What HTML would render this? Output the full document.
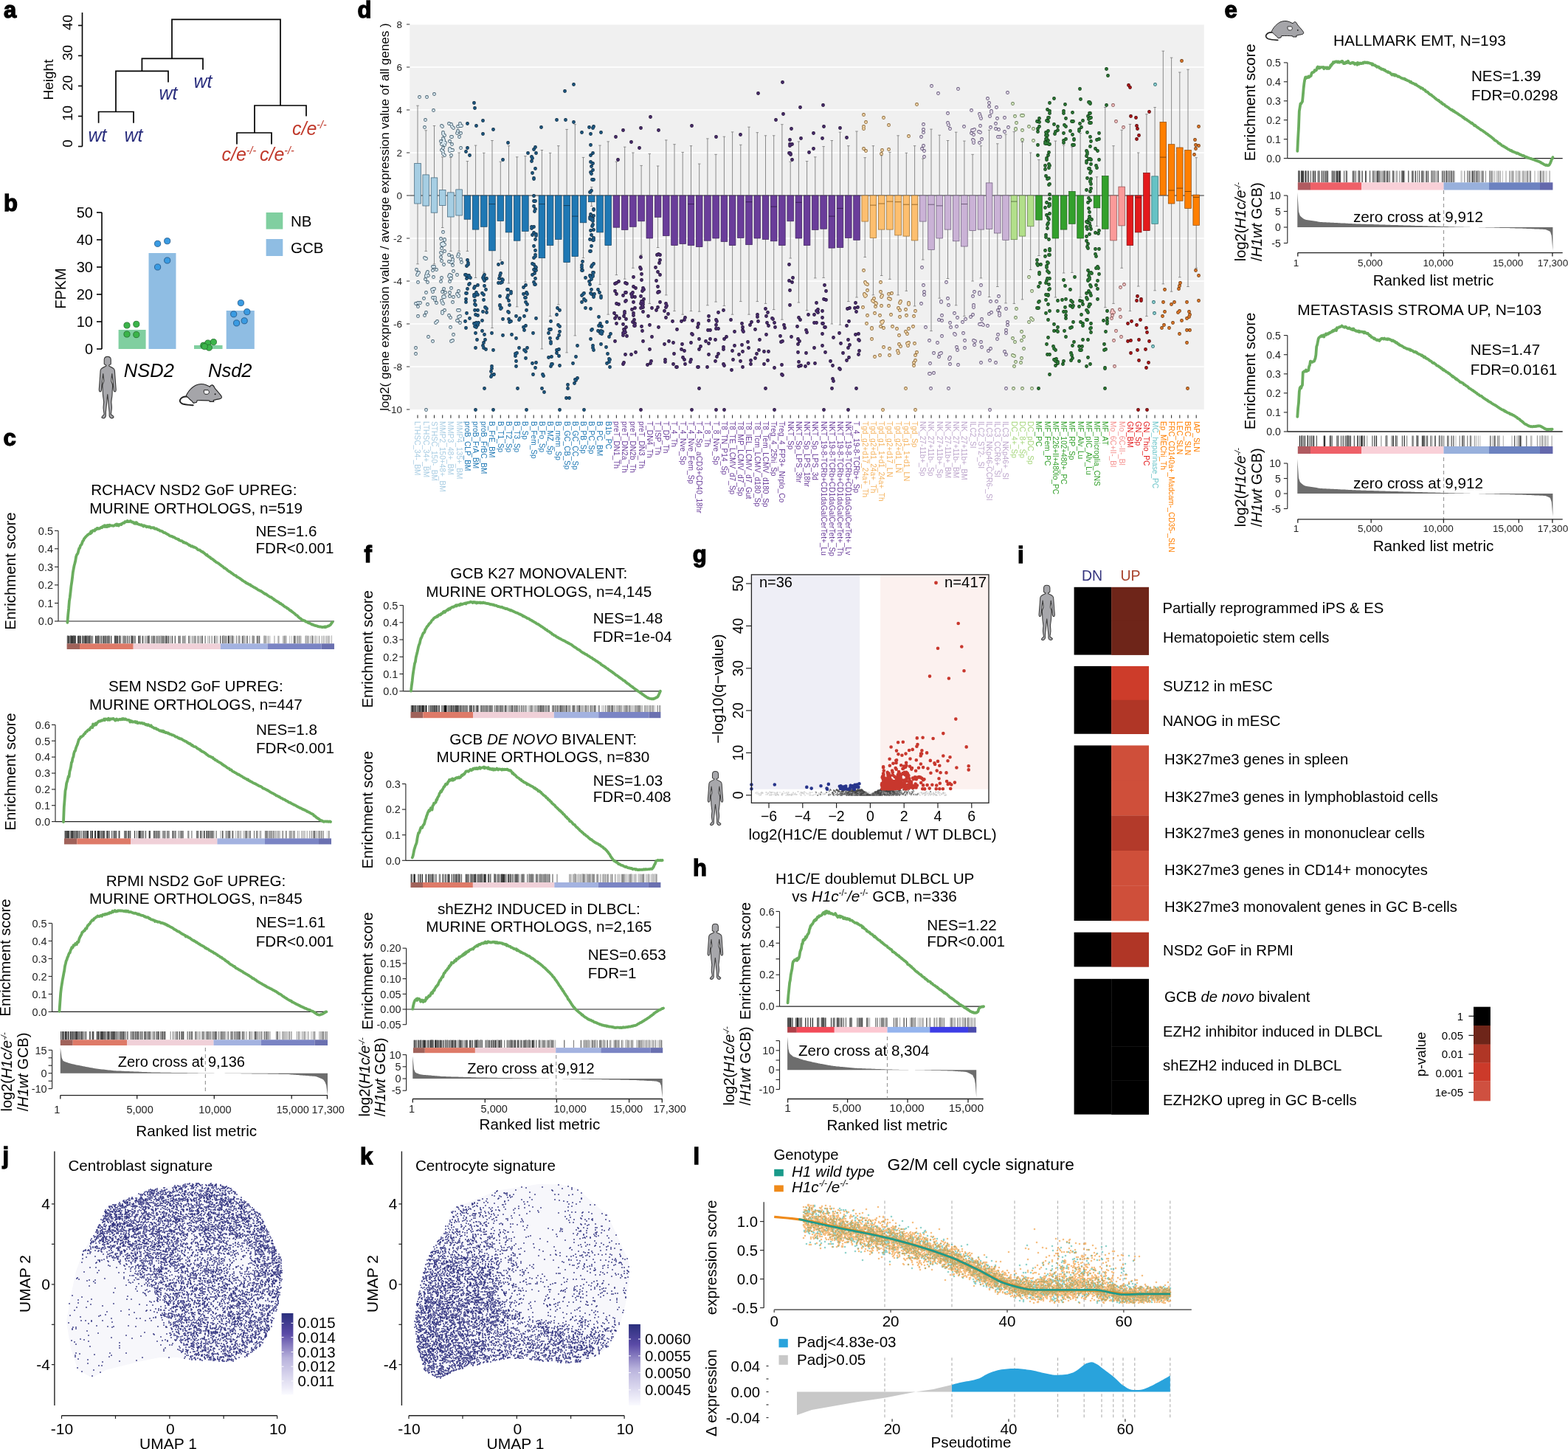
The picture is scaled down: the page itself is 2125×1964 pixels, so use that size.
<!DOCTYPE html>
<html><head><meta charset="utf-8"><title>Figure</title>
<style>
html,body{margin:0;padding:0;background:#fff;width:2125px;height:1964px;overflow:hidden}
svg{display:block}
text{font-family:"Liberation Sans",Arial,Helvetica,sans-serif}
.pl{font-size:31px;font-weight:bold;stroke:#000;stroke-width:1.3px;fill:#000}
</style></head><body>
<svg width="2125" height="1964" viewBox="0 0 2125 1964">
<rect width="2125" height="1964" fill="#fff"/>
<text x="5" y="24" class="pl">a</text>
<path d="M111.5 17L111.5 198.5" stroke="#000" stroke-width="1.6" />
<path d="M106 198.5L111.5 198.5" stroke="#000" stroke-width="1.6" />
<text transform="translate(97.8,194.5) rotate(-90)" font-size="19" text-anchor="middle">0</text>
<path d="M106 157.5L111.5 157.5" stroke="#000" stroke-width="1.6" />
<text transform="translate(97.8,153.5) rotate(-90)" font-size="19" text-anchor="middle">10</text>
<path d="M106 116.5L111.5 116.5" stroke="#000" stroke-width="1.6" />
<text transform="translate(97.8,112.5) rotate(-90)" font-size="19" text-anchor="middle">20</text>
<path d="M106 75.5L111.5 75.5" stroke="#000" stroke-width="1.6" />
<text transform="translate(97.8,71.5) rotate(-90)" font-size="19" text-anchor="middle">30</text>
<path d="M106 34.5L111.5 34.5" stroke="#000" stroke-width="1.6" />
<text transform="translate(97.8,30.5) rotate(-90)" font-size="19" text-anchor="middle">40</text>
<text transform="translate(71.5,108) rotate(-90)" font-size="19" text-anchor="middle">Height</text>
<path d="M233 79.4V26.4H380V143 M192.4 96.4V79.4H275V94.5 M157 151.5V96.4H228V111.5 M133.6 166.7V151.5H181V166.7 M345 180V143H415V157.6 M321 195.5V180H368V195.5" fill="none" stroke="#000" stroke-width="1.7" />
<text x="132" y="191.5" font-size="25" text-anchor="middle" fill="#2b2f7e" font-style="italic">wt</text>
<text x="181" y="191.5" font-size="25" text-anchor="middle" fill="#2b2f7e" font-style="italic">wt</text>
<text x="228" y="135" font-size="25" text-anchor="middle" fill="#2b2f7e" font-style="italic">wt</text>
<text x="275" y="118.5" font-size="25" text-anchor="middle" fill="#2b2f7e" font-style="italic">wt</text>
<text x="300.5" y="218" font-size="25" fill="#c0392b" font-style="italic">c/e<tspan dy="-9" font-size="14">-/-</tspan></text>
<text x="352" y="218" font-size="25" fill="#c0392b" font-style="italic">c/e<tspan dy="-9" font-size="14">-/-</tspan></text>
<text x="396" y="183" font-size="25" fill="#c0392b" font-style="italic">c/e<tspan dy="-9" font-size="14">-/-</tspan></text>
<text x="5" y="286" class="pl">b</text>
<path d="M138 288L138 473" stroke="#000" stroke-width="1.6" />
<path d="M131 473L138 473" stroke="#000" stroke-width="1.6" />
<text x="126" y="480" font-size="20" text-anchor="end">0</text>
<path d="M131 436L138 436" stroke="#000" stroke-width="1.6" />
<text x="126" y="443" font-size="20" text-anchor="end">10</text>
<path d="M131 399L138 399" stroke="#000" stroke-width="1.6" />
<text x="126" y="406" font-size="20" text-anchor="end">20</text>
<path d="M131 362L138 362" stroke="#000" stroke-width="1.6" />
<text x="126" y="369" font-size="20" text-anchor="end">30</text>
<path d="M131 325L138 325" stroke="#000" stroke-width="1.6" />
<text x="126" y="332" font-size="20" text-anchor="end">40</text>
<path d="M131 288L138 288" stroke="#000" stroke-width="1.6" />
<text x="126" y="295" font-size="20" text-anchor="end">50</text>
<text transform="translate(89,391) rotate(-90)" font-size="20" text-anchor="middle">FPKM</text>
<rect x="160.6" y="447" width="37" height="26" fill="#80cfa0" />
<rect x="201.5" y="343" width="37" height="130" fill="#8fbde3" />
<rect x="263" y="468" width="38.5" height="5" fill="#80cfa0" />
<rect x="306.7" y="421" width="38.1" height="52" fill="#8fbde3" />
<circle cx="172" cy="441" r="4.1" fill="#3bb44a" stroke="#1f6b2a" stroke-width="0.8"/><circle cx="184.8" cy="439.4" r="4.1" fill="#3bb44a" stroke="#1f6b2a" stroke-width="0.8"/><circle cx="172" cy="453" r="4.1" fill="#3bb44a" stroke="#1f6b2a" stroke-width="0.8"/><circle cx="184.8" cy="453.6" r="4.1" fill="#3bb44a" stroke="#1f6b2a" stroke-width="0.8"/><circle cx="275.8" cy="468.2" r="4.1" fill="#3bb44a" stroke="#1f6b2a" stroke-width="0.8"/><circle cx="281.8" cy="465" r="4.1" fill="#3bb44a" stroke="#1f6b2a" stroke-width="0.8"/><circle cx="289.4" cy="463.6" r="4.1" fill="#3bb44a" stroke="#1f6b2a" stroke-width="0.8"/><circle cx="283.3" cy="471.2" r="4.1" fill="#3bb44a" stroke="#1f6b2a" stroke-width="0.8"/><circle cx="277.3" cy="469.7" r="4.1" fill="#3bb44a" stroke="#1f6b2a" stroke-width="0.8"/><circle cx="213.6" cy="330.3" r="4.1" fill="#3a9be2" stroke="#1c4f80" stroke-width="0.8"/><circle cx="226.7" cy="326.7" r="4.1" fill="#3a9be2" stroke="#1c4f80" stroke-width="0.8"/><circle cx="226.7" cy="353" r="4.1" fill="#3a9be2" stroke="#1c4f80" stroke-width="0.8"/><circle cx="213.6" cy="362" r="4.1" fill="#3a9be2" stroke="#1c4f80" stroke-width="0.8"/><circle cx="326.4" cy="410.6" r="4.1" fill="#3a9be2" stroke="#1c4f80" stroke-width="0.8"/><circle cx="334.8" cy="422.7" r="4.1" fill="#3a9be2" stroke="#1c4f80" stroke-width="0.8"/><circle cx="316.7" cy="425.8" r="4.1" fill="#3a9be2" stroke="#1c4f80" stroke-width="0.8"/><circle cx="331.2" cy="434.8" r="4.1" fill="#3a9be2" stroke="#1c4f80" stroke-width="0.8"/><circle cx="320.6" cy="437.9" r="4.1" fill="#3a9be2" stroke="#1c4f80" stroke-width="0.8"/>
<rect x="360.6" y="288" width="22.7" height="22.6" fill="#80cfa0" />
<rect x="360.6" y="324" width="22.7" height="23" fill="#8fbde3" />
<text x="394" y="306.5" font-size="20.5">NB</text>
<text x="394" y="343" font-size="20.5">GCB</text>
<text x="167.8" y="510.5" font-size="25.5" font-style="italic">NSD2</text>
<text x="282" y="510.5" font-size="25.5" font-style="italic">Nsd2</text>
<path d="M12.3 0.3C15 0.3 17 1.6 17 4.6L17 10.4C16.2 11.2 15 11.7 14.3 12.1L14.5 13.4C16.5 14.4 19.5 15.3 21.2 17C21.9 17.8 22.3 18.8 22.4 19.8L23.5 35.1L24.3 45C24.4 46.6 23.7 48.3 22.9 48.3C22 48.3 21.2 47.2 21 46.1L20.1 35.1L18.6 23.6C18.2 27 17.6 31 17.6 34C18.5 36 19.6 38 19.5 40.6C19.3 44 18.9 48 18.9 51.6C18.8 55 17.8 59 17.6 62.6C17.8 65.5 18.3 68 18.2 70.8C18 74 17.2 77 17.1 79.1C18.5 80.5 20.5 81.5 21 82.6C20.6 84 19 84.6 17.6 84.4C16.4 84.2 15.3 83 14.8 81.3L14.8 76.3C14.4 72 13.8 67 13.4 62.6C13 58 12.6 54 12.3 51.6C12 54 11.6 58 11.2 62.6C10.8 67 10.2 72 9.8 76.3L9.8 81.3C9.3 83 8.2 84.4 6.7 84.5C5.4 84.5 3.8 84 4.2 82.9C4.8 81.5 6.6 80.3 7.5 79.1C7.4 77 6.6 74 6.4 70.8C6.3 68 6.8 65.5 7 62.6C6.8 59 5.8 55 5.7 51.6C5.7 48 5.3 44 5.1 40.6C5 38 6.1 36 7 34C7 31 6.4 27 6 23.6L4.5 35.1L3.6 46.1C3.4 47.2 2.6 48.3 1.7 48.3C0.9 48.3 0.2 46.6 0.3 45L1.1 35.1L2.2 19.8C2.3 18.8 2.7 17.8 3.4 17C5.1 15.3 8.1 14.4 10.1 13.4L10.3 12.1C9.6 11.7 8.4 11.2 7.6 10.4L7.6 4.6C7.6 1.6 9.6 0.3 12.3 0.3Z" fill="#a7a7ab" stroke="#3c3c3c" stroke-width="1.2" transform="translate(134,483) scale(0.9553,0.9929)"/>
<g transform="translate(243.2,520) scale(1.0000,1.0000)"><path d="M11 17.6C7 17.2 2.5 18.6 0.9 21.8C0 24 1.5 26.4 4.5 27.5C9 28.8 14 29 18.5 29.3" fill="none" stroke="#222" stroke-width="1.9" stroke-linecap="round"/><path d="M9 16.5C11 12 15 6 22 2.2C26 0.4 31 -0.2 36 1.8C38 2.8 40 3.8 41.2 4.2C41.8 2.6 43 1.8 44.2 1.9C45.6 2 46.6 3 47.6 5.6C50 9 54 12.6 56.6 16.6C57.4 17.8 57.4 19.4 56.2 20C54.5 20.8 52.5 21.2 50.5 21.4L46 22.6L46.6 24.4L41 24.4L40.6 23C36 22.8 30 22.4 24 22.8L23.2 25.4L19 26.4L17 23.8C15 22.5 13.4 21 12 19.2C11 18.2 9.6 17.4 9 16.5Z" fill="#a5a5a9" stroke="#222" stroke-width="1.1"/><path d="M33.4 8.7L38.9 8.7C39.8 9.8 40.4 11 40.2 12.1C39.8 13.6 38.5 14.4 37 14.4L34.4 14.2C33.6 13 33 11.8 33.1 11C33 10.2 33.1 9.4 33.4 8.7Z" fill="#f2f2f4" stroke="#222" stroke-width="1"/><circle cx="48.4" cy="14.3" r="0.95" fill="#111"/></g>
<text x="4.4" y="604" class="pl">c</text>
<text x="262.8" y="671" font-size="20.7" text-anchor="middle">RCHACV NSD2 GoF UPREG:</text>
<text x="265.7" y="696" font-size="20.7" text-anchor="middle">MURINE ORTHOLOGS, n=519</text>
<path d="M79 719.3L79 842" stroke="#222" stroke-width="1.1" />
<path d="M74 842L79 842" stroke="#222" stroke-width="1.1" />
<text x="72" y="847.2" font-size="14.5" text-anchor="end" fill="#222">0.0</text>
<path d="M74 817.5L79 817.5" stroke="#222" stroke-width="1.1" />
<text x="72" y="822.7" font-size="14.5" text-anchor="end" fill="#222">0.1</text>
<path d="M74 792.9L79 792.9" stroke="#222" stroke-width="1.1" />
<text x="72" y="798.1" font-size="14.5" text-anchor="end" fill="#222">0.2</text>
<path d="M74 768.4L79 768.4" stroke="#222" stroke-width="1.1" />
<text x="72" y="773.6" font-size="14.5" text-anchor="end" fill="#222">0.3</text>
<path d="M74 743.8L79 743.8" stroke="#222" stroke-width="1.1" />
<text x="72" y="749.1" font-size="14.5" text-anchor="end" fill="#222">0.4</text>
<path d="M74 719.3L79 719.3" stroke="#222" stroke-width="1.1" />
<text x="72" y="724.5" font-size="14.5" text-anchor="end" fill="#222">0.5</text>
<path d="M79 842L453 842" stroke="#222" stroke-width="1.2" />
<text transform="translate(21,774) rotate(-90)" font-size="20.5" text-anchor="middle">Enrichment score</text>
<path d="M91.4 843.9L92.2 833.5L93.1 825L93.9 814.7L94.7 810L95.6 802.3L96.4 794.8L97.3 788.7L98.1 782.4L98.9 775.3L99.8 770.6L100.6 766.4L101.4 763.5L102.3 759.7L103.1 754.6L104 752L104.8 751.1L105.6 749.6L106.5 745.9L107.3 743.2L108.1 742.8L109 739.6L109.8 738.7L110.7 737.7L111.5 735.2L112.3 733.2L113.2 732.4L114 730L114.8 729.4L115.7 728.1L116.5 727.5L117.3 726.3L118.2 725.8L119 724.8L119.9 724.4L120.7 723.7L121.5 723.2L122.4 723.4L123.2 720.4L124 722.1L124.9 720.3L125.7 719.1L126.6 719.4L127.4 719.2L128.2 719.5L129.1 717.5L129.9 718L130.7 717.5L131.6 715.8L132.4 715.8L133.3 716.8L134.1 716.5L134.9 716.4L135.8 715.7L136.6 715.2L137.4 714.7L138.3 715.2L139.1 713.5L139.9 713.7L140.8 713.8L141.6 712.2L142.5 714L143.3 712.4L144.1 712.7L145 714.1L145.8 712L146.6 712.1L147.5 713.4L148.3 711.6L149.2 711.9L150 712.5L150.8 712.4L151.7 712.4L152.5 712.3L153.3 712.8L154.2 712.6L155 712.3L155.9 711.5L156.7 711.4L157.5 710.6L158.4 712.2L159.2 710.6L160 712.1L160.9 712.6L161.7 710.8L162.6 710.9L163.4 710.7L164.2 711.1L165.1 709.7L165.9 709.7L166.7 708.9L167.6 708.6L168.4 708.9L169.2 707.2L170.1 707.4L170.9 707.1L171.8 707.2L172.6 705.9L173.4 707.1L174.3 706.8L175.1 707.1L175.9 706.8L176.8 706L177.6 706.7L178.5 707.7L179.3 707.5L180.1 707.7L181 708.9L181.8 709.3L182.6 708.5L183.5 709.8L184.3 708.1L185.2 708.4L186 710.1L186.8 709.9L187.7 710.6L188.5 710.9L189.3 710.9L190.2 711.6L191 711.6L191.8 711.1L192.7 712.2L193.5 712.4L194.4 713.4L195.2 712.2L196 712.9L196.9 712.9L197.7 713.3L198.5 714.3L199.4 713.9L200.2 713.7L201.1 714.1L201.9 714.6L202.7 714L203.6 714.5L204.4 715.5L205.2 715.4L206.1 715.2L206.9 715.2L207.8 715.6L208.6 715.3L209.4 716.6L210.3 716.6L211.1 716.8L211.9 716.5L212.8 717.1L213.6 717.9L214.4 718.2L215.3 718.2L216.1 719L217 719.6L217.8 719.3L218.6 719.8L219.5 720.1L220.3 720.4L221.1 721.5L222 721.8L222.8 722.2L223.7 722L224.5 722.5L225.3 723.3L226.2 723.6L227 724.2L227.8 724.3L228.7 725.2L229.5 726L230.4 726.3L231.2 726.7L232 726.6L232.9 727.3L233.7 727.2L234.5 728.1L235.4 728L236.2 728.4L237 728.8L237.9 729.7L238.7 729.9L239.6 730.3L240.4 730.3L241.2 731.1L242.1 731L242.9 732.4L243.7 732.3L244.6 732.8L245.4 733.2L246.3 733.1L247.1 733.6L247.9 734.4L248.8 735.4L249.6 734.9L250.4 735.5L251.3 736.1L252.1 736L253 736.4L253.8 737.2L254.6 737.7L255.5 738L256.3 739.1L257.1 738.9L258 739.5L258.8 740.3L259.6 740.7L260.5 740.1L261.3 740.9L262.2 741.7L263 741.4L263.8 741.9L264.7 742.2L265.5 742.7L266.3 743.2L267.2 744L268 744.8L268.9 745.4L269.7 745.4L270.5 745.3L271.4 746.4L272.2 746.8L273 747.5L273.9 747.9L274.7 748L275.6 749.2L276.4 749.1L277.2 750.1L278.1 751L278.9 751.6L279.7 752.5L280.6 752L281.4 753.4L282.3 754.1L283.1 754.4L283.9 755.3L284.8 755.4L285.6 756.6L286.4 757.1L287.3 757.3L288.1 758L288.9 758.7L289.8 759.2L290.6 760.2L291.5 760.6L292.3 761.5L293.1 762.1L294 762.3L294.8 762.9L295.6 763.3L296.5 763.9L297.3 764.5L298.2 765.4L299 765.7L299.8 766.6L300.7 767.2L301.5 767.6L302.3 768.3L303.2 769.3L304 770L304.9 770L305.7 770.7L306.5 771.3L307.4 771.9L308.2 773L309 773.4L309.9 774.1L310.7 774.8L311.5 774.9L312.4 775.5L313.2 776.2L314.1 777L314.9 777.3L315.7 778.1L316.6 778.8L317.4 779.4L318.2 779.8L319.1 780.1L319.9 780.4L320.8 781.7L321.6 782.1L322.4 782.3L323.3 783L324.1 783.5L324.9 783.8L325.8 784.8L326.6 785.1L327.5 785.8L328.3 786.6L329.1 786.9L330 787.6L330.8 788.1L331.6 788.5L332.5 789L333.3 790L334.1 790L335 790.9L335.8 790.8L336.7 791.7L337.5 792.1L338.3 792.4L339.2 792.4L340 793.9L340.8 793.8L341.7 794.3L342.5 795.1L343.4 795.5L344.2 796.1L345 796.4L345.9 796.6L346.7 797.7L347.5 797.7L348.4 798.5L349.2 799L350.1 799.7L350.9 799.8L351.7 800.3L352.6 800.8L353.4 800.9L354.2 801.7L355.1 802.1L355.9 802.6L356.7 803.4L357.6 803.8L358.4 804.7L359.3 805.2L360.1 804.9L360.9 805.9L361.8 806.1L362.6 807L363.4 807.4L364.3 808.1L365.1 808.5L366 809.2L366.8 809.4L367.6 809.5L368.5 810.3L369.3 810.9L370.1 811.5L371 812L371.8 813.1L372.7 813.2L373.5 814.1L374.3 814.3L375.2 815.2L376 815.2L376.8 816.1L377.7 816.2L378.5 817.2L379.3 818L380.2 817.8L381 818.5L381.9 819.3L382.7 819.8L383.5 820.1L384.4 821.2L385.2 821.6L386 822.4L386.9 822.8L387.7 823L388.6 823.7L389.4 824.7L390.2 824.7L391.1 825.5L391.9 826.3L392.7 827L393.6 827.5L394.4 827.6L395.3 829L396.1 829.2L396.9 829.9L397.8 830.6L398.6 831.2L399.4 831.8L400.3 832.6L401.1 833.7L402 833.8L402.8 834.3L403.6 835.6L404.5 836.2L405.3 837L406.1 837.8L407 838L407.8 838.8L408.6 839.4L409.5 840.1L410.3 840.6L411.2 840.7L412 841L412.8 841.6L413.7 841.7L414.5 842.7L415.3 842.7L416.2 843.1L417 843.4L417.9 844.3L418.7 844.4L419.5 844.7L420.4 845.2L421.2 845.5L422 846L422.9 846.5L423.7 846.5L424.6 847L425.4 847.3L426.2 847.7L427.1 847.9L427.9 848.1L428.7 848.2L429.6 848.7L430.4 848.6L431.2 849.2L432.1 849.3L432.9 849.5L433.8 849.5L434.6 849.6L435.4 849.7L436.3 850.2L437.1 850L437.9 850L438.8 849.7L439.6 850.1L440.5 849.3L441.3 850.1L442.1 849.6L443 849.4L443.8 848.8L444.6 848.5L445.5 848.5L446.3 847.9L447.2 847.4L448 846.7L448.8 845.6L449.7 844L450.5 843.3" fill="none" stroke="#6aad5e" stroke-width="3.8" stroke-linejoin="round" stroke-linecap="round"/>
<text x="346.5" y="726.7" font-size="20.6">NES=1.6</text>
<text x="346.5" y="749.5" font-size="20.6">FDR&lt;0.001</text>
<path d="M91.9 861.7V872.3M92.3 861.7V872.3M95.5 861.7V872.3M96.2 861.7V872.3M96.7 861.7V872.3M97.5 861.7V872.3M99.5 861.7V872.3M100.3 861.7V872.3M100.7 861.7V872.3M101.6 861.7V872.3M101.7 861.7V872.3M122.1 861.7V872.3M132.6 861.7V872.3M137 861.7V872.3M143.6 861.7V872.3M155.5 861.7V872.3M168.1 861.7V872.3M178.1 861.7V872.3M188.4 861.7V872.3M193.6 861.7V872.3M201.2 861.7V872.3M309.5 861.7V872.3" stroke="rgb(16,16,16)" stroke-width="1.1"/>
<path d="M106.6 861.7V872.3M108.3 861.7V872.3M115.9 861.7V872.3M123.9 861.7V872.3M129.7 861.7V872.3M150.7 861.7V872.3M158.3 861.7V872.3M162.8 861.7V872.3M162.8 861.7V872.3M179.6 861.7V872.3M220.9 861.7V872.3M233.3 861.7V872.3M310.1 861.7V872.3" stroke="rgb(32,32,32)" stroke-width="1.1"/>
<path d="M96.8 861.7V872.3M97.2 861.7V872.3M98.4 861.7V872.3M99.3 861.7V872.3M100.1 861.7V872.3M101.2 861.7V872.3M102.6 861.7V872.3M105.6 861.7V872.3M111.8 861.7V872.3M116.3 861.7V872.3M121.3 861.7V872.3M122 861.7V872.3M130.2 861.7V872.3M133.1 861.7V872.3M159.7 861.7V872.3M162.1 861.7V872.3M170.4 861.7V872.3M177.5 861.7V872.3M202.3 861.7V872.3M209.2 861.7V872.3M242.2 861.7V872.3M251.4 861.7V872.3M301.8 861.7V872.3M343.1 861.7V872.3" stroke="rgb(48,48,48)" stroke-width="1.1"/>
<path d="M93.6 861.7V872.3M95.2 861.7V872.3M97.8 861.7V872.3M99.9 861.7V872.3M108.2 861.7V872.3M115.4 861.7V872.3M116.2 861.7V872.3M117.6 861.7V872.3M119 861.7V872.3M122.2 861.7V872.3M133.8 861.7V872.3M140 861.7V872.3M140.6 861.7V872.3M145.3 861.7V872.3M147.2 861.7V872.3M156.7 861.7V872.3M179.2 861.7V872.3M190.3 861.7V872.3M218.1 861.7V872.3M237.3 861.7V872.3M274.2 861.7V872.3M290.6 861.7V872.3M314.7 861.7V872.3M320.4 861.7V872.3M329.8 861.7V872.3" stroke="rgb(64,64,64)" stroke-width="1.1"/>
<path d="M91.6 861.7V872.3M92.1 861.7V872.3M95.3 861.7V872.3M112.1 861.7V872.3M113.8 861.7V872.3M119.2 861.7V872.3M120.9 861.7V872.3M155.7 861.7V872.3M156.9 861.7V872.3M168.3 861.7V872.3M175.3 861.7V872.3M187.8 861.7V872.3M207.1 861.7V872.3M211.8 861.7V872.3M224.3 861.7V872.3M225.5 861.7V872.3M228.5 861.7V872.3M247.8 861.7V872.3M264.9 861.7V872.3M342.4 861.7V872.3M348.3 861.7V872.3M351.7 861.7V872.3M358.2 861.7V872.3M414.7 861.7V872.3M417.2 861.7V872.3M422.6 861.7V872.3" stroke="rgb(80,80,80)" stroke-width="1.1"/>
<path d="M91.3 861.7V872.3M91.6 861.7V872.3M95.7 861.7V872.3M99.8 861.7V872.3M107 861.7V872.3M107.2 861.7V872.3M109.5 861.7V872.3M111.7 861.7V872.3M114.2 861.7V872.3M118.2 861.7V872.3M120.1 861.7V872.3M134.2 861.7V872.3M142.1 861.7V872.3M147.2 861.7V872.3M148.4 861.7V872.3M158 861.7V872.3M162.9 861.7V872.3M173 861.7V872.3M189.1 861.7V872.3M200 861.7V872.3M202 861.7V872.3M218.6 861.7V872.3M224.7 861.7V872.3M262.9 861.7V872.3M274.2 861.7V872.3M278.1 861.7V872.3M292.7 861.7V872.3M298.5 861.7V872.3M302.2 861.7V872.3M311.8 861.7V872.3M314.7 861.7V872.3M315.2 861.7V872.3M328.3 861.7V872.3M330.4 861.7V872.3M335.4 861.7V872.3M349.8 861.7V872.3M385.7 861.7V872.3M399.2 861.7V872.3M403.6 861.7V872.3M423.3 861.7V872.3M423.9 861.7V872.3M438.9 861.7V872.3" stroke="rgb(96,96,96)" stroke-width="1.1"/>
<path d="M102 861.7V872.3M131.8 861.7V872.3M133.5 861.7V872.3M141.7 861.7V872.3M146.2 861.7V872.3M147.8 861.7V872.3M172.7 861.7V872.3M182 861.7V872.3M196.8 861.7V872.3M205.2 861.7V872.3M208.3 861.7V872.3M214.9 861.7V872.3M219.9 861.7V872.3M222.4 861.7V872.3M226.3 861.7V872.3M244.2 861.7V872.3M249.6 861.7V872.3M249.7 861.7V872.3M255.6 861.7V872.3M267.9 861.7V872.3M272 861.7V872.3M298.9 861.7V872.3M306.5 861.7V872.3M313 861.7V872.3M315.1 861.7V872.3M323.9 861.7V872.3M360.7 861.7V872.3M398.3 861.7V872.3M398.9 861.7V872.3M449.4 861.7V872.3" stroke="rgb(112,112,112)" stroke-width="1.1"/>
<path d="M118.2 861.7V872.3M125.6 861.7V872.3M138.1 861.7V872.3M161.6 861.7V872.3M165.7 861.7V872.3M180.9 861.7V872.3M183.5 861.7V872.3M190.8 861.7V872.3M202.5 861.7V872.3M213.6 861.7V872.3M216.4 861.7V872.3M230.7 861.7V872.3M244.1 861.7V872.3M260.5 861.7V872.3M302.9 861.7V872.3M303.7 861.7V872.3M323.8 861.7V872.3M324.9 861.7V872.3M377.1 861.7V872.3M387.7 861.7V872.3M406.4 861.7V872.3M415.2 861.7V872.3M446 861.7V872.3" stroke="rgb(128,128,128)" stroke-width="1.1"/>
<path d="M142.8 861.7V872.3M177.6 861.7V872.3M181.9 861.7V872.3M199 861.7V872.3M227.2 861.7V872.3M256.7 861.7V872.3M269.6 861.7V872.3M283.8 861.7V872.3M284 861.7V872.3M302.6 861.7V872.3M304.4 861.7V872.3M311 861.7V872.3M311.4 861.7V872.3M331.2 861.7V872.3M344.7 861.7V872.3M359.4 861.7V872.3M363.4 861.7V872.3M385.1 861.7V872.3M387.1 861.7V872.3M423.2 861.7V872.3M432.5 861.7V872.3" stroke="rgb(144,144,144)" stroke-width="1.1"/>
<path d="M122.7 861.7V872.3M139.3 861.7V872.3M251.5 861.7V872.3M257.2 861.7V872.3M287.5 861.7V872.3M292.4 861.7V872.3M295 861.7V872.3M303.7 861.7V872.3M303.8 861.7V872.3M313.2 861.7V872.3M316.9 861.7V872.3M324.2 861.7V872.3M331.2 861.7V872.3M334.7 861.7V872.3M338.5 861.7V872.3M341.9 861.7V872.3M343.1 861.7V872.3M358.1 861.7V872.3M400.6 861.7V872.3M405.2 861.7V872.3M406.7 861.7V872.3M427.4 861.7V872.3M436.3 861.7V872.3M443 861.7V872.3" stroke="rgb(160,160,160)" stroke-width="1.1"/>
<path d="M135.8 861.7V872.3M165.6 861.7V872.3M190.1 861.7V872.3M215 861.7V872.3M281.7 861.7V872.3M303.1 861.7V872.3M305.4 861.7V872.3M308.6 861.7V872.3M320.8 861.7V872.3M333.2 861.7V872.3M350.3 861.7V872.3M358.1 861.7V872.3M365.6 861.7V872.3M371.8 861.7V872.3M383.6 861.7V872.3M408 861.7V872.3M413.9 861.7V872.3M418 861.7V872.3M420.4 861.7V872.3M427.6 861.7V872.3M429.6 861.7V872.3M444.8 861.7V872.3" stroke="rgb(176,176,176)" stroke-width="1.1"/>
<path d="M286.6 861.7V872.3M308.3 861.7V872.3M313.9 861.7V872.3M359.9 861.7V872.3M386.7 861.7V872.3M392.6 861.7V872.3M395.2 861.7V872.3M395.3 861.7V872.3M416.3 861.7V872.3M441.6 861.7V872.3M446 861.7V872.3M449.6 861.7V872.3" stroke="rgb(192,192,192)" stroke-width="1.1"/>
<path d="M217.8 861.7V872.3M258.2 861.7V872.3M312 861.7V872.3M322.8 861.7V872.3M330.4 861.7V872.3M372.3 861.7V872.3M378.6 861.7V872.3M401.5 861.7V872.3M402.8 861.7V872.3M402.8 861.7V872.3M415.1 861.7V872.3M422.1 861.7V872.3M426.3 861.7V872.3M439 861.7V872.3M443.6 861.7V872.3M449.1 861.7V872.3" stroke="rgb(208,208,208)" stroke-width="1.1"/>
<rect x="90.6" y="872.3" width="17.4" height="7.7" fill="#a0625a" />
<rect x="108" y="872.3" width="72.7" height="7.7" fill="#de7a68" />
<rect x="180.7" y="872.3" width="118.1" height="7.7" fill="#f0d0d8" />
<rect x="298.8" y="872.3" width="63.8" height="7.7" fill="#a3b2e0" />
<rect x="362.6" y="872.3" width="73" height="7.7" fill="#7a84c4" />
<rect x="435.6" y="872.3" width="17.4" height="7.7" fill="#6a70b0" />
<text x="265.4" y="937" font-size="20.7" text-anchor="middle">SEM NSD2 GoF UPREG:</text>
<text x="265.4" y="962" font-size="20.7" text-anchor="middle">MURINE ORTHOLOGS, n=447</text>
<path d="M75 982.4L75 1113.6" stroke="#222" stroke-width="1.1" />
<path d="M70 1113.6L75 1113.6" stroke="#222" stroke-width="1.1" />
<text x="68" y="1118.8" font-size="14.5" text-anchor="end" fill="#222">0.0</text>
<path d="M70 1091.7L75 1091.7" stroke="#222" stroke-width="1.1" />
<text x="68" y="1097" font-size="14.5" text-anchor="end" fill="#222">0.1</text>
<path d="M70 1069.9L75 1069.9" stroke="#222" stroke-width="1.1" />
<text x="68" y="1075.1" font-size="14.5" text-anchor="end" fill="#222">0.2</text>
<path d="M70 1048L75 1048" stroke="#222" stroke-width="1.1" />
<text x="68" y="1053.2" font-size="14.5" text-anchor="end" fill="#222">0.3</text>
<path d="M70 1026.1L75 1026.1" stroke="#222" stroke-width="1.1" />
<text x="68" y="1031.3" font-size="14.5" text-anchor="end" fill="#222">0.4</text>
<path d="M70 1004.2L75 1004.2" stroke="#222" stroke-width="1.1" />
<text x="68" y="1009.5" font-size="14.5" text-anchor="end" fill="#222">0.5</text>
<path d="M70 982.4L75 982.4" stroke="#222" stroke-width="1.1" />
<text x="68" y="987.6" font-size="14.5" text-anchor="end" fill="#222">0.6</text>
<path d="M75 1113.6L448 1113.6" stroke="#222" stroke-width="1.2" />
<text transform="translate(21,1046) rotate(-90)" font-size="20.5" text-anchor="middle">Enrichment score</text>
<path d="M86 1114.1L86.8 1093.8L87.7 1082.8L88.5 1071.9L89.3 1068.5L90.2 1061.5L91 1059.4L91.9 1056.1L92.7 1052.3L93.5 1052.9L94.4 1045.8L95.2 1043L96 1039.7L96.9 1033.6L97.7 1032.4L98.5 1027.7L99.4 1025.8L100.2 1021.2L101 1018.4L101.9 1017.9L102.7 1014.7L103.6 1012L104.4 1010.3L105.2 1008.2L106.1 1004.9L106.9 1002.4L107.7 1001.6L108.6 1000.2L109.4 998.7L110.2 999L111.1 998.1L111.9 997.6L112.8 996.9L113.6 995.5L114.4 994.7L115.3 994.1L116.1 992.4L116.9 991.8L117.8 991.5L118.6 990.1L119.4 989.4L120.3 988.9L121.1 989.3L121.9 987.7L122.8 986.4L123.6 985.5L124.5 985.1L125.3 986.2L126.1 981.4L127 983.6L127.8 982.7L128.6 982.6L129.5 980.4L130.3 982.2L131.1 980.7L132 979.4L132.8 978.9L133.7 977.7L134.5 977.8L135.3 977.2L136.2 977.5L137 976.8L137.8 976.2L138.7 976.6L139.5 976.3L140.3 975.9L141.2 974.6L142 976.2L142.8 974.6L143.7 974.5L144.5 975L145.4 975.3L146.2 975.8L147 973.8L147.9 975.7L148.7 975.8L149.5 974.4L150.4 974.6L151.2 974.4L152 974.5L152.9 974.1L153.7 974L154.6 975.1L155.4 975.5L156.2 976.6L157.1 975L157.9 974.5L158.7 975.9L159.6 975.5L160.4 976L161.2 975.5L162.1 974.8L162.9 974.9L163.8 975.5L164.6 975L165.4 974.2L166.3 975.2L167.1 974L167.9 974.6L168.8 975.1L169.6 974.4L170.4 974.6L171.3 975.5L172.1 975.7L172.9 975.8L173.8 975.9L174.6 975.9L175.5 976.3L176.3 978.5L177.1 976.9L178 978.2L178.8 977.4L179.6 978.6L180.5 978.7L181.3 978.5L182.1 978.2L183 978L183.8 979.3L184.7 978.4L185.5 978.5L186.3 980L187.2 980.1L188 979.6L188.8 979.7L189.7 979.6L190.5 980.3L191.3 980L192.2 979.7L193 980.3L193.8 980.9L194.7 980.3L195.5 980.7L196.4 981.4L197.2 982.3L198 981.9L198.9 982.1L199.7 983.1L200.5 982.1L201.4 982.5L202.2 983.5L203 984L203.9 984.1L204.7 983.2L205.6 985.1L206.4 985.5L207.2 985.6L208.1 986.4L208.9 987.1L209.7 987L210.6 987.1L211.4 987.1L212.2 988.4L213.1 988.5L213.9 988.9L214.7 989.1L215.6 990L216.4 990.5L217.3 990.7L218.1 990.3L218.9 991.4L219.8 991.4L220.6 990.6L221.4 992L222.3 991.3L223.1 991.9L223.9 993L224.8 993.1L225.6 992.9L226.5 993.2L227.3 993.9L228.1 993.5L229 994.6L229.8 994.7L230.6 995.4L231.5 995.4L232.3 995.4L233.1 996.3L234 996.4L234.8 996.4L235.6 996.9L236.5 997.3L237.3 998.1L238.2 998.7L239 998.8L239.8 998.8L240.7 999.5L241.5 1000.2L242.3 1000.8L243.2 1000.5L244 1001.3L244.8 1001.5L245.7 1001.3L246.5 1002L247.4 1002.7L248.2 1003.2L249 1003.6L249.9 1004L250.7 1004.7L251.5 1004.7L252.4 1005L253.2 1006.1L254 1006.2L254.9 1007.1L255.7 1007.1L256.5 1008.2L257.4 1007.9L258.2 1008.4L259.1 1009.5L259.9 1010.3L260.7 1010L261.6 1011.2L262.4 1011.7L263.2 1012L264.1 1012.2L264.9 1012.1L265.7 1012.8L266.6 1013.6L267.4 1014.5L268.3 1014.8L269.1 1015.2L269.9 1015.9L270.8 1015.9L271.6 1017.1L272.4 1017.2L273.3 1018.4L274.1 1018.6L274.9 1018.9L275.8 1019.5L276.6 1019.7L277.5 1020.7L278.3 1020.9L279.1 1021.7L280 1022.6L280.8 1022.9L281.6 1023.5L282.5 1024.6L283.3 1024.6L284.1 1025.3L285 1025.4L285.8 1025.7L286.6 1026.6L287.5 1026.7L288.3 1026.7L289.2 1028.3L290 1028.7L290.8 1028.9L291.7 1030.1L292.5 1030.3L293.3 1030.7L294.2 1031.1L295 1032.2L295.8 1032.3L296.7 1032.9L297.5 1033.4L298.4 1033.9L299.2 1034.2L300 1035L300.9 1035.5L301.7 1036.5L302.5 1036.5L303.4 1037.6L304.2 1037.9L305 1038.3L305.9 1039L306.7 1039.6L307.5 1040.2L308.4 1040.9L309.2 1041.3L310.1 1041.4L310.9 1042.2L311.7 1043.3L312.6 1043.4L313.4 1043.3L314.2 1044.5L315.1 1045.4L315.9 1045.8L316.7 1046L317.6 1046.6L318.4 1047.2L319.3 1047.5L320.1 1047.9L320.9 1048.9L321.8 1048.9L322.6 1049.8L323.4 1049.6L324.3 1050.3L325.1 1050.7L325.9 1051.5L326.8 1051.8L327.6 1052.2L328.4 1052.6L329.3 1053.4L330.1 1054L331 1054.1L331.8 1054.9L332.6 1055.2L333.5 1055.5L334.3 1056.2L335.1 1056.9L336 1056.4L336.8 1057.6L337.6 1058.3L338.5 1058.3L339.3 1059L340.2 1059.5L341 1059.8L341.8 1060.2L342.7 1060.9L343.5 1061.3L344.3 1061.5L345.2 1062.1L346 1062.1L346.8 1062.8L347.7 1063.3L348.5 1063.7L349.3 1064L350.2 1064.9L351 1065.1L351.9 1065.6L352.7 1065.6L353.5 1066.2L354.4 1066.7L355.2 1067.2L356 1068.1L356.9 1068.7L357.7 1068.7L358.5 1069.2L359.4 1069.5L360.2 1069.9L361.1 1070.6L361.9 1070.8L362.7 1071.1L363.6 1072L364.4 1072.2L365.2 1072.8L366.1 1073.3L366.9 1073.9L367.7 1074.3L368.6 1074.8L369.4 1075L370.2 1075.5L371.1 1076.1L371.9 1076.5L372.8 1077L373.6 1077.5L374.4 1078.3L375.3 1078.3L376.1 1078.9L376.9 1079.3L377.8 1080L378.6 1080L379.4 1080.4L380.3 1081.4L381.1 1081.7L382 1082.1L382.8 1082.3L383.6 1083.2L384.5 1083.5L385.3 1083.7L386.1 1084.2L387 1084.6L387.8 1085.5L388.6 1085.7L389.5 1085.9L390.3 1086.5L391.2 1087.3L392 1087.6L392.8 1087.8L393.7 1088.1L394.5 1088.7L395.3 1089.3L396.2 1089.6L397 1090L397.8 1090.6L398.7 1090.9L399.5 1091.2L400.3 1091.6L401.2 1092.1L402 1092.6L402.9 1093.2L403.7 1093.6L404.5 1093.8L405.4 1094.6L406.2 1094.6L407 1095.4L407.9 1095.4L408.7 1095.9L409.5 1096.6L410.4 1097L411.2 1097L412.1 1097.6L412.9 1097.8L413.7 1098.4L414.6 1098.9L415.4 1099.1L416.2 1100L417.1 1100.2L417.9 1100.6L418.7 1100.8L419.6 1101.3L420.4 1101.9L421.2 1102.4L422.1 1102.9L422.9 1103.1L423.8 1103.6L424.6 1104.1L425.4 1105.4L426.3 1105.8L427.1 1106.5L427.9 1106.9L428.8 1108L429.6 1108.4L430.4 1109L431.3 1109.5L432.1 1109.9L433 1110.9L433.8 1111.4L434.6 1111.9L435.5 1112.1L436.3 1112.3L437.1 1112.8L438 1113.5L438.8 1113.9L439.6 1113.5L440.5 1113.5L441.3 1113.3L442.1 1113.4L443 1113.7L443.8 1113.4L444.7 1113.6L445.5 1113.8L446.3 1113.6L447.2 1113.4L448 1113.9" fill="none" stroke="#6aad5e" stroke-width="3.8" stroke-linejoin="round" stroke-linecap="round"/>
<text x="347" y="996" font-size="20.6">NES=1.8</text>
<text x="347" y="1021" font-size="20.6">FDR&lt;0.001</text>
<path d="M88.3 1126V1136.4M88.9 1126V1136.4M89.5 1126V1136.4M91.4 1126V1136.4M101.2 1126V1136.4M105 1126V1136.4M114.1 1126V1136.4M118.3 1126V1136.4M119.4 1126V1136.4M123.7 1126V1136.4M128.7 1126V1136.4M132.5 1126V1136.4M134 1126V1136.4M138.5 1126V1136.4M140.9 1126V1136.4M141.2 1126V1136.4M145.9 1126V1136.4M173.6 1126V1136.4M189.1 1126V1136.4M190 1126V1136.4M191.8 1126V1136.4M202.3 1126V1136.4M210.1 1126V1136.4M211.9 1126V1136.4M214.3 1126V1136.4M234.5 1126V1136.4M237.9 1126V1136.4M425.1 1126V1136.4M438.4 1126V1136.4" stroke="rgb(16,16,16)" stroke-width="1.1"/>
<path d="M93.6 1126V1136.4M96.9 1126V1136.4M97.8 1126V1136.4M98.4 1126V1136.4M107.8 1126V1136.4M116.1 1126V1136.4M125.5 1126V1136.4M129.7 1126V1136.4M133.5 1126V1136.4M154.6 1126V1136.4M168.9 1126V1136.4M227.3 1126V1136.4M287.6 1126V1136.4M348.2 1126V1136.4M362.1 1126V1136.4" stroke="rgb(32,32,32)" stroke-width="1.1"/>
<path d="M92.8 1126V1136.4M103.9 1126V1136.4M116.3 1126V1136.4M134.2 1126V1136.4M135.9 1126V1136.4M137.6 1126V1136.4M140.3 1126V1136.4M146.6 1126V1136.4M157.7 1126V1136.4M171.1 1126V1136.4M176.7 1126V1136.4M182.6 1126V1136.4M187.9 1126V1136.4M191.6 1126V1136.4M193.5 1126V1136.4M193.9 1126V1136.4M197.1 1126V1136.4M212.3 1126V1136.4M214.5 1126V1136.4M222.5 1126V1136.4M255.9 1126V1136.4M280.4 1126V1136.4M282.7 1126V1136.4" stroke="rgb(48,48,48)" stroke-width="1.1"/>
<path d="M102.2 1126V1136.4M117.7 1126V1136.4M118.2 1126V1136.4M118.8 1126V1136.4M123.6 1126V1136.4M124.7 1126V1136.4M128.6 1126V1136.4M145 1126V1136.4M151.7 1126V1136.4M156.8 1126V1136.4M202.5 1126V1136.4M221 1126V1136.4M245.3 1126V1136.4M245.8 1126V1136.4M276.5 1126V1136.4M277.1 1126V1136.4M283.7 1126V1136.4M301.4 1126V1136.4M310 1126V1136.4M310.3 1126V1136.4M310.5 1126V1136.4M315.4 1126V1136.4" stroke="rgb(64,64,64)" stroke-width="1.1"/>
<path d="M96 1126V1136.4M98.2 1126V1136.4M103.7 1126V1136.4M110.1 1126V1136.4M122.7 1126V1136.4M134.1 1126V1136.4M137.6 1126V1136.4M140 1126V1136.4M154.2 1126V1136.4M161.1 1126V1136.4M162 1126V1136.4M170.4 1126V1136.4M173.9 1126V1136.4M193.9 1126V1136.4M208.4 1126V1136.4M211.9 1126V1136.4M285.6 1126V1136.4M286.1 1126V1136.4M322.6 1126V1136.4M333.3 1126V1136.4M334.8 1126V1136.4" stroke="rgb(80,80,80)" stroke-width="1.1"/>
<path d="M99.4 1126V1136.4M100.9 1126V1136.4M123.5 1126V1136.4M140 1126V1136.4M145.5 1126V1136.4M148.5 1126V1136.4M157.5 1126V1136.4M174.1 1126V1136.4M203.5 1126V1136.4M215.8 1126V1136.4M223.5 1126V1136.4M233.9 1126V1136.4M247.1 1126V1136.4M268.8 1126V1136.4M271.6 1126V1136.4M272.6 1126V1136.4M279.8 1126V1136.4M306.2 1126V1136.4M339.3 1126V1136.4M363.9 1126V1136.4M365.9 1126V1136.4M368.6 1126V1136.4M370.7 1126V1136.4M374.2 1126V1136.4M383 1126V1136.4M388 1126V1136.4M399 1126V1136.4M426.8 1126V1136.4" stroke="rgb(96,96,96)" stroke-width="1.1"/>
<path d="M88.4 1126V1136.4M90.3 1126V1136.4M95.7 1126V1136.4M100.9 1126V1136.4M112.5 1126V1136.4M155.3 1126V1136.4M157.5 1126V1136.4M175.8 1126V1136.4M176 1126V1136.4M197.7 1126V1136.4M209 1126V1136.4M222.8 1126V1136.4M235 1126V1136.4M245.7 1126V1136.4M248.2 1126V1136.4M259.9 1126V1136.4M267.4 1126V1136.4M288.8 1126V1136.4M302.1 1126V1136.4M315.1 1126V1136.4M337.9 1126V1136.4M344.5 1126V1136.4M353.3 1126V1136.4M360.5 1126V1136.4M379 1126V1136.4M383.4 1126V1136.4M392.3 1126V1136.4M429.5 1126V1136.4M445.6 1126V1136.4" stroke="rgb(112,112,112)" stroke-width="1.1"/>
<path d="M88.1 1126V1136.4M101.8 1126V1136.4M103 1126V1136.4M114.1 1126V1136.4M144 1126V1136.4M185.4 1126V1136.4M223.6 1126V1136.4M229.2 1126V1136.4M254.8 1126V1136.4M266.4 1126V1136.4M274 1126V1136.4M293.1 1126V1136.4M293.3 1126V1136.4M309.4 1126V1136.4M312 1126V1136.4M333 1126V1136.4M367 1126V1136.4M368.5 1126V1136.4M393 1126V1136.4M394.5 1126V1136.4M427.2 1126V1136.4M431.9 1126V1136.4M433.3 1126V1136.4M435.3 1126V1136.4M435.5 1126V1136.4" stroke="rgb(128,128,128)" stroke-width="1.1"/>
<path d="M106.7 1126V1136.4M115.1 1126V1136.4M124.1 1126V1136.4M193.3 1126V1136.4M196.6 1126V1136.4M215 1126V1136.4M216.2 1126V1136.4M216.7 1126V1136.4M227.9 1126V1136.4M228.2 1126V1136.4M236.7 1126V1136.4M237.9 1126V1136.4M243.1 1126V1136.4M281.3 1126V1136.4M289.3 1126V1136.4M306.9 1126V1136.4M308 1126V1136.4M326.2 1126V1136.4M330.9 1126V1136.4M332.9 1126V1136.4M359.3 1126V1136.4M363.3 1126V1136.4M376.5 1126V1136.4M387.3 1126V1136.4M397.2 1126V1136.4M422.5 1126V1136.4M429.3 1126V1136.4M435.8 1126V1136.4" stroke="rgb(144,144,144)" stroke-width="1.1"/>
<path d="M116.9 1126V1136.4M138.2 1126V1136.4M191.7 1126V1136.4M223 1126V1136.4M223.2 1126V1136.4M226.4 1126V1136.4M241.6 1126V1136.4M244.7 1126V1136.4M256 1126V1136.4M281.9 1126V1136.4M287 1126V1136.4M307.6 1126V1136.4M309.3 1126V1136.4M311.5 1126V1136.4M319.8 1126V1136.4M372.2 1126V1136.4M383.4 1126V1136.4M395 1126V1136.4M398.4 1126V1136.4M403.6 1126V1136.4M408.9 1126V1136.4M411.1 1126V1136.4M416.2 1126V1136.4M446 1126V1136.4" stroke="rgb(160,160,160)" stroke-width="1.1"/>
<path d="M196.6 1126V1136.4M224.6 1126V1136.4M298.9 1126V1136.4M324.7 1126V1136.4M326.6 1126V1136.4M351.1 1126V1136.4M392.9 1126V1136.4M419.5 1126V1136.4M436.4 1126V1136.4" stroke="rgb(176,176,176)" stroke-width="1.1"/>
<path d="M211.4 1126V1136.4M219.9 1126V1136.4M273.4 1126V1136.4M305.9 1126V1136.4M377.5 1126V1136.4M405.7 1126V1136.4M409.1 1126V1136.4M409.1 1126V1136.4M412.2 1126V1136.4M413.4 1126V1136.4M427.7 1126V1136.4M429.7 1126V1136.4M438.2 1126V1136.4" stroke="rgb(192,192,192)" stroke-width="1.1"/>
<path d="M256.6 1126V1136.4M290.6 1126V1136.4M316.7 1126V1136.4M329.6 1126V1136.4M330.4 1126V1136.4M336.2 1126V1136.4M363.3 1126V1136.4M373.9 1126V1136.4M378.8 1126V1136.4M384.2 1126V1136.4M412.1 1126V1136.4M420.7 1126V1136.4M424.1 1126V1136.4M443.5 1126V1136.4" stroke="rgb(208,208,208)" stroke-width="1.1"/>
<rect x="87" y="1136.4" width="17.4" height="8" fill="#a0625a" />
<rect x="104.4" y="1136.4" width="72.6" height="8" fill="#de7a68" />
<rect x="177" y="1136.4" width="117.4" height="8" fill="#f0d0d8" />
<rect x="294.4" y="1136.4" width="64.6" height="8" fill="#a3b2e0" />
<rect x="359" y="1136.4" width="73" height="8" fill="#7a84c4" />
<rect x="432" y="1136.4" width="17" height="8" fill="#6a70b0" />
<text x="265.5" y="1200.7" font-size="20.7" text-anchor="middle">RPMI NSD2 GoF UPREG:</text>
<text x="265.4" y="1225.4" font-size="20.7" text-anchor="middle">MURINE ORTHOLOGS, n=845</text>
<path d="M70.6 1251.4L70.6 1371.4" stroke="#222" stroke-width="1.1" />
<path d="M65.6 1371.4L70.6 1371.4" stroke="#222" stroke-width="1.1" />
<text x="63.6" y="1376.6" font-size="14.5" text-anchor="end" fill="#222">0.0</text>
<path d="M65.6 1347.4L70.6 1347.4" stroke="#222" stroke-width="1.1" />
<text x="63.6" y="1352.6" font-size="14.5" text-anchor="end" fill="#222">0.1</text>
<path d="M65.6 1323.4L70.6 1323.4" stroke="#222" stroke-width="1.1" />
<text x="63.6" y="1328.6" font-size="14.5" text-anchor="end" fill="#222">0.2</text>
<path d="M65.6 1299.4L70.6 1299.4" stroke="#222" stroke-width="1.1" />
<text x="63.6" y="1304.6" font-size="14.5" text-anchor="end" fill="#222">0.3</text>
<path d="M65.6 1275.4L70.6 1275.4" stroke="#222" stroke-width="1.1" />
<text x="63.6" y="1280.6" font-size="14.5" text-anchor="end" fill="#222">0.4</text>
<path d="M65.6 1251.4L70.6 1251.4" stroke="#222" stroke-width="1.1" />
<text x="63.6" y="1256.6" font-size="14.5" text-anchor="end" fill="#222">0.5</text>
<path d="M70.6 1371.4L444 1371.4" stroke="#222" stroke-width="1.2" />
<text transform="translate(14,1298) rotate(-90)" font-size="20.5" text-anchor="middle">Enrichment score</text>
<path d="M80.5 1370.8L81.3 1359L82.2 1346.4L83 1339.2L83.8 1334.2L84.7 1328.5L85.5 1324.4L86.4 1319.4L87.2 1315.5L88 1309.4L88.9 1306L89.7 1302.4L90.5 1301L91.4 1297.8L92.2 1296.5L93 1293.9L93.9 1291.8L94.7 1291.5L95.5 1288.6L96.4 1286.5L97.2 1284.3L98.1 1284.8L98.9 1283.6L99.7 1281.2L100.6 1281.3L101.4 1281L102.2 1279L103.1 1279.4L103.9 1280L104.7 1276.9L105.6 1277.4L106.4 1276.7L107.2 1272.9L108.1 1270.8L108.9 1269.2L109.8 1267.6L110.6 1266.2L111.4 1263.7L112.3 1263.1L113.1 1262.6L113.9 1261.3L114.8 1261.3L115.6 1259.3L116.4 1258.3L117.3 1258.6L118.1 1256.2L118.9 1254.5L119.8 1254L120.6 1252.7L121.5 1252.2L122.3 1250.9L123.1 1249.4L124 1248.4L124.8 1247.3L125.6 1247.6L126.5 1247.2L127.3 1245.2L128.1 1245L129 1244.4L129.8 1243.4L130.6 1243L131.5 1242.7L132.3 1241.5L133.2 1241.8L134 1242.2L134.8 1242.2L135.7 1241.3L136.5 1240.9L137.3 1241.2L138.2 1241.8L139 1239.9L139.8 1239.7L140.7 1239.7L141.5 1240L142.3 1239L143.2 1239.5L144 1238.6L144.9 1239.1L145.7 1238.4L146.5 1238.1L147.4 1238.4L148.2 1237.1L149 1237L149.9 1237.4L150.7 1237.1L151.5 1236.5L152.4 1235L153.2 1236.2L154.1 1235.7L154.9 1235.1L155.7 1234.1L156.6 1235.3L157.4 1235.6L158.2 1234.9L159.1 1235.2L159.9 1234.3L160.7 1234.7L161.6 1234.3L162.4 1234.2L163.2 1234.6L164.1 1234.4L164.9 1234.5L165.8 1234.5L166.6 1234.8L167.4 1234.9L168.3 1235.2L169.1 1234.6L169.9 1235.4L170.8 1234.6L171.6 1235.5L172.4 1235.6L173.3 1234.7L174.1 1235.6L174.9 1236.3L175.8 1236.2L176.6 1236L177.5 1236.2L178.3 1236.7L179.1 1236.8L180 1237.3L180.8 1237.3L181.6 1237.8L182.5 1237.8L183.3 1237.6L184.1 1237.8L185 1238.3L185.8 1238.9L186.6 1238.7L187.5 1239.6L188.3 1239L189.2 1239.8L190 1239.8L190.8 1240.5L191.7 1240.8L192.5 1240.9L193.3 1240.8L194.2 1241.2L195 1241.6L195.8 1242.5L196.7 1242.2L197.5 1243L198.3 1243.5L199.2 1243.2L200 1243.7L200.9 1243.4L201.7 1244.4L202.5 1245.2L203.4 1245L204.2 1245.8L205 1246.3L205.9 1246.5L206.7 1246.6L207.5 1247.2L208.4 1247.2L209.2 1247.6L210 1248.9L210.9 1248.3L211.7 1248.5L212.6 1249.1L213.4 1249.4L214.2 1249.8L215.1 1249.5L215.9 1249.7L216.7 1249.9L217.6 1250.7L218.4 1251.1L219.2 1250.7L220.1 1251.1L220.9 1251.5L221.7 1251.5L222.6 1252L223.4 1252.7L224.3 1252.4L225.1 1253.3L225.9 1253.9L226.8 1253.7L227.6 1254.8L228.4 1254.9L229.3 1255.2L230.1 1256L230.9 1256.3L231.8 1256.7L232.6 1257.1L233.5 1257.5L234.3 1258.1L235.1 1258.7L236 1259.4L236.8 1259.7L237.6 1260.3L238.5 1260.6L239.3 1261.4L240.1 1261.7L241 1262.5L241.8 1262.7L242.6 1262.7L243.5 1263.6L244.3 1264L245.2 1264.9L246 1265.1L246.8 1265.8L247.7 1266.3L248.5 1266.4L249.3 1267L250.2 1267.6L251 1267.8L251.8 1269.5L252.7 1269.2L253.5 1269.2L254.3 1269.7L255.2 1270.6L256 1271L256.9 1271.2L257.7 1271.7L258.5 1272.6L259.4 1273L260.2 1273.7L261 1274.1L261.9 1274.9L262.7 1274.6L263.5 1275.8L264.4 1275.9L265.2 1276.4L266 1277.4L266.9 1277.2L267.7 1278.1L268.6 1278.6L269.4 1279.4L270.2 1279.3L271.1 1280.3L271.9 1280.8L272.7 1281.2L273.6 1281.7L274.4 1282.2L275.2 1282.4L276.1 1283.1L276.9 1283.3L277.7 1284.5L278.6 1285L279.4 1284.9L280.3 1286L281.1 1286.2L281.9 1286.4L282.8 1287.1L283.6 1287.9L284.4 1288.2L285.3 1288.5L286.1 1289.4L286.9 1289.7L287.8 1290.1L288.6 1290.4L289.4 1291.3L290.3 1291.9L291.1 1292L292 1292.7L292.8 1293.2L293.6 1293.8L294.5 1294L295.3 1295.2L296.1 1295.4L297 1296L297.8 1296.3L298.6 1297.4L299.5 1297.6L300.3 1297.7L301.2 1298.9L302 1299.2L302.8 1299.6L303.7 1300.4L304.5 1300.8L305.3 1301.8L306.2 1302.4L307 1302.6L307.8 1303.6L308.7 1304.3L309.5 1304.2L310.3 1305.6L311.2 1306.1L312 1306.7L312.9 1307.4L313.7 1307.7L314.5 1308.1L315.4 1308.9L316.2 1309.4L317 1310.1L317.9 1310L318.7 1311L319.5 1312.1L320.4 1312.2L321.2 1312.8L322 1313.2L322.9 1313.6L323.7 1314.3L324.6 1314.8L325.4 1315.1L326.2 1315.6L327.1 1316.3L327.9 1316.5L328.7 1316.9L329.6 1317.8L330.4 1318.3L331.2 1318.5L332.1 1319.4L332.9 1319.8L333.7 1320.2L334.6 1320.5L335.4 1321.3L336.3 1321.5L337.1 1322.2L337.9 1322.6L338.8 1323.5L339.6 1323.8L340.4 1324.3L341.3 1325L342.1 1325.9L342.9 1326.2L343.8 1326.2L344.6 1327.1L345.4 1327.7L346.3 1328.1L347.1 1328.6L348 1329.6L348.8 1330L349.6 1330.6L350.5 1331L351.3 1331.6L352.1 1332.1L353 1332.5L353.8 1333L354.6 1333.3L355.5 1333.9L356.3 1334.5L357.1 1334.8L358 1335.5L358.8 1335.7L359.7 1336.5L360.5 1336.5L361.3 1337.3L362.2 1337.9L363 1338.3L363.8 1338.4L364.7 1339.2L365.5 1339.4L366.3 1339.9L367.2 1340.3L368 1340.4L368.8 1341.3L369.7 1341.7L370.5 1342.2L371.4 1342.4L372.2 1343.1L373 1343.4L373.9 1343.8L374.7 1344.3L375.5 1345L376.4 1345.4L377.2 1346.3L378 1346.7L378.9 1347.3L379.7 1347.6L380.6 1348L381.4 1348.5L382.2 1349.3L383.1 1350.1L383.9 1350.7L384.7 1350.8L385.6 1351.7L386.4 1352.3L387.2 1352.5L388.1 1353.3L388.9 1353.7L389.7 1354.4L390.6 1354.9L391.4 1355.3L392.3 1355.8L393.1 1356.2L393.9 1356.8L394.8 1356.7L395.6 1357.8L396.4 1358.4L397.3 1358.4L398.1 1359L398.9 1359.6L399.8 1359.8L400.6 1360.3L401.4 1360.8L402.3 1361.4L403.1 1361.4L404 1362.1L404.8 1362.6L405.6 1362.7L406.5 1363.3L407.3 1363.9L408.1 1364.1L409 1364.5L409.8 1365.1L410.6 1365.2L411.5 1365.6L412.3 1366.2L413.1 1366.7L414 1366.6L414.8 1367.1L415.7 1367.5L416.5 1368L417.3 1368.2L418.2 1368.4L419 1368.9L419.8 1368.8L420.7 1369.5L421.5 1370L422.3 1370.4L423.2 1370.7L424 1370.7L424.8 1371.6L425.7 1371.9L426.5 1372.5L427.4 1373.3L428.2 1373.3L429 1374.5L429.9 1374.8L430.7 1375.2L431.5 1375.3L432.4 1375.6L433.2 1375.6L434 1375.4L434.9 1374.9L435.7 1374.9L436.5 1374.5L437.4 1374.2L438.2 1373.7L439.1 1373.2L439.9 1372.7L440.7 1372L441.6 1371.5L442.4 1371.4" fill="none" stroke="#6aad5e" stroke-width="3.8" stroke-linejoin="round" stroke-linecap="round"/>
<text x="346.7" y="1256.6" font-size="20.6">NES=1.61</text>
<text x="346.7" y="1282.5" font-size="20.6">FDR&lt;0.001</text>
<path d="M84.5 1398V1409.3M85.7 1398V1409.3M86.4 1398V1409.3M88.4 1398V1409.3M88.6 1398V1409.3M90.1 1398V1409.3M92.6 1398V1409.3M95.4 1398V1409.3M98 1398V1409.3M100.1 1398V1409.3M102.3 1398V1409.3M103.4 1398V1409.3M107.2 1398V1409.3M109.3 1398V1409.3M126.3 1398V1409.3M131.2 1398V1409.3M133.5 1398V1409.3M142.5 1398V1409.3M147.3 1398V1409.3M154.3 1398V1409.3M168 1398V1409.3M187.2 1398V1409.3M196.3 1398V1409.3" stroke="rgb(16,16,16)" stroke-width="1.1"/>
<path d="M82.6 1398V1409.3M85.4 1398V1409.3M111.1 1398V1409.3M116.4 1398V1409.3M121.7 1398V1409.3M132.1 1398V1409.3M142.9 1398V1409.3M145.3 1398V1409.3M151.8 1398V1409.3M153.3 1398V1409.3M155.4 1398V1409.3M167.2 1398V1409.3M183.5 1398V1409.3M320.8 1398V1409.3" stroke="rgb(32,32,32)" stroke-width="1.1"/>
<path d="M83.1 1398V1409.3M85.2 1398V1409.3M86.5 1398V1409.3M92.2 1398V1409.3M104.9 1398V1409.3M125.2 1398V1409.3M136.8 1398V1409.3M137.6 1398V1409.3M139.4 1398V1409.3M142.7 1398V1409.3M159 1398V1409.3M173 1398V1409.3M181.3 1398V1409.3M187.2 1398V1409.3M189.9 1398V1409.3M220.2 1398V1409.3M222.4 1398V1409.3M259.6 1398V1409.3M291.8 1398V1409.3M329.4 1398V1409.3M379.2 1398V1409.3" stroke="rgb(48,48,48)" stroke-width="1.1"/>
<path d="M84.4 1398V1409.3M84.9 1398V1409.3M98.1 1398V1409.3M100 1398V1409.3M102.1 1398V1409.3M102.1 1398V1409.3M102.8 1398V1409.3M122.1 1398V1409.3M126.4 1398V1409.3M126.8 1398V1409.3M131.5 1398V1409.3M138.2 1398V1409.3M138.9 1398V1409.3M146.2 1398V1409.3M148 1398V1409.3M151 1398V1409.3M153.7 1398V1409.3M164 1398V1409.3M165.8 1398V1409.3M185 1398V1409.3M201.3 1398V1409.3M204.2 1398V1409.3M214.1 1398V1409.3M217.9 1398V1409.3M248.3 1398V1409.3M248.5 1398V1409.3M260.3 1398V1409.3M280.7 1398V1409.3M280.9 1398V1409.3M299.4 1398V1409.3M319.8 1398V1409.3M323 1398V1409.3M346.5 1398V1409.3" stroke="rgb(64,64,64)" stroke-width="1.1"/>
<path d="M89.3 1398V1409.3M90.1 1398V1409.3M93 1398V1409.3M102.7 1398V1409.3M104.7 1398V1409.3M110.8 1398V1409.3M112 1398V1409.3M114.1 1398V1409.3M139.8 1398V1409.3M141.5 1398V1409.3M149.7 1398V1409.3M157.6 1398V1409.3M164 1398V1409.3M166.1 1398V1409.3M197 1398V1409.3M199.3 1398V1409.3M208.3 1398V1409.3M209.5 1398V1409.3M214.2 1398V1409.3M220.4 1398V1409.3M223.4 1398V1409.3M240 1398V1409.3M243.4 1398V1409.3M257.2 1398V1409.3M285 1398V1409.3M292 1398V1409.3M324.3 1398V1409.3M358.2 1398V1409.3M376.2 1398V1409.3" stroke="rgb(80,80,80)" stroke-width="1.1"/>
<path d="M83.4 1398V1409.3M96.3 1398V1409.3M100.4 1398V1409.3M105.7 1398V1409.3M105.7 1398V1409.3M126.1 1398V1409.3M145.5 1398V1409.3M152.8 1398V1409.3M202.4 1398V1409.3M208.1 1398V1409.3M214.4 1398V1409.3M215.3 1398V1409.3M240.3 1398V1409.3M246.2 1398V1409.3M247 1398V1409.3M275.6 1398V1409.3M282.7 1398V1409.3M300 1398V1409.3M302 1398V1409.3M315.1 1398V1409.3M319.2 1398V1409.3M321.6 1398V1409.3M348.1 1398V1409.3M360.7 1398V1409.3M361.2 1398V1409.3M412.9 1398V1409.3M434.9 1398V1409.3" stroke="rgb(96,96,96)" stroke-width="1.1"/>
<path d="M97.7 1398V1409.3M109.9 1398V1409.3M111.8 1398V1409.3M121.9 1398V1409.3M140.7 1398V1409.3M142.2 1398V1409.3M155.1 1398V1409.3M157.1 1398V1409.3M160.9 1398V1409.3M167 1398V1409.3M170.6 1398V1409.3M178.3 1398V1409.3M180 1398V1409.3M181.2 1398V1409.3M183.2 1398V1409.3M191.9 1398V1409.3M193.1 1398V1409.3M199.4 1398V1409.3M219.4 1398V1409.3M234.5 1398V1409.3M243 1398V1409.3M245.8 1398V1409.3M245.9 1398V1409.3M260 1398V1409.3M264.6 1398V1409.3M265.7 1398V1409.3M265.8 1398V1409.3M274.1 1398V1409.3M293.5 1398V1409.3M304.1 1398V1409.3M309.3 1398V1409.3M313.1 1398V1409.3M314.1 1398V1409.3M317.5 1398V1409.3M325.4 1398V1409.3M331.3 1398V1409.3M338.4 1398V1409.3M354.9 1398V1409.3M360.9 1398V1409.3M363.2 1398V1409.3M375.2 1398V1409.3M417.4 1398V1409.3M425.3 1398V1409.3M437.1 1398V1409.3M438.3 1398V1409.3" stroke="rgb(112,112,112)" stroke-width="1.1"/>
<path d="M85.8 1398V1409.3M99.6 1398V1409.3M157.6 1398V1409.3M162.4 1398V1409.3M165.6 1398V1409.3M168.5 1398V1409.3M169 1398V1409.3M176.8 1398V1409.3M179.2 1398V1409.3M181.2 1398V1409.3M185.8 1398V1409.3M197.4 1398V1409.3M237.1 1398V1409.3M237.4 1398V1409.3M238.5 1398V1409.3M254.4 1398V1409.3M256.9 1398V1409.3M259.2 1398V1409.3M269.3 1398V1409.3M289.6 1398V1409.3M296 1398V1409.3M301.6 1398V1409.3M313.4 1398V1409.3M323.6 1398V1409.3M345.4 1398V1409.3M351.2 1398V1409.3M443.1 1398V1409.3" stroke="rgb(128,128,128)" stroke-width="1.1"/>
<path d="M135.5 1398V1409.3M142.7 1398V1409.3M156.7 1398V1409.3M158.4 1398V1409.3M192 1398V1409.3M195.4 1398V1409.3M211.6 1398V1409.3M212.5 1398V1409.3M219.2 1398V1409.3M222 1398V1409.3M231.2 1398V1409.3M254.6 1398V1409.3M267 1398V1409.3M271 1398V1409.3M287.1 1398V1409.3M288.5 1398V1409.3M289.7 1398V1409.3M296.9 1398V1409.3M303.2 1398V1409.3M305.2 1398V1409.3M309.8 1398V1409.3M313 1398V1409.3M328.2 1398V1409.3M331.2 1398V1409.3M334 1398V1409.3M340.2 1398V1409.3M348.6 1398V1409.3M353.3 1398V1409.3M365.9 1398V1409.3M382.9 1398V1409.3M384.3 1398V1409.3M386.8 1398V1409.3M388.9 1398V1409.3M392.6 1398V1409.3M404.5 1398V1409.3M412.7 1398V1409.3M433.7 1398V1409.3M437.3 1398V1409.3M440.6 1398V1409.3" stroke="rgb(144,144,144)" stroke-width="1.1"/>
<path d="M134.3 1398V1409.3M149.5 1398V1409.3M159.6 1398V1409.3M170.1 1398V1409.3M204.1 1398V1409.3M238.1 1398V1409.3M265.1 1398V1409.3M277.3 1398V1409.3M290.1 1398V1409.3M321 1398V1409.3M328.1 1398V1409.3M328.7 1398V1409.3M344.7 1398V1409.3M350 1398V1409.3M360 1398V1409.3M362.8 1398V1409.3M364.4 1398V1409.3M374.3 1398V1409.3M384.9 1398V1409.3M391.2 1398V1409.3M394.7 1398V1409.3M395 1398V1409.3M402.4 1398V1409.3M406.1 1398V1409.3M406.2 1398V1409.3M409.4 1398V1409.3M426.3 1398V1409.3M443 1398V1409.3" stroke="rgb(160,160,160)" stroke-width="1.1"/>
<path d="M224.3 1398V1409.3M253.6 1398V1409.3M273.5 1398V1409.3M279.1 1398V1409.3M283.4 1398V1409.3M307.7 1398V1409.3M383.4 1398V1409.3M384.5 1398V1409.3M384.7 1398V1409.3M394.8 1398V1409.3M411.3 1398V1409.3M433.8 1398V1409.3" stroke="rgb(176,176,176)" stroke-width="1.1"/>
<path d="M130.8 1398V1409.3M206.4 1398V1409.3M208.8 1398V1409.3M269.5 1398V1409.3M320.2 1398V1409.3M327.6 1398V1409.3M337.4 1398V1409.3M379.7 1398V1409.3M414.5 1398V1409.3M417.2 1398V1409.3M417.2 1398V1409.3M418.3 1398V1409.3M423.1 1398V1409.3M427.2 1398V1409.3M441.6 1398V1409.3" stroke="rgb(192,192,192)" stroke-width="1.1"/>
<path d="M83.4 1398V1409.3M238 1398V1409.3M250 1398V1409.3M287.3 1398V1409.3M295.4 1398V1409.3M295.5 1398V1409.3M330.6 1398V1409.3M341.4 1398V1409.3M342.5 1398V1409.3M350.1 1398V1409.3M365 1398V1409.3M378.2 1398V1409.3M379.6 1398V1409.3M413.4 1398V1409.3M421.5 1398V1409.3M432.1 1398V1409.3M434.3 1398V1409.3" stroke="rgb(208,208,208)" stroke-width="1.1"/>
<rect x="81.8" y="1409.3" width="16.9" height="7.7" fill="#a0625a" />
<rect x="98.7" y="1409.3" width="73.3" height="7.7" fill="#de7a68" />
<rect x="172" y="1409.3" width="117.5" height="7.7" fill="#f0d0d8" />
<rect x="289.5" y="1409.3" width="64.2" height="7.7" fill="#a3b2e0" />
<rect x="353.7" y="1409.3" width="72.7" height="7.7" fill="#7a84c4" />
<rect x="426.4" y="1409.3" width="17.6" height="7.7" fill="#6a70b0" />
<path d="M70.6 1423.3L70.6 1475.6" stroke="#222" stroke-width="1.1" />
<path d="M65.6 1423.3L70.6 1423.3" stroke="#222" stroke-width="1.1" />
<text x="63.6" y="1428.5" font-size="14.5" text-anchor="end" fill="#222">15</text>
<path d="M65.6 1433.8L70.6 1433.8" stroke="#222" stroke-width="1.1" />
<path d="M65.6 1444.2L70.6 1444.2" stroke="#222" stroke-width="1.1" />
<path d="M65.6 1454.7L70.6 1454.7" stroke="#222" stroke-width="1.1" />
<text x="63.6" y="1459.9" font-size="14.5" text-anchor="end" fill="#222">0</text>
<path d="M65.6 1465.2L70.6 1465.2" stroke="#222" stroke-width="1.1" />
<path d="M65.6 1475.6L70.6 1475.6" stroke="#222" stroke-width="1.1" />
<text x="63.6" y="1480.9" font-size="14.5" text-anchor="end" fill="#222">-10</text>
<path d="M81.8 1454.7L81.8 1420L83.6 1433.4L85.4 1437.7L87.3 1438.8L89.1 1439.5L90.9 1440.1L92.7 1440.7L94.5 1441.3L96.4 1441.8L98.2 1442.2L100 1442.6L101.8 1443L103.6 1443.4L105.5 1443.8L107.3 1444.1L109.1 1444.5L110.9 1444.8L112.7 1445.2L114.6 1445.5L116.4 1445.9L118.2 1446.2L120 1446.6L121.8 1446.9L123.7 1447.3L125.5 1447.6L127.3 1448L129.1 1448.3L130.9 1448.6L132.8 1448.8L134.6 1449L136.4 1449.2L138.2 1449.4L140 1449.6L141.9 1449.8L143.7 1450L145.5 1450.2L147.3 1450.4L149.1 1450.6L151 1450.8L152.8 1451L154.6 1451.2L156.4 1451.3L158.2 1451.4L160.1 1451.5L161.9 1451.6L163.7 1451.6L165.5 1451.7L167.3 1451.8L169.2 1451.9L171 1451.9L172.8 1452L174.6 1452.1L176.4 1452.2L178.3 1452.3L180.1 1452.3L181.9 1452.4L183.7 1452.5L185.5 1452.6L187.4 1452.6L189.2 1452.7L191 1452.8L192.8 1452.9L194.6 1452.9L196.5 1453L198.3 1453.1L200.1 1453.2L201.9 1453.3L203.7 1453.3L205.6 1453.4L207.4 1453.5L209.2 1453.5L211 1453.5L212.8 1453.6L214.7 1453.6L216.5 1453.6L218.3 1453.7L220.1 1453.7L221.9 1453.7L223.8 1453.7L225.6 1453.8L227.4 1453.8L229.2 1453.8L231 1453.8L232.9 1453.9L234.7 1453.9L236.5 1453.9L238.3 1453.9L240.1 1454L242 1454L243.8 1454L245.6 1454L247.4 1454.1L249.2 1454.1L251.1 1454.1L252.9 1454.1L254.7 1454.2L256.5 1454.2L258.3 1454.2L260.2 1454.2L262 1454.3L263.8 1454.3L265.6 1454.3L267.5 1454.3L269.3 1454.4L271.1 1454.4L272.9 1454.4L274.7 1454.4L276.6 1454.5L278.4 1454.5L280.2 1454.5L282 1454.5L283.8 1454.6L285.7 1454.6L287.5 1454.6L289.3 1454.6L291.1 1454.7L292.9 1454.7L294.8 1454.7L296.6 1454.7L298.4 1454.8L300.2 1454.8L302 1454.8L303.9 1454.8L305.7 1454.9L307.5 1454.9L309.3 1454.9L311.1 1454.9L313 1455L314.8 1455L316.6 1455L318.4 1455L320.2 1455.1L322.1 1455.1L323.9 1455.1L325.7 1455.1L327.5 1455.2L329.3 1455.2L331.2 1455.2L333 1455.2L334.8 1455.3L336.6 1455.3L338.4 1455.3L340.3 1455.3L342.1 1455.4L343.9 1455.4L345.7 1455.4L347.5 1455.4L349.4 1455.5L351.2 1455.5L353 1455.5L354.8 1455.5L356.6 1455.6L358.5 1455.6L360.3 1455.6L362.1 1455.6L363.9 1455.7L365.7 1455.7L367.6 1455.7L369.4 1455.7L371.2 1455.8L373 1455.8L374.8 1455.8L376.7 1455.8L378.5 1455.9L380.3 1455.9L382.1 1455.9L383.9 1455.9L385.8 1455.9L387.6 1456L389.4 1456L391.2 1456.1L393 1456.3L394.9 1456.4L396.7 1456.6L398.5 1456.7L400.3 1456.8L402.1 1457L404 1457.1L405.8 1457.3L407.6 1457.4L409.4 1457.5L411.2 1457.7L413.1 1457.8L414.9 1458L416.7 1458.1L418.5 1458.2L420.3 1458.4L422.2 1458.5L424 1458.7L425.8 1458.8L427.6 1458.9L429.4 1459.4L431.3 1460.2L433.1 1460.9L434.9 1461.7L436.7 1462.5L438.5 1463.8L440.4 1466.5L442.2 1470.9L444 1485L444 1454.7Z" fill="#6d6d6d" />
<path d="M278.4 1420L278.4 1482" stroke="#9a9a9a" stroke-width="1.2" stroke-dasharray="5 4"/>
<text x="159.7" y="1446" font-size="20">Zero cross at 9,136</text>
<path d="M81.8 1484.6L444 1484.6" stroke="#222" stroke-width="1.3" />
<path d="M81.8 1484.6L81.8 1489.6" stroke="#222" stroke-width="1.3" />
<text x="77.4" y="1508.5" font-size="14.5" text-anchor="middle" fill="#222">1</text>
<path d="M185.7 1484.6L185.7 1489.6" stroke="#222" stroke-width="1.3" />
<text x="189.6" y="1508.5" font-size="14.5" text-anchor="middle" fill="#222">5,000</text>
<path d="M290.3 1484.6L290.3 1489.6" stroke="#222" stroke-width="1.3" />
<text x="291.5" y="1508.5" font-size="14.5" text-anchor="middle" fill="#222">10,000</text>
<path d="M395.2 1484.6L395.2 1489.6" stroke="#222" stroke-width="1.3" />
<text x="396.6" y="1508.5" font-size="14.5" text-anchor="middle" fill="#222">15,000</text>
<path d="M443.5 1484.6L443.5 1489.6" stroke="#222" stroke-width="1.3" />
<text x="444.7" y="1508.5" font-size="14.5" text-anchor="middle" fill="#222">17,300</text>
<text x="266.2" y="1539.6" font-size="20.6" text-anchor="middle">Ranked list metric</text>
<text transform="translate(16,1453) rotate(-90)" font-size="20" text-anchor="middle">log2(<tspan font-style="italic">H1c/e</tspan><tspan font-style="italic" dy="-7" font-size="11">-/-</tspan></text>
<text transform="translate(38,1453) rotate(-90)" font-size="20" text-anchor="middle">/<tspan font-style="italic">H1wt</tspan> GCB)</text>
<text x="484.6" y="24" class="pl">d</text>
<rect x="555.3" y="33.5" width="1076.5" height="521.5" fill="#f0f0f0" />
<path d="M555.3 91H1631.8M555.3 149H1631.8M555.3 207H1631.8M555.3 323H1631.8M555.3 381H1631.8M555.3 439H1631.8M555.3 497H1631.8" stroke="#fcfcfc" stroke-width="1.8"/>
<path d="M551 33L555.3 33" stroke="#333" stroke-width="1" />
<text x="545" y="37.8" font-size="13.5" text-anchor="end" fill="#222">8</text>
<path d="M551 91L555.3 91" stroke="#333" stroke-width="1" />
<text x="545" y="95.8" font-size="13.5" text-anchor="end" fill="#222">6</text>
<path d="M551 149L555.3 149" stroke="#333" stroke-width="1" />
<text x="545" y="153.8" font-size="13.5" text-anchor="end" fill="#222">4</text>
<path d="M551 207L555.3 207" stroke="#333" stroke-width="1" />
<text x="545" y="211.8" font-size="13.5" text-anchor="end" fill="#222">2</text>
<path d="M551 265L555.3 265" stroke="#333" stroke-width="1" />
<text x="545" y="269.8" font-size="13.5" text-anchor="end" fill="#222">0</text>
<path d="M551 323L555.3 323" stroke="#333" stroke-width="1" />
<text x="545" y="327.8" font-size="13.5" text-anchor="end" fill="#222">-2</text>
<path d="M551 381L555.3 381" stroke="#333" stroke-width="1" />
<text x="545" y="385.8" font-size="13.5" text-anchor="end" fill="#222">-4</text>
<path d="M551 439L555.3 439" stroke="#333" stroke-width="1" />
<text x="545" y="443.8" font-size="13.5" text-anchor="end" fill="#222">-6</text>
<path d="M551 497L555.3 497" stroke="#333" stroke-width="1" />
<text x="545" y="501.8" font-size="13.5" text-anchor="end" fill="#222">-8</text>
<path d="M551 555L555.3 555" stroke="#333" stroke-width="1" />
<text x="545" y="559.8" font-size="13.5" text-anchor="end" fill="#222">-10</text>
<text transform="translate(527,294) rotate(-90)" font-size="17.1" text-anchor="middle">log2( gene expression value / averege expression value of all genes )</text>
<path d="M555.3 265L1631.8 265" stroke="#333" stroke-width="1" />
<path d="M566 143.2V221.5M566 276V357.8M564.3 143.2h3.4M564.3 357.8h3.4M577.2 176.8V236.9M577.2 278.9V340.4M575.5 176.8h3.4M575.5 340.4h3.4M588.5 170.5V240.9M588.5 288.2V357.8M586.8 170.5h3.4M586.8 357.8h3.4M599.7 212.8V257.5M599.7 278.3V308.5M598 212.8h3.4M598 308.5h3.4M610.9 213.4V260.9M610.9 294V340.4M609.2 213.4h3.4M609.2 340.4h3.4M622.1 207V256.9M622.1 292V340.4M620.4 207h3.4M620.4 340.4h3.4M633.4 218.6V265M633.4 297.2V340.4M631.7 218.6h3.4M631.7 340.4h3.4M644.6 197.1V265M644.6 311.1V376.4M642.9 197.1h3.4M642.9 376.4h3.4M655.8 207.3V265M655.8 307.3V369.1M654.1 207.3h3.4M654.1 369.1h3.4M667 190.5V265M667 339.8V444.5M665.3 190.5h3.4M665.3 444.5h3.4M678.3 219.2V265M678.3 299.5V352.6M676.6 219.2h3.4M676.6 352.6h3.4M689.5 197.7V265M689.5 314.9V383.9M687.8 197.7h3.4M687.8 383.9h3.4M700.7 212.8V265M700.7 326.2V415.8M699 212.8h3.4M699 415.8h3.4M711.9 211.6V265M711.9 313.4V382.2M710.2 211.6h3.4M710.2 382.2h3.4M734.4 203.5V265M734.4 349.7V472.9M732.7 203.5h3.4M732.7 472.9h3.4M745.6 207.3V265M745.6 332.6V428.6M743.9 207.3h3.4M743.9 428.6h3.4M756.8 197.7V265M756.8 324.4V412.9M755.1 197.7h3.4M755.1 412.9h3.4M768.1 175.4V265M768.1 355.5V477.9M766.4 175.4h3.4M766.4 477.9h3.4M779.3 168.7V265M779.3 347.6V454.9M777.6 168.7h3.4M777.6 454.9h3.4M790.5 213.4V265M790.5 301.8V349.7M788.8 213.4h3.4M788.8 349.7h3.4M801.7 253.7V265M801.7 273.7V279.5M800 253.7h3.4M800 279.5h3.4M813 197.1V265M813 314.9V385.6M811.3 197.1h3.4M811.3 385.6h3.4M824.2 191.9V265M824.2 332.6V426.2M822.5 191.9h3.4M822.5 426.2h3.4M835.4 219.2V265M835.4 308.2V372.6M833.7 219.2h3.4M833.7 372.6h3.4M846.7 199.2V265M846.7 311.4V378.1M845 199.2h3.4M845 378.1h3.4M857.9 207V265M857.9 307.3V363.3M856.2 207h3.4M856.2 363.3h3.4M869.1 224.4V265M869.1 299.8V345.3M867.4 224.4h3.4M867.4 345.3h3.4M880.3 208.4V265M880.3 323V411.4M878.6 208.4h3.4M878.6 411.4h3.4M891.6 225V265M891.6 294.3V335.5M889.9 225h3.4M889.9 335.5h3.4M902.8 189.9V265M902.8 319.5V399.9M901.1 189.9h3.4M901.1 399.9h3.4M914 195.7V265M914 332.6V421.6M912.3 195.7h3.4M912.3 421.6h3.4M925.2 206.4V265M925.2 330.5V426.2M923.5 206.4h3.4M923.5 426.2h3.4M936.5 197.7V265M936.5 332.6V421.6M934.8 197.7h3.4M934.8 421.6h3.4M947.7 222.1V265M947.7 334.6V422.2M946 222.1h3.4M946 422.2h3.4M958.9 187.9V265M958.9 326.2V413.8M957.2 187.9h3.4M957.2 413.8h3.4M970.1 209.3V265M970.1 323V409.1M968.4 209.3h3.4M968.4 409.1h3.4M981.4 185.2V265M981.4 327.4V414.4M979.7 185.2h3.4M979.7 414.4h3.4M992.6 178.9V265M992.6 332.6V426.2M990.9 178.9h3.4M990.9 426.2h3.4M1003.8 196.3V265M1003.8 322.4V408.6M1002.1 196.3h3.4M1002.1 408.6h3.4M1015 172.2V265M1015 331.7V426.2M1013.3 172.2h3.4M1013.3 426.2h3.4M1026.3 179.7V265M1026.3 323V408.6M1024.6 179.7h3.4M1024.6 408.6h3.4M1037.5 183.8V265M1037.5 324.4V411.4M1035.8 183.8h3.4M1035.8 411.4h3.4M1048.7 183.8V265M1048.7 326.8V419.6M1047 183.8h3.4M1047 419.6h3.4M1059.9 168.7V265M1059.9 332.6V433.2M1058.2 168.7h3.4M1058.2 433.2h3.4M1071.2 219.2V265M1071.2 299.8V350M1069.5 219.2h3.4M1069.5 350h3.4M1082.4 191.9V265M1082.4 323V410M1080.7 191.9h3.4M1080.7 410h3.4M1093.6 218.6V265M1093.6 332.6V420.7M1091.9 218.6h3.4M1091.9 420.7h3.4M1104.8 212.8V265M1104.8 311.4V376.9M1103.1 212.8h3.4M1103.1 376.9h3.4M1116.1 198.6V265M1116.1 310.2V376.4M1114.4 198.6h3.4M1114.4 376.4h3.4M1127.3 190.5V265M1127.3 336.1V439M1125.6 190.5h3.4M1125.6 439h3.4M1138.5 179.2V265M1138.5 335.5V440.2M1136.8 179.2h3.4M1136.8 440.2h3.4M1149.8 197.7V265M1149.8 322.4V408.6M1148.1 197.7h3.4M1148.1 408.6h3.4M1161 178V265M1161 325.3V403M1159.3 178h3.4M1159.3 403h3.4M1172.2 213.7V265M1172.2 300.1V348.5M1170.5 213.7h3.4M1170.5 348.5h3.4M1183.4 197.7V265M1183.4 322.4V399.9M1181.7 197.7h3.4M1181.7 399.9h3.4M1194.7 210.8V265M1194.7 311.1V373.5M1193 210.8h3.4M1193 373.5h3.4M1205.9 206.4V265M1205.9 311.1V378.4M1204.2 206.4h3.4M1204.2 378.4h3.4M1217.1 183.8V265M1217.1 318.9V399.9M1215.4 183.8h3.4M1215.4 399.9h3.4M1228.3 207.3V265M1228.3 320.1V394.3M1226.6 207.3h3.4M1226.6 394.3h3.4M1239.6 197.7V265M1239.6 325.9V414.9M1237.9 197.7h3.4M1237.9 414.9h3.4M1250.8 215.1V265M1250.8 300.1V352M1249.1 215.1h3.4M1249.1 352h3.4M1262 175.1V265M1262 338.4V448.6M1260.3 175.1h3.4M1260.3 448.6h3.4M1273.2 183.2V265M1273.2 323V404.2M1271.5 183.2h3.4M1271.5 404.2h3.4M1284.5 190.5V265M1284.5 311.1V377.5M1282.8 190.5h3.4M1282.8 377.5h3.4M1295.7 179.2V265M1295.7 326.8V413.8M1294 179.2h3.4M1294 413.8h3.4M1306.9 191.1V265M1306.9 334V428.6M1305.2 191.1h3.4M1305.2 428.6h3.4M1318.1 209.3V265M1318.1 312.6V381M1316.4 209.3h3.4M1316.4 381h3.4M1329.4 197.7V265M1329.4 311.1V376.9M1327.7 197.7h3.4M1327.7 376.9h3.4M1340.6 176.3V247.9M1340.6 310.2V402.5M1338.9 176.3h3.4M1338.9 402.5h3.4M1351.8 194.8V265M1351.8 316V388.5M1350.1 194.8h3.4M1350.1 388.5h3.4M1363 182.1V265M1363 325.3V410.9M1361.3 182.1h3.4M1361.3 410.9h3.4M1374.3 178.6V265M1374.3 324.7V411.4M1372.6 178.6h3.4M1372.6 411.4h3.4M1385.5 192.5V265M1385.5 320.1V405.9M1383.8 192.5h3.4M1383.8 405.9h3.4M1396.7 207V265M1396.7 306.8V365.6M1395 207h3.4M1395 365.6h3.4M1408 216.6V265M1408 298.1V346.5M1406.2 216.6h3.4M1406.2 346.5h3.4M1430.4 191.1V265M1430.4 323V403M1428.7 191.1h3.4M1428.7 403h3.4M1441.6 197.1V265M1441.6 311.1V370M1439.9 197.1h3.4M1439.9 370h3.4M1452.9 199.2V259.5M1452.9 303.3V369.4M1451.2 199.2h3.4M1451.2 369.4h3.4M1464.1 180.6V265M1464.1 323V403M1462.4 180.6h3.4M1462.4 403h3.4M1486.5 239.8V265M1486.5 281.8V306.5M1484.8 239.8h3.4M1484.8 306.5h3.4M1497.8 145.5V238.6M1497.8 310.2V416.7M1496.1 145.5h3.4M1496.1 416.7h3.4M1509 197.7V265M1509 325.9V411.4M1507.3 197.7h3.4M1507.3 411.4h3.4M1520.2 176.3V253.1M1520.2 305.9V363.3M1518.5 176.3h3.4M1518.5 363.3h3.4M1531.4 168.4V265M1531.4 332.6V421.6M1529.7 168.4h3.4M1529.7 421.6h3.4M1542.7 207V265M1542.7 314.9V388M1541 207h3.4M1541 388h3.4M1553.9 154.8V234.3M1553.9 312.6V428.6M1552.2 154.8h3.4M1552.2 428.6h3.4M1565.1 145.5V238.9M1565.1 303.3V393.8M1563.4 145.5h3.4M1563.4 393.8h3.4M1576.3 69.2V165.5M1576.3 264.4V384.8M1574.6 69.2h3.4M1574.6 384.8h3.4M1587.6 78.2V195.7M1587.6 276V395.2M1585.9 78.2h3.4M1585.9 395.2h3.4M1598.8 98V200M1598.8 272.2V375.8M1597.1 98h3.4M1597.1 375.8h3.4M1610 94.2V203.5M1610 282.4V388.5M1608.3 94.2h3.4M1608.3 388.5h3.4M1621.2 213.7V264.1M1621.2 305.3V363.3M1619.5 213.7h3.4M1619.5 363.3h3.4" stroke="#8a8a8a" stroke-width="1"/>
<rect x="561.7" y="221.5" width="8.6" height="54.5" fill="#a6cee3" stroke="#3a5f75" stroke-width="0.7"/>
<rect x="572.9" y="236.9" width="8.6" height="42.1" fill="#a6cee3" stroke="#3a5f75" stroke-width="0.7"/>
<rect x="584.2" y="240.9" width="8.6" height="47.3" fill="#a6cee3" stroke="#3a5f75" stroke-width="0.7"/>
<rect x="595.4" y="257.5" width="8.6" height="20.9" fill="#a6cee3" stroke="#3a5f75" stroke-width="0.7"/>
<rect x="606.6" y="260.9" width="8.6" height="33.1" fill="#a6cee3" stroke="#3a5f75" stroke-width="0.7"/>
<rect x="617.8" y="256.9" width="8.6" height="35.1" fill="#a6cee3" stroke="#3a5f75" stroke-width="0.7"/>
<rect x="629.1" y="265" width="8.6" height="32.2" fill="#1f78b4" stroke="#13405f" stroke-width="0.7"/>
<rect x="640.3" y="265" width="8.6" height="46.1" fill="#1f78b4" stroke="#13405f" stroke-width="0.7"/>
<rect x="651.5" y="265" width="8.6" height="42.3" fill="#1f78b4" stroke="#13405f" stroke-width="0.7"/>
<rect x="662.7" y="265" width="8.6" height="74.8" fill="#1f78b4" stroke="#13405f" stroke-width="0.7"/>
<path d="M662.7 276.6L671.3 276.6" stroke="#13405f" stroke-width="1" />
<rect x="674" y="265" width="8.6" height="34.5" fill="#1f78b4" stroke="#13405f" stroke-width="0.7"/>
<rect x="685.2" y="265" width="8.6" height="49.9" fill="#1f78b4" stroke="#13405f" stroke-width="0.7"/>
<rect x="696.4" y="265" width="8.6" height="61.2" fill="#1f78b4" stroke="#13405f" stroke-width="0.7"/>
<rect x="707.6" y="265" width="8.6" height="48.4" fill="#1f78b4" stroke="#13405f" stroke-width="0.7"/>
<rect x="730.1" y="265" width="8.6" height="84.7" fill="#1f78b4" stroke="#13405f" stroke-width="0.7"/>
<path d="M730.1 276.6L738.7 276.6" stroke="#13405f" stroke-width="1" />
<rect x="741.3" y="265" width="8.6" height="67.6" fill="#1f78b4" stroke="#13405f" stroke-width="0.7"/>
<rect x="752.5" y="265" width="8.6" height="59.4" fill="#1f78b4" stroke="#13405f" stroke-width="0.7"/>
<rect x="763.8" y="265" width="8.6" height="90.5" fill="#1f78b4" stroke="#13405f" stroke-width="0.7"/>
<path d="M763.8 278.6L772.4 278.6" stroke="#13405f" stroke-width="1" />
<rect x="775" y="265" width="8.6" height="82.6" fill="#1f78b4" stroke="#13405f" stroke-width="0.7"/>
<path d="M775 293.1L783.6 293.1" stroke="#13405f" stroke-width="1" />
<rect x="786.2" y="265" width="8.6" height="36.8" fill="#1f78b4" stroke="#13405f" stroke-width="0.7"/>
<rect x="797.4" y="265" width="8.6" height="8.7" fill="#1f78b4" stroke="#13405f" stroke-width="0.7"/>
<rect x="808.7" y="265" width="8.6" height="49.9" fill="#1f78b4" stroke="#13405f" stroke-width="0.7"/>
<rect x="819.9" y="265" width="8.6" height="67.6" fill="#1f78b4" stroke="#13405f" stroke-width="0.7"/>
<rect x="831.1" y="265" width="8.6" height="43.2" fill="#6a3d9a" stroke="#3a1f58" stroke-width="0.7"/>
<rect x="842.4" y="265" width="8.6" height="46.4" fill="#6a3d9a" stroke="#3a1f58" stroke-width="0.7"/>
<rect x="853.6" y="265" width="8.6" height="42.3" fill="#6a3d9a" stroke="#3a1f58" stroke-width="0.7"/>
<rect x="864.8" y="265" width="8.6" height="34.8" fill="#6a3d9a" stroke="#3a1f58" stroke-width="0.7"/>
<rect x="876" y="265" width="8.6" height="58" fill="#6a3d9a" stroke="#3a1f58" stroke-width="0.7"/>
<rect x="887.3" y="265" width="8.6" height="29.3" fill="#6a3d9a" stroke="#3a1f58" stroke-width="0.7"/>
<rect x="898.5" y="265" width="8.6" height="54.5" fill="#6a3d9a" stroke="#3a1f58" stroke-width="0.7"/>
<rect x="909.7" y="265" width="8.6" height="67.6" fill="#6a3d9a" stroke="#3a1f58" stroke-width="0.7"/>
<rect x="920.9" y="265" width="8.6" height="65.5" fill="#6a3d9a" stroke="#3a1f58" stroke-width="0.7"/>
<rect x="932.2" y="265" width="8.6" height="67.6" fill="#6a3d9a" stroke="#3a1f58" stroke-width="0.7"/>
<path d="M932.2 276.6L940.8 276.6" stroke="#3a1f58" stroke-width="1" />
<rect x="943.4" y="265" width="8.6" height="69.6" fill="#6a3d9a" stroke="#3a1f58" stroke-width="0.7"/>
<rect x="954.6" y="265" width="8.6" height="61.2" fill="#6a3d9a" stroke="#3a1f58" stroke-width="0.7"/>
<rect x="965.8" y="265" width="8.6" height="58" fill="#6a3d9a" stroke="#3a1f58" stroke-width="0.7"/>
<rect x="977.1" y="265" width="8.6" height="62.4" fill="#6a3d9a" stroke="#3a1f58" stroke-width="0.7"/>
<rect x="988.3" y="265" width="8.6" height="67.6" fill="#6a3d9a" stroke="#3a1f58" stroke-width="0.7"/>
<rect x="999.5" y="265" width="8.6" height="57.4" fill="#6a3d9a" stroke="#3a1f58" stroke-width="0.7"/>
<rect x="1010.7" y="265" width="8.6" height="66.7" fill="#6a3d9a" stroke="#3a1f58" stroke-width="0.7"/>
<path d="M1010.7 273.7L1019.3 273.7" stroke="#3a1f58" stroke-width="1" />
<rect x="1022" y="265" width="8.6" height="58" fill="#6a3d9a" stroke="#3a1f58" stroke-width="0.7"/>
<rect x="1033.2" y="265" width="8.6" height="59.4" fill="#6a3d9a" stroke="#3a1f58" stroke-width="0.7"/>
<rect x="1044.4" y="265" width="8.6" height="61.8" fill="#6a3d9a" stroke="#3a1f58" stroke-width="0.7"/>
<path d="M1044.4 280.1L1053 280.1" stroke="#3a1f58" stroke-width="1" />
<rect x="1055.6" y="265" width="8.6" height="67.6" fill="#6a3d9a" stroke="#3a1f58" stroke-width="0.7"/>
<rect x="1066.9" y="265" width="8.6" height="34.8" fill="#6a3d9a" stroke="#3a1f58" stroke-width="0.7"/>
<rect x="1078.1" y="265" width="8.6" height="58" fill="#6a3d9a" stroke="#3a1f58" stroke-width="0.7"/>
<path d="M1078.1 274.3L1086.7 274.3" stroke="#3a1f58" stroke-width="1" />
<rect x="1089.3" y="265" width="8.6" height="67.6" fill="#6a3d9a" stroke="#3a1f58" stroke-width="0.7"/>
<rect x="1100.5" y="265" width="8.6" height="46.4" fill="#6a3d9a" stroke="#3a1f58" stroke-width="0.7"/>
<rect x="1111.8" y="265" width="8.6" height="45.2" fill="#6a3d9a" stroke="#3a1f58" stroke-width="0.7"/>
<rect x="1123" y="265" width="8.6" height="71.1" fill="#6a3d9a" stroke="#3a1f58" stroke-width="0.7"/>
<path d="M1123 293.1L1131.6 293.1" stroke="#3a1f58" stroke-width="1" />
<rect x="1134.2" y="265" width="8.6" height="70.5" fill="#6a3d9a" stroke="#3a1f58" stroke-width="0.7"/>
<path d="M1134.2 282.4L1142.8 282.4" stroke="#3a1f58" stroke-width="1" />
<rect x="1145.5" y="265" width="8.6" height="57.4" fill="#6a3d9a" stroke="#3a1f58" stroke-width="0.7"/>
<rect x="1156.7" y="265" width="8.6" height="60.3" fill="#6a3d9a" stroke="#3a1f58" stroke-width="0.7"/>
<rect x="1167.9" y="265" width="8.6" height="35.1" fill="#fdbf6f" stroke="#9a6a2a" stroke-width="0.7"/>
<rect x="1179.1" y="265" width="8.6" height="57.4" fill="#fdbf6f" stroke="#9a6a2a" stroke-width="0.7"/>
<path d="M1179.1 278.1L1187.7 278.1" stroke="#9a6a2a" stroke-width="1" />
<rect x="1190.4" y="265" width="8.6" height="46.1" fill="#fdbf6f" stroke="#9a6a2a" stroke-width="0.7"/>
<path d="M1190.4 276L1199 276" stroke="#9a6a2a" stroke-width="1" />
<rect x="1201.6" y="265" width="8.6" height="46.1" fill="#fdbf6f" stroke="#9a6a2a" stroke-width="0.7"/>
<path d="M1201.6 273.1L1210.2 273.1" stroke="#9a6a2a" stroke-width="1" />
<rect x="1212.8" y="265" width="8.6" height="53.9" fill="#fdbf6f" stroke="#9a6a2a" stroke-width="0.7"/>
<path d="M1212.8 273.7L1221.4 273.7" stroke="#9a6a2a" stroke-width="1" />
<rect x="1224" y="265" width="8.6" height="55.1" fill="#fdbf6f" stroke="#9a6a2a" stroke-width="0.7"/>
<path d="M1224 277.2L1232.6 277.2" stroke="#9a6a2a" stroke-width="1" />
<rect x="1235.3" y="265" width="8.6" height="60.9" fill="#fdbf6f" stroke="#9a6a2a" stroke-width="0.7"/>
<path d="M1235.3 277.2L1243.9 277.2" stroke="#9a6a2a" stroke-width="1" />
<rect x="1246.5" y="265" width="8.6" height="35.1" fill="#cab2d6" stroke="#6a5a78" stroke-width="0.7"/>
<rect x="1257.7" y="265" width="8.6" height="73.4" fill="#cab2d6" stroke="#6a5a78" stroke-width="0.7"/>
<path d="M1257.7 277.2L1266.3 277.2" stroke="#6a5a78" stroke-width="1" />
<rect x="1268.9" y="265" width="8.6" height="58" fill="#cab2d6" stroke="#6a5a78" stroke-width="0.7"/>
<path d="M1268.9 278.9L1277.5 278.9" stroke="#6a5a78" stroke-width="1" />
<rect x="1280.2" y="265" width="8.6" height="46.1" fill="#cab2d6" stroke="#6a5a78" stroke-width="0.7"/>
<rect x="1291.4" y="265" width="8.6" height="61.8" fill="#cab2d6" stroke="#6a5a78" stroke-width="0.7"/>
<rect x="1302.6" y="265" width="8.6" height="69" fill="#cab2d6" stroke="#6a5a78" stroke-width="0.7"/>
<path d="M1302.6 276.6L1311.2 276.6" stroke="#6a5a78" stroke-width="1" />
<rect x="1313.8" y="265" width="8.6" height="47.6" fill="#cab2d6" stroke="#6a5a78" stroke-width="0.7"/>
<rect x="1325.1" y="265" width="8.6" height="46.1" fill="#cab2d6" stroke="#6a5a78" stroke-width="0.7"/>
<rect x="1336.3" y="247.9" width="8.6" height="62.4" fill="#cab2d6" stroke="#6a5a78" stroke-width="0.7"/>
<rect x="1347.5" y="265" width="8.6" height="51" fill="#cab2d6" stroke="#6a5a78" stroke-width="0.7"/>
<rect x="1358.7" y="265" width="8.6" height="60.3" fill="#cab2d6" stroke="#6a5a78" stroke-width="0.7"/>
<rect x="1370" y="265" width="8.6" height="59.7" fill="#b2df8a" stroke="#5f7a48" stroke-width="0.7"/>
<path d="M1370 273.1L1378.6 273.1" stroke="#5f7a48" stroke-width="1" />
<rect x="1381.2" y="265" width="8.6" height="55.1" fill="#b2df8a" stroke="#5f7a48" stroke-width="0.7"/>
<rect x="1392.4" y="265" width="8.6" height="41.8" fill="#b2df8a" stroke="#5f7a48" stroke-width="0.7"/>
<rect x="1403.7" y="265" width="8.6" height="33.1" fill="#33a02c" stroke="#1b5a18" stroke-width="0.7"/>
<rect x="1426.1" y="265" width="8.6" height="58" fill="#33a02c" stroke="#1b5a18" stroke-width="0.7"/>
<rect x="1437.3" y="265" width="8.6" height="46.1" fill="#33a02c" stroke="#1b5a18" stroke-width="0.7"/>
<rect x="1448.6" y="259.5" width="8.6" height="43.8" fill="#33a02c" stroke="#1b5a18" stroke-width="0.7"/>
<rect x="1459.8" y="265" width="8.6" height="58" fill="#33a02c" stroke="#1b5a18" stroke-width="0.7"/>
<rect x="1482.2" y="265" width="8.6" height="16.8" fill="#33a02c" stroke="#1b5a18" stroke-width="0.7"/>
<rect x="1493.5" y="238.6" width="8.6" height="71.6" fill="#33a02c" stroke="#1b5a18" stroke-width="0.7"/>
<rect x="1504.7" y="265" width="8.6" height="60.9" fill="#fb9a99" stroke="#8a4a4a" stroke-width="0.7"/>
<rect x="1515.9" y="253.1" width="8.6" height="52.8" fill="#fb9a99" stroke="#8a4a4a" stroke-width="0.7"/>
<rect x="1527.1" y="265" width="8.6" height="67.6" fill="#e31a1c" stroke="#7a0e10" stroke-width="0.7"/>
<rect x="1538.4" y="265" width="8.6" height="49.9" fill="#e31a1c" stroke="#7a0e10" stroke-width="0.7"/>
<path d="M1538.4 267.9L1547 267.9" stroke="#7a0e10" stroke-width="1" />
<rect x="1549.6" y="234.3" width="8.6" height="78.3" fill="#e31a1c" stroke="#7a0e10" stroke-width="0.7"/>
<rect x="1560.8" y="238.9" width="8.6" height="64.4" fill="#66c2c5" stroke="#2a6a6c" stroke-width="0.7"/>
<rect x="1572" y="165.5" width="8.6" height="98.9" fill="#ff7f00" stroke="#8a4500" stroke-width="0.7"/>
<path d="M1572 213.1L1580.6 213.1" stroke="#8a4500" stroke-width="1" />
<rect x="1583.3" y="195.7" width="8.6" height="80.3" fill="#ff7f00" stroke="#8a4500" stroke-width="0.7"/>
<path d="M1583.3 258L1591.9 258" stroke="#8a4500" stroke-width="1" />
<rect x="1594.5" y="200" width="8.6" height="72.2" fill="#ff7f00" stroke="#8a4500" stroke-width="0.7"/>
<path d="M1594.5 255.1L1603.1 255.1" stroke="#8a4500" stroke-width="1" />
<rect x="1605.7" y="203.5" width="8.6" height="78.9" fill="#ff7f00" stroke="#8a4500" stroke-width="0.7"/>
<path d="M1605.7 259.5L1614.3 259.5" stroke="#8a4500" stroke-width="1" />
<rect x="1616.9" y="264.1" width="8.6" height="41.2" fill="#ff7f00" stroke="#8a4500" stroke-width="0.7"/>
<path d="M1616.9 267.3L1625.5 267.3" stroke="#8a4500" stroke-width="1" />
<path d="M563.5 411.5h.01M563.5 471.5h.01M563.5 479.5h.01M564.5 365.5h.01M565.5 372.5h.01M566.5 370.5h.01M566.5 382.5h.01M566.5 410.5h.01M566.5 415.5h.01M566.5 428.5h.01M567.5 369.5h.01M568.5 131.5h.01M569.5 410.5h.01M574.5 404.5h.01M575.5 172.5h.01M575.5 349.5h.01M575.5 427.5h.01M576.5 162.5h.01M576.5 350.5h.01M576.5 378.5h.01M577.5 350.5h.01M577.5 373.5h.01M577.5 374.5h.01M577.5 396.5h.01M577.5 423.5h.01M577.5 555.5h.01M578.5 131.5h.01M578.5 370.5h.01M579.5 368.5h.01M579.5 382.5h.01M579.5 412.5h.01M580.5 373.5h.01M580.5 456.5h.01M585.5 392.5h.01M586.5 361.5h.01M586.5 366.5h.01M586.5 395.5h.01M586.5 403.5h.01M586.5 462.5h.01M587.5 149.5h.01M587.5 375.5h.01M587.5 391.5h.01M588.5 127.5h.01M588.5 361.5h.01M588.5 391.5h.01M589.5 403.5h.01M589.5 406.5h.01M590.5 437.5h.01M591.5 365.5h.01M591.5 410.5h.01M592.5 435.5h.01M597.5 191.5h.01M597.5 323.5h.01M597.5 342.5h.01M597.5 348.5h.01M597.5 381.5h.01M598.5 170.5h.01M598.5 195.5h.01M598.5 203.5h.01M598.5 330.5h.01M598.5 331.5h.01M598.5 336.5h.01M598.5 343.5h.01M598.5 353.5h.01M598.5 376.5h.01M598.5 407.5h.01M599.5 171.5h.01M599.5 395.5h.01M599.5 410.5h.01M599.5 422.5h.01M599.5 424.5h.01M600.5 179.5h.01M600.5 181.5h.01M600.5 187.5h.01M600.5 192.5h.01M600.5 194.5h.01M600.5 200.5h.01M600.5 205.5h.01M600.5 208.5h.01M600.5 314.5h.01M600.5 329.5h.01M600.5 332.5h.01M600.5 402.5h.01M600.5 411.5h.01M601.5 189.5h.01M601.5 190.5h.01M601.5 192.5h.01M601.5 358.5h.01M601.5 391.5h.01M601.5 401.5h.01M602.5 183.5h.01M602.5 196.5h.01M602.5 210.5h.01M602.5 324.5h.01M602.5 325.5h.01M602.5 331.5h.01M602.5 340.5h.01M602.5 402.5h.01M602.5 420.5h.01M603.5 193.5h.01M603.5 396.5h.01M608.5 167.5h.01M608.5 345.5h.01M608.5 354.5h.01M608.5 374.5h.01M608.5 427.5h.01M609.5 191.5h.01M609.5 201.5h.01M609.5 203.5h.01M609.5 204.5h.01M609.5 372.5h.01M609.5 381.5h.01M609.5 396.5h.01M609.5 401.5h.01M610.5 377.5h.01M610.5 430.5h.01M610.5 443.5h.01M611.5 168.5h.01M611.5 185.5h.01M611.5 203.5h.01M611.5 210.5h.01M611.5 355.5h.01M611.5 373.5h.01M611.5 377.5h.01M611.5 390.5h.01M611.5 462.5h.01M612.5 171.5h.01M612.5 185.5h.01M612.5 195.5h.01M612.5 347.5h.01M613.5 203.5h.01M613.5 351.5h.01M613.5 354.5h.01M613.5 359.5h.01M613.5 409.5h.01M613.5 461.5h.01M614.5 173.5h.01M614.5 367.5h.01M614.5 402.5h.01M614.5 453.5h.01M619.5 180.5h.01M619.5 372.5h.01M619.5 398.5h.01M619.5 434.5h.01M620.5 171.5h.01M620.5 177.5h.01M620.5 347.5h.01M620.5 420.5h.01M620.5 434.5h.01M621.5 344.5h.01M621.5 394.5h.01M621.5 400.5h.01M621.5 401.5h.01M621.5 429.5h.01M622.5 185.5h.01M622.5 420.5h.01M623.5 167.5h.01M623.5 170.5h.01M623.5 428.5h.01M623.5 437.5h.01M624.5 170.5h.01M624.5 180.5h.01M624.5 200.5h.01M624.5 351.5h.01M625.5 170.5h.01M625.5 355.5h.01" stroke="#4a6474" stroke-width="4.8" stroke-linecap="round"/>
<path d="M563.5 411.5h.01M563.5 471.5h.01M563.5 479.5h.01M564.5 365.5h.01M565.5 372.5h.01M566.5 370.5h.01M566.5 382.5h.01M566.5 410.5h.01M566.5 415.5h.01M566.5 428.5h.01M567.5 369.5h.01M568.5 131.5h.01M569.5 410.5h.01M574.5 404.5h.01M575.5 172.5h.01M575.5 349.5h.01M575.5 427.5h.01M576.5 162.5h.01M576.5 350.5h.01M576.5 378.5h.01M577.5 350.5h.01M577.5 373.5h.01M577.5 374.5h.01M577.5 396.5h.01M577.5 423.5h.01M577.5 555.5h.01M578.5 131.5h.01M578.5 370.5h.01M579.5 368.5h.01M579.5 382.5h.01M579.5 412.5h.01M580.5 373.5h.01M580.5 456.5h.01M585.5 392.5h.01M586.5 361.5h.01M586.5 366.5h.01M586.5 395.5h.01M586.5 403.5h.01M586.5 462.5h.01M587.5 149.5h.01M587.5 375.5h.01M587.5 391.5h.01M588.5 127.5h.01M588.5 361.5h.01M588.5 391.5h.01M589.5 403.5h.01M589.5 406.5h.01M590.5 437.5h.01M591.5 365.5h.01M591.5 410.5h.01M592.5 435.5h.01M597.5 191.5h.01M597.5 323.5h.01M597.5 342.5h.01M597.5 348.5h.01M597.5 381.5h.01M598.5 170.5h.01M598.5 195.5h.01M598.5 203.5h.01M598.5 330.5h.01M598.5 331.5h.01M598.5 336.5h.01M598.5 343.5h.01M598.5 353.5h.01M598.5 376.5h.01M598.5 407.5h.01M599.5 171.5h.01M599.5 395.5h.01M599.5 410.5h.01M599.5 422.5h.01M599.5 424.5h.01M600.5 179.5h.01M600.5 181.5h.01M600.5 187.5h.01M600.5 192.5h.01M600.5 194.5h.01M600.5 200.5h.01M600.5 205.5h.01M600.5 208.5h.01M600.5 314.5h.01M600.5 329.5h.01M600.5 332.5h.01M600.5 402.5h.01M600.5 411.5h.01M601.5 189.5h.01M601.5 190.5h.01M601.5 192.5h.01M601.5 358.5h.01M601.5 391.5h.01M601.5 401.5h.01M602.5 183.5h.01M602.5 196.5h.01M602.5 210.5h.01M602.5 324.5h.01M602.5 325.5h.01M602.5 331.5h.01M602.5 340.5h.01M602.5 402.5h.01M602.5 420.5h.01M603.5 193.5h.01M603.5 396.5h.01M608.5 167.5h.01M608.5 345.5h.01M608.5 354.5h.01M608.5 374.5h.01M608.5 427.5h.01M609.5 191.5h.01M609.5 201.5h.01M609.5 203.5h.01M609.5 204.5h.01M609.5 372.5h.01M609.5 381.5h.01M609.5 396.5h.01M609.5 401.5h.01M610.5 377.5h.01M610.5 430.5h.01M610.5 443.5h.01M611.5 168.5h.01M611.5 185.5h.01M611.5 203.5h.01M611.5 210.5h.01M611.5 355.5h.01M611.5 373.5h.01M611.5 377.5h.01M611.5 390.5h.01M611.5 462.5h.01M612.5 171.5h.01M612.5 185.5h.01M612.5 195.5h.01M612.5 347.5h.01M613.5 203.5h.01M613.5 351.5h.01M613.5 354.5h.01M613.5 359.5h.01M613.5 409.5h.01M613.5 461.5h.01M614.5 173.5h.01M614.5 367.5h.01M614.5 402.5h.01M614.5 453.5h.01M619.5 180.5h.01M619.5 372.5h.01M619.5 398.5h.01M619.5 434.5h.01M620.5 171.5h.01M620.5 177.5h.01M620.5 347.5h.01M620.5 420.5h.01M620.5 434.5h.01M621.5 344.5h.01M621.5 394.5h.01M621.5 400.5h.01M621.5 401.5h.01M621.5 429.5h.01M622.5 185.5h.01M622.5 420.5h.01M623.5 167.5h.01M623.5 170.5h.01M623.5 428.5h.01M623.5 437.5h.01M624.5 170.5h.01M624.5 180.5h.01M624.5 200.5h.01M624.5 351.5h.01M625.5 170.5h.01M625.5 355.5h.01" stroke="#d9e8f0" stroke-width="3" stroke-linecap="round"/>
<path d="M630.5 372.5h.01M630.5 435.5h.01M631.5 205.5h.01M631.5 372.5h.01M631.5 397.5h.01M631.5 405.5h.01M631.5 409.5h.01M631.5 444.5h.01M632.5 360.5h.01M632.5 373.5h.01M632.5 377.5h.01M632.5 397.5h.01M632.5 424.5h.01M633.5 167.5h.01M633.5 200.5h.01M633.5 352.5h.01M633.5 391.5h.01M634.5 356.5h.01M634.5 358.5h.01M635.5 373.5h.01M635.5 375.5h.01M635.5 385.5h.01M636.5 210.5h.01M636.5 384.5h.01M636.5 431.5h.01M637.5 376.5h.01M642.5 139.5h.01M642.5 390.5h.01M642.5 399.5h.01M642.5 401.5h.01M642.5 438.5h.01M643.5 146.5h.01M643.5 388.5h.01M643.5 401.5h.01M643.5 407.5h.01M643.5 412.5h.01M643.5 420.5h.01M643.5 439.5h.01M643.5 442.5h.01M644.5 413.5h.01M644.5 426.5h.01M644.5 451.5h.01M644.5 471.5h.01M644.5 555.5h.01M645.5 170.5h.01M645.5 396.5h.01M645.5 398.5h.01M645.5 437.5h.01M645.5 443.5h.01M646.5 438.5h.01M646.5 460.5h.01M647.5 386.5h.01M647.5 399.5h.01M647.5 420.5h.01M647.5 427.5h.01M647.5 440.5h.01M648.5 437.5h.01M653.5 397.5h.01M653.5 434.5h.01M653.5 448.5h.01M654.5 163.5h.01M654.5 181.5h.01M654.5 376.5h.01M654.5 422.5h.01M654.5 468.5h.01M655.5 374.5h.01M655.5 378.5h.01M655.5 399.5h.01M655.5 406.5h.01M655.5 464.5h.01M655.5 471.5h.01M656.5 372.5h.01M656.5 380.5h.01M656.5 387.5h.01M656.5 453.5h.01M656.5 526.5h.01M657.5 416.5h.01M657.5 460.5h.01M658.5 392.5h.01M658.5 417.5h.01M658.5 473.5h.01M659.5 377.5h.01M659.5 418.5h.01M659.5 423.5h.01M665.5 503.5h.01M665.5 510.5h.01M666.5 451.5h.01M666.5 496.5h.01M666.5 499.5h.01M666.5 508.5h.01M668.5 175.5h.01M668.5 474.5h.01M668.5 555.5h.01M669.5 507.5h.01M675.5 358.5h.01M675.5 383.5h.01M676.5 377.5h.01M677.5 373.5h.01M677.5 401.5h.01M677.5 413.5h.01M677.5 414.5h.01M678.5 370.5h.01M678.5 383.5h.01M678.5 418.5h.01M679.5 417.5h.01M680.5 356.5h.01M680.5 378.5h.01M680.5 382.5h.01M681.5 216.5h.01M681.5 379.5h.01M681.5 432.5h.01M681.5 454.5h.01M687.5 392.5h.01M687.5 403.5h.01M688.5 193.5h.01M688.5 392.5h.01M688.5 400.5h.01M688.5 422.5h.01M689.5 407.5h.01M689.5 423.5h.01M689.5 432.5h.01M690.5 413.5h.01M690.5 436.5h.01M692.5 395.5h.01M692.5 397.5h.01M692.5 435.5h.01M693.5 453.5h.01M698.5 479.5h.01M698.5 482.5h.01M699.5 428.5h.01M699.5 458.5h.01M699.5 489.5h.01M699.5 496.5h.01M700.5 478.5h.01M701.5 526.5h.01M703.5 433.5h.01M703.5 471.5h.01M704.5 431.5h.01M709.5 389.5h.01M709.5 398.5h.01M709.5 443.5h.01M710.5 428.5h.01M710.5 447.5h.01M710.5 474.5h.01M711.5 403.5h.01M712.5 386.5h.01M712.5 403.5h.01M712.5 409.5h.01M712.5 441.5h.01M712.5 476.5h.01M712.5 485.5h.01M713.5 396.5h.01M713.5 420.5h.01M713.5 555.5h.01M714.5 398.5h.01M714.5 412.5h.01M714.5 471.5h.01M715.5 207.5h.01M720.5 212.5h.01M720.5 218.5h.01M720.5 307.5h.01M720.5 309.5h.01M721.5 214.5h.01M721.5 234.5h.01M721.5 318.5h.01M721.5 357.5h.01M721.5 372.5h.01M721.5 492.5h.01M722.5 451.5h.01M722.5 507.5h.01M723.5 202.5h.01M723.5 241.5h.01M723.5 242.5h.01M723.5 265.5h.01M723.5 272.5h.01M723.5 279.5h.01M723.5 307.5h.01M723.5 315.5h.01M723.5 333.5h.01M723.5 349.5h.01M723.5 358.5h.01M723.5 365.5h.01M723.5 382.5h.01M724.5 286.5h.01M724.5 370.5h.01M724.5 385.5h.01M725.5 199.5h.01M725.5 228.5h.01M725.5 272.5h.01M725.5 283.5h.01M725.5 324.5h.01M725.5 339.5h.01M725.5 345.5h.01M725.5 347.5h.01M725.5 361.5h.01M725.5 377.5h.01M725.5 385.5h.01M725.5 498.5h.01M726.5 207.5h.01M726.5 317.5h.01M726.5 319.5h.01M726.5 362.5h.01M726.5 366.5h.01M726.5 431.5h.01M726.5 491.5h.01M733.5 172.5h.01M734.5 526.5h.01M735.5 507.5h.01M736.5 509.5h.01M737.5 531.5h.01M743.5 451.5h.01M743.5 484.5h.01M744.5 446.5h.01M745.5 458.5h.01M746.5 435.5h.01M746.5 446.5h.01M746.5 463.5h.01M746.5 465.5h.01M746.5 496.5h.01M747.5 483.5h.01M747.5 493.5h.01M748.5 493.5h.01M754.5 162.5h.01M754.5 426.5h.01M754.5 474.5h.01M754.5 478.5h.01M755.5 417.5h.01M755.5 458.5h.01M756.5 440.5h.01M757.5 454.5h.01M757.5 473.5h.01M757.5 482.5h.01M758.5 420.5h.01M758.5 442.5h.01M758.5 449.5h.01M758.5 495.5h.01M758.5 555.5h.01M765.5 123.5h.01M766.5 162.5h.01M767.5 539.5h.01M769.5 521.5h.01M769.5 526.5h.01M771.5 539.5h.01M776.5 492.5h.01M777.5 114.5h.01M777.5 165.5h.01M778.5 519.5h.01M779.5 514.5h.01M780.5 483.5h.01M780.5 515.5h.01M782.5 468.5h.01M782.5 512.5h.01M788.5 179.5h.01M788.5 359.5h.01M788.5 362.5h.01M788.5 366.5h.01M788.5 400.5h.01M788.5 409.5h.01M789.5 354.5h.01M789.5 366.5h.01M790.5 398.5h.01M791.5 397.5h.01M791.5 405.5h.01M791.5 555.5h.01M793.5 376.5h.01M793.5 407.5h.01M793.5 417.5h.01M798.5 172.5h.01M798.5 381.5h.01M799.5 260.5h.01M799.5 294.5h.01M799.5 296.5h.01M799.5 324.5h.01M799.5 340.5h.01M799.5 373.5h.01M799.5 385.5h.01M800.5 181.5h.01M800.5 196.5h.01M800.5 210.5h.01M800.5 219.5h.01M800.5 233.5h.01M800.5 290.5h.01M800.5 312.5h.01M800.5 340.5h.01M800.5 375.5h.01M800.5 397.5h.01M800.5 418.5h.01M800.5 459.5h.01M801.5 225.5h.01M801.5 235.5h.01M801.5 258.5h.01M801.5 295.5h.01M801.5 297.5h.01M801.5 318.5h.01M801.5 333.5h.01M801.5 361.5h.01M801.5 376.5h.01M801.5 378.5h.01M801.5 392.5h.01M801.5 398.5h.01M801.5 447.5h.01M802.5 243.5h.01M802.5 298.5h.01M802.5 306.5h.01M802.5 359.5h.01M802.5 446.5h.01M803.5 173.5h.01M803.5 207.5h.01M803.5 221.5h.01M803.5 230.5h.01M803.5 296.5h.01M803.5 299.5h.01M803.5 304.5h.01M803.5 325.5h.01M803.5 369.5h.01M803.5 372.5h.01M803.5 374.5h.01M803.5 468.5h.01M803.5 471.5h.01M804.5 171.5h.01M804.5 243.5h.01M804.5 283.5h.01M804.5 284.5h.01M804.5 292.5h.01M804.5 311.5h.01M804.5 322.5h.01M804.5 323.5h.01M804.5 325.5h.01M804.5 357.5h.01M804.5 369.5h.01M804.5 401.5h.01M804.5 402.5h.01M804.5 474.5h.01M805.5 398.5h.01M810.5 392.5h.01M810.5 448.5h.01M811.5 429.5h.01M811.5 441.5h.01M812.5 396.5h.01M813.5 438.5h.01M813.5 451.5h.01M814.5 179.5h.01M814.5 401.5h.01M814.5 403.5h.01M814.5 448.5h.01M814.5 451.5h.01M814.5 466.5h.01M815.5 442.5h.01M815.5 452.5h.01M816.5 449.5h.01M821.5 470.5h.01M822.5 436.5h.01M822.5 492.5h.01M823.5 479.5h.01M825.5 456.5h.01M825.5 486.5h.01M825.5 490.5h.01M826.5 487.5h.01M826.5 497.5h.01M827.5 452.5h.01" stroke="#0f2f48" stroke-width="4.8" stroke-linecap="round"/>
<path d="M630.5 372.5h.01M630.5 435.5h.01M631.5 205.5h.01M631.5 372.5h.01M631.5 397.5h.01M631.5 405.5h.01M631.5 409.5h.01M631.5 444.5h.01M632.5 360.5h.01M632.5 373.5h.01M632.5 377.5h.01M632.5 397.5h.01M632.5 424.5h.01M633.5 167.5h.01M633.5 200.5h.01M633.5 352.5h.01M633.5 391.5h.01M634.5 356.5h.01M634.5 358.5h.01M635.5 373.5h.01M635.5 375.5h.01M635.5 385.5h.01M636.5 210.5h.01M636.5 384.5h.01M636.5 431.5h.01M637.5 376.5h.01M642.5 139.5h.01M642.5 390.5h.01M642.5 399.5h.01M642.5 401.5h.01M642.5 438.5h.01M643.5 146.5h.01M643.5 388.5h.01M643.5 401.5h.01M643.5 407.5h.01M643.5 412.5h.01M643.5 420.5h.01M643.5 439.5h.01M643.5 442.5h.01M644.5 413.5h.01M644.5 426.5h.01M644.5 451.5h.01M644.5 471.5h.01M644.5 555.5h.01M645.5 170.5h.01M645.5 396.5h.01M645.5 398.5h.01M645.5 437.5h.01M645.5 443.5h.01M646.5 438.5h.01M646.5 460.5h.01M647.5 386.5h.01M647.5 399.5h.01M647.5 420.5h.01M647.5 427.5h.01M647.5 440.5h.01M648.5 437.5h.01M653.5 397.5h.01M653.5 434.5h.01M653.5 448.5h.01M654.5 163.5h.01M654.5 181.5h.01M654.5 376.5h.01M654.5 422.5h.01M654.5 468.5h.01M655.5 374.5h.01M655.5 378.5h.01M655.5 399.5h.01M655.5 406.5h.01M655.5 464.5h.01M655.5 471.5h.01M656.5 372.5h.01M656.5 380.5h.01M656.5 387.5h.01M656.5 453.5h.01M656.5 526.5h.01M657.5 416.5h.01M657.5 460.5h.01M658.5 392.5h.01M658.5 417.5h.01M658.5 473.5h.01M659.5 377.5h.01M659.5 418.5h.01M659.5 423.5h.01M665.5 503.5h.01M665.5 510.5h.01M666.5 451.5h.01M666.5 496.5h.01M666.5 499.5h.01M666.5 508.5h.01M668.5 175.5h.01M668.5 474.5h.01M668.5 555.5h.01M669.5 507.5h.01M675.5 358.5h.01M675.5 383.5h.01M676.5 377.5h.01M677.5 373.5h.01M677.5 401.5h.01M677.5 413.5h.01M677.5 414.5h.01M678.5 370.5h.01M678.5 383.5h.01M678.5 418.5h.01M679.5 417.5h.01M680.5 356.5h.01M680.5 378.5h.01M680.5 382.5h.01M681.5 216.5h.01M681.5 379.5h.01M681.5 432.5h.01M681.5 454.5h.01M687.5 392.5h.01M687.5 403.5h.01M688.5 193.5h.01M688.5 392.5h.01M688.5 400.5h.01M688.5 422.5h.01M689.5 407.5h.01M689.5 423.5h.01M689.5 432.5h.01M690.5 413.5h.01M690.5 436.5h.01M692.5 395.5h.01M692.5 397.5h.01M692.5 435.5h.01M693.5 453.5h.01M698.5 479.5h.01M698.5 482.5h.01M699.5 428.5h.01M699.5 458.5h.01M699.5 489.5h.01M699.5 496.5h.01M700.5 478.5h.01M701.5 526.5h.01M703.5 433.5h.01M703.5 471.5h.01M704.5 431.5h.01M709.5 389.5h.01M709.5 398.5h.01M709.5 443.5h.01M710.5 428.5h.01M710.5 447.5h.01M710.5 474.5h.01M711.5 403.5h.01M712.5 386.5h.01M712.5 403.5h.01M712.5 409.5h.01M712.5 441.5h.01M712.5 476.5h.01M712.5 485.5h.01M713.5 396.5h.01M713.5 420.5h.01M713.5 555.5h.01M714.5 398.5h.01M714.5 412.5h.01M714.5 471.5h.01M715.5 207.5h.01M720.5 212.5h.01M720.5 218.5h.01M720.5 307.5h.01M720.5 309.5h.01M721.5 214.5h.01M721.5 234.5h.01M721.5 318.5h.01M721.5 357.5h.01M721.5 372.5h.01M721.5 492.5h.01M722.5 451.5h.01M722.5 507.5h.01M723.5 202.5h.01M723.5 241.5h.01M723.5 242.5h.01M723.5 265.5h.01M723.5 272.5h.01M723.5 279.5h.01M723.5 307.5h.01M723.5 315.5h.01M723.5 333.5h.01M723.5 349.5h.01M723.5 358.5h.01M723.5 365.5h.01M723.5 382.5h.01M724.5 286.5h.01M724.5 370.5h.01M724.5 385.5h.01M725.5 199.5h.01M725.5 228.5h.01M725.5 272.5h.01M725.5 283.5h.01M725.5 324.5h.01M725.5 339.5h.01M725.5 345.5h.01M725.5 347.5h.01M725.5 361.5h.01M725.5 377.5h.01M725.5 385.5h.01M725.5 498.5h.01M726.5 207.5h.01M726.5 317.5h.01M726.5 319.5h.01M726.5 362.5h.01M726.5 366.5h.01M726.5 431.5h.01M726.5 491.5h.01M733.5 172.5h.01M734.5 526.5h.01M735.5 507.5h.01M736.5 509.5h.01M737.5 531.5h.01M743.5 451.5h.01M743.5 484.5h.01M744.5 446.5h.01M745.5 458.5h.01M746.5 435.5h.01M746.5 446.5h.01M746.5 463.5h.01M746.5 465.5h.01M746.5 496.5h.01M747.5 483.5h.01M747.5 493.5h.01M748.5 493.5h.01M754.5 162.5h.01M754.5 426.5h.01M754.5 474.5h.01M754.5 478.5h.01M755.5 417.5h.01M755.5 458.5h.01M756.5 440.5h.01M757.5 454.5h.01M757.5 473.5h.01M757.5 482.5h.01M758.5 420.5h.01M758.5 442.5h.01M758.5 449.5h.01M758.5 495.5h.01M758.5 555.5h.01M765.5 123.5h.01M766.5 162.5h.01M767.5 539.5h.01M769.5 521.5h.01M769.5 526.5h.01M771.5 539.5h.01M776.5 492.5h.01M777.5 114.5h.01M777.5 165.5h.01M778.5 519.5h.01M779.5 514.5h.01M780.5 483.5h.01M780.5 515.5h.01M782.5 468.5h.01M782.5 512.5h.01M788.5 179.5h.01M788.5 359.5h.01M788.5 362.5h.01M788.5 366.5h.01M788.5 400.5h.01M788.5 409.5h.01M789.5 354.5h.01M789.5 366.5h.01M790.5 398.5h.01M791.5 397.5h.01M791.5 405.5h.01M791.5 555.5h.01M793.5 376.5h.01M793.5 407.5h.01M793.5 417.5h.01M798.5 172.5h.01M798.5 381.5h.01M799.5 260.5h.01M799.5 294.5h.01M799.5 296.5h.01M799.5 324.5h.01M799.5 340.5h.01M799.5 373.5h.01M799.5 385.5h.01M800.5 181.5h.01M800.5 196.5h.01M800.5 210.5h.01M800.5 219.5h.01M800.5 233.5h.01M800.5 290.5h.01M800.5 312.5h.01M800.5 340.5h.01M800.5 375.5h.01M800.5 397.5h.01M800.5 418.5h.01M800.5 459.5h.01M801.5 225.5h.01M801.5 235.5h.01M801.5 258.5h.01M801.5 295.5h.01M801.5 297.5h.01M801.5 318.5h.01M801.5 333.5h.01M801.5 361.5h.01M801.5 376.5h.01M801.5 378.5h.01M801.5 392.5h.01M801.5 398.5h.01M801.5 447.5h.01M802.5 243.5h.01M802.5 298.5h.01M802.5 306.5h.01M802.5 359.5h.01M802.5 446.5h.01M803.5 173.5h.01M803.5 207.5h.01M803.5 221.5h.01M803.5 230.5h.01M803.5 296.5h.01M803.5 299.5h.01M803.5 304.5h.01M803.5 325.5h.01M803.5 369.5h.01M803.5 372.5h.01M803.5 374.5h.01M803.5 468.5h.01M803.5 471.5h.01M804.5 171.5h.01M804.5 243.5h.01M804.5 283.5h.01M804.5 284.5h.01M804.5 292.5h.01M804.5 311.5h.01M804.5 322.5h.01M804.5 323.5h.01M804.5 325.5h.01M804.5 357.5h.01M804.5 369.5h.01M804.5 401.5h.01M804.5 402.5h.01M804.5 474.5h.01M805.5 398.5h.01M810.5 392.5h.01M810.5 448.5h.01M811.5 429.5h.01M811.5 441.5h.01M812.5 396.5h.01M813.5 438.5h.01M813.5 451.5h.01M814.5 179.5h.01M814.5 401.5h.01M814.5 403.5h.01M814.5 448.5h.01M814.5 451.5h.01M814.5 466.5h.01M815.5 442.5h.01M815.5 452.5h.01M816.5 449.5h.01M821.5 470.5h.01M822.5 436.5h.01M822.5 492.5h.01M823.5 479.5h.01M825.5 456.5h.01M825.5 486.5h.01M825.5 490.5h.01M826.5 487.5h.01M826.5 497.5h.01M827.5 452.5h.01" stroke="#1d5a85" stroke-width="3" stroke-linecap="round"/>
<path d="M832.5 424.5h.01M833.5 384.5h.01M833.5 394.5h.01M833.5 431.5h.01M833.5 462.5h.01M834.5 185.5h.01M835.5 383.5h.01M835.5 398.5h.01M835.5 411.5h.01M835.5 428.5h.01M835.5 438.5h.01M837.5 216.5h.01M838.5 381.5h.01M838.5 412.5h.01M839.5 431.5h.01M844.5 176.5h.01M844.5 400.5h.01M844.5 439.5h.01M844.5 451.5h.01M844.5 454.5h.01M844.5 493.5h.01M845.5 428.5h.01M845.5 446.5h.01M845.5 450.5h.01M845.5 491.5h.01M846.5 422.5h.01M846.5 424.5h.01M846.5 447.5h.01M847.5 383.5h.01M847.5 396.5h.01M847.5 408.5h.01M847.5 450.5h.01M847.5 480.5h.01M848.5 396.5h.01M848.5 407.5h.01M848.5 432.5h.01M848.5 443.5h.01M849.5 384.5h.01M849.5 455.5h.01M855.5 192.5h.01M855.5 398.5h.01M855.5 480.5h.01M856.5 400.5h.01M856.5 402.5h.01M856.5 419.5h.01M857.5 396.5h.01M857.5 436.5h.01M858.5 375.5h.01M858.5 388.5h.01M858.5 409.5h.01M858.5 424.5h.01M858.5 427.5h.01M859.5 433.5h.01M859.5 441.5h.01M860.5 402.5h.01M860.5 417.5h.01M860.5 438.5h.01M860.5 441.5h.01M861.5 390.5h.01M861.5 477.5h.01M866.5 200.5h.01M867.5 362.5h.01M868.5 173.5h.01M868.5 348.5h.01M868.5 364.5h.01M868.5 401.5h.01M868.5 411.5h.01M868.5 417.5h.01M868.5 555.5h.01M869.5 371.5h.01M869.5 379.5h.01M869.5 408.5h.01M869.5 442.5h.01M870.5 394.5h.01M870.5 414.5h.01M870.5 448.5h.01M871.5 390.5h.01M871.5 392.5h.01M871.5 409.5h.01M871.5 412.5h.01M871.5 416.5h.01M871.5 422.5h.01M871.5 462.5h.01M872.5 392.5h.01M872.5 405.5h.01M877.5 494.5h.01M878.5 428.5h.01M880.5 440.5h.01M880.5 473.5h.01M881.5 158.5h.01M881.5 492.5h.01M882.5 489.5h.01M883.5 417.5h.01M883.5 456.5h.01M888.5 362.5h.01M889.5 380.5h.01M889.5 420.5h.01M890.5 345.5h.01M891.5 368.5h.01M891.5 388.5h.01M891.5 396.5h.01M891.5 416.5h.01M892.5 176.5h.01M892.5 344.5h.01M892.5 395.5h.01M892.5 443.5h.01M893.5 356.5h.01M893.5 395.5h.01M894.5 345.5h.01M894.5 352.5h.01M894.5 372.5h.01M894.5 409.5h.01M900.5 421.5h.01M900.5 466.5h.01M901.5 487.5h.01M901.5 490.5h.01M902.5 411.5h.01M902.5 416.5h.01M902.5 430.5h.01M903.5 414.5h.01M905.5 425.5h.01M906.5 462.5h.01M911.5 435.5h.01M912.5 464.5h.01M912.5 493.5h.01M913.5 479.5h.01M916.5 497.5h.01M917.5 446.5h.01M917.5 497.5h.01M923.5 435.5h.01M923.5 473.5h.01M924.5 466.5h.01M925.5 484.5h.01M927.5 433.5h.01M927.5 475.5h.01M927.5 487.5h.01M928.5 430.5h.01M928.5 493.5h.01M935.5 490.5h.01M936.5 464.5h.01M936.5 487.5h.01M937.5 170.5h.01M937.5 452.5h.01M937.5 555.5h.01M938.5 434.5h.01M938.5 453.5h.01M945.5 443.5h.01M945.5 497.5h.01M946.5 438.5h.01M946.5 439.5h.01M946.5 497.5h.01M947.5 459.5h.01M947.5 473.5h.01M947.5 526.5h.01M949.5 469.5h.01M956.5 462.5h.01M958.5 497.5h.01M959.5 447.5h.01M960.5 428.5h.01M960.5 434.5h.01M960.5 465.5h.01M960.5 480.5h.01M962.5 447.5h.01M962.5 459.5h.01M969.5 460.5h.01M969.5 489.5h.01M970.5 185.5h.01M970.5 433.5h.01M970.5 440.5h.01M970.5 445.5h.01M970.5 555.5h.01M971.5 435.5h.01M971.5 483.5h.01M973.5 423.5h.01M973.5 445.5h.01M973.5 479.5h.01M980.5 420.5h.01M980.5 470.5h.01M980.5 473.5h.01M980.5 493.5h.01M981.5 459.5h.01M981.5 495.5h.01M981.5 555.5h.01M984.5 456.5h.01M990.5 433.5h.01M991.5 501.5h.01M992.5 475.5h.01M993.5 487.5h.01M995.5 449.5h.01M995.5 468.5h.01M1001.5 480.5h.01M1003.5 182.5h.01M1003.5 489.5h.01M1005.5 438.5h.01M1005.5 467.5h.01M1006.5 443.5h.01M1006.5 447.5h.01M1006.5 476.5h.01M1006.5 497.5h.01M1007.5 449.5h.01M1013.5 463.5h.01M1014.5 471.5h.01M1016.5 440.5h.01M1017.5 488.5h.01M1017.5 493.5h.01M1018.5 436.5h.01M1023.5 446.5h.01M1023.5 485.5h.01M1025.5 479.5h.01M1026.5 426.5h.01M1026.5 429.5h.01M1027.5 126.5h.01M1027.5 435.5h.01M1028.5 474.5h.01M1029.5 460.5h.01M1035.5 476.5h.01M1035.5 493.5h.01M1037.5 418.5h.01M1037.5 526.5h.01M1038.5 428.5h.01M1038.5 453.5h.01M1039.5 437.5h.01M1040.5 423.5h.01M1040.5 488.5h.01M1041.5 441.5h.01M1041.5 476.5h.01M1046.5 431.5h.01M1047.5 432.5h.01M1049.5 437.5h.01M1049.5 498.5h.01M1049.5 555.5h.01M1050.5 443.5h.01M1051.5 162.5h.01M1057.5 455.5h.01M1058.5 463.5h.01M1059.5 494.5h.01M1059.5 507.5h.01M1060.5 111.5h.01M1060.5 462.5h.01M1060.5 508.5h.01M1061.5 154.5h.01M1062.5 440.5h.01M1063.5 444.5h.01M1069.5 207.5h.01M1069.5 358.5h.01M1069.5 380.5h.01M1070.5 189.5h.01M1070.5 195.5h.01M1070.5 197.5h.01M1070.5 207.5h.01M1070.5 393.5h.01M1070.5 413.5h.01M1071.5 208.5h.01M1071.5 209.5h.01M1072.5 174.5h.01M1072.5 456.5h.01M1073.5 195.5h.01M1073.5 216.5h.01M1073.5 382.5h.01M1074.5 376.5h.01M1080.5 442.5h.01M1081.5 459.5h.01M1081.5 466.5h.01M1081.5 477.5h.01M1082.5 430.5h.01M1082.5 490.5h.01M1082.5 496.5h.01M1083.5 462.5h.01M1084.5 145.5h.01M1084.5 433.5h.01M1085.5 187.5h.01M1085.5 495.5h.01M1091.5 496.5h.01M1092.5 447.5h.01M1092.5 478.5h.01M1093.5 450.5h.01M1095.5 426.5h.01M1095.5 492.5h.01M1096.5 206.5h.01M1102.5 180.5h.01M1102.5 201.5h.01M1103.5 426.5h.01M1103.5 437.5h.01M1103.5 471.5h.01M1104.5 492.5h.01M1106.5 410.5h.01M1106.5 421.5h.01M1106.5 437.5h.01M1108.5 419.5h.01M1108.5 423.5h.01M1114.5 187.5h.01M1114.5 421.5h.01M1114.5 430.5h.01M1114.5 438.5h.01M1114.5 452.5h.01M1114.5 468.5h.01M1115.5 142.5h.01M1115.5 438.5h.01M1116.5 171.5h.01M1116.5 405.5h.01M1116.5 555.5h.01M1117.5 386.5h.01M1117.5 443.5h.01M1118.5 443.5h.01M1118.5 477.5h.01M1119.5 394.5h.01M1119.5 406.5h.01M1125.5 489.5h.01M1127.5 526.5h.01M1128.5 495.5h.01M1128.5 513.5h.01M1129.5 457.5h.01M1129.5 516.5h.01M1137.5 451.5h.01M1137.5 499.5h.01M1138.5 173.5h.01M1138.5 500.5h.01M1139.5 465.5h.01M1142.5 478.5h.01M1147.5 186.5h.01M1147.5 441.5h.01M1147.5 488.5h.01M1148.5 418.5h.01M1149.5 460.5h.01M1149.5 471.5h.01M1149.5 555.5h.01M1150.5 435.5h.01M1150.5 484.5h.01M1151.5 417.5h.01M1151.5 467.5h.01M1158.5 417.5h.01M1159.5 410.5h.01M1159.5 453.5h.01M1160.5 422.5h.01M1160.5 526.5h.01M1162.5 416.5h.01M1163.5 452.5h.01M1163.5 460.5h.01M1163.5 480.5h.01M1164.5 461.5h.01M1164.5 475.5h.01" stroke="#24123a" stroke-width="4.8" stroke-linecap="round"/>
<path d="M832.5 424.5h.01M833.5 384.5h.01M833.5 394.5h.01M833.5 431.5h.01M833.5 462.5h.01M834.5 185.5h.01M835.5 383.5h.01M835.5 398.5h.01M835.5 411.5h.01M835.5 428.5h.01M835.5 438.5h.01M837.5 216.5h.01M838.5 381.5h.01M838.5 412.5h.01M839.5 431.5h.01M844.5 176.5h.01M844.5 400.5h.01M844.5 439.5h.01M844.5 451.5h.01M844.5 454.5h.01M844.5 493.5h.01M845.5 428.5h.01M845.5 446.5h.01M845.5 450.5h.01M845.5 491.5h.01M846.5 422.5h.01M846.5 424.5h.01M846.5 447.5h.01M847.5 383.5h.01M847.5 396.5h.01M847.5 408.5h.01M847.5 450.5h.01M847.5 480.5h.01M848.5 396.5h.01M848.5 407.5h.01M848.5 432.5h.01M848.5 443.5h.01M849.5 384.5h.01M849.5 455.5h.01M855.5 192.5h.01M855.5 398.5h.01M855.5 480.5h.01M856.5 400.5h.01M856.5 402.5h.01M856.5 419.5h.01M857.5 396.5h.01M857.5 436.5h.01M858.5 375.5h.01M858.5 388.5h.01M858.5 409.5h.01M858.5 424.5h.01M858.5 427.5h.01M859.5 433.5h.01M859.5 441.5h.01M860.5 402.5h.01M860.5 417.5h.01M860.5 438.5h.01M860.5 441.5h.01M861.5 390.5h.01M861.5 477.5h.01M866.5 200.5h.01M867.5 362.5h.01M868.5 173.5h.01M868.5 348.5h.01M868.5 364.5h.01M868.5 401.5h.01M868.5 411.5h.01M868.5 417.5h.01M868.5 555.5h.01M869.5 371.5h.01M869.5 379.5h.01M869.5 408.5h.01M869.5 442.5h.01M870.5 394.5h.01M870.5 414.5h.01M870.5 448.5h.01M871.5 390.5h.01M871.5 392.5h.01M871.5 409.5h.01M871.5 412.5h.01M871.5 416.5h.01M871.5 422.5h.01M871.5 462.5h.01M872.5 392.5h.01M872.5 405.5h.01M877.5 494.5h.01M878.5 428.5h.01M880.5 440.5h.01M880.5 473.5h.01M881.5 158.5h.01M881.5 492.5h.01M882.5 489.5h.01M883.5 417.5h.01M883.5 456.5h.01M888.5 362.5h.01M889.5 380.5h.01M889.5 420.5h.01M890.5 345.5h.01M891.5 368.5h.01M891.5 388.5h.01M891.5 396.5h.01M891.5 416.5h.01M892.5 176.5h.01M892.5 344.5h.01M892.5 395.5h.01M892.5 443.5h.01M893.5 356.5h.01M893.5 395.5h.01M894.5 345.5h.01M894.5 352.5h.01M894.5 372.5h.01M894.5 409.5h.01M900.5 421.5h.01M900.5 466.5h.01M901.5 487.5h.01M901.5 490.5h.01M902.5 411.5h.01M902.5 416.5h.01M902.5 430.5h.01M903.5 414.5h.01M905.5 425.5h.01M906.5 462.5h.01M911.5 435.5h.01M912.5 464.5h.01M912.5 493.5h.01M913.5 479.5h.01M916.5 497.5h.01M917.5 446.5h.01M917.5 497.5h.01M923.5 435.5h.01M923.5 473.5h.01M924.5 466.5h.01M925.5 484.5h.01M927.5 433.5h.01M927.5 475.5h.01M927.5 487.5h.01M928.5 430.5h.01M928.5 493.5h.01M935.5 490.5h.01M936.5 464.5h.01M936.5 487.5h.01M937.5 170.5h.01M937.5 452.5h.01M937.5 555.5h.01M938.5 434.5h.01M938.5 453.5h.01M945.5 443.5h.01M945.5 497.5h.01M946.5 438.5h.01M946.5 439.5h.01M946.5 497.5h.01M947.5 459.5h.01M947.5 473.5h.01M947.5 526.5h.01M949.5 469.5h.01M956.5 462.5h.01M958.5 497.5h.01M959.5 447.5h.01M960.5 428.5h.01M960.5 434.5h.01M960.5 465.5h.01M960.5 480.5h.01M962.5 447.5h.01M962.5 459.5h.01M969.5 460.5h.01M969.5 489.5h.01M970.5 185.5h.01M970.5 433.5h.01M970.5 440.5h.01M970.5 445.5h.01M970.5 555.5h.01M971.5 435.5h.01M971.5 483.5h.01M973.5 423.5h.01M973.5 445.5h.01M973.5 479.5h.01M980.5 420.5h.01M980.5 470.5h.01M980.5 473.5h.01M980.5 493.5h.01M981.5 459.5h.01M981.5 495.5h.01M981.5 555.5h.01M984.5 456.5h.01M990.5 433.5h.01M991.5 501.5h.01M992.5 475.5h.01M993.5 487.5h.01M995.5 449.5h.01M995.5 468.5h.01M1001.5 480.5h.01M1003.5 182.5h.01M1003.5 489.5h.01M1005.5 438.5h.01M1005.5 467.5h.01M1006.5 443.5h.01M1006.5 447.5h.01M1006.5 476.5h.01M1006.5 497.5h.01M1007.5 449.5h.01M1013.5 463.5h.01M1014.5 471.5h.01M1016.5 440.5h.01M1017.5 488.5h.01M1017.5 493.5h.01M1018.5 436.5h.01M1023.5 446.5h.01M1023.5 485.5h.01M1025.5 479.5h.01M1026.5 426.5h.01M1026.5 429.5h.01M1027.5 126.5h.01M1027.5 435.5h.01M1028.5 474.5h.01M1029.5 460.5h.01M1035.5 476.5h.01M1035.5 493.5h.01M1037.5 418.5h.01M1037.5 526.5h.01M1038.5 428.5h.01M1038.5 453.5h.01M1039.5 437.5h.01M1040.5 423.5h.01M1040.5 488.5h.01M1041.5 441.5h.01M1041.5 476.5h.01M1046.5 431.5h.01M1047.5 432.5h.01M1049.5 437.5h.01M1049.5 498.5h.01M1049.5 555.5h.01M1050.5 443.5h.01M1051.5 162.5h.01M1057.5 455.5h.01M1058.5 463.5h.01M1059.5 494.5h.01M1059.5 507.5h.01M1060.5 111.5h.01M1060.5 462.5h.01M1060.5 508.5h.01M1061.5 154.5h.01M1062.5 440.5h.01M1063.5 444.5h.01M1069.5 207.5h.01M1069.5 358.5h.01M1069.5 380.5h.01M1070.5 189.5h.01M1070.5 195.5h.01M1070.5 197.5h.01M1070.5 207.5h.01M1070.5 393.5h.01M1070.5 413.5h.01M1071.5 208.5h.01M1071.5 209.5h.01M1072.5 174.5h.01M1072.5 456.5h.01M1073.5 195.5h.01M1073.5 216.5h.01M1073.5 382.5h.01M1074.5 376.5h.01M1080.5 442.5h.01M1081.5 459.5h.01M1081.5 466.5h.01M1081.5 477.5h.01M1082.5 430.5h.01M1082.5 490.5h.01M1082.5 496.5h.01M1083.5 462.5h.01M1084.5 145.5h.01M1084.5 433.5h.01M1085.5 187.5h.01M1085.5 495.5h.01M1091.5 496.5h.01M1092.5 447.5h.01M1092.5 478.5h.01M1093.5 450.5h.01M1095.5 426.5h.01M1095.5 492.5h.01M1096.5 206.5h.01M1102.5 180.5h.01M1102.5 201.5h.01M1103.5 426.5h.01M1103.5 437.5h.01M1103.5 471.5h.01M1104.5 492.5h.01M1106.5 410.5h.01M1106.5 421.5h.01M1106.5 437.5h.01M1108.5 419.5h.01M1108.5 423.5h.01M1114.5 187.5h.01M1114.5 421.5h.01M1114.5 430.5h.01M1114.5 438.5h.01M1114.5 452.5h.01M1114.5 468.5h.01M1115.5 142.5h.01M1115.5 438.5h.01M1116.5 171.5h.01M1116.5 405.5h.01M1116.5 555.5h.01M1117.5 386.5h.01M1117.5 443.5h.01M1118.5 443.5h.01M1118.5 477.5h.01M1119.5 394.5h.01M1119.5 406.5h.01M1125.5 489.5h.01M1127.5 526.5h.01M1128.5 495.5h.01M1128.5 513.5h.01M1129.5 457.5h.01M1129.5 516.5h.01M1137.5 451.5h.01M1137.5 499.5h.01M1138.5 173.5h.01M1138.5 500.5h.01M1139.5 465.5h.01M1142.5 478.5h.01M1147.5 186.5h.01M1147.5 441.5h.01M1147.5 488.5h.01M1148.5 418.5h.01M1149.5 460.5h.01M1149.5 471.5h.01M1149.5 555.5h.01M1150.5 435.5h.01M1150.5 484.5h.01M1151.5 417.5h.01M1151.5 467.5h.01M1158.5 417.5h.01M1159.5 410.5h.01M1159.5 453.5h.01M1160.5 422.5h.01M1160.5 526.5h.01M1162.5 416.5h.01M1163.5 452.5h.01M1163.5 460.5h.01M1163.5 480.5h.01M1164.5 461.5h.01M1164.5 475.5h.01" stroke="#4b2d6f" stroke-width="3" stroke-linecap="round"/>
<path d="M1169.5 416.5h.01M1170.5 155.5h.01M1170.5 171.5h.01M1170.5 174.5h.01M1170.5 201.5h.01M1170.5 366.5h.01M1171.5 398.5h.01M1171.5 399.5h.01M1172.5 382.5h.01M1172.5 401.5h.01M1173.5 165.5h.01M1173.5 204.5h.01M1173.5 384.5h.01M1173.5 400.5h.01M1174.5 438.5h.01M1175.5 385.5h.01M1175.5 393.5h.01M1175.5 427.5h.01M1181.5 444.5h.01M1181.5 445.5h.01M1181.5 459.5h.01M1182.5 407.5h.01M1183.5 408.5h.01M1184.5 404.5h.01M1185.5 424.5h.01M1185.5 483.5h.01M1186.5 410.5h.01M1186.5 415.5h.01M1187.5 411.5h.01M1192.5 427.5h.01M1192.5 481.5h.01M1193.5 382.5h.01M1193.5 395.5h.01M1193.5 442.5h.01M1194.5 208.5h.01M1194.5 402.5h.01M1194.5 414.5h.01M1194.5 436.5h.01M1195.5 203.5h.01M1195.5 400.5h.01M1195.5 437.5h.01M1196.5 435.5h.01M1196.5 555.5h.01M1197.5 159.5h.01M1197.5 444.5h.01M1197.5 470.5h.01M1204.5 169.5h.01M1204.5 202.5h.01M1204.5 398.5h.01M1204.5 404.5h.01M1204.5 414.5h.01M1205.5 472.5h.01M1205.5 481.5h.01M1206.5 405.5h.01M1207.5 426.5h.01M1208.5 397.5h.01M1209.5 442.5h.01M1215.5 445.5h.01M1216.5 475.5h.01M1217.5 417.5h.01M1217.5 478.5h.01M1218.5 454.5h.01M1218.5 466.5h.01M1219.5 410.5h.01M1219.5 420.5h.01M1219.5 429.5h.01M1220.5 408.5h.01M1220.5 469.5h.01M1227.5 419.5h.01M1227.5 449.5h.01M1227.5 526.5h.01M1228.5 427.5h.01M1229.5 452.5h.01M1229.5 465.5h.01M1230.5 468.5h.01M1231.5 184.5h.01M1231.5 410.5h.01M1231.5 411.5h.01M1231.5 412.5h.01M1231.5 445.5h.01M1231.5 464.5h.01M1237.5 442.5h.01M1238.5 428.5h.01M1238.5 491.5h.01M1238.5 495.5h.01M1239.5 465.5h.01M1240.5 421.5h.01M1240.5 481.5h.01M1240.5 488.5h.01M1240.5 555.5h.01M1242.5 141.5h.01M1242.5 477.5h.01" stroke="#8d6a3a" stroke-width="4.8" stroke-linecap="round"/>
<path d="M1169.5 416.5h.01M1170.5 155.5h.01M1170.5 171.5h.01M1170.5 174.5h.01M1170.5 201.5h.01M1170.5 366.5h.01M1171.5 398.5h.01M1171.5 399.5h.01M1172.5 382.5h.01M1172.5 401.5h.01M1173.5 165.5h.01M1173.5 204.5h.01M1173.5 384.5h.01M1173.5 400.5h.01M1174.5 438.5h.01M1175.5 385.5h.01M1175.5 393.5h.01M1175.5 427.5h.01M1181.5 444.5h.01M1181.5 445.5h.01M1181.5 459.5h.01M1182.5 407.5h.01M1183.5 408.5h.01M1184.5 404.5h.01M1185.5 424.5h.01M1185.5 483.5h.01M1186.5 410.5h.01M1186.5 415.5h.01M1187.5 411.5h.01M1192.5 427.5h.01M1192.5 481.5h.01M1193.5 382.5h.01M1193.5 395.5h.01M1193.5 442.5h.01M1194.5 208.5h.01M1194.5 402.5h.01M1194.5 414.5h.01M1194.5 436.5h.01M1195.5 203.5h.01M1195.5 400.5h.01M1195.5 437.5h.01M1196.5 435.5h.01M1196.5 555.5h.01M1197.5 159.5h.01M1197.5 444.5h.01M1197.5 470.5h.01M1204.5 169.5h.01M1204.5 202.5h.01M1204.5 398.5h.01M1204.5 404.5h.01M1204.5 414.5h.01M1205.5 472.5h.01M1205.5 481.5h.01M1206.5 405.5h.01M1207.5 426.5h.01M1208.5 397.5h.01M1209.5 442.5h.01M1215.5 445.5h.01M1216.5 475.5h.01M1217.5 417.5h.01M1217.5 478.5h.01M1218.5 454.5h.01M1218.5 466.5h.01M1219.5 410.5h.01M1219.5 420.5h.01M1219.5 429.5h.01M1220.5 408.5h.01M1220.5 469.5h.01M1227.5 419.5h.01M1227.5 449.5h.01M1227.5 526.5h.01M1228.5 427.5h.01M1229.5 452.5h.01M1229.5 465.5h.01M1230.5 468.5h.01M1231.5 184.5h.01M1231.5 410.5h.01M1231.5 411.5h.01M1231.5 412.5h.01M1231.5 445.5h.01M1231.5 464.5h.01M1237.5 442.5h.01M1238.5 428.5h.01M1238.5 491.5h.01M1238.5 495.5h.01M1239.5 465.5h.01M1240.5 421.5h.01M1240.5 481.5h.01M1240.5 488.5h.01M1240.5 555.5h.01M1242.5 141.5h.01M1242.5 477.5h.01" stroke="#f3d7ab" stroke-width="3" stroke-linecap="round"/>
<path d="M1248.5 185.5h.01M1248.5 411.5h.01M1249.5 201.5h.01M1249.5 362.5h.01M1251.5 168.5h.01M1251.5 175.5h.01M1251.5 179.5h.01M1251.5 197.5h.01M1251.5 386.5h.01M1252.5 204.5h.01M1252.5 212.5h.01M1252.5 395.5h.01M1252.5 399.5h.01M1254.5 443.5h.01M1259.5 461.5h.01M1259.5 506.5h.01M1260.5 492.5h.01M1260.5 506.5h.01M1261.5 526.5h.01M1262.5 116.5h.01M1265.5 478.5h.01M1265.5 505.5h.01M1270.5 464.5h.01M1271.5 126.5h.01M1272.5 433.5h.01M1272.5 483.5h.01M1273.5 479.5h.01M1275.5 408.5h.01M1275.5 409.5h.01M1275.5 478.5h.01M1276.5 427.5h.01M1276.5 434.5h.01M1276.5 455.5h.01M1282.5 382.5h.01M1284.5 153.5h.01M1284.5 166.5h.01M1284.5 404.5h.01M1285.5 169.5h.01M1285.5 413.5h.01M1285.5 526.5h.01M1286.5 486.5h.01M1287.5 174.5h.01M1287.5 437.5h.01M1287.5 484.5h.01M1287.5 493.5h.01M1288.5 443.5h.01M1293.5 424.5h.01M1293.5 452.5h.01M1294.5 453.5h.01M1296.5 442.5h.01M1296.5 470.5h.01M1297.5 430.5h.01M1297.5 474.5h.01M1298.5 120.5h.01M1298.5 494.5h.01M1304.5 436.5h.01M1305.5 451.5h.01M1306.5 171.5h.01M1307.5 461.5h.01M1307.5 471.5h.01M1308.5 432.5h.01M1315.5 429.5h.01M1316.5 149.5h.01M1316.5 180.5h.01M1317.5 176.5h.01M1318.5 189.5h.01M1318.5 401.5h.01M1318.5 426.5h.01M1319.5 176.5h.01M1319.5 182.5h.01M1319.5 190.5h.01M1319.5 193.5h.01M1319.5 413.5h.01M1319.5 416.5h.01M1319.5 461.5h.01M1320.5 175.5h.01M1320.5 395.5h.01M1320.5 467.5h.01M1321.5 462.5h.01M1326.5 178.5h.01M1327.5 154.5h.01M1327.5 193.5h.01M1327.5 396.5h.01M1327.5 398.5h.01M1327.5 439.5h.01M1328.5 157.5h.01M1328.5 170.5h.01M1328.5 179.5h.01M1328.5 439.5h.01M1329.5 160.5h.01M1329.5 386.5h.01M1329.5 439.5h.01M1329.5 463.5h.01M1329.5 491.5h.01M1330.5 188.5h.01M1330.5 432.5h.01M1330.5 438.5h.01M1330.5 470.5h.01M1332.5 440.5h.01M1338.5 133.5h.01M1338.5 441.5h.01M1339.5 475.5h.01M1340.5 139.5h.01M1340.5 144.5h.01M1340.5 425.5h.01M1341.5 157.5h.01M1341.5 488.5h.01M1341.5 555.5h.01M1342.5 172.5h.01M1342.5 408.5h.01M1342.5 472.5h.01M1343.5 150.5h.01M1343.5 152.5h.01M1343.5 423.5h.01M1349.5 167.5h.01M1349.5 174.5h.01M1349.5 491.5h.01M1350.5 145.5h.01M1350.5 408.5h.01M1351.5 160.5h.01M1351.5 459.5h.01M1352.5 185.5h.01M1352.5 420.5h.01M1352.5 453.5h.01M1353.5 175.5h.01M1353.5 401.5h.01M1354.5 416.5h.01M1354.5 424.5h.01M1354.5 427.5h.01M1355.5 185.5h.01M1361.5 159.5h.01M1361.5 178.5h.01M1361.5 476.5h.01M1363.5 418.5h.01M1363.5 447.5h.01M1363.5 451.5h.01M1363.5 480.5h.01M1363.5 526.5h.01M1365.5 125.5h.01M1365.5 436.5h.01M1365.5 440.5h.01M1366.5 172.5h.01" stroke="#66587a" stroke-width="4.8" stroke-linecap="round"/>
<path d="M1248.5 185.5h.01M1248.5 411.5h.01M1249.5 201.5h.01M1249.5 362.5h.01M1251.5 168.5h.01M1251.5 175.5h.01M1251.5 179.5h.01M1251.5 197.5h.01M1251.5 386.5h.01M1252.5 204.5h.01M1252.5 212.5h.01M1252.5 395.5h.01M1252.5 399.5h.01M1254.5 443.5h.01M1259.5 461.5h.01M1259.5 506.5h.01M1260.5 492.5h.01M1260.5 506.5h.01M1261.5 526.5h.01M1262.5 116.5h.01M1265.5 478.5h.01M1265.5 505.5h.01M1270.5 464.5h.01M1271.5 126.5h.01M1272.5 433.5h.01M1272.5 483.5h.01M1273.5 479.5h.01M1275.5 408.5h.01M1275.5 409.5h.01M1275.5 478.5h.01M1276.5 427.5h.01M1276.5 434.5h.01M1276.5 455.5h.01M1282.5 382.5h.01M1284.5 153.5h.01M1284.5 166.5h.01M1284.5 404.5h.01M1285.5 169.5h.01M1285.5 413.5h.01M1285.5 526.5h.01M1286.5 486.5h.01M1287.5 174.5h.01M1287.5 437.5h.01M1287.5 484.5h.01M1287.5 493.5h.01M1288.5 443.5h.01M1293.5 424.5h.01M1293.5 452.5h.01M1294.5 453.5h.01M1296.5 442.5h.01M1296.5 470.5h.01M1297.5 430.5h.01M1297.5 474.5h.01M1298.5 120.5h.01M1298.5 494.5h.01M1304.5 436.5h.01M1305.5 451.5h.01M1306.5 171.5h.01M1307.5 461.5h.01M1307.5 471.5h.01M1308.5 432.5h.01M1315.5 429.5h.01M1316.5 149.5h.01M1316.5 180.5h.01M1317.5 176.5h.01M1318.5 189.5h.01M1318.5 401.5h.01M1318.5 426.5h.01M1319.5 176.5h.01M1319.5 182.5h.01M1319.5 190.5h.01M1319.5 193.5h.01M1319.5 413.5h.01M1319.5 416.5h.01M1319.5 461.5h.01M1320.5 175.5h.01M1320.5 395.5h.01M1320.5 467.5h.01M1321.5 462.5h.01M1326.5 178.5h.01M1327.5 154.5h.01M1327.5 193.5h.01M1327.5 396.5h.01M1327.5 398.5h.01M1327.5 439.5h.01M1328.5 157.5h.01M1328.5 170.5h.01M1328.5 179.5h.01M1328.5 439.5h.01M1329.5 160.5h.01M1329.5 386.5h.01M1329.5 439.5h.01M1329.5 463.5h.01M1329.5 491.5h.01M1330.5 188.5h.01M1330.5 432.5h.01M1330.5 438.5h.01M1330.5 470.5h.01M1332.5 440.5h.01M1338.5 133.5h.01M1338.5 441.5h.01M1339.5 475.5h.01M1340.5 139.5h.01M1340.5 144.5h.01M1340.5 425.5h.01M1341.5 157.5h.01M1341.5 488.5h.01M1341.5 555.5h.01M1342.5 172.5h.01M1342.5 408.5h.01M1342.5 472.5h.01M1343.5 150.5h.01M1343.5 152.5h.01M1343.5 423.5h.01M1349.5 167.5h.01M1349.5 174.5h.01M1349.5 491.5h.01M1350.5 145.5h.01M1350.5 408.5h.01M1351.5 160.5h.01M1351.5 459.5h.01M1352.5 185.5h.01M1352.5 420.5h.01M1352.5 453.5h.01M1353.5 175.5h.01M1353.5 401.5h.01M1354.5 416.5h.01M1354.5 424.5h.01M1354.5 427.5h.01M1355.5 185.5h.01M1361.5 159.5h.01M1361.5 178.5h.01M1361.5 476.5h.01M1363.5 418.5h.01M1363.5 447.5h.01M1363.5 451.5h.01M1363.5 480.5h.01M1363.5 526.5h.01M1365.5 125.5h.01M1365.5 436.5h.01M1365.5 440.5h.01M1366.5 172.5h.01" stroke="#e4dcea" stroke-width="3" stroke-linecap="round"/>
<path d="M1372.5 140.5h.01M1372.5 458.5h.01M1372.5 481.5h.01M1373.5 526.5h.01M1374.5 482.5h.01M1374.5 496.5h.01M1375.5 157.5h.01M1375.5 463.5h.01M1376.5 174.5h.01M1376.5 175.5h.01M1376.5 430.5h.01M1376.5 490.5h.01M1377.5 166.5h.01M1377.5 418.5h.01M1383.5 491.5h.01M1384.5 156.5h.01M1384.5 449.5h.01M1384.5 461.5h.01M1384.5 485.5h.01M1385.5 176.5h.01M1385.5 189.5h.01M1385.5 526.5h.01M1386.5 156.5h.01M1387.5 456.5h.01M1387.5 472.5h.01M1394.5 171.5h.01M1394.5 375.5h.01M1394.5 436.5h.01M1397.5 431.5h.01M1398.5 394.5h.01M1398.5 526.5h.01M1399.5 433.5h.01M1400.5 174.5h.01M1400.5 190.5h.01" stroke="#6a7f58" stroke-width="4.8" stroke-linecap="round"/>
<path d="M1372.5 140.5h.01M1372.5 458.5h.01M1372.5 481.5h.01M1373.5 526.5h.01M1374.5 482.5h.01M1374.5 496.5h.01M1375.5 157.5h.01M1375.5 463.5h.01M1376.5 174.5h.01M1376.5 175.5h.01M1376.5 430.5h.01M1376.5 490.5h.01M1377.5 166.5h.01M1377.5 418.5h.01M1383.5 491.5h.01M1384.5 156.5h.01M1384.5 449.5h.01M1384.5 461.5h.01M1384.5 485.5h.01M1385.5 176.5h.01M1385.5 189.5h.01M1385.5 526.5h.01M1386.5 156.5h.01M1387.5 456.5h.01M1387.5 472.5h.01M1394.5 171.5h.01M1394.5 375.5h.01M1394.5 436.5h.01M1397.5 431.5h.01M1398.5 394.5h.01M1398.5 526.5h.01M1399.5 433.5h.01M1400.5 174.5h.01M1400.5 190.5h.01" stroke="#d8ecc5" stroke-width="3" stroke-linecap="round"/>
<path d="M1405.5 164.5h.01M1405.5 352.5h.01M1405.5 357.5h.01M1405.5 417.5h.01M1406.5 174.5h.01M1406.5 178.5h.01M1406.5 196.5h.01M1406.5 210.5h.01M1406.5 358.5h.01M1406.5 359.5h.01M1407.5 388.5h.01M1407.5 409.5h.01M1407.5 417.5h.01M1407.5 526.5h.01M1408.5 160.5h.01M1408.5 165.5h.01M1408.5 171.5h.01M1408.5 369.5h.01M1408.5 371.5h.01M1408.5 408.5h.01M1409.5 383.5h.01M1410.5 358.5h.01M1416.5 192.5h.01M1416.5 194.5h.01M1416.5 224.5h.01M1416.5 229.5h.01M1416.5 281.5h.01M1416.5 339.5h.01M1416.5 347.5h.01M1417.5 179.5h.01M1417.5 183.5h.01M1417.5 188.5h.01M1417.5 238.5h.01M1417.5 318.5h.01M1417.5 321.5h.01M1417.5 383.5h.01M1417.5 399.5h.01M1417.5 406.5h.01M1417.5 424.5h.01M1418.5 163.5h.01M1418.5 180.5h.01M1418.5 187.5h.01M1418.5 194.5h.01M1418.5 214.5h.01M1418.5 216.5h.01M1418.5 274.5h.01M1418.5 291.5h.01M1418.5 360.5h.01M1418.5 362.5h.01M1418.5 380.5h.01M1418.5 466.5h.01M1419.5 148.5h.01M1419.5 183.5h.01M1419.5 193.5h.01M1419.5 242.5h.01M1419.5 304.5h.01M1419.5 309.5h.01M1419.5 355.5h.01M1419.5 367.5h.01M1419.5 377.5h.01M1419.5 480.5h.01M1420.5 159.5h.01M1420.5 164.5h.01M1420.5 177.5h.01M1420.5 190.5h.01M1420.5 210.5h.01M1420.5 295.5h.01M1420.5 302.5h.01M1420.5 356.5h.01M1420.5 399.5h.01M1420.5 400.5h.01M1420.5 412.5h.01M1420.5 433.5h.01M1420.5 457.5h.01M1421.5 159.5h.01M1421.5 195.5h.01M1421.5 206.5h.01M1421.5 222.5h.01M1421.5 227.5h.01M1421.5 241.5h.01M1421.5 250.5h.01M1421.5 279.5h.01M1421.5 297.5h.01M1421.5 324.5h.01M1421.5 345.5h.01M1421.5 369.5h.01M1421.5 385.5h.01M1421.5 392.5h.01M1422.5 139.5h.01M1422.5 150.5h.01M1422.5 153.5h.01M1422.5 195.5h.01M1422.5 224.5h.01M1422.5 249.5h.01M1422.5 263.5h.01M1422.5 269.5h.01M1422.5 276.5h.01M1422.5 278.5h.01M1422.5 289.5h.01M1422.5 337.5h.01M1422.5 339.5h.01M1422.5 345.5h.01M1422.5 377.5h.01M1422.5 391.5h.01M1422.5 421.5h.01M1422.5 480.5h.01M1422.5 507.5h.01M1427.5 469.5h.01M1428.5 133.5h.01M1428.5 168.5h.01M1428.5 439.5h.01M1428.5 448.5h.01M1428.5 472.5h.01M1428.5 487.5h.01M1429.5 181.5h.01M1430.5 178.5h.01M1430.5 474.5h.01M1430.5 489.5h.01M1430.5 495.5h.01M1431.5 486.5h.01M1432.5 448.5h.01M1433.5 171.5h.01M1433.5 176.5h.01M1433.5 407.5h.01M1433.5 421.5h.01M1433.5 443.5h.01M1433.5 449.5h.01M1433.5 490.5h.01M1433.5 492.5h.01M1439.5 406.5h.01M1440.5 493.5h.01M1441.5 150.5h.01M1441.5 153.5h.01M1441.5 180.5h.01M1441.5 190.5h.01M1441.5 193.5h.01M1441.5 379.5h.01M1441.5 422.5h.01M1441.5 489.5h.01M1442.5 169.5h.01M1442.5 448.5h.01M1443.5 141.5h.01M1443.5 387.5h.01M1443.5 416.5h.01M1444.5 160.5h.01M1444.5 171.5h.01M1444.5 188.5h.01M1444.5 405.5h.01M1444.5 422.5h.01M1444.5 427.5h.01M1444.5 431.5h.01M1444.5 456.5h.01M1450.5 177.5h.01M1450.5 392.5h.01M1450.5 414.5h.01M1450.5 444.5h.01M1451.5 407.5h.01M1451.5 478.5h.01M1451.5 488.5h.01M1452.5 164.5h.01M1452.5 443.5h.01M1452.5 481.5h.01M1453.5 152.5h.01M1453.5 182.5h.01M1453.5 196.5h.01M1453.5 409.5h.01M1453.5 416.5h.01M1453.5 468.5h.01M1453.5 485.5h.01M1454.5 164.5h.01M1454.5 414.5h.01M1454.5 436.5h.01M1455.5 188.5h.01M1455.5 189.5h.01M1455.5 196.5h.01M1455.5 463.5h.01M1456.5 375.5h.01M1462.5 175.5h.01M1462.5 177.5h.01M1462.5 415.5h.01M1462.5 469.5h.01M1462.5 489.5h.01M1463.5 120.5h.01M1463.5 167.5h.01M1463.5 407.5h.01M1463.5 474.5h.01M1464.5 134.5h.01M1464.5 436.5h.01M1465.5 172.5h.01M1465.5 426.5h.01M1465.5 474.5h.01M1466.5 408.5h.01M1466.5 469.5h.01M1467.5 163.5h.01M1467.5 412.5h.01M1467.5 438.5h.01M1467.5 441.5h.01M1467.5 460.5h.01M1472.5 204.5h.01M1472.5 211.5h.01M1472.5 218.5h.01M1472.5 220.5h.01M1472.5 257.5h.01M1472.5 300.5h.01M1472.5 307.5h.01M1472.5 320.5h.01M1472.5 326.5h.01M1472.5 397.5h.01M1472.5 403.5h.01M1472.5 420.5h.01M1472.5 433.5h.01M1472.5 496.5h.01M1473.5 179.5h.01M1473.5 206.5h.01M1473.5 208.5h.01M1473.5 241.5h.01M1473.5 301.5h.01M1473.5 310.5h.01M1473.5 334.5h.01M1473.5 405.5h.01M1473.5 421.5h.01M1473.5 433.5h.01M1474.5 157.5h.01M1474.5 274.5h.01M1474.5 330.5h.01M1474.5 336.5h.01M1474.5 366.5h.01M1474.5 379.5h.01M1474.5 380.5h.01M1474.5 423.5h.01M1474.5 460.5h.01M1474.5 484.5h.01M1475.5 138.5h.01M1475.5 161.5h.01M1475.5 215.5h.01M1475.5 228.5h.01M1475.5 268.5h.01M1475.5 282.5h.01M1475.5 297.5h.01M1475.5 373.5h.01M1475.5 394.5h.01M1475.5 415.5h.01M1476.5 138.5h.01M1476.5 139.5h.01M1476.5 153.5h.01M1476.5 166.5h.01M1476.5 228.5h.01M1476.5 287.5h.01M1476.5 293.5h.01M1476.5 302.5h.01M1476.5 317.5h.01M1476.5 370.5h.01M1476.5 376.5h.01M1476.5 378.5h.01M1476.5 412.5h.01M1477.5 139.5h.01M1477.5 140.5h.01M1477.5 153.5h.01M1477.5 159.5h.01M1477.5 185.5h.01M1477.5 198.5h.01M1477.5 215.5h.01M1477.5 234.5h.01M1477.5 245.5h.01M1477.5 246.5h.01M1477.5 259.5h.01M1477.5 271.5h.01M1477.5 296.5h.01M1477.5 306.5h.01M1477.5 386.5h.01M1477.5 397.5h.01M1477.5 412.5h.01M1477.5 445.5h.01M1477.5 493.5h.01M1478.5 159.5h.01M1478.5 166.5h.01M1478.5 191.5h.01M1478.5 216.5h.01M1478.5 222.5h.01M1478.5 232.5h.01M1478.5 242.5h.01M1478.5 249.5h.01M1478.5 255.5h.01M1478.5 310.5h.01M1478.5 369.5h.01M1478.5 388.5h.01M1478.5 400.5h.01M1478.5 438.5h.01M1478.5 444.5h.01M1478.5 450.5h.01M1479.5 297.5h.01M1479.5 370.5h.01M1484.5 201.5h.01M1484.5 315.5h.01M1484.5 337.5h.01M1484.5 344.5h.01M1485.5 224.5h.01M1485.5 347.5h.01M1485.5 363.5h.01M1485.5 386.5h.01M1486.5 189.5h.01M1486.5 227.5h.01M1487.5 204.5h.01M1487.5 361.5h.01M1487.5 380.5h.01M1487.5 391.5h.01M1487.5 405.5h.01M1488.5 316.5h.01M1488.5 363.5h.01M1489.5 180.5h.01M1489.5 188.5h.01M1489.5 216.5h.01M1489.5 312.5h.01M1489.5 337.5h.01M1489.5 371.5h.01M1495.5 434.5h.01M1496.5 466.5h.01M1496.5 474.5h.01M1497.5 498.5h.01M1497.5 499.5h.01M1497.5 526.5h.01M1498.5 449.5h.01M1498.5 473.5h.01M1499.5 93.5h.01M1499.5 142.5h.01M1500.5 421.5h.01M1500.5 431.5h.01M1500.5 435.5h.01M1500.5 438.5h.01M1501.5 102.5h.01" stroke="#123f17" stroke-width="4.8" stroke-linecap="round"/>
<path d="M1405.5 164.5h.01M1405.5 352.5h.01M1405.5 357.5h.01M1405.5 417.5h.01M1406.5 174.5h.01M1406.5 178.5h.01M1406.5 196.5h.01M1406.5 210.5h.01M1406.5 358.5h.01M1406.5 359.5h.01M1407.5 388.5h.01M1407.5 409.5h.01M1407.5 417.5h.01M1407.5 526.5h.01M1408.5 160.5h.01M1408.5 165.5h.01M1408.5 171.5h.01M1408.5 369.5h.01M1408.5 371.5h.01M1408.5 408.5h.01M1409.5 383.5h.01M1410.5 358.5h.01M1416.5 192.5h.01M1416.5 194.5h.01M1416.5 224.5h.01M1416.5 229.5h.01M1416.5 281.5h.01M1416.5 339.5h.01M1416.5 347.5h.01M1417.5 179.5h.01M1417.5 183.5h.01M1417.5 188.5h.01M1417.5 238.5h.01M1417.5 318.5h.01M1417.5 321.5h.01M1417.5 383.5h.01M1417.5 399.5h.01M1417.5 406.5h.01M1417.5 424.5h.01M1418.5 163.5h.01M1418.5 180.5h.01M1418.5 187.5h.01M1418.5 194.5h.01M1418.5 214.5h.01M1418.5 216.5h.01M1418.5 274.5h.01M1418.5 291.5h.01M1418.5 360.5h.01M1418.5 362.5h.01M1418.5 380.5h.01M1418.5 466.5h.01M1419.5 148.5h.01M1419.5 183.5h.01M1419.5 193.5h.01M1419.5 242.5h.01M1419.5 304.5h.01M1419.5 309.5h.01M1419.5 355.5h.01M1419.5 367.5h.01M1419.5 377.5h.01M1419.5 480.5h.01M1420.5 159.5h.01M1420.5 164.5h.01M1420.5 177.5h.01M1420.5 190.5h.01M1420.5 210.5h.01M1420.5 295.5h.01M1420.5 302.5h.01M1420.5 356.5h.01M1420.5 399.5h.01M1420.5 400.5h.01M1420.5 412.5h.01M1420.5 433.5h.01M1420.5 457.5h.01M1421.5 159.5h.01M1421.5 195.5h.01M1421.5 206.5h.01M1421.5 222.5h.01M1421.5 227.5h.01M1421.5 241.5h.01M1421.5 250.5h.01M1421.5 279.5h.01M1421.5 297.5h.01M1421.5 324.5h.01M1421.5 345.5h.01M1421.5 369.5h.01M1421.5 385.5h.01M1421.5 392.5h.01M1422.5 139.5h.01M1422.5 150.5h.01M1422.5 153.5h.01M1422.5 195.5h.01M1422.5 224.5h.01M1422.5 249.5h.01M1422.5 263.5h.01M1422.5 269.5h.01M1422.5 276.5h.01M1422.5 278.5h.01M1422.5 289.5h.01M1422.5 337.5h.01M1422.5 339.5h.01M1422.5 345.5h.01M1422.5 377.5h.01M1422.5 391.5h.01M1422.5 421.5h.01M1422.5 480.5h.01M1422.5 507.5h.01M1427.5 469.5h.01M1428.5 133.5h.01M1428.5 168.5h.01M1428.5 439.5h.01M1428.5 448.5h.01M1428.5 472.5h.01M1428.5 487.5h.01M1429.5 181.5h.01M1430.5 178.5h.01M1430.5 474.5h.01M1430.5 489.5h.01M1430.5 495.5h.01M1431.5 486.5h.01M1432.5 448.5h.01M1433.5 171.5h.01M1433.5 176.5h.01M1433.5 407.5h.01M1433.5 421.5h.01M1433.5 443.5h.01M1433.5 449.5h.01M1433.5 490.5h.01M1433.5 492.5h.01M1439.5 406.5h.01M1440.5 493.5h.01M1441.5 150.5h.01M1441.5 153.5h.01M1441.5 180.5h.01M1441.5 190.5h.01M1441.5 193.5h.01M1441.5 379.5h.01M1441.5 422.5h.01M1441.5 489.5h.01M1442.5 169.5h.01M1442.5 448.5h.01M1443.5 141.5h.01M1443.5 387.5h.01M1443.5 416.5h.01M1444.5 160.5h.01M1444.5 171.5h.01M1444.5 188.5h.01M1444.5 405.5h.01M1444.5 422.5h.01M1444.5 427.5h.01M1444.5 431.5h.01M1444.5 456.5h.01M1450.5 177.5h.01M1450.5 392.5h.01M1450.5 414.5h.01M1450.5 444.5h.01M1451.5 407.5h.01M1451.5 478.5h.01M1451.5 488.5h.01M1452.5 164.5h.01M1452.5 443.5h.01M1452.5 481.5h.01M1453.5 152.5h.01M1453.5 182.5h.01M1453.5 196.5h.01M1453.5 409.5h.01M1453.5 416.5h.01M1453.5 468.5h.01M1453.5 485.5h.01M1454.5 164.5h.01M1454.5 414.5h.01M1454.5 436.5h.01M1455.5 188.5h.01M1455.5 189.5h.01M1455.5 196.5h.01M1455.5 463.5h.01M1456.5 375.5h.01M1462.5 175.5h.01M1462.5 177.5h.01M1462.5 415.5h.01M1462.5 469.5h.01M1462.5 489.5h.01M1463.5 120.5h.01M1463.5 167.5h.01M1463.5 407.5h.01M1463.5 474.5h.01M1464.5 134.5h.01M1464.5 436.5h.01M1465.5 172.5h.01M1465.5 426.5h.01M1465.5 474.5h.01M1466.5 408.5h.01M1466.5 469.5h.01M1467.5 163.5h.01M1467.5 412.5h.01M1467.5 438.5h.01M1467.5 441.5h.01M1467.5 460.5h.01M1472.5 204.5h.01M1472.5 211.5h.01M1472.5 218.5h.01M1472.5 220.5h.01M1472.5 257.5h.01M1472.5 300.5h.01M1472.5 307.5h.01M1472.5 320.5h.01M1472.5 326.5h.01M1472.5 397.5h.01M1472.5 403.5h.01M1472.5 420.5h.01M1472.5 433.5h.01M1472.5 496.5h.01M1473.5 179.5h.01M1473.5 206.5h.01M1473.5 208.5h.01M1473.5 241.5h.01M1473.5 301.5h.01M1473.5 310.5h.01M1473.5 334.5h.01M1473.5 405.5h.01M1473.5 421.5h.01M1473.5 433.5h.01M1474.5 157.5h.01M1474.5 274.5h.01M1474.5 330.5h.01M1474.5 336.5h.01M1474.5 366.5h.01M1474.5 379.5h.01M1474.5 380.5h.01M1474.5 423.5h.01M1474.5 460.5h.01M1474.5 484.5h.01M1475.5 138.5h.01M1475.5 161.5h.01M1475.5 215.5h.01M1475.5 228.5h.01M1475.5 268.5h.01M1475.5 282.5h.01M1475.5 297.5h.01M1475.5 373.5h.01M1475.5 394.5h.01M1475.5 415.5h.01M1476.5 138.5h.01M1476.5 139.5h.01M1476.5 153.5h.01M1476.5 166.5h.01M1476.5 228.5h.01M1476.5 287.5h.01M1476.5 293.5h.01M1476.5 302.5h.01M1476.5 317.5h.01M1476.5 370.5h.01M1476.5 376.5h.01M1476.5 378.5h.01M1476.5 412.5h.01M1477.5 139.5h.01M1477.5 140.5h.01M1477.5 153.5h.01M1477.5 159.5h.01M1477.5 185.5h.01M1477.5 198.5h.01M1477.5 215.5h.01M1477.5 234.5h.01M1477.5 245.5h.01M1477.5 246.5h.01M1477.5 259.5h.01M1477.5 271.5h.01M1477.5 296.5h.01M1477.5 306.5h.01M1477.5 386.5h.01M1477.5 397.5h.01M1477.5 412.5h.01M1477.5 445.5h.01M1477.5 493.5h.01M1478.5 159.5h.01M1478.5 166.5h.01M1478.5 191.5h.01M1478.5 216.5h.01M1478.5 222.5h.01M1478.5 232.5h.01M1478.5 242.5h.01M1478.5 249.5h.01M1478.5 255.5h.01M1478.5 310.5h.01M1478.5 369.5h.01M1478.5 388.5h.01M1478.5 400.5h.01M1478.5 438.5h.01M1478.5 444.5h.01M1478.5 450.5h.01M1479.5 297.5h.01M1479.5 370.5h.01M1484.5 201.5h.01M1484.5 315.5h.01M1484.5 337.5h.01M1484.5 344.5h.01M1485.5 224.5h.01M1485.5 347.5h.01M1485.5 363.5h.01M1485.5 386.5h.01M1486.5 189.5h.01M1486.5 227.5h.01M1487.5 204.5h.01M1487.5 361.5h.01M1487.5 380.5h.01M1487.5 391.5h.01M1487.5 405.5h.01M1488.5 316.5h.01M1488.5 363.5h.01M1489.5 180.5h.01M1489.5 188.5h.01M1489.5 216.5h.01M1489.5 312.5h.01M1489.5 337.5h.01M1489.5 371.5h.01M1495.5 434.5h.01M1496.5 466.5h.01M1496.5 474.5h.01M1497.5 498.5h.01M1497.5 499.5h.01M1497.5 526.5h.01M1498.5 449.5h.01M1498.5 473.5h.01M1499.5 93.5h.01M1499.5 142.5h.01M1500.5 421.5h.01M1500.5 431.5h.01M1500.5 435.5h.01M1500.5 438.5h.01M1501.5 102.5h.01" stroke="#2b7a35" stroke-width="3" stroke-linecap="round"/>
<path d="M1506.5 423.5h.01M1506.5 431.5h.01M1507.5 420.5h.01M1507.5 421.5h.01M1507.5 427.5h.01M1508.5 142.5h.01M1509.5 423.5h.01M1509.5 461.5h.01M1510.5 496.5h.01M1512.5 164.5h.01M1512.5 448.5h.01M1517.5 419.5h.01M1518.5 389.5h.01M1518.5 429.5h.01M1519.5 456.5h.01M1522.5 172.5h.01M1523.5 385.5h.01" stroke="#8a5a5a" stroke-width="4.8" stroke-linecap="round"/>
<path d="M1506.5 423.5h.01M1506.5 431.5h.01M1507.5 420.5h.01M1507.5 421.5h.01M1507.5 427.5h.01M1508.5 142.5h.01M1509.5 423.5h.01M1509.5 461.5h.01M1510.5 496.5h.01M1512.5 164.5h.01M1512.5 448.5h.01M1517.5 419.5h.01M1518.5 389.5h.01M1518.5 429.5h.01M1519.5 456.5h.01M1522.5 172.5h.01M1523.5 385.5h.01" stroke="#f6c4c4" stroke-width="3" stroke-linecap="round"/>
<path d="M1528.5 438.5h.01M1528.5 462.5h.01M1529.5 115.5h.01M1531.5 118.5h.01M1532.5 157.5h.01M1532.5 461.5h.01M1532.5 478.5h.01M1533.5 435.5h.01M1539.5 159.5h.01M1540.5 170.5h.01M1540.5 188.5h.01M1540.5 407.5h.01M1540.5 440.5h.01M1541.5 174.5h.01M1541.5 401.5h.01M1541.5 474.5h.01M1542.5 555.5h.01M1543.5 183.5h.01M1543.5 460.5h.01M1543.5 488.5h.01M1545.5 433.5h.01M1546.5 405.5h.01M1546.5 407.5h.01M1552.5 473.5h.01M1553.5 444.5h.01M1553.5 498.5h.01M1554.5 450.5h.01M1554.5 555.5h.01M1556.5 491.5h.01M1557.5 151.5h.01M1557.5 462.5h.01" stroke="#5a0a0a" stroke-width="4.8" stroke-linecap="round"/>
<path d="M1528.5 438.5h.01M1528.5 462.5h.01M1529.5 115.5h.01M1531.5 118.5h.01M1532.5 157.5h.01M1532.5 461.5h.01M1532.5 478.5h.01M1533.5 435.5h.01M1539.5 159.5h.01M1540.5 170.5h.01M1540.5 188.5h.01M1540.5 407.5h.01M1540.5 440.5h.01M1541.5 174.5h.01M1541.5 401.5h.01M1541.5 474.5h.01M1542.5 555.5h.01M1543.5 183.5h.01M1543.5 460.5h.01M1543.5 488.5h.01M1545.5 433.5h.01M1546.5 405.5h.01M1546.5 407.5h.01M1552.5 473.5h.01M1553.5 444.5h.01M1553.5 498.5h.01M1554.5 450.5h.01M1554.5 555.5h.01M1556.5 491.5h.01M1557.5 151.5h.01M1557.5 462.5h.01" stroke="#b01518" stroke-width="3" stroke-linecap="round"/>
<path d="M1562.5 469.5h.01M1563.5 409.5h.01M1564.5 424.5h.01M1565.5 114.5h.01" stroke="#2e6b6e" stroke-width="4.8" stroke-linecap="round"/>
<path d="M1562.5 469.5h.01M1563.5 409.5h.01M1564.5 424.5h.01M1565.5 114.5h.01" stroke="#8fd4d6" stroke-width="3" stroke-linecap="round"/>
<path d="M1574.5 444.5h.01M1575.5 428.5h.01M1576.5 409.5h.01M1577.5 440.5h.01M1578.5 392.5h.01M1578.5 422.5h.01M1584.5 444.5h.01M1587.5 412.5h.01M1589.5 437.5h.01M1591.5 409.5h.01M1596.5 423.5h.01M1597.5 391.5h.01M1598.5 387.5h.01M1598.5 421.5h.01M1598.5 452.5h.01M1599.5 383.5h.01M1601.5 82.5h.01M1601.5 434.5h.01M1608.5 409.5h.01M1608.5 431.5h.01M1608.5 447.5h.01M1608.5 464.5h.01M1609.5 526.5h.01M1611.5 422.5h.01M1611.5 429.5h.01M1612.5 426.5h.01M1612.5 447.5h.01M1618.5 209.5h.01M1619.5 189.5h.01M1620.5 196.5h.01M1620.5 201.5h.01M1620.5 366.5h.01M1624.5 171.5h.01M1624.5 197.5h.01M1624.5 373.5h.01M1624.5 407.5h.01" stroke="#7a4010" stroke-width="4.8" stroke-linecap="round"/>
<path d="M1574.5 444.5h.01M1575.5 428.5h.01M1576.5 409.5h.01M1577.5 440.5h.01M1578.5 392.5h.01M1578.5 422.5h.01M1584.5 444.5h.01M1587.5 412.5h.01M1589.5 437.5h.01M1591.5 409.5h.01M1596.5 423.5h.01M1597.5 391.5h.01M1598.5 387.5h.01M1598.5 421.5h.01M1598.5 452.5h.01M1599.5 383.5h.01M1601.5 82.5h.01M1601.5 434.5h.01M1608.5 409.5h.01M1608.5 431.5h.01M1608.5 447.5h.01M1608.5 464.5h.01M1609.5 526.5h.01M1611.5 422.5h.01M1611.5 429.5h.01M1612.5 426.5h.01M1612.5 447.5h.01M1618.5 209.5h.01M1619.5 189.5h.01M1620.5 196.5h.01M1620.5 201.5h.01M1620.5 366.5h.01M1624.5 171.5h.01M1624.5 197.5h.01M1624.5 373.5h.01M1624.5 407.5h.01" stroke="#e0782a" stroke-width="3" stroke-linecap="round"/>
<path d="M566 562.4V566.8M577.2 562.4V566.8M588.5 562.4V566.8M599.7 562.4V566.8M610.9 562.4V566.8M622.1 562.4V566.8M633.4 562.4V566.8M644.6 562.4V566.8M655.8 562.4V566.8M667 562.4V566.8M678.3 562.4V566.8M689.5 562.4V566.8M700.7 562.4V566.8M711.9 562.4V566.8M723.2 562.4V566.8M734.4 562.4V566.8M745.6 562.4V566.8M756.8 562.4V566.8M768.1 562.4V566.8M779.3 562.4V566.8M790.5 562.4V566.8M801.7 562.4V566.8M813 562.4V566.8M824.2 562.4V566.8M835.4 562.4V566.8M846.7 562.4V566.8M857.9 562.4V566.8M869.1 562.4V566.8M880.3 562.4V566.8M891.6 562.4V566.8M902.8 562.4V566.8M914 562.4V566.8M925.2 562.4V566.8M936.5 562.4V566.8M947.7 562.4V566.8M958.9 562.4V566.8M970.1 562.4V566.8M981.4 562.4V566.8M992.6 562.4V566.8M1003.8 562.4V566.8M1015 562.4V566.8M1026.3 562.4V566.8M1037.5 562.4V566.8M1048.7 562.4V566.8M1059.9 562.4V566.8M1071.2 562.4V566.8M1082.4 562.4V566.8M1093.6 562.4V566.8M1104.8 562.4V566.8M1116.1 562.4V566.8M1127.3 562.4V566.8M1138.5 562.4V566.8M1149.8 562.4V566.8M1161 562.4V566.8M1172.2 562.4V566.8M1183.4 562.4V566.8M1194.7 562.4V566.8M1205.9 562.4V566.8M1217.1 562.4V566.8M1228.3 562.4V566.8M1239.6 562.4V566.8M1250.8 562.4V566.8M1262 562.4V566.8M1273.2 562.4V566.8M1284.5 562.4V566.8M1295.7 562.4V566.8M1306.9 562.4V566.8M1318.1 562.4V566.8M1329.4 562.4V566.8M1340.6 562.4V566.8M1351.8 562.4V566.8M1363 562.4V566.8M1374.3 562.4V566.8M1385.5 562.4V566.8M1396.7 562.4V566.8M1408 562.4V566.8M1419.2 562.4V566.8M1430.4 562.4V566.8M1441.6 562.4V566.8M1452.9 562.4V566.8M1464.1 562.4V566.8M1475.3 562.4V566.8M1486.5 562.4V566.8M1497.8 562.4V566.8M1509 562.4V566.8M1520.2 562.4V566.8M1531.4 562.4V566.8M1542.7 562.4V566.8M1553.9 562.4V566.8M1565.1 562.4V566.8M1576.3 562.4V566.8M1587.6 562.4V566.8M1598.8 562.4V566.8M1610 562.4V566.8M1621.2 562.4V566.8" stroke="#333" stroke-width="1.1"/>
<g font-size="10.15"><text transform="translate(562.4,571) rotate(90)" fill="#a9cde3">LTHSC_34-_BM</text><text transform="translate(573.6,571) rotate(90)" fill="#a9cde3">LTHSC_34+_BM</text><text transform="translate(584.9,571) rotate(90)" fill="#a9cde3">STHSC_150-_BM</text><text transform="translate(596.1,571) rotate(90)" fill="#a9cde3">MMP2_150+48+_BM</text><text transform="translate(607.3,571) rotate(90)" fill="#a9cde3">MMP3_48+_BM</text><text transform="translate(618.5,571) rotate(90)" fill="#a9cde3">MMP4_135+_BM</text><text transform="translate(629.8,571) rotate(90)" fill="#1f78b4">proB_CLP_BM</text><text transform="translate(641,571) rotate(90)" fill="#1f78b4">proB_FrA_BM</text><text transform="translate(652.2,571) rotate(90)" fill="#1f78b4">proB_FrBC_BM</text><text transform="translate(663.4,571) rotate(90)" fill="#1f78b4">B_FrE_BM</text><text transform="translate(674.7,571) rotate(90)" fill="#1f78b4">B_T1_Sp</text><text transform="translate(685.9,571) rotate(90)" fill="#1f78b4">B_T2_Sp</text><text transform="translate(697.1,571) rotate(90)" fill="#1f78b4">B_T3_Sp</text><text transform="translate(708.3,571) rotate(90)" fill="#1f78b4">B_Sp</text><text transform="translate(719.6,571) rotate(90)" fill="#1f78b4">B_Fem_Sp</text><text transform="translate(730.8,571) rotate(90)" fill="#1f78b4">B_Fo_Sp</text><text transform="translate(742,571) rotate(90)" fill="#1f78b4">B_MZ_Sp</text><text transform="translate(753.2,571) rotate(90)" fill="#1f78b4">B_mem_Sp</text><text transform="translate(764.5,571) rotate(90)" fill="#1f78b4">B_GC_CB_Sp</text><text transform="translate(775.7,571) rotate(90)" fill="#1f78b4">B_GC_CC_Sp</text><text transform="translate(786.9,571) rotate(90)" fill="#1f78b4">B_PB_Sp</text><text transform="translate(798.1,571) rotate(90)" fill="#1f78b4">B_PC_Sp</text><text transform="translate(809.4,571) rotate(90)" fill="#1f78b4">B_PC_BM</text><text transform="translate(820.6,571) rotate(90)" fill="#1f78b4">B1b_PC</text><text transform="translate(831.8,571) rotate(90)" fill="#6a3d9a">preT_DN1_Th</text><text transform="translate(843.1,571) rotate(90)" fill="#6a3d9a">preT_DN2a_Th</text><text transform="translate(854.3,571) rotate(90)" fill="#6a3d9a">preT_DN2b_Th</text><text transform="translate(865.5,571) rotate(90)" fill="#6a3d9a">preT_DN3_Th</text><text transform="translate(876.7,571) rotate(90)" fill="#6a3d9a">T_DN4_Th</text><text transform="translate(888,571) rotate(90)" fill="#6a3d9a">T_ISP_Th</text><text transform="translate(899.2,571) rotate(90)" fill="#6a3d9a">T_DP_Th</text><text transform="translate(910.4,571) rotate(90)" fill="#6a3d9a">T_4_Th</text><text transform="translate(921.6,571) rotate(90)" fill="#6a3d9a">T_4_Nve_Sp</text><text transform="translate(932.9,571) rotate(90)" fill="#6a3d9a">T_4_Nve_Fem_Sp</text><text transform="translate(944.1,571) rotate(90)" fill="#6a3d9a">T_4_Sp_aCD3+CD40_18hr</text><text transform="translate(955.3,571) rotate(90)" fill="#6a3d9a">T_8_Th</text><text transform="translate(966.5,571) rotate(90)" fill="#6a3d9a">T_8_Nve_Sp</text><text transform="translate(977.8,571) rotate(90)" fill="#6a3d9a">T8_TN_P14_Sp</text><text transform="translate(989,571) rotate(90)" fill="#6a3d9a">T8_TE_LCMV_d7_Sp</text><text transform="translate(1000.2,571) rotate(90)" fill="#6a3d9a">T8_MP_LCMV_d7_Sp</text><text transform="translate(1011.4,571) rotate(90)" fill="#6a3d9a">T8_IEL_LCMV_d7_Gut</text><text transform="translate(1022.7,571) rotate(90)" fill="#6a3d9a">T8_Tcm_LCMV_d180_Sp</text><text transform="translate(1033.9,571) rotate(90)" fill="#6a3d9a">T8_Tem_LCMV_d180_Sp</text><text transform="translate(1045.1,571) rotate(90)" fill="#6a3d9a">Treg_4_25hi_Sp</text><text transform="translate(1056.3,571) rotate(90)" fill="#6a3d9a">Treg_4_FP3+_Nrplo_Co</text><text transform="translate(1067.6,571) rotate(90)" fill="#6a3d9a">NKT_Sp</text><text transform="translate(1078.8,571) rotate(90)" fill="#6a3d9a">NKT_Sp_LPS_3hr</text><text transform="translate(1090,571) rotate(90)" fill="#6a3d9a">NKT_Sp_LPS_18hr</text><text transform="translate(1101.2,571) rotate(90)" fill="#6a3d9a">NKT_Sp_LPS_3d</text><text transform="translate(1112.5,571) rotate(90)" fill="#6a3d9a">NKT_19-8-TCRb+CD1daGalCerTet+_Lu</text><text transform="translate(1123.7,571) rotate(90)" fill="#6a3d9a">NKT_19-8-TCRb+CD1daGalCerTet+_Sp</text><text transform="translate(1134.9,571) rotate(90)" fill="#6a3d9a">NKT_19-8-TCRb+CD1daGalCerTet+_Th</text><text transform="translate(1146.2,571) rotate(90)" fill="#6a3d9a">NKT_19-8-TCRb+CD1daGalCerTet+_Lv</text><text transform="translate(1157.4,571) rotate(90)" fill="#6a3d9a">T_4_19-8-TCRb+_Sp</text><text transform="translate(1168.6,571) rotate(90)" fill="#f5b461">Tgd_g2+d17_24a+_Th</text><text transform="translate(1179.8,571) rotate(90)" fill="#f5b461">Tgd_g2+d1_24a+_Th</text><text transform="translate(1191.1,571) rotate(90)" fill="#f5b461">Tgd_g1_1+d1_24a+_Th</text><text transform="translate(1202.3,571) rotate(90)" fill="#f5b461">Tgd_g2+d17_LN</text><text transform="translate(1213.5,571) rotate(90)" fill="#f5b461">Tgd_g2+d1_LN</text><text transform="translate(1224.7,571) rotate(90)" fill="#f5b461">Tgd_g1_1+d1_LN</text><text transform="translate(1236,571) rotate(90)" fill="#f5b461">Tgd_Sp</text><text transform="translate(1247.2,571) rotate(90)" fill="#bda6cc">NK_27-11b+_Sp</text><text transform="translate(1258.4,571) rotate(90)" fill="#bda6cc">NK_27+11b-_Sp</text><text transform="translate(1269.6,571) rotate(90)" fill="#bda6cc">NK_27+11b+_Sp</text><text transform="translate(1280.9,571) rotate(90)" fill="#bda6cc">NK_27-11b+_BM</text><text transform="translate(1292.1,571) rotate(90)" fill="#bda6cc">NK_27+11b-_BM</text><text transform="translate(1303.3,571) rotate(90)" fill="#bda6cc">NK_27+11b+_BM</text><text transform="translate(1314.5,571) rotate(90)" fill="#bda6cc">ILC2_SI</text><text transform="translate(1325.8,571) rotate(90)" fill="#bda6cc">ILC2_ST2-_SI</text><text transform="translate(1337,571) rotate(90)" fill="#bda6cc">ILC3_NKp46-CCR6-_SI</text><text transform="translate(1348.2,571) rotate(90)" fill="#bda6cc">ILC3_CCR6+_SI</text><text transform="translate(1359.4,571) rotate(90)" fill="#bda6cc">ILC3_NKp46+_SI</text><text transform="translate(1370.7,571) rotate(90)" fill="#a5d67c">DC_4+_Sp</text><text transform="translate(1381.9,571) rotate(90)" fill="#a5d67c">DC_8+_Sp</text><text transform="translate(1393.1,571) rotate(90)" fill="#a5d67c">DC_pDC_Sp</text><text transform="translate(1404.4,571) rotate(90)" fill="#33a02c">MF_PC</text><text transform="translate(1415.6,571) rotate(90)" fill="#33a02c">MF_Fem_PC</text><text transform="translate(1426.8,571) rotate(90)" fill="#33a02c">MF_226+II+480lo_PC</text><text transform="translate(1438,571) rotate(90)" fill="#33a02c">MF_102+480+_PC</text><text transform="translate(1449.3,571) rotate(90)" fill="#33a02c">MF_RP_Sp</text><text transform="translate(1460.5,571) rotate(90)" fill="#33a02c">MF_Alv_Lu</text><text transform="translate(1471.7,571) rotate(90)" fill="#33a02c">MF_pIC_Alv_Lu</text><text transform="translate(1482.9,571) rotate(90)" fill="#33a02c">MF_microglia_CNS</text><text transform="translate(1494.2,571) rotate(90)" fill="#33a02c">MF_AT</text><text transform="translate(1505.4,571) rotate(90)" fill="#f59290">Mo_6C+II-_Bl</text><text transform="translate(1516.6,571) rotate(90)" fill="#f59290">Mo_6C-II-_Bl</text><text transform="translate(1527.8,571) rotate(90)" fill="#e31a1c">GN_BM</text><text transform="translate(1539.1,571) rotate(90)" fill="#e31a1c">GN_Sp</text><text transform="translate(1550.3,571) rotate(90)" fill="#e31a1c">GN_Thio_PC</text><text transform="translate(1561.5,571) rotate(90)" fill="#6cc5c9">MC_heparinase_PC</text><text transform="translate(1572.7,571) rotate(90)" fill="#ff7f00">Ep_MEChi_Th</text><text transform="translate(1584,571) rotate(90)" fill="#ff7f00">FRC_CD140a+_Madcam-_CD35-_SLN</text><text transform="translate(1595.2,571) rotate(90)" fill="#ff7f00">LEC_SLN</text><text transform="translate(1606.4,571) rotate(90)" fill="#ff7f00">BEC_SLN</text><text transform="translate(1617.6,571) rotate(90)" fill="#ff7f00">IAP_SLN</text></g>
<text x="1659.4" y="24" class="pl">e</text>
<g transform="translate(1715,28) scale(0.9043,0.9017)"><path d="M11 17.6C7 17.2 2.5 18.6 0.9 21.8C0 24 1.5 26.4 4.5 27.5C9 28.8 14 29 18.5 29.3" fill="none" stroke="#222" stroke-width="1.9" stroke-linecap="round"/><path d="M9 16.5C11 12 15 6 22 2.2C26 0.4 31 -0.2 36 1.8C38 2.8 40 3.8 41.2 4.2C41.8 2.6 43 1.8 44.2 1.9C45.6 2 46.6 3 47.6 5.6C50 9 54 12.6 56.6 16.6C57.4 17.8 57.4 19.4 56.2 20C54.5 20.8 52.5 21.2 50.5 21.4L46 22.6L46.6 24.4L41 24.4L40.6 23C36 22.8 30 22.4 24 22.8L23.2 25.4L19 26.4L17 23.8C15 22.5 13.4 21 12 19.2C11 18.2 9.6 17.4 9 16.5Z" fill="#a5a5a9" stroke="#222" stroke-width="1.1"/><path d="M33.4 8.7L38.9 8.7C39.8 9.8 40.4 11 40.2 12.1C39.8 13.6 38.5 14.4 37 14.4L34.4 14.2C33.6 13 33 11.8 33.1 11C33 10.2 33.1 9.4 33.4 8.7Z" fill="#f2f2f4" stroke="#222" stroke-width="1"/><circle cx="48.4" cy="14.3" r="0.95" fill="#111"/></g>
<text x="1924" y="62" font-size="20.9" text-anchor="middle">HALLMARK EMT, N=193</text>
<path d="M1744.8 84.9L1744.8 214.6" stroke="#222" stroke-width="1.1" />
<path d="M1739.8 214.6L1744.8 214.6" stroke="#222" stroke-width="1.1" />
<text x="1735.8" y="219.6" font-size="14" text-anchor="end" fill="#222">0.0</text>
<path d="M1739.8 188.7L1744.8 188.7" stroke="#222" stroke-width="1.1" />
<text x="1735.8" y="193.7" font-size="14" text-anchor="end" fill="#222">0.1</text>
<path d="M1739.8 162.7L1744.8 162.7" stroke="#222" stroke-width="1.1" />
<text x="1735.8" y="167.8" font-size="14" text-anchor="end" fill="#222">0.2</text>
<path d="M1739.8 136.8L1744.8 136.8" stroke="#222" stroke-width="1.1" />
<text x="1735.8" y="141.8" font-size="14" text-anchor="end" fill="#222">0.3</text>
<path d="M1739.8 110.8L1744.8 110.8" stroke="#222" stroke-width="1.1" />
<text x="1735.8" y="115.9" font-size="14" text-anchor="end" fill="#222">0.4</text>
<path d="M1739.8 84.9L1744.8 84.9" stroke="#222" stroke-width="1.1" />
<text x="1735.8" y="89.9" font-size="14" text-anchor="end" fill="#222">0.5</text>
<path d="M1744.8 214.6L2117.7 214.6" stroke="#222" stroke-width="1.3" />
<text transform="translate(1701,138.8) rotate(-90)" font-size="20.4" text-anchor="middle">Enrichment score</text>
<path d="M1758.3 204.9L1759.1 187.8L1760 172.4L1760.8 150.7L1761.6 145.9L1762.5 140.4L1763.3 140.6L1764.2 138.9L1765 137.7L1765.8 129.6L1766.7 119.2L1767.5 112.5L1768.3 107.7L1769.2 104.6L1770 106L1770.8 104.6L1771.7 105.2L1772.5 105.2L1773.3 103.5L1774.2 104.8L1775 103.4L1775.9 103.3L1776.7 102.9L1777.5 99.5L1778.4 98.1L1779.2 98.3L1780 97.9L1780.9 97.3L1781.7 95.1L1782.5 95.5L1783.4 95.7L1784.2 94.6L1785.1 91.5L1785.9 90.6L1786.7 92.2L1787.6 92.6L1788.4 91.1L1789.2 91.9L1790.1 91.1L1790.9 91.1L1791.7 91.2L1792.6 91.3L1793.4 90.9L1794.2 93.2L1795.1 92.6L1795.9 91.5L1796.8 92L1797.6 91.5L1798.4 93L1799.3 91.4L1800.1 92.4L1800.9 93L1801.8 92.1L1802.6 91.1L1803.4 88.4L1804.3 88.7L1805.1 86.7L1806 86.6L1806.8 84.3L1807.6 85.2L1808.5 83.9L1809.3 84.2L1810.1 83.3L1811 83.3L1811.8 83.4L1812.6 84.5L1813.5 83.4L1814.3 83.7L1815.1 84.7L1816 84.2L1816.8 83.7L1817.7 84.1L1818.5 83L1819.3 82.9L1820.2 84.4L1821 86.1L1821.8 85.6L1822.7 86.1L1823.5 84.7L1824.3 84L1825.2 85.2L1826 83.7L1826.9 82.7L1827.7 85L1828.5 85.5L1829.4 85.4L1830.2 86.1L1831 85.7L1831.9 85.5L1832.7 84.7L1833.5 85.5L1834.4 84.9L1835.2 85.5L1836 87.1L1836.9 86.1L1837.7 86.3L1838.6 85.7L1839.4 87.8L1840.2 85L1841.1 85.6L1841.9 86.8L1842.7 85.7L1843.6 85.5L1844.4 86.2L1845.2 86.2L1846.1 86L1846.9 84.9L1847.8 85.7L1848.6 84.4L1849.4 84.5L1850.3 84.4L1851.1 85.1L1851.9 84.7L1852.8 84.5L1853.6 85.2L1854.4 84.8L1855.3 85.3L1856.1 85.7L1856.9 85.9L1857.8 86L1858.6 86.2L1859.5 87.9L1860.3 86.6L1861.1 88.2L1862 88.1L1862.8 88.5L1863.6 88.3L1864.5 89.6L1865.3 89.7L1866.1 90.9L1867 90.4L1867.8 90.5L1868.7 90.8L1869.5 92.3L1870.3 92.5L1871.2 92.5L1872 93.9L1872.8 93.6L1873.7 93.7L1874.5 94.5L1875.3 94.2L1876.2 95.2L1877 95L1877.8 96.3L1878.7 96.7L1879.5 96.8L1880.4 97.8L1881.2 97.3L1882 98.3L1882.9 98.4L1883.7 98.3L1884.5 99.6L1885.4 100.4L1886.2 101.4L1887 100.4L1887.9 100.9L1888.7 101.8L1889.6 101L1890.4 102.5L1891.2 101.4L1892.1 102L1892.9 102.7L1893.7 103L1894.6 103.9L1895.4 103.4L1896.2 104.2L1897.1 104.4L1897.9 105L1898.7 105.5L1899.6 106L1900.4 106.2L1901.3 106.6L1902.1 106.8L1902.9 106.5L1903.8 106.8L1904.6 108.1L1905.4 107.8L1906.3 108.4L1907.1 109.2L1907.9 109.3L1908.8 109.6L1909.6 109.9L1910.5 110.7L1911.3 111.6L1912.1 110.8L1913 111.8L1913.8 112.6L1914.6 112.8L1915.5 112.9L1916.3 113.5L1917.1 114.1L1918 114.8L1918.8 114.2L1919.6 115L1920.5 115.9L1921.3 116.4L1922.2 116.8L1923 117.3L1923.8 118L1924.7 118.3L1925.5 119.6L1926.3 119L1927.2 119.6L1928 119.8L1928.8 121.1L1929.7 121.5L1930.5 122L1931.3 122.2L1932.2 123.9L1933 124L1933.9 124.7L1934.7 124.6L1935.5 125.8L1936.4 126.5L1937.2 127.5L1938 127.8L1938.9 128.6L1939.7 128.4L1940.5 129.5L1941.4 130.2L1942.2 130.8L1943.1 131.4L1943.9 132.1L1944.7 133.2L1945.6 133.3L1946.4 134.4L1947.2 135L1948.1 135.3L1948.9 136.1L1949.7 135.9L1950.6 137.1L1951.4 138.3L1952.2 138.4L1953.1 138.5L1953.9 140.1L1954.8 139.9L1955.6 141.4L1956.4 141.5L1957.3 141.7L1958.1 142.5L1958.9 143.7L1959.8 143.9L1960.6 144.4L1961.4 145L1962.3 145.5L1963.1 145.9L1964 146.8L1964.8 147.6L1965.6 147.8L1966.5 148.8L1967.3 149.2L1968.1 148.9L1969 150.2L1969.8 150.9L1970.6 150.4L1971.5 151.4L1972.3 152.3L1973.1 152.4L1974 153.2L1974.8 153.7L1975.7 154.1L1976.5 154.8L1977.3 155.3L1978.2 156L1979 156.5L1979.8 156.9L1980.7 157.4L1981.5 158L1982.3 158.9L1983.2 159L1984 160.3L1984.9 160.2L1985.7 161.6L1986.5 161.5L1987.4 162L1988.2 162.6L1989 163.4L1989.9 163.9L1990.7 164.2L1991.5 165.1L1992.4 165.7L1993.2 166.2L1994 167.1L1994.9 166.6L1995.7 167.8L1996.6 168.3L1997.4 169.2L1998.2 170.2L1999.1 169.8L1999.9 170.6L2000.7 171.3L2001.6 172.2L2002.4 172.8L2003.2 172.9L2004.1 173.9L2004.9 174.3L2005.8 175.1L2006.6 175.5L2007.4 176.2L2008.3 176.6L2009.1 177L2009.9 177.5L2010.8 178.5L2011.6 178.8L2012.4 179.3L2013.3 180.1L2014.1 180.8L2014.9 181.5L2015.8 181.7L2016.6 182.5L2017.5 183.3L2018.3 183.6L2019.1 184.6L2020 185L2020.8 185.4L2021.6 186.4L2022.5 186.9L2023.3 188L2024.1 188.2L2025 189.3L2025.8 190.1L2026.7 190.4L2027.5 191L2028.3 191.4L2029.2 192.2L2030 193L2030.8 194L2031.7 194.4L2032.5 194.5L2033.3 195.7L2034.2 195.8L2035 197L2035.8 197.5L2036.7 197.9L2037.5 198L2038.4 199L2039.2 199.2L2040 199.7L2040.9 200.4L2041.7 200.5L2042.5 201.4L2043.4 201.9L2044.2 202.5L2045 202.6L2045.9 203.1L2046.7 203.9L2047.6 204.3L2048.4 204L2049.2 205L2050.1 205.5L2050.9 205.4L2051.7 206.2L2052.6 206.3L2053.4 206.7L2054.2 206.8L2055.1 207.8L2055.9 207.6L2056.7 207.4L2057.6 208.2L2058.4 208.7L2059.3 208.9L2060.1 209.9L2060.9 209.7L2061.8 210.1L2062.6 210.6L2063.4 211.1L2064.3 210.9L2065.1 211.1L2065.9 211.7L2066.8 212.4L2067.6 212.5L2068.5 213L2069.3 213L2070.1 213.7L2071 213.8L2071.8 214.1L2072.6 214.5L2073.5 214.7L2074.3 215L2075.1 214.8L2076 215.6L2076.8 215.7L2077.6 216.2L2078.5 216.4L2079.3 216.5L2080.2 217L2081 217.6L2081.8 217.6L2082.7 217.8L2083.5 218.2L2084.3 218.7L2085.2 218.7L2086 219.2L2086.8 219.6L2087.7 219.7L2088.5 220.7L2089.4 221.2L2090.2 221.4L2091 221.9L2091.9 222.5L2092.7 223.1L2093.5 223.1L2094.4 223.9L2095.2 224L2096 223.5L2096.9 224.1L2097.7 224.3L2098.5 224.1L2099.4 223.8L2100.2 222.5L2101.1 220.9L2101.9 218.8L2102.7 216.5L2103.6 215.1L2104.4 213.1" fill="none" stroke="#6aad5e" stroke-width="3.8" stroke-linejoin="round" stroke-linecap="round"/>
<text x="1994" y="110" font-size="20.6">NES=1.39</text>
<text x="1994" y="136" font-size="20.6">FDR=0.0298</text>
<path d="M1760.1 231.6V247.3M1763.9 231.6V247.3M1764.4 231.6V247.3M1766.3 231.6V247.3M1769.8 231.6V247.3M1773.1 231.6V247.3M1780.2 231.6V247.3M1787.9 231.6V247.3M1805.3 231.6V247.3M1812.3 231.6V247.3M1814.2 231.6V247.3M1876 231.6V247.3M1918.2 231.6V247.3M1921.2 231.6V247.3M1960.1 231.6V247.3" stroke="rgb(16,16,16)" stroke-width="1.1"/>
<path d="M1782.4 231.6V247.3M1791.3 231.6V247.3M1811.4 231.6V247.3M1846.1 231.6V247.3M1856.4 231.6V247.3M1866.6 231.6V247.3M1869.2 231.6V247.3M1901 231.6V247.3M1901.9 231.6V247.3M1923.6 231.6V247.3M1926.9 231.6V247.3M1933.6 231.6V247.3M1940 231.6V247.3M1995.6 231.6V247.3" stroke="rgb(32,32,32)" stroke-width="1.1"/>
<path d="M1809.1 231.6V247.3M1823.9 231.6V247.3M1841.7 231.6V247.3M1960.4 231.6V247.3" stroke="rgb(48,48,48)" stroke-width="1.1"/>
<path d="M1763.9 231.6V247.3M1764.1 231.6V247.3M1765.7 231.6V247.3M1769.6 231.6V247.3M1794.1 231.6V247.3M1796.5 231.6V247.3M1797.9 231.6V247.3M1799.5 231.6V247.3M1815.1 231.6V247.3M1816.1 231.6V247.3M1841.9 231.6V247.3M1876.7 231.6V247.3M1887.8 231.6V247.3M1902.9 231.6V247.3M1914.7 231.6V247.3M1940.3 231.6V247.3M1943.9 231.6V247.3M1954.6 231.6V247.3M1967.6 231.6V247.3M1998.2 231.6V247.3" stroke="rgb(64,64,64)" stroke-width="1.1"/>
<path d="M1776.2 231.6V247.3M1786.2 231.6V247.3M1794.5 231.6V247.3M1807.4 231.6V247.3M1816.6 231.6V247.3M1833.4 231.6V247.3M1837.2 231.6V247.3M1841.5 231.6V247.3M1850.5 231.6V247.3M1851.3 231.6V247.3M1879.2 231.6V247.3M1880.6 231.6V247.3M1883.2 231.6V247.3M1887.8 231.6V247.3M1899.7 231.6V247.3M1908.7 231.6V247.3M1927.8 231.6V247.3M1935.6 231.6V247.3M1970 231.6V247.3M1991.2 231.6V247.3M2087.5 231.6V247.3" stroke="rgb(80,80,80)" stroke-width="1.1"/>
<path d="M1759.6 231.6V247.3M1760.6 231.6V247.3M1761.4 231.6V247.3M1779.1 231.6V247.3M1791.9 231.6V247.3M1821.6 231.6V247.3M1825.4 231.6V247.3M1835.1 231.6V247.3M1841.3 231.6V247.3M1860.4 231.6V247.3M1862.1 231.6V247.3M1862.5 231.6V247.3M1871.5 231.6V247.3M1887.7 231.6V247.3M1901 231.6V247.3M1941.9 231.6V247.3M1956.4 231.6V247.3M1957.6 231.6V247.3M1963.2 231.6V247.3M1966.8 231.6V247.3M1997.1 231.6V247.3M1998.4 231.6V247.3M1998.4 231.6V247.3M2003.2 231.6V247.3M2069.6 231.6V247.3" stroke="rgb(96,96,96)" stroke-width="1.1"/>
<path d="M1760.9 231.6V247.3M1772.2 231.6V247.3M1806 231.6V247.3M1824.3 231.6V247.3M1824.4 231.6V247.3M1842.9 231.6V247.3M1867.7 231.6V247.3M1868.8 231.6V247.3M1889.1 231.6V247.3M1893.1 231.6V247.3M1908.8 231.6V247.3M1923.6 231.6V247.3M1948.6 231.6V247.3M1949.5 231.6V247.3M1965 231.6V247.3M1969.5 231.6V247.3M1988.6 231.6V247.3M1998.7 231.6V247.3M2003.4 231.6V247.3M2008 231.6V247.3M2018.7 231.6V247.3M2019 231.6V247.3M2046 231.6V247.3M2059.3 231.6V247.3M2074.4 231.6V247.3" stroke="rgb(112,112,112)" stroke-width="1.1"/>
<path d="M1768.4 231.6V247.3M1787.4 231.6V247.3M1834.7 231.6V247.3M1860.8 231.6V247.3M1862.5 231.6V247.3M1864.5 231.6V247.3M1867.6 231.6V247.3M1874.9 231.6V247.3M1896.9 231.6V247.3M1899.9 231.6V247.3M1913.4 231.6V247.3M1915.3 231.6V247.3M1928.1 231.6V247.3M1929.3 231.6V247.3M1943.5 231.6V247.3M1948.8 231.6V247.3M1960.1 231.6V247.3M1961.8 231.6V247.3M1965.8 231.6V247.3M1984.8 231.6V247.3M2000.2 231.6V247.3M2001 231.6V247.3M2001.7 231.6V247.3M2009.1 231.6V247.3M2010.2 231.6V247.3M2049.8 231.6V247.3" stroke="rgb(128,128,128)" stroke-width="1.1"/>
<path d="M1798.2 231.6V247.3M1856.8 231.6V247.3M1864.8 231.6V247.3M1873.6 231.6V247.3M1931.9 231.6V247.3M1944.9 231.6V247.3M1946.8 231.6V247.3M1963.6 231.6V247.3M1964.1 231.6V247.3M1988.8 231.6V247.3M2002.9 231.6V247.3M2005.4 231.6V247.3M2013.5 231.6V247.3M2020 231.6V247.3M2021.5 231.6V247.3M2021.8 231.6V247.3M2051.1 231.6V247.3M2054.7 231.6V247.3M2067.1 231.6V247.3M2072.1 231.6V247.3M2100.1 231.6V247.3" stroke="rgb(144,144,144)" stroke-width="1.1"/>
<path d="M1881.7 231.6V247.3M1892 231.6V247.3M1941.7 231.6V247.3M1942.9 231.6V247.3M1943.5 231.6V247.3M1971.1 231.6V247.3M1980.8 231.6V247.3M1992.5 231.6V247.3M1994.6 231.6V247.3M1998.9 231.6V247.3M2018.8 231.6V247.3M2022.7 231.6V247.3M2025.1 231.6V247.3M2030.7 231.6V247.3M2041 231.6V247.3M2057.3 231.6V247.3M2063.1 231.6V247.3M2064.5 231.6V247.3M2073.2 231.6V247.3M2088.3 231.6V247.3M2091.5 231.6V247.3M2092.2 231.6V247.3" stroke="rgb(160,160,160)" stroke-width="1.1"/>
<path d="M1877.3 231.6V247.3M1903.6 231.6V247.3M1921.5 231.6V247.3M1966.1 231.6V247.3M1989.9 231.6V247.3M1989.9 231.6V247.3M2004.1 231.6V247.3M2032 231.6V247.3M2033.5 231.6V247.3M2048.3 231.6V247.3M2054.3 231.6V247.3M2057.7 231.6V247.3M2065.1 231.6V247.3M2080 231.6V247.3M2096 231.6V247.3" stroke="rgb(176,176,176)" stroke-width="1.1"/>
<path d="M1781.4 231.6V247.3M1840 231.6V247.3M1940 231.6V247.3M1955.9 231.6V247.3M2027.7 231.6V247.3M2029.3 231.6V247.3M2036.5 231.6V247.3M2070.7 231.6V247.3M2084.3 231.6V247.3M2089.3 231.6V247.3" stroke="rgb(192,192,192)" stroke-width="1.1"/>
<path d="M1823.6 231.6V247.3M1894.1 231.6V247.3M1979.9 231.6V247.3M1981.1 231.6V247.3M1999.3 231.6V247.3M2055.3 231.6V247.3M2060.3 231.6V247.3M2072.4 231.6V247.3M2086.1 231.6V247.3M2090.4 231.6V247.3M2094.1 231.6V247.3M2099.4 231.6V247.3" stroke="rgb(208,208,208)" stroke-width="1.1"/>
<rect x="1758.8" y="247.3" width="17.2" height="10.2" fill="#b05a60" />
<rect x="1776" y="247.3" width="69" height="10.2" fill="#ee6068" />
<rect x="1845" y="247.3" width="111.5" height="10.2" fill="#f9d0d8" />
<rect x="1956.5" y="247.3" width="61.5" height="10.2" fill="#98b0dc" />
<rect x="2018" y="247.3" width="69" height="10.2" fill="#6c82c0" />
<rect x="2087" y="247.3" width="17.4" height="10.2" fill="#6468ac" />
<path d="M1744.8 265L1744.8 329.5" stroke="#222" stroke-width="1.1" />
<path d="M1739.8 265L1744.8 265" stroke="#222" stroke-width="1.1" />
<text x="1735.8" y="270" font-size="14" text-anchor="end" fill="#222">10</text>
<path d="M1739.8 286.5L1744.8 286.5" stroke="#222" stroke-width="1.1" />
<text x="1735.8" y="291.5" font-size="14" text-anchor="end" fill="#222">5</text>
<path d="M1739.8 308L1744.8 308" stroke="#222" stroke-width="1.1" />
<text x="1735.8" y="313" font-size="14" text-anchor="end" fill="#222">0</text>
<path d="M1739.8 329.5L1744.8 329.5" stroke="#222" stroke-width="1.1" />
<text x="1735.8" y="334.5" font-size="14" text-anchor="end" fill="#222">-5</text>
<path d="M1758.3 308L1758.3 260.7L1760 286.7L1761.8 292.3L1763.5 294.1L1765.3 295.4L1767 296.7L1768.7 297.6L1770.5 297.9L1772.2 298.2L1774 298.4L1775.7 298.7L1777.4 299L1779.2 299.3L1780.9 299.6L1782.6 299.8L1784.4 300.1L1786.1 300.4L1787.9 300.7L1789.6 300.9L1791.3 301.1L1793.1 301.2L1794.8 301.2L1796.6 301.3L1798.3 301.4L1800 301.5L1801.8 301.6L1803.5 301.7L1805.3 301.8L1807 301.8L1808.7 301.9L1810.5 302L1812.2 302.1L1814 302.2L1815.7 302.3L1817.4 302.4L1819.2 302.5L1820.9 302.5L1822.7 302.6L1824.4 302.7L1826.1 302.8L1827.9 302.9L1829.6 303L1831.3 303.1L1833.1 303.2L1834.8 303.2L1836.6 303.3L1838.3 303.4L1840 303.5L1841.8 303.6L1843.5 303.6L1845.3 303.7L1847 303.7L1848.7 303.8L1850.5 303.8L1852.2 303.9L1854 303.9L1855.7 304L1857.4 304L1859.2 304.1L1860.9 304.1L1862.7 304.2L1864.4 304.2L1866.1 304.3L1867.9 304.3L1869.6 304.4L1871.3 304.4L1873.1 304.5L1874.8 304.5L1876.6 304.6L1878.3 304.7L1880 304.7L1881.8 304.8L1883.5 304.8L1885.3 304.9L1887 304.9L1888.7 305L1890.5 305L1892.2 305.1L1894 305.1L1895.7 305.2L1897.4 305.2L1899.2 305.3L1900.9 305.3L1902.7 305.4L1904.4 305.4L1906.1 305.5L1907.9 305.5L1909.6 305.6L1911.3 305.6L1913.1 305.7L1914.8 305.7L1916.6 305.8L1918.3 305.9L1920 305.9L1921.8 306L1923.5 306L1925.3 306.1L1927 306.1L1928.7 306.2L1930.5 306.2L1932.2 306.3L1934 306.3L1935.7 306.4L1937.4 306.4L1939.2 306.5L1940.9 306.5L1942.7 306.6L1944.4 306.6L1946.1 306.7L1947.9 306.7L1949.6 306.8L1951.4 306.8L1953.1 306.9L1954.8 306.9L1956.6 307L1958.3 307L1960 307.1L1961.8 307.1L1963.5 307.2L1965.3 307.2L1967 307.3L1968.7 307.3L1970.5 307.3L1972.2 307.4L1974 307.4L1975.7 307.5L1977.4 307.5L1979.2 307.5L1980.9 307.6L1982.7 307.6L1984.4 307.7L1986.1 307.7L1987.9 307.8L1989.6 307.8L1991.4 307.8L1993.1 307.9L1994.8 307.9L1996.6 308L1998.3 308L2000 308.1L2001.8 308.1L2003.5 308.1L2005.3 308.2L2007 308.2L2008.7 308.3L2010.5 308.3L2012.2 308.3L2014 308.4L2015.7 308.4L2017.4 308.5L2019.2 308.5L2020.9 308.6L2022.7 308.6L2024.4 308.6L2026.1 308.7L2027.9 308.7L2029.6 308.8L2031.4 308.8L2033.1 308.9L2034.8 308.9L2036.6 308.9L2038.3 309L2040 309L2041.8 309.1L2043.5 309.1L2045.3 309.1L2047 309.2L2048.7 309.2L2050.5 309.3L2052.2 309.3L2054 309.4L2055.7 309.4L2057.4 309.4L2059.2 309.5L2060.9 309.5L2062.7 309.6L2064.4 309.7L2066.1 309.8L2067.9 309.8L2069.6 309.9L2071.4 310L2073.1 310.1L2074.8 310.1L2076.6 310.2L2078.3 310.3L2080.1 310.4L2081.8 310.4L2083.5 310.5L2085.3 310.6L2087 310.7L2088.7 310.7L2090.5 310.8L2092.2 310.9L2094 311L2095.7 311.4L2097.4 312.2L2099.2 313.1L2100.9 314L2102.7 319.3L2104.4 339.5L2104.4 308Z" fill="#6d6d6d" />
<path d="M1956.5 258L1956.5 342" stroke="#9a9a9a" stroke-width="1.2" stroke-dasharray="5 4"/>
<text x="1834" y="300.7" font-size="20.7">zero cross at 9,912</text>
<path d="M1758.8 342.6L2117.7 342.6" stroke="#222" stroke-width="1.3" />
<path d="M1758.8 342.6L1758.8 347.6" stroke="#222" stroke-width="1.3" />
<text x="1756.6" y="361" font-size="13.5" text-anchor="middle" fill="#222">1</text>
<path d="M1858.2 342.6L1858.2 347.6" stroke="#222" stroke-width="1.3" />
<text x="1857" y="361" font-size="13.5" text-anchor="middle" fill="#222">5,000</text>
<path d="M1956.4 342.6L1956.4 347.6" stroke="#222" stroke-width="1.3" />
<text x="1949.2" y="361" font-size="13.5" text-anchor="middle" fill="#222">10,000</text>
<path d="M2058.3 342.6L2058.3 347.6" stroke="#222" stroke-width="1.3" />
<text x="2043.7" y="361" font-size="13.5" text-anchor="middle" fill="#222">15,000</text>
<path d="M2103.9 342.6L2103.9 347.6" stroke="#222" stroke-width="1.3" />
<text x="2104.5" y="361" font-size="13.5" text-anchor="middle" fill="#222">17,300</text>
<text x="1942.5" y="386.7" font-size="20.6" text-anchor="middle">Ranked list metric</text>
<text transform="translate(1688,300.6) rotate(-90)" font-size="20" text-anchor="middle">log2(<tspan font-style="italic">H1c/e</tspan><tspan font-style="italic" dy="-7" font-size="11">-/-</tspan></text>
<text transform="translate(1710,300.6) rotate(-90)" font-size="20" text-anchor="middle">/<tspan font-style="italic">H1wt</tspan> GCB)</text>
<text x="1923.7" y="426.7" font-size="21" text-anchor="middle">METASTASIS STROMA UP, N=103</text>
<path d="M1744.8 454.6L1744.8 585" stroke="#222" stroke-width="1.1" />
<path d="M1739.8 585L1744.8 585" stroke="#222" stroke-width="1.1" />
<text x="1735.8" y="590" font-size="14" text-anchor="end" fill="#222">0.0</text>
<path d="M1739.8 558.9L1744.8 558.9" stroke="#222" stroke-width="1.1" />
<text x="1735.8" y="564" font-size="14" text-anchor="end" fill="#222">0.1</text>
<path d="M1739.8 532.8L1744.8 532.8" stroke="#222" stroke-width="1.1" />
<text x="1735.8" y="537.9" font-size="14" text-anchor="end" fill="#222">0.2</text>
<path d="M1739.8 506.8L1744.8 506.8" stroke="#222" stroke-width="1.1" />
<text x="1735.8" y="511.8" font-size="14" text-anchor="end" fill="#222">0.3</text>
<path d="M1739.8 480.7L1744.8 480.7" stroke="#222" stroke-width="1.1" />
<text x="1735.8" y="485.7" font-size="14" text-anchor="end" fill="#222">0.4</text>
<path d="M1739.8 454.6L1744.8 454.6" stroke="#222" stroke-width="1.1" />
<text x="1735.8" y="459.6" font-size="14" text-anchor="end" fill="#222">0.5</text>
<path d="M1744.8 585L2117.7 585" stroke="#222" stroke-width="1.3" />
<text transform="translate(1701,503) rotate(-90)" font-size="20.4" text-anchor="middle">Enrichment score</text>
<path d="M1758.3 564.8L1759.1 553.4L1760 545.8L1760.8 531L1761.6 526L1762.5 524.5L1763.3 526L1764.2 523.1L1765 522.1L1765.8 504.5L1766.7 504.1L1767.5 503.1L1768.3 503.5L1769.2 503.4L1770 501.4L1770.8 503.3L1771.7 502.6L1772.5 502.4L1773.3 502L1774.2 496.5L1775 495.2L1775.9 489.6L1776.7 489.9L1777.5 490.5L1778.4 490.9L1779.2 490.3L1780 489.9L1780.9 489.7L1781.7 487.7L1782.5 485.8L1783.4 480.8L1784.2 469.9L1785.1 467.4L1785.9 463.3L1786.7 459.1L1787.6 457.5L1788.4 457L1789.2 456.2L1790.1 456L1790.9 454.9L1791.7 456L1792.6 454.9L1793.4 454.3L1794.3 456.6L1795.1 454.2L1795.9 453.9L1796.8 452.4L1797.6 453.8L1798.4 452.3L1799.3 452.1L1800.1 452.7L1800.9 452.1L1801.8 450.8L1802.6 451.2L1803.4 450.7L1804.3 449.9L1805.1 448.9L1806 449.5L1806.8 447.7L1807.6 448.6L1808.5 448L1809.3 446.7L1810.1 446.3L1811 448.1L1811.8 444.3L1812.6 445L1813.5 444L1814.3 443.8L1815.2 443.2L1816 443.1L1816.8 442.8L1817.7 442.4L1818.5 441.6L1819.3 442.4L1820.2 443L1821 443.2L1821.8 443.8L1822.7 443.2L1823.5 442.8L1824.4 443.4L1825.2 444.2L1826 444.8L1826.9 445.1L1827.7 445.2L1828.5 444.3L1829.4 445L1830.2 445.9L1831 446.1L1831.9 446.7L1832.7 445.8L1833.5 447.2L1834.4 445.6L1835.2 447.2L1836.1 447.8L1836.9 447.9L1837.7 448.8L1838.6 448.4L1839.4 448.8L1840.2 449.3L1841.1 448.6L1841.9 450L1842.7 449L1843.6 449.8L1844.4 449.7L1845.3 449.5L1846.1 449.9L1846.9 450.1L1847.8 449.9L1848.6 451.4L1849.4 450L1850.3 450.7L1851.1 451.5L1851.9 451.6L1852.8 452.3L1853.6 451.7L1854.4 452.9L1855.3 453.7L1856.1 455L1857 454.7L1857.8 455.6L1858.6 457L1859.5 456.9L1860.3 457.6L1861.1 458L1862 459.2L1862.8 458.4L1863.6 459.4L1864.5 460.1L1865.3 460.8L1866.2 461.1L1867 460.4L1867.8 461.4L1868.7 460.9L1869.5 462L1870.3 460.1L1871.2 460.1L1872 459L1872.8 458.9L1873.7 458.7L1874.5 459.4L1875.4 459.6L1876.2 458.6L1877 459.4L1877.9 459.6L1878.7 459.9L1879.5 459.3L1880.4 460.2L1881.2 459.2L1882 459.9L1882.9 459.7L1883.7 460L1884.5 460.7L1885.4 460.8L1886.2 462L1887.1 461.3L1887.9 461.4L1888.7 462.6L1889.6 462.7L1890.4 462.9L1891.2 464.1L1892.1 464.7L1892.9 464.2L1893.7 465.1L1894.6 466.3L1895.4 466.1L1896.3 467.6L1897.1 467.5L1897.9 468.2L1898.8 468.6L1899.6 468.7L1900.4 469.5L1901.3 469.8L1902.1 470.3L1902.9 471.2L1903.8 471.4L1904.6 471.5L1905.4 472L1906.3 472.8L1907.1 472.6L1908 472.8L1908.8 473.5L1909.6 473.4L1910.5 473.5L1911.3 474.9L1912.1 474.2L1913 475L1913.8 475.4L1914.6 475.5L1915.5 476.6L1916.3 477L1917.2 476.9L1918 476.7L1918.8 477.7L1919.7 477.4L1920.5 478.6L1921.3 479.1L1922.2 479.4L1923 480.2L1923.8 480.3L1924.7 480.4L1925.5 481L1926.4 482L1927.2 481.4L1928 482.7L1928.9 482.7L1929.7 484.3L1930.5 483.7L1931.4 483.9L1932.2 485.4L1933 485.9L1933.9 486L1934.7 486.7L1935.5 486.8L1936.4 487.7L1937.2 488.6L1938.1 488.9L1938.9 489.4L1939.7 489.8L1940.6 490.8L1941.4 491.6L1942.2 492L1943.1 491.7L1943.9 492.7L1944.7 493L1945.6 493.7L1946.4 494.5L1947.3 495.7L1948.1 495.6L1948.9 496L1949.8 496.5L1950.6 497.3L1951.4 497.3L1952.3 498.5L1953.1 499.2L1953.9 499.2L1954.8 500.5L1955.6 501.3L1956.5 501L1957.3 502.1L1958.1 502.3L1959 502.8L1959.8 503.9L1960.6 504.3L1961.5 504.5L1962.3 505L1963.1 506.1L1964 506.2L1964.8 506.9L1965.6 507.8L1966.5 508.3L1967.3 509.1L1968.2 510.2L1969 509.9L1969.8 511.2L1970.7 511.1L1971.5 512.1L1972.3 512.9L1973.2 513.9L1974 513.4L1974.8 514.9L1975.7 515L1976.5 515.7L1977.4 516.4L1978.2 517.3L1979 518L1979.9 518.1L1980.7 518.4L1981.5 519L1982.4 519.2L1983.2 519.9L1984 521.2L1984.9 521.1L1985.7 521.8L1986.5 522.6L1987.4 523.1L1988.2 523.7L1989.1 524.2L1989.9 524.9L1990.7 526.1L1991.6 526.5L1992.4 526.9L1993.2 527.3L1994.1 528.1L1994.9 528.7L1995.7 529L1996.6 529.5L1997.4 530.5L1998.3 530.8L1999.1 531.4L1999.9 532.1L2000.8 532.7L2001.6 533L2002.4 534.2L2003.3 534.5L2004.1 534.9L2004.9 535.7L2005.8 536.4L2006.6 536.6L2007.5 536.6L2008.3 537.4L2009.1 538.3L2010 538.9L2010.8 539.7L2011.6 540.1L2012.5 540.5L2013.3 541.3L2014.1 541.5L2015 542.4L2015.8 542.4L2016.6 543.6L2017.5 543.8L2018.3 544.6L2019.2 544.9L2020 545.1L2020.8 546L2021.7 546.6L2022.5 547.1L2023.3 547.7L2024.2 548.2L2025 548.6L2025.8 548.8L2026.7 549.6L2027.5 549.9L2028.4 550.7L2029.2 551.2L2030 551.8L2030.9 552.2L2031.7 552.9L2032.5 553.4L2033.4 554L2034.2 554.4L2035 554.9L2035.9 555.5L2036.7 555.8L2037.5 555.7L2038.4 556.5L2039.2 557.5L2040.1 557.1L2040.9 558.1L2041.7 558.4L2042.6 559.2L2043.4 559.4L2044.2 559.7L2045.1 560.1L2045.9 560.2L2046.7 561.4L2047.6 561.5L2048.4 561.5L2049.3 562L2050.1 562.7L2050.9 562.8L2051.8 563.2L2052.6 564L2053.4 564.3L2054.3 565L2055.1 565.6L2055.9 565.8L2056.8 567L2057.6 567.4L2058.5 567.7L2059.3 568.3L2060.1 569.2L2061 570L2061.8 570.4L2062.6 571.2L2063.5 571.8L2064.3 572.5L2065.1 573.3L2066 574.1L2066.8 574.8L2067.6 574.8L2068.5 575.5L2069.3 575.9L2070.2 576.4L2071 576.8L2071.8 577.5L2072.7 577.7L2073.5 577.7L2074.3 578.3L2075.2 578L2076 578.3L2076.8 578.4L2077.7 578.1L2078.5 578L2079.4 578.1L2080.2 578.1L2081 577.7L2081.9 578L2082.7 577.7L2083.5 577.3L2084.4 577.5L2085.2 577.2L2086 577.3L2086.9 577.4L2087.7 577.6L2088.6 578.2L2089.4 578.4L2090.2 579.1L2091.1 579.5L2091.9 579.9L2092.7 580.6L2093.6 581.2L2094.4 581.1L2095.2 581.9L2096.1 582L2096.9 582.1L2097.7 582L2098.6 582.1L2099.4 581.9L2100.3 581.8L2101.1 582L2101.9 581.7L2102.8 582.2L2103.6 581.7" fill="none" stroke="#6aad5e" stroke-width="3.8" stroke-linejoin="round" stroke-linecap="round"/>
<text x="1992.8" y="481.2" font-size="20.6">NES=1.47</text>
<text x="1992.8" y="508" font-size="20.6">FDR=0.0161</text>
<path d="M1761.5 590.4V605M1764.5 590.4V605M1768.4 590.4V605M1772.6 590.4V605M1780.5 590.4V605M1795.5 590.4V605M1845 590.4V605M1845.9 590.4V605M1928.7 590.4V605" stroke="rgb(16,16,16)" stroke-width="1.1"/>
<path d="M1763.7 590.4V605M1772 590.4V605M1794.2 590.4V605M1820.2 590.4V605M1826.4 590.4V605M1830.3 590.4V605M1849.1 590.4V605M1865.5 590.4V605M1891.6 590.4V605M1903.3 590.4V605M2060.4 590.4V605" stroke="rgb(32,32,32)" stroke-width="1.1"/>
<path d="M1766.1 590.4V605M1840 590.4V605M1862.9 590.4V605M1878.2 590.4V605M1879.7 590.4V605M1954.1 590.4V605" stroke="rgb(48,48,48)" stroke-width="1.1"/>
<path d="M1771.7 590.4V605M1775.1 590.4V605M1802.3 590.4V605M1803.7 590.4V605M1811.9 590.4V605M1835.3 590.4V605M1840 590.4V605M1879.5 590.4V605M1914.1 590.4V605M1921.8 590.4V605M1969.9 590.4V605M2019.8 590.4V605" stroke="rgb(64,64,64)" stroke-width="1.1"/>
<path d="M1777.2 590.4V605M1784.4 590.4V605M1813.8 590.4V605M1817.5 590.4V605M1823.1 590.4V605M1842.8 590.4V605M1859.9 590.4V605M1887.3 590.4V605M1888.6 590.4V605M1891.8 590.4V605M1900.4 590.4V605M1903.3 590.4V605M1919.8 590.4V605M1927.3 590.4V605M1930.3 590.4V605M1933.7 590.4V605M1951.3 590.4V605M1961.7 590.4V605M1983.3 590.4V605M1992.7 590.4V605M2052.5 590.4V605M2090.7 590.4V605" stroke="rgb(80,80,80)" stroke-width="1.1"/>
<path d="M1778.1 590.4V605M1803.2 590.4V605M1803.6 590.4V605M1824.9 590.4V605M1826.4 590.4V605M1827.6 590.4V605M1828.8 590.4V605M1919.6 590.4V605M1920.4 590.4V605M1963.1 590.4V605M1982.3 590.4V605M1992.5 590.4V605M2024.9 590.4V605M2026.2 590.4V605M2029.9 590.4V605M2058.8 590.4V605M2068.8 590.4V605" stroke="rgb(96,96,96)" stroke-width="1.1"/>
<path d="M1805.4 590.4V605M1813.3 590.4V605M1846.9 590.4V605M1921.5 590.4V605M1934.7 590.4V605M1939.5 590.4V605M1944.5 590.4V605M1945.5 590.4V605M1950.7 590.4V605M1956.7 590.4V605M1981.5 590.4V605M1988.8 590.4V605M2089.5 590.4V605" stroke="rgb(112,112,112)" stroke-width="1.1"/>
<path d="M1825.4 590.4V605M1827.5 590.4V605M1863.5 590.4V605M1893.7 590.4V605M1906.7 590.4V605M1929.6 590.4V605M1938.9 590.4V605M1950.2 590.4V605M1966.9 590.4V605M1967.3 590.4V605M1967.5 590.4V605M1978.2 590.4V605M1983.9 590.4V605M2031.9 590.4V605" stroke="rgb(128,128,128)" stroke-width="1.1"/>
<path d="M1871.9 590.4V605M1878.9 590.4V605M1885.9 590.4V605M1915.7 590.4V605M1950.8 590.4V605M1953.8 590.4V605M1984.6 590.4V605M1998.3 590.4V605M2059.5 590.4V605M2061.7 590.4V605M2083.4 590.4V605M2087 590.4V605" stroke="rgb(144,144,144)" stroke-width="1.1"/>
<path d="M1764.6 590.4V605M1771.8 590.4V605M1779.1 590.4V605M1852.7 590.4V605M1879.7 590.4V605M1919.5 590.4V605M1994.1 590.4V605M2058.7 590.4V605M2083.6 590.4V605M2094.7 590.4V605M2103.1 590.4V605" stroke="rgb(160,160,160)" stroke-width="1.1"/>
<path d="M1931.5 590.4V605M1941.2 590.4V605M1983.3 590.4V605M2000.5 590.4V605M2003.3 590.4V605M2022.5 590.4V605M2037.3 590.4V605M2049 590.4V605M2056.2 590.4V605M2057.5 590.4V605M2074.6 590.4V605M2075.9 590.4V605M2093.5 590.4V605M2096.9 590.4V605" stroke="rgb(176,176,176)" stroke-width="1.1"/>
<path d="M1973 590.4V605M2005.8 590.4V605M2032.4 590.4V605M2090.1 590.4V605M2093.3 590.4V605M2098.2 590.4V605" stroke="rgb(192,192,192)" stroke-width="1.1"/>
<path d="M2054.2 590.4V605M2057 590.4V605M2089.1 590.4V605" stroke="rgb(208,208,208)" stroke-width="1.1"/>
<rect x="1758.8" y="605" width="17.2" height="10" fill="#b05a60" />
<rect x="1776" y="605" width="69" height="10" fill="#ee6068" />
<rect x="1845" y="605" width="111.5" height="10" fill="#f9d0d8" />
<rect x="1956.5" y="605" width="61.5" height="10" fill="#98b0dc" />
<rect x="2018" y="605" width="69" height="10" fill="#6c82c0" />
<rect x="2087" y="605" width="17.4" height="10" fill="#6468ac" />
<path d="M1744.8 628L1744.8 689.5" stroke="#222" stroke-width="1.1" />
<path d="M1739.8 628L1744.8 628" stroke="#222" stroke-width="1.1" />
<text x="1735.8" y="633" font-size="14" text-anchor="end" fill="#222">10</text>
<path d="M1739.8 648.5L1744.8 648.5" stroke="#222" stroke-width="1.1" />
<text x="1735.8" y="653.5" font-size="14" text-anchor="end" fill="#222">5</text>
<path d="M1739.8 669L1744.8 669" stroke="#222" stroke-width="1.1" />
<text x="1735.8" y="674" font-size="14" text-anchor="end" fill="#222">0</text>
<path d="M1739.8 689.5L1744.8 689.5" stroke="#222" stroke-width="1.1" />
<text x="1735.8" y="694.5" font-size="14" text-anchor="end" fill="#222">-5</text>
<path d="M1758.3 669L1758.3 622L1760 647.7L1761.8 653.3L1763.5 655.1L1765.3 656.4L1767 657.7L1768.7 658.6L1770.5 658.9L1772.2 659.2L1774 659.4L1775.7 659.7L1777.4 660L1779.2 660.3L1780.9 660.6L1782.6 660.8L1784.4 661.1L1786.1 661.4L1787.9 661.7L1789.6 661.9L1791.3 662.1L1793.1 662.2L1794.8 662.2L1796.6 662.3L1798.3 662.4L1800 662.5L1801.8 662.6L1803.5 662.7L1805.3 662.8L1807 662.8L1808.7 662.9L1810.5 663L1812.2 663.1L1814 663.2L1815.7 663.3L1817.4 663.4L1819.2 663.5L1820.9 663.5L1822.7 663.6L1824.4 663.7L1826.1 663.8L1827.9 663.9L1829.6 664L1831.3 664.1L1833.1 664.2L1834.8 664.2L1836.6 664.3L1838.3 664.4L1840 664.5L1841.8 664.6L1843.5 664.6L1845.3 664.7L1847 664.7L1848.7 664.8L1850.5 664.8L1852.2 664.9L1854 664.9L1855.7 665L1857.4 665L1859.2 665.1L1860.9 665.1L1862.7 665.2L1864.4 665.2L1866.1 665.3L1867.9 665.3L1869.6 665.4L1871.3 665.4L1873.1 665.5L1874.8 665.5L1876.6 665.6L1878.3 665.7L1880 665.7L1881.8 665.8L1883.5 665.8L1885.3 665.9L1887 665.9L1888.7 666L1890.5 666L1892.2 666.1L1894 666.1L1895.7 666.2L1897.4 666.2L1899.2 666.3L1900.9 666.3L1902.7 666.4L1904.4 666.4L1906.1 666.5L1907.9 666.5L1909.6 666.6L1911.3 666.6L1913.1 666.7L1914.8 666.7L1916.6 666.8L1918.3 666.9L1920 666.9L1921.8 667L1923.5 667L1925.3 667.1L1927 667.1L1928.7 667.2L1930.5 667.2L1932.2 667.3L1934 667.3L1935.7 667.4L1937.4 667.4L1939.2 667.5L1940.9 667.5L1942.7 667.6L1944.4 667.6L1946.1 667.7L1947.9 667.7L1949.6 667.8L1951.4 667.8L1953.1 667.9L1954.8 667.9L1956.6 668L1958.3 668L1960 668.1L1961.8 668.1L1963.5 668.2L1965.3 668.2L1967 668.3L1968.7 668.3L1970.5 668.3L1972.2 668.4L1974 668.4L1975.7 668.5L1977.4 668.5L1979.2 668.5L1980.9 668.6L1982.7 668.6L1984.4 668.7L1986.1 668.7L1987.9 668.8L1989.6 668.8L1991.4 668.8L1993.1 668.9L1994.8 668.9L1996.6 669L1998.3 669L2000 669.1L2001.8 669.1L2003.5 669.1L2005.3 669.2L2007 669.2L2008.7 669.3L2010.5 669.3L2012.2 669.3L2014 669.4L2015.7 669.4L2017.4 669.5L2019.2 669.5L2020.9 669.6L2022.7 669.6L2024.4 669.6L2026.1 669.7L2027.9 669.7L2029.6 669.8L2031.4 669.8L2033.1 669.9L2034.8 669.9L2036.6 669.9L2038.3 670L2040 670L2041.8 670.1L2043.5 670.1L2045.3 670.1L2047 670.2L2048.7 670.2L2050.5 670.3L2052.2 670.3L2054 670.4L2055.7 670.4L2057.4 670.4L2059.2 670.5L2060.9 670.5L2062.7 670.6L2064.4 670.7L2066.1 670.8L2067.9 670.8L2069.6 670.9L2071.4 671L2073.1 671.1L2074.8 671.1L2076.6 671.2L2078.3 671.3L2080.1 671.4L2081.8 671.4L2083.5 671.5L2085.3 671.6L2087 671.7L2088.7 671.7L2090.5 671.8L2092.2 671.9L2094 672L2095.7 672.4L2097.4 673.2L2099.2 674.1L2100.9 675L2102.7 680.3L2104.4 700L2104.4 669Z" fill="#6d6d6d" />
<path d="M1956.5 620L1956.5 705" stroke="#9a9a9a" stroke-width="1.2" stroke-dasharray="5 4"/>
<text x="1834" y="662" font-size="20.7">zero cross at 9,912</text>
<path d="M1758.8 703.8L2117.7 703.8" stroke="#222" stroke-width="1.3" />
<path d="M1758.8 703.8L1758.8 708.8" stroke="#222" stroke-width="1.3" />
<text x="1756.6" y="721.3" font-size="13.5" text-anchor="middle" fill="#222">1</text>
<path d="M1858.2 703.8L1858.2 708.8" stroke="#222" stroke-width="1.3" />
<text x="1857" y="721.3" font-size="13.5" text-anchor="middle" fill="#222">5,000</text>
<path d="M1956.4 703.8L1956.4 708.8" stroke="#222" stroke-width="1.3" />
<text x="1949.2" y="721.3" font-size="13.5" text-anchor="middle" fill="#222">10,000</text>
<path d="M2058.3 703.8L2058.3 708.8" stroke="#222" stroke-width="1.3" />
<text x="2043.7" y="721.3" font-size="13.5" text-anchor="middle" fill="#222">15,000</text>
<path d="M2103.9 703.8L2103.9 708.8" stroke="#222" stroke-width="1.3" />
<text x="2104.5" y="721.3" font-size="13.5" text-anchor="middle" fill="#222">17,300</text>
<text x="1942.5" y="746.8" font-size="20.6" text-anchor="middle">Ranked list metric</text>
<text transform="translate(1688,660.6) rotate(-90)" font-size="20" text-anchor="middle">log2(<tspan font-style="italic">H1c/e</tspan><tspan font-style="italic" dy="-7" font-size="11">-/-</tspan></text>
<text transform="translate(1710,660.6) rotate(-90)" font-size="20" text-anchor="middle">/<tspan font-style="italic">H1wt</tspan> GCB)</text>
<text x="493.5" y="762.4" class="pl">f</text>
<text x="730.3" y="784" font-size="20.7" text-anchor="middle">GCB K27 MONOVALENT:</text>
<text x="730.3" y="808.7" font-size="20.7" text-anchor="middle">MURINE ORTHOLOGS, n=4,145</text>
<path d="M546.4 820.5L546.4 936.8" stroke="#222" stroke-width="1.1" />
<path d="M541.4 936.8L546.4 936.8" stroke="#222" stroke-width="1.1" />
<text x="539.4" y="942" font-size="14.5" text-anchor="end" fill="#222">0.0</text>
<path d="M541.4 913.5L546.4 913.5" stroke="#222" stroke-width="1.1" />
<text x="539.4" y="918.8" font-size="14.5" text-anchor="end" fill="#222">0.1</text>
<path d="M541.4 890.3L546.4 890.3" stroke="#222" stroke-width="1.1" />
<text x="539.4" y="895.5" font-size="14.5" text-anchor="end" fill="#222">0.2</text>
<path d="M541.4 867L546.4 867" stroke="#222" stroke-width="1.1" />
<text x="539.4" y="872.2" font-size="14.5" text-anchor="end" fill="#222">0.3</text>
<path d="M541.4 843.8L546.4 843.8" stroke="#222" stroke-width="1.1" />
<text x="539.4" y="849" font-size="14.5" text-anchor="end" fill="#222">0.4</text>
<path d="M541.4 820.5L546.4 820.5" stroke="#222" stroke-width="1.1" />
<text x="539.4" y="825.7" font-size="14.5" text-anchor="end" fill="#222">0.5</text>
<path d="M546.4 936.8L895.4 936.8" stroke="#222" stroke-width="1.2" />
<text transform="translate(505,879.8) rotate(-90)" font-size="20.5" text-anchor="middle">Enrichment score</text>
<path d="M557 936.5L557.8 929.6L558.7 922.9L559.5 915.4L560.3 909.7L561.2 904.2L562 899.4L562.9 896.9L563.7 891.2L564.5 887.9L565.4 884.6L566.2 880.8L567 877L567.9 873.9L568.7 872.3L569.5 868.6L570.4 865.2L571.2 864.2L572.1 861.8L572.9 859.8L573.7 857.9L574.6 857.7L575.4 856.4L576.2 853.5L577.1 852.3L577.9 850.9L578.7 849.3L579.6 848.5L580.4 847.7L581.3 846L582.1 845.3L582.9 844.4L583.8 843.6L584.6 842L585.4 840.9L586.3 840.1L587.1 839.4L587.9 838.1L588.8 837.5L589.6 836.8L590.5 836.8L591.3 836.1L592.1 835.2L593 835.8L593.8 834.3L594.6 833.7L595.5 833.1L596.3 833.6L597.1 833.2L598 831.7L598.8 831.7L599.7 831.3L600.5 829.8L601.3 829.1L602.2 828.7L603 830L603.8 828.4L604.7 827.9L605.5 827.1L606.3 826.4L607.2 826.9L608 825.2L608.9 825.2L609.7 825.7L610.5 824L611.4 823.8L612.2 823.3L613 822.6L613.9 822.6L614.7 822.9L615.5 821.9L616.4 821.8L617.2 821L618.1 820.2L618.9 821.4L619.7 820.1L620.6 820.2L621.4 820L622.2 820.6L623.1 819.2L623.9 819.8L624.7 818.4L625.6 819.3L626.4 819.2L627.3 818.6L628.1 818.4L628.9 818.1L629.8 818.2L630.6 817.4L631.4 818.4L632.3 817.1L633.1 817.1L633.9 816.9L634.8 816.8L635.6 816.5L636.5 816.5L637.3 815.9L638.1 815.7L639 816L639.8 816.6L640.6 817L641.5 815.9L642.3 816.5L643.1 816L644 816.8L644.8 816.5L645.7 817.6L646.5 816.4L647.3 817.1L648.2 816.6L649 816.7L649.8 817L650.7 816.5L651.5 817.2L652.3 816.8L653.2 817.2L654 817.3L654.9 816.5L655.7 817L656.5 817.3L657.4 817.2L658.2 817.7L659 817.8L659.9 817.8L660.7 818.2L661.5 818.2L662.4 818.2L663.2 818.9L664.1 818.8L664.9 819.3L665.7 819.1L666.6 819.3L667.4 819.6L668.2 819.9L669.1 819.6L669.9 820.5L670.7 820.5L671.6 820.7L672.4 820.7L673.3 821.3L674.1 821.6L674.9 822L675.8 821.9L676.6 822.3L677.4 822.6L678.3 822.6L679.1 823L679.9 822.7L680.8 823.1L681.6 823.8L682.5 824L683.3 824.1L684.1 824.5L685 825.1L685.8 824.7L686.6 825.4L687.5 825.1L688.3 825.7L689.1 826.3L690 826.5L690.8 826.5L691.7 827.5L692.5 827.1L693.3 827.4L694.2 828.1L695 828.2L695.8 828.9L696.7 829L697.5 829.5L698.3 829.9L699.2 830.4L700 830.5L700.9 830.8L701.7 831.1L702.5 831.6L703.4 832.1L704.2 832.5L705 832.5L705.9 833.3L706.7 833.4L707.5 833.9L708.4 835L709.2 834.7L710.1 835.6L710.9 835.6L711.7 836.4L712.6 836.6L713.4 837.1L714.2 837.9L715.1 838.1L715.9 838.3L716.7 838.7L717.6 839.2L718.4 840.1L719.3 840.4L720.1 840.6L720.9 841.2L721.8 842L722.6 842.2L723.4 842.6L724.3 843.5L725.1 843.6L726 844.1L726.8 844.9L727.6 845.4L728.5 845.9L729.3 846L730.1 846.6L731 847.2L731.8 847.9L732.6 848.2L733.5 849.1L734.3 849.3L735.2 850L736 850.6L736.8 851.3L737.7 851.5L738.5 852.3L739.3 853.1L740.2 853.6L741 853.7L741.8 854.7L742.7 855.4L743.5 855.6L744.4 856.1L745.2 856.9L746 857.7L746.9 857.8L747.7 858.8L748.5 859.7L749.4 859.8L750.2 860.6L751 861.2L751.9 861.5L752.7 861.7L753.6 862.7L754.4 863.1L755.2 863.8L756.1 863.9L756.9 864.7L757.7 865.1L758.6 865.4L759.4 866L760.2 866.2L761.1 866.9L761.9 867.3L762.8 867.7L763.6 868.1L764.4 868.4L765.3 868.7L766.1 869.4L766.9 869.9L767.8 870.3L768.6 870.6L769.4 871.4L770.3 871.4L771.1 872.2L772 872.6L772.8 873L773.6 873.3L774.5 873.9L775.3 874.6L776.1 875.1L777 875.9L777.8 876.6L778.6 876.8L779.5 877.7L780.3 877.9L781.2 878.6L782 879.3L782.8 879.9L783.7 880.3L784.5 880.7L785.3 881.2L786.2 881.8L787 882.6L787.8 883.3L788.7 883.9L789.5 884.3L790.4 885.1L791.2 885.1L792 885.7L792.9 886.5L793.7 886.8L794.5 887.1L795.4 887.4L796.2 888.4L797 888.8L797.9 889.3L798.7 889.6L799.6 890.5L800.4 891L801.2 891.4L802.1 891.6L802.9 892.4L803.7 893.2L804.6 893.6L805.4 893.9L806.2 894.6L807.1 895.3L807.9 895.8L808.8 896.2L809.6 896.6L810.4 897.4L811.3 897.9L812.1 898.7L812.9 898.8L813.8 899.4L814.6 900.7L815.4 901L816.3 901.6L817.1 902.3L818 902.5L818.8 903L819.6 904L820.5 904.2L821.3 905.1L822.1 905.6L823 906.1L823.8 906.5L824.6 907.5L825.5 908.1L826.3 908.6L827.2 909.2L828 909.6L828.8 910.5L829.7 910.8L830.5 911.8L831.3 912.1L832.2 912.8L833 913.4L833.8 914.2L834.7 914.8L835.5 915.3L836.4 915.7L837.2 916.5L838 916.9L838.9 917.8L839.7 918.4L840.5 918.7L841.4 919.6L842.2 920L843 920.5L843.9 921.4L844.7 922.1L845.6 922.4L846.4 922.9L847.2 923.4L848.1 924.7L848.9 925L849.7 925.7L850.6 926.5L851.4 926.8L852.2 927.3L853.1 928.2L853.9 928.9L854.8 929.6L855.6 930.1L856.4 930.8L857.3 931.1L858.1 932.1L858.9 932.7L859.8 933.3L860.6 934L861.4 934.4L862.3 934.9L863.1 935.5L864 936.3L864.8 936.8L865.6 937.3L866.5 937.8L867.3 938.6L868.1 939.3L869 939.4L869.8 940.3L870.6 941L871.5 941.5L872.3 942L873.2 942.8L874 943.3L874.8 943.8L875.7 944.5L876.5 945.1L877.3 945.5L878.2 946L879 946.1L879.8 946.6L880.7 946.8L881.5 947L882.4 947.2L883.2 947.4L884 947.1L884.9 947.1L885.7 947.3L886.5 946.8L887.4 946.5L888.2 946.4L889 945.7L889.9 945.2L890.7 945.2L891.6 944L892.4 942.5L893.2 940.8L894.1 938.7L894.9 936.8" fill="none" stroke="#6aad5e" stroke-width="3.8" stroke-linejoin="round" stroke-linecap="round"/>
<text x="803.7" y="845.2" font-size="20.6">NES=1.48</text>
<text x="803.7" y="869.8" font-size="20.6">FDR=1e-04</text>
<path d="M559 956V965M560.2 956V965M562.2 956V965M562.2 956V965M562.9 956V965M565.5 956V965M567.1 956V965M569.3 956V965M571 956V965M572.5 956V965M573.9 956V965M577.2 956V965M577.9 956V965M586.9 956V965M589.2 956V965M591.8 956V965M593 956V965M602.4 956V965M603.5 956V965M604.5 956V965M610.5 956V965M612.5 956V965M612.7 956V965M617.3 956V965M617.7 956V965M620.7 956V965M631.9 956V965M637.9 956V965M639 956V965M659.4 956V965M696.9 956V965M718.9 956V965M764.1 956V965" stroke="rgb(16,16,16)" stroke-width="1.1"/>
<path d="M574.4 956V965M576.3 956V965M605.9 956V965M611.3 956V965M615 956V965M616.9 956V965M619.2 956V965M620.2 956V965M733.8 956V965M736.9 956V965M750.3 956V965M772.4 956V965M778.7 956V965" stroke="rgb(32,32,32)" stroke-width="1.1"/>
<path d="M562.8 956V965M568.6 956V965M576.5 956V965M576.9 956V965M581.4 956V965M583.5 956V965M585 956V965M586.4 956V965M594.7 956V965M600.1 956V965M612.4 956V965M621.9 956V965M645.6 956V965M647.6 956V965M670.3 956V965M678.6 956V965M681 956V965M743.1 956V965M748.7 956V965M785.6 956V965M829.4 956V965" stroke="rgb(48,48,48)" stroke-width="1.1"/>
<path d="M558.3 956V965M562.3 956V965M565.5 956V965M570.6 956V965M588.5 956V965M601 956V965M608.7 956V965M610.8 956V965M616.1 956V965M624.5 956V965M626 956V965M627.4 956V965M628.3 956V965M631 956V965M633.3 956V965M637.1 956V965M641.5 956V965M646.7 956V965M652.9 956V965M674.8 956V965M721.1 956V965M760.2 956V965M766 956V965M776.8 956V965M805.6 956V965" stroke="rgb(64,64,64)" stroke-width="1.1"/>
<path d="M590.8 956V965M608.1 956V965M608.3 956V965M616 956V965M630 956V965M637.8 956V965M639.2 956V965M651.2 956V965M660.1 956V965M663.9 956V965M666 956V965M673 956V965M694.6 956V965M696.3 956V965M700.1 956V965M703.6 956V965M725.5 956V965M739 956V965M749.9 956V965M752.4 956V965M759.4 956V965M767.5 956V965M767.8 956V965M767.9 956V965M773.3 956V965M800.2 956V965M850.1 956V965M851.9 956V965M864.1 956V965" stroke="rgb(80,80,80)" stroke-width="1.1"/>
<path d="M557.3 956V965M560.7 956V965M566.7 956V965M586.8 956V965M588.1 956V965M593.1 956V965M595.7 956V965M610.5 956V965M614 956V965M614.5 956V965M618.6 956V965M620.4 956V965M625.8 956V965M636.1 956V965M636.1 956V965M638.7 956V965M652.3 956V965M654 956V965M655.7 956V965M655.9 956V965M657.3 956V965M661.8 956V965M664.1 956V965M664.5 956V965M670.7 956V965M672.5 956V965M684.5 956V965M685.2 956V965M685.4 956V965M690.1 956V965M693.1 956V965M700.3 956V965M710.7 956V965M727.3 956V965M729.5 956V965M732.4 956V965M735.4 956V965M737.3 956V965M740.8 956V965M744.3 956V965M750.4 956V965M755.3 956V965M766.6 956V965M768.3 956V965M771 956V965M777.2 956V965M793.6 956V965M806 956V965M811.1 956V965M824 956V965M825.7 956V965M830.7 956V965M849.4 956V965M851.3 956V965M861.6 956V965M868.3 956V965M891.1 956V965" stroke="rgb(96,96,96)" stroke-width="1.1"/>
<path d="M565.2 956V965M566.3 956V965M567.5 956V965M587.1 956V965M593.3 956V965M598.6 956V965M610.3 956V965M612.1 956V965M623.3 956V965M636.5 956V965M636.8 956V965M658.7 956V965M663.9 956V965M666.5 956V965M667.2 956V965M672.7 956V965M677.9 956V965M679.9 956V965M691.7 956V965M693.5 956V965M695.8 956V965M697.3 956V965M706.3 956V965M707.8 956V965M711.8 956V965M712.1 956V965M712.5 956V965M718.4 956V965M718.9 956V965M728.2 956V965M729.5 956V965M730.8 956V965M735.8 956V965M754.2 956V965M756.8 956V965M760.8 956V965M763 956V965M776 956V965M776.1 956V965M778.2 956V965M782.8 956V965M802.3 956V965M823.5 956V965M823.6 956V965M839.1 956V965M849.1 956V965M866.5 956V965M885.1 956V965M893.9 956V965" stroke="rgb(112,112,112)" stroke-width="1.1"/>
<path d="M565 956V965M570.2 956V965M616.4 956V965M627.6 956V965M631.1 956V965M633.2 956V965M643.1 956V965M645.3 956V965M645.4 956V965M648.2 956V965M659.1 956V965M659.7 956V965M676.3 956V965M697 956V965M709.6 956V965M710.4 956V965M731.1 956V965M742.8 956V965M743.8 956V965M743.8 956V965M760.9 956V965M762 956V965M763.3 956V965M764.7 956V965M779 956V965M781.8 956V965M783.2 956V965M795.8 956V965M807.3 956V965M820.6 956V965M823.3 956V965M830.9 956V965M831 956V965M831.3 956V965M832.7 956V965M840.9 956V965M847.7 956V965M853.5 956V965M855.4 956V965M856 956V965M867.3 956V965M867.5 956V965M873.8 956V965M876.1 956V965M877.1 956V965M879.9 956V965" stroke="rgb(128,128,128)" stroke-width="1.1"/>
<path d="M631.2 956V965M643.1 956V965M661.7 956V965M686.7 956V965M698.6 956V965M701.5 956V965M710.1 956V965M710.3 956V965M713.4 956V965M718.1 956V965M720.7 956V965M723.7 956V965M730.2 956V965M742.6 956V965M754.6 956V965M756 956V965M758.3 956V965M758.4 956V965M764.8 956V965M768.9 956V965M771.3 956V965M784.4 956V965M787.5 956V965M789.3 956V965M794.1 956V965M797.6 956V965M802.1 956V965M804.1 956V965M806.3 956V965M810.5 956V965M812.4 956V965M820.6 956V965M826.6 956V965M828.8 956V965M835.4 956V965M836.2 956V965M838 956V965M839.7 956V965M840.2 956V965M842.3 956V965M846.2 956V965M846.9 956V965M851.7 956V965M861.6 956V965M865.4 956V965M876.8 956V965M878.2 956V965M880.7 956V965M882 956V965M882.3 956V965M882.9 956V965M894.7 956V965" stroke="rgb(144,144,144)" stroke-width="1.1"/>
<path d="M606 956V965M616.6 956V965M625.4 956V965M627.2 956V965M651.6 956V965M657.4 956V965M670.3 956V965M677.6 956V965M682.9 956V965M695.5 956V965M706.1 956V965M719.3 956V965M738 956V965M763.8 956V965M773.1 956V965M781.9 956V965M792.4 956V965M794.2 956V965M817.2 956V965M827.1 956V965M831.2 956V965M840 956V965M846.7 956V965M847 956V965M850.3 956V965M850.7 956V965M854.9 956V965M858 956V965M860.1 956V965M861.3 956V965M862.3 956V965M867.4 956V965M874.8 956V965M875.5 956V965M880.3 956V965M884.6 956V965M885.2 956V965M885.5 956V965" stroke="rgb(160,160,160)" stroke-width="1.1"/>
<path d="M576 956V965M600 956V965M688.2 956V965M691.1 956V965M713.5 956V965M715.8 956V965M718.3 956V965M727.3 956V965M728.2 956V965M737.7 956V965M775.5 956V965M779.3 956V965M782.3 956V965M790.5 956V965M833.3 956V965M844.4 956V965M852 956V965M854.7 956V965M868.1 956V965M868.5 956V965M870.8 956V965M875.2 956V965M880.7 956V965M893.8 956V965" stroke="rgb(176,176,176)" stroke-width="1.1"/>
<path d="M710.9 956V965M725.9 956V965M749.1 956V965M766.2 956V965M773.3 956V965M831.5 956V965M832.9 956V965M835.3 956V965M855 956V965M870.5 956V965M875.2 956V965M879.4 956V965M887.4 956V965M890.7 956V965" stroke="rgb(192,192,192)" stroke-width="1.1"/>
<path d="M593.5 956V965M696.1 956V965M711.6 956V965M773 956V965M810.7 956V965M815.3 956V965M817.1 956V965M818.2 956V965M818.7 956V965M822.7 956V965M851.2 956V965M855.2 956V965M855.9 956V965M858 956V965M869.6 956V965M876.7 956V965M878.3 956V965M879.2 956V965M882.8 956V965" stroke="rgb(208,208,208)" stroke-width="1.1"/>
<rect x="556.5" y="965" width="16.9" height="8.2" fill="#a0625a" />
<rect x="573.4" y="965" width="67.6" height="8.2" fill="#de7a68" />
<rect x="641" y="965" width="109.8" height="8.2" fill="#f0d0d8" />
<rect x="750.8" y="965" width="60.4" height="8.2" fill="#a3b2e0" />
<rect x="811.2" y="965" width="68.2" height="8.2" fill="#7a84c4" />
<rect x="879.4" y="965" width="16" height="8.2" fill="#6a70b0" />
<text x="736.2" y="1008.5" font-size="20.7" text-anchor="middle">GCB <tspan font-style="italic">DE NOVO</tspan> BIVALENT:</text>
<text x="736" y="1033" font-size="20.7" text-anchor="middle">MURINE ORTHOLOGS, n=830</text>
<path d="M549.9 1062.5L549.9 1166.3" stroke="#222" stroke-width="1.1" />
<path d="M544.9 1166.3L549.9 1166.3" stroke="#222" stroke-width="1.1" />
<text x="542.9" y="1171.5" font-size="14.5" text-anchor="end" fill="#222">0.0</text>
<path d="M544.9 1131.7L549.9 1131.7" stroke="#222" stroke-width="1.1" />
<text x="542.9" y="1136.9" font-size="14.5" text-anchor="end" fill="#222">0.1</text>
<path d="M544.9 1097.1L549.9 1097.1" stroke="#222" stroke-width="1.1" />
<text x="542.9" y="1102.3" font-size="14.5" text-anchor="end" fill="#222">0.2</text>
<path d="M544.9 1062.5L549.9 1062.5" stroke="#222" stroke-width="1.1" />
<text x="542.9" y="1067.7" font-size="14.5" text-anchor="end" fill="#222">0.3</text>
<path d="M549.9 1166.3L897.7 1166.3" stroke="#222" stroke-width="1.2" />
<text transform="translate(505,1097.7) rotate(-90)" font-size="20.5" text-anchor="middle">Enrichment score</text>
<path d="M558.8 1162.4L559.6 1160.4L560.5 1156.1L561.3 1151.9L562.1 1149.4L563 1146.2L563.8 1144.4L564.7 1141.8L565.5 1136.4L566.3 1132.4L567.2 1128.8L568 1128.8L568.8 1126.6L569.7 1123.6L570.5 1121.4L571.4 1121.3L572.2 1122L573 1119.7L573.9 1118L574.7 1117.4L575.5 1114.9L576.4 1111L577.2 1109.7L578 1106.3L578.9 1104.3L579.7 1101.6L580.6 1099.9L581.4 1098.3L582.2 1099.2L583.1 1097.8L583.9 1095.1L584.7 1096.5L585.6 1097.5L586.4 1092.2L587.3 1091.4L588.1 1088.6L588.9 1089L589.8 1087.9L590.6 1087.5L591.4 1084L592.3 1084L593.1 1081L593.9 1079.9L594.8 1078.5L595.6 1075.4L596.5 1074.6L597.3 1072.4L598.1 1073.2L599 1071L599.8 1070L600.6 1068.6L601.5 1066.4L602.3 1066.2L603.1 1064.8L604 1062.7L604.8 1062.5L605.7 1063L606.5 1062L607.3 1059.6L608.2 1059.1L609 1057L609.8 1057.9L610.7 1056.6L611.5 1056.5L612.4 1057.5L613.2 1055.4L614 1057.6L614.9 1055.9L615.7 1056.7L616.5 1056.2L617.4 1054.7L618.2 1054.6L619 1054L619.9 1054.5L620.7 1053.8L621.6 1053.3L622.4 1054.4L623.2 1053.9L624.1 1053.6L624.9 1052L625.7 1050.8L626.6 1051.3L627.4 1050L628.3 1049.2L629.1 1049.5L629.9 1048.3L630.8 1046.5L631.6 1045.4L632.4 1045.7L633.3 1045.1L634.1 1045.3L634.9 1045.7L635.8 1044.7L636.6 1044.2L637.5 1043L638.3 1043.3L639.1 1044.1L640 1043.1L640.8 1042.1L641.6 1042.8L642.5 1041.5L643.3 1041.6L644.2 1041.3L645 1042.2L645.8 1041.1L646.7 1041.9L647.5 1042.2L648.3 1041.1L649.2 1040.7L650 1040.1L650.8 1041.8L651.7 1040.6L652.5 1040.8L653.4 1040.5L654.2 1040.2L655 1040.6L655.9 1039.6L656.7 1041.4L657.5 1040.2L658.4 1040.6L659.2 1040.7L660.1 1040.8L660.9 1041.8L661.7 1040.3L662.6 1041.7L663.4 1042.5L664.2 1041.8L665.1 1041.9L665.9 1043L666.7 1042.4L667.6 1041.9L668.4 1043.6L669.3 1043.5L670.1 1042.3L670.9 1043.4L671.8 1043L672.6 1042.5L673.4 1041.6L674.3 1042.9L675.1 1043.5L676 1042.5L676.8 1042.5L677.6 1042.6L678.5 1042.6L679.3 1043.1L680.1 1043.6L681 1042.4L681.8 1043L682.6 1043.3L683.5 1042.7L684.3 1043.2L685.2 1042.8L686 1043.1L686.8 1042.6L687.7 1042.6L688.5 1043.8L689.3 1044L690.2 1043.8L691 1044.6L691.8 1044.2L692.7 1045.4L693.5 1046.1L694.4 1048.2L695.2 1047.7L696 1048.8L696.9 1050L697.7 1050.2L698.5 1051L699.4 1051.9L700.2 1053L701.1 1053.6L701.9 1054L702.7 1054.5L703.6 1055.1L704.4 1056.1L705.2 1056.6L706.1 1056.7L706.9 1058.1L707.7 1058.4L708.6 1058.8L709.4 1059.8L710.3 1060.3L711.1 1060.6L711.9 1060.9L712.8 1061.4L713.6 1061.9L714.4 1063.2L715.3 1062.6L716.1 1063.3L717 1063.7L717.8 1064.2L718.6 1065L719.5 1065.2L720.3 1065.7L721.1 1065.8L722 1066.3L722.8 1067.1L723.6 1067.7L724.5 1068.5L725.3 1068.1L726.2 1069.4L727 1070L727.8 1069.9L728.7 1070.9L729.5 1072.4L730.3 1072.1L731.2 1072.2L732 1073.5L732.9 1073.6L733.7 1074.8L734.5 1075.6L735.4 1076.4L736.2 1077.4L737 1077.9L737.9 1078.6L738.7 1079.2L739.5 1079.7L740.4 1081.1L741.2 1081.5L742.1 1082.1L742.9 1083.8L743.7 1083.9L744.6 1084.4L745.4 1085.9L746.2 1086.3L747.1 1087L747.9 1088.5L748.8 1089.2L749.6 1089.8L750.4 1090.6L751.3 1091.1L752.1 1091.9L752.9 1093.2L753.8 1093.9L754.6 1094.9L755.4 1095.3L756.3 1096.5L757.1 1097.1L758 1098.2L758.8 1098.4L759.6 1099.6L760.5 1100L761.3 1101.2L762.1 1101.5L763 1103.2L763.8 1103.6L764.7 1104.2L765.5 1105.4L766.3 1106.4L767.2 1107.5L768 1107.4L768.8 1109.4L769.7 1109.5L770.5 1110.5L771.3 1111.1L772.2 1113.1L773 1113L773.9 1113.5L774.7 1114.4L775.5 1115.1L776.4 1116.5L777.2 1117.3L778 1117.6L778.9 1118L779.7 1119.4L780.5 1120.1L781.4 1121.2L782.2 1121.6L783.1 1122.6L783.9 1123.4L784.7 1124L785.6 1125.2L786.4 1125.9L787.2 1126.5L788.1 1127.2L788.9 1128.2L789.8 1128.7L790.6 1129.5L791.4 1130.6L792.3 1130.9L793.1 1131.4L793.9 1132.3L794.8 1133.1L795.6 1133.3L796.4 1134.1L797.3 1135L798.1 1135.9L799 1136.3L799.8 1137.4L800.6 1137.9L801.5 1138L802.3 1138.7L803.1 1139.5L804 1140.2L804.8 1140.7L805.7 1141.3L806.5 1142L807.3 1142.2L808.2 1143L809 1143.2L809.8 1143.4L810.7 1144.1L811.5 1144.7L812.3 1145.3L813.2 1145.2L814 1146.2L814.9 1146.9L815.7 1147.5L816.5 1147.9L817.4 1148.5L818.2 1149.9L819 1149.9L819.9 1150.6L820.7 1151.5L821.6 1152.3L822.4 1153.2L823.2 1154.3L824.1 1155.1L824.9 1156.7L825.7 1157.5L826.6 1158.6L827.4 1160.6L828.2 1161.5L829.1 1162.9L829.9 1163.9L830.8 1165.1L831.6 1166.2L832.4 1167L833.3 1166.8L834.1 1167.9L834.9 1168.6L835.8 1168.7L836.6 1169.5L837.5 1169.9L838.3 1171.1L839.1 1171.1L840 1171.3L840.8 1172.2L841.6 1172.7L842.5 1172.8L843.3 1173L844.1 1173.2L845 1173.9L845.8 1174.3L846.7 1174.6L847.5 1175.1L848.3 1174.6L849.2 1175.2L850 1175.7L850.8 1176.2L851.7 1176.3L852.5 1176.5L853.4 1176.4L854.2 1176.9L855 1177L855.9 1176.9L856.7 1177.2L857.5 1178.2L858.4 1178L859.2 1177.8L860 1177.9L860.9 1178L861.7 1178.7L862.6 1178.2L863.4 1178.6L864.2 1179.1L865.1 1178.8L865.9 1179.2L866.7 1178.6L867.6 1178.8L868.4 1178.8L869.2 1178.8L870.1 1178.7L870.9 1178.8L871.8 1178.7L872.6 1178.1L873.4 1178.6L874.3 1178.5L875.1 1178L875.9 1178.5L876.8 1178.3L877.6 1178.3L878.5 1178.2L879.3 1178.1L880.1 1178.2L881 1177.9L881.8 1177.6L882.6 1177.8L883.5 1177.9L884.3 1177L885.1 1176L886 1174.5L886.8 1172.4L887.7 1171.1L888.5 1168.8L889.3 1166.9L890.2 1166.6L891 1166.1L891.8 1165.9L892.7 1166.3L893.5 1166.2L894.4 1166.1L895.2 1166L896 1166.4L896.9 1166.1L897.7 1166" fill="none" stroke="#6aad5e" stroke-width="3.8" stroke-linejoin="round" stroke-linecap="round"/>
<text x="803.7" y="1064.9" font-size="20.6">NES=1.03</text>
<text x="803.7" y="1087.2" font-size="20.6">FDR=0.408</text>
<path d="M561.2 1184.7V1196M561.6 1184.7V1196M562.2 1184.7V1196M583.9 1184.7V1196M586 1184.7V1196M596.1 1184.7V1196M600.1 1184.7V1196M607 1184.7V1196M653.1 1184.7V1196M680.5 1184.7V1196M682.5 1184.7V1196M699.1 1184.7V1196M701.6 1184.7V1196M802.4 1184.7V1196" stroke="rgb(16,16,16)" stroke-width="1.1"/>
<path d="M558.1 1184.7V1196M572.5 1184.7V1196M581.7 1184.7V1196M586.9 1184.7V1196M618.6 1184.7V1196M621.4 1184.7V1196M642.3 1184.7V1196M644.5 1184.7V1196M656.5 1184.7V1196M657.4 1184.7V1196M700 1184.7V1196" stroke="rgb(32,32,32)" stroke-width="1.1"/>
<path d="M608.2 1184.7V1196M608.9 1184.7V1196M612.3 1184.7V1196M623.2 1184.7V1196M652.4 1184.7V1196M669.7 1184.7V1196M679.7 1184.7V1196M720.6 1184.7V1196" stroke="rgb(48,48,48)" stroke-width="1.1"/>
<path d="M569.7 1184.7V1196M580.8 1184.7V1196M617.2 1184.7V1196M634.6 1184.7V1196M638 1184.7V1196M643.7 1184.7V1196M647.5 1184.7V1196M650.9 1184.7V1196M662.6 1184.7V1196M664.9 1184.7V1196M670 1184.7V1196M671 1184.7V1196M675.8 1184.7V1196M680.1 1184.7V1196M691.4 1184.7V1196M692.6 1184.7V1196M717.5 1184.7V1196M718 1184.7V1196M726.9 1184.7V1196M741.4 1184.7V1196M744 1184.7V1196M791 1184.7V1196M871.2 1184.7V1196" stroke="rgb(64,64,64)" stroke-width="1.1"/>
<path d="M557.1 1184.7V1196M560.9 1184.7V1196M586.9 1184.7V1196M603.2 1184.7V1196M614.5 1184.7V1196M625.5 1184.7V1196M631.2 1184.7V1196M632.4 1184.7V1196M640.8 1184.7V1196M665.1 1184.7V1196M681.5 1184.7V1196M688.5 1184.7V1196M688.6 1184.7V1196M689.4 1184.7V1196M689.9 1184.7V1196M707.6 1184.7V1196M731.8 1184.7V1196M735 1184.7V1196M778.7 1184.7V1196M844.7 1184.7V1196" stroke="rgb(80,80,80)" stroke-width="1.1"/>
<path d="M567.8 1184.7V1196M591.3 1184.7V1196M615.7 1184.7V1196M620.9 1184.7V1196M622.8 1184.7V1196M639.4 1184.7V1196M645.1 1184.7V1196M649.4 1184.7V1196M651.5 1184.7V1196M661.5 1184.7V1196M662.6 1184.7V1196M670.8 1184.7V1196M671.7 1184.7V1196M678 1184.7V1196M683.5 1184.7V1196M684.5 1184.7V1196M684.6 1184.7V1196M697.8 1184.7V1196M709.5 1184.7V1196M714.7 1184.7V1196M716.7 1184.7V1196M721.7 1184.7V1196M727.2 1184.7V1196M732.7 1184.7V1196M739.1 1184.7V1196M779.1 1184.7V1196M791.7 1184.7V1196M794.5 1184.7V1196M805.1 1184.7V1196M810.3 1184.7V1196M854.6 1184.7V1196M889.6 1184.7V1196" stroke="rgb(96,96,96)" stroke-width="1.1"/>
<path d="M570.7 1184.7V1196M576.7 1184.7V1196M577.1 1184.7V1196M578.1 1184.7V1196M589.5 1184.7V1196M600.7 1184.7V1196M600.9 1184.7V1196M604.6 1184.7V1196M621.7 1184.7V1196M638.5 1184.7V1196M658.6 1184.7V1196M676 1184.7V1196M694.6 1184.7V1196M708.9 1184.7V1196M710.2 1184.7V1196M717.9 1184.7V1196M722.1 1184.7V1196M733.2 1184.7V1196M737.8 1184.7V1196M739.8 1184.7V1196M744.2 1184.7V1196M790.4 1184.7V1196M796.5 1184.7V1196M798.7 1184.7V1196M817.1 1184.7V1196M829.4 1184.7V1196M855.9 1184.7V1196M872.3 1184.7V1196M884.1 1184.7V1196M887.6 1184.7V1196" stroke="rgb(112,112,112)" stroke-width="1.1"/>
<path d="M566.7 1184.7V1196M615.2 1184.7V1196M620 1184.7V1196M648.8 1184.7V1196M653.3 1184.7V1196M655 1184.7V1196M686.2 1184.7V1196M695.7 1184.7V1196M706.1 1184.7V1196M708.2 1184.7V1196M719.4 1184.7V1196M720.7 1184.7V1196M728.5 1184.7V1196M736.7 1184.7V1196M738.8 1184.7V1196M755 1184.7V1196M771.9 1184.7V1196M779.3 1184.7V1196M780.7 1184.7V1196M799.7 1184.7V1196M804.8 1184.7V1196M805 1184.7V1196M823.7 1184.7V1196M833.8 1184.7V1196M839 1184.7V1196M846.5 1184.7V1196M885.9 1184.7V1196" stroke="rgb(128,128,128)" stroke-width="1.1"/>
<path d="M619.3 1184.7V1196M633.4 1184.7V1196M637.6 1184.7V1196M653.1 1184.7V1196M654.9 1184.7V1196M655.6 1184.7V1196M674.6 1184.7V1196M686.4 1184.7V1196M691 1184.7V1196M691.2 1184.7V1196M702.1 1184.7V1196M730.4 1184.7V1196M742 1184.7V1196M748.7 1184.7V1196M773.8 1184.7V1196M777.8 1184.7V1196M778.4 1184.7V1196M784.7 1184.7V1196M789.3 1184.7V1196M796.7 1184.7V1196M800.1 1184.7V1196M803.6 1184.7V1196M818.9 1184.7V1196M820.7 1184.7V1196M827.7 1184.7V1196M842 1184.7V1196M843.4 1184.7V1196M848.2 1184.7V1196M852.7 1184.7V1196M861.8 1184.7V1196M878.1 1184.7V1196M884.7 1184.7V1196" stroke="rgb(144,144,144)" stroke-width="1.1"/>
<path d="M595.1 1184.7V1196M636.1 1184.7V1196M673.5 1184.7V1196M703.4 1184.7V1196M749.4 1184.7V1196M779.6 1184.7V1196M779.8 1184.7V1196M780.1 1184.7V1196M786.4 1184.7V1196M788.2 1184.7V1196M789.5 1184.7V1196M797.8 1184.7V1196M799.7 1184.7V1196M808.2 1184.7V1196M809.7 1184.7V1196M818.8 1184.7V1196M824.4 1184.7V1196M855.2 1184.7V1196M859.4 1184.7V1196M861.3 1184.7V1196M865.6 1184.7V1196M866 1184.7V1196M869.1 1184.7V1196M869.3 1184.7V1196M878.8 1184.7V1196M878.9 1184.7V1196M879.9 1184.7V1196" stroke="rgb(160,160,160)" stroke-width="1.1"/>
<path d="M665.5 1184.7V1196M669.3 1184.7V1196M723.5 1184.7V1196M731.8 1184.7V1196M745.6 1184.7V1196M776.2 1184.7V1196M778.4 1184.7V1196M784.4 1184.7V1196M789 1184.7V1196M790.1 1184.7V1196M792.6 1184.7V1196M793.2 1184.7V1196M794.7 1184.7V1196M795 1184.7V1196M813.2 1184.7V1196M822.2 1184.7V1196M836.9 1184.7V1196M850 1184.7V1196M853.7 1184.7V1196M855.7 1184.7V1196M867.2 1184.7V1196M868 1184.7V1196M872.7 1184.7V1196M875.8 1184.7V1196M887.8 1184.7V1196M889.1 1184.7V1196" stroke="rgb(176,176,176)" stroke-width="1.1"/>
<path d="M711 1184.7V1196M716.9 1184.7V1196M782.6 1184.7V1196M814.4 1184.7V1196M818.5 1184.7V1196M824.9 1184.7V1196M845.8 1184.7V1196M865 1184.7V1196M875.7 1184.7V1196M879 1184.7V1196M884.4 1184.7V1196M887.5 1184.7V1196M888.3 1184.7V1196M890.5 1184.7V1196" stroke="rgb(192,192,192)" stroke-width="1.1"/>
<path d="M725.7 1184.7V1196M783.7 1184.7V1196M787.8 1184.7V1196M793.1 1184.7V1196M794.9 1184.7V1196M795.4 1184.7V1196M802.2 1184.7V1196M830.4 1184.7V1196M838.7 1184.7V1196M848.4 1184.7V1196M851 1184.7V1196M857.3 1184.7V1196M865.3 1184.7V1196M866.8 1184.7V1196M873.5 1184.7V1196M882.1 1184.7V1196M883.1 1184.7V1196M885.1 1184.7V1196M887.5 1184.7V1196" stroke="rgb(208,208,208)" stroke-width="1.1"/>
<rect x="556.5" y="1196" width="16.5" height="7" fill="#a0625a" />
<rect x="573" y="1196" width="67.9" height="7" fill="#de7a68" />
<rect x="640.9" y="1196" width="110.4" height="7" fill="#f0d0d8" />
<rect x="751.3" y="1196" width="59.5" height="7" fill="#a3b2e0" />
<rect x="810.8" y="1196" width="68.1" height="7" fill="#7a84c4" />
<rect x="878.9" y="1196" width="16.5" height="7" fill="#6a70b0" />
<text x="730.3" y="1238.7" font-size="20.7" text-anchor="middle">shEZH2 INDUCED in DLBCL:</text>
<text x="730.3" y="1263.4" font-size="20.7" text-anchor="middle">MURINE ORTHOLOGS, n=2,165</text>
<path d="M550.6 1285.2L550.6 1388.7" stroke="#222" stroke-width="1.1" />
<path d="M545.6 1285.2L550.6 1285.2" stroke="#222" stroke-width="1.1" />
<text x="543.6" y="1290.4" font-size="14.5" text-anchor="end" fill="#222">0.20</text>
<path d="M545.6 1305.9L550.6 1305.9" stroke="#222" stroke-width="1.1" />
<text x="543.6" y="1311.1" font-size="14.5" text-anchor="end" fill="#222">0.15</text>
<path d="M545.6 1326.6L550.6 1326.6" stroke="#222" stroke-width="1.1" />
<text x="543.6" y="1331.8" font-size="14.5" text-anchor="end" fill="#222">0.10</text>
<path d="M545.6 1347.3L550.6 1347.3" stroke="#222" stroke-width="1.1" />
<text x="543.6" y="1352.5" font-size="14.5" text-anchor="end" fill="#222">0.05</text>
<path d="M545.6 1368L550.6 1368" stroke="#222" stroke-width="1.1" />
<text x="543.6" y="1373.2" font-size="14.5" text-anchor="end" fill="#222">0.00</text>
<path d="M545.6 1388.7L550.6 1388.7" stroke="#222" stroke-width="1.1" />
<text x="543.6" y="1393.9" font-size="14.5" text-anchor="end" fill="#222">-0.05</text>
<path d="M550.6 1368L898.9 1368" stroke="#222" stroke-width="1.2" />
<text transform="translate(505,1316) rotate(-90)" font-size="20.5" text-anchor="middle">Enrichment score</text>
<path d="M559.3 1367.7L560.1 1362.9L561 1359.4L561.8 1357.2L562.6 1355.5L563.5 1355.2L564.3 1354.1L565.2 1355.9L566 1353.4L566.8 1354L567.7 1353.8L568.5 1354.2L569.3 1355.7L570.2 1357.6L571 1356.3L571.9 1355.5L572.7 1356.7L573.5 1358.1L574.4 1356L575.2 1356.7L576 1357.1L576.9 1355.6L577.7 1352.3L578.5 1353.6L579.4 1351.9L580.2 1351.5L581.1 1349.8L581.9 1350.3L582.7 1349.9L583.6 1347.8L584.4 1346L585.2 1345.1L586.1 1346.5L586.9 1343.8L587.7 1342.2L588.6 1342.3L589.4 1339.8L590.3 1338.8L591.1 1336.9L591.9 1336.8L592.8 1335.1L593.6 1334.9L594.4 1332.3L595.3 1330.5L596.1 1328.7L597 1328.6L597.8 1326.3L598.6 1325.5L599.5 1323.7L600.3 1324L601.1 1320.7L602 1318.9L602.8 1318.6L603.6 1317L604.5 1315.6L605.3 1315.1L606.2 1313.8L607 1312.5L607.8 1312.3L608.7 1309.6L609.5 1309.9L610.3 1307.8L611.2 1307.7L612 1304.7L612.8 1305.3L613.7 1305.3L614.5 1304.9L615.4 1303.5L616.2 1302.1L617 1302.8L617.9 1302.5L618.7 1299.6L619.5 1300.2L620.4 1299.8L621.2 1299.1L622.1 1297.3L622.9 1297.7L623.7 1297L624.6 1296.1L625.4 1296.1L626.2 1295.6L627.1 1294.1L627.9 1294.7L628.7 1292.6L629.6 1293.8L630.4 1291.4L631.3 1292.3L632.1 1290.3L632.9 1290.7L633.8 1290.3L634.6 1288.9L635.4 1289.2L636.3 1287.7L637.1 1287.4L637.9 1287.2L638.8 1286.7L639.6 1286.3L640.5 1285.8L641.3 1286.4L642.1 1284.9L643 1283.9L643.8 1283.4L644.6 1282.9L645.5 1282.5L646.3 1281.6L647.2 1282.3L648 1281.2L648.8 1280.2L649.7 1279.9L650.5 1280.3L651.3 1279.8L652.2 1279L653 1278.6L653.8 1278.4L654.7 1278.8L655.5 1278.3L656.4 1277.4L657.2 1278.2L658 1276.6L658.9 1277.3L659.7 1278.2L660.5 1277.7L661.4 1276.2L662.2 1276.7L663.1 1276.6L663.9 1277.4L664.7 1277.1L665.6 1277.5L666.4 1277.2L667.2 1277.2L668.1 1276.6L668.9 1276.9L669.7 1277L670.6 1276.7L671.4 1278L672.3 1277.7L673.1 1276.9L673.9 1278.2L674.8 1277.6L675.6 1278.4L676.4 1278L677.3 1278L678.1 1278.1L678.9 1278.1L679.8 1278.6L680.6 1278.4L681.5 1279.5L682.3 1279.2L683.1 1279.7L684 1280.2L684.8 1279.9L685.6 1280L686.5 1281.7L687.3 1280.7L688.2 1281.4L689 1282.3L689.8 1282.6L690.7 1282.7L691.5 1282.8L692.3 1284.1L693.2 1284.3L694 1284.4L694.8 1284.8L695.7 1285.6L696.5 1286.1L697.4 1286L698.2 1286.4L699 1287L699.9 1286.3L700.7 1288.2L701.5 1287.5L702.4 1288.3L703.2 1289L704 1289.1L704.9 1290.1L705.7 1290.8L706.6 1290.5L707.4 1291.2L708.2 1291.6L709.1 1292.2L709.9 1292.3L710.7 1292.7L711.6 1293.1L712.4 1293.7L713.3 1294.5L714.1 1294.3L714.9 1295.4L715.8 1295.6L716.6 1296L717.4 1296L718.3 1296.8L719.1 1298L719.9 1298L720.8 1299.2L721.6 1299L722.5 1299.4L723.3 1300.5L724.1 1300.6L725 1301.7L725.8 1302.5L726.6 1302.9L727.5 1303.3L728.3 1303.6L729.1 1304.7L730 1305.3L730.8 1305.7L731.7 1306.4L732.5 1306.9L733.3 1307.8L734.2 1308.5L735 1309.1L735.8 1310L736.7 1310.7L737.5 1311.4L738.4 1312L739.2 1312.7L740 1313.8L740.9 1314.3L741.7 1315.4L742.5 1316L743.4 1317.2L744.2 1317.5L745 1318.4L745.9 1319.4L746.7 1320.3L747.6 1321.1L748.4 1322.2L749.2 1323.4L750.1 1324.3L750.9 1325L751.7 1326.2L752.6 1328L753.4 1328.6L754.3 1329.9L755.1 1331.1L755.9 1332.3L756.8 1333.6L757.6 1335.2L758.4 1336.1L759.3 1337.3L760.1 1338.6L760.9 1340L761.8 1340.7L762.6 1342.8L763.5 1343.3L764.3 1344.9L765.1 1346.4L766 1347.5L766.8 1348.8L767.6 1349.9L768.5 1350.9L769.3 1352.9L770.1 1354.6L771 1355.2L771.8 1356.5L772.7 1357.8L773.5 1359.2L774.3 1360.4L775.2 1362L776 1362.8L776.8 1364.5L777.7 1365L778.5 1365.9L779.4 1367L780.2 1368.1L781 1368.7L781.9 1369.7L782.7 1370.3L783.5 1371L784.4 1371.8L785.2 1372.3L786 1373.1L786.9 1373.9L787.7 1374.2L788.6 1375.7L789.4 1375.5L790.2 1376.5L791.1 1377.3L791.9 1377.8L792.7 1378.7L793.6 1379L794.4 1379.4L795.2 1380.1L796.1 1380.8L796.9 1381.4L797.8 1381.5L798.6 1382.2L799.4 1382.5L800.3 1382.6L801.1 1382.9L801.9 1383.6L802.8 1383.9L803.6 1384L804.5 1384.9L805.3 1385.4L806.1 1385.7L807 1385.6L807.8 1386.1L808.6 1386.3L809.5 1386.9L810.3 1387.2L811.1 1387.5L812 1387.8L812.8 1388.5L813.7 1388.5L814.5 1388.7L815.3 1389L816.2 1389.7L817 1389.5L817.8 1389.9L818.7 1389.8L819.5 1390.4L820.4 1390.4L821.2 1390.2L822 1391L822.9 1390.6L823.7 1390.8L824.5 1391.3L825.4 1391.5L826.2 1391.5L827 1391.6L827.9 1391.7L828.7 1391.9L829.6 1392L830.4 1392L831.2 1392.6L832.1 1392.4L832.9 1392.8L833.7 1393L834.6 1392.9L835.4 1392.9L836.2 1392.6L837.1 1392.7L837.9 1392.7L838.8 1392.8L839.6 1393L840.4 1392.6L841.3 1393L842.1 1393.1L842.9 1392.9L843.8 1392.9L844.6 1392.1L845.5 1392.6L846.3 1392.6L847.1 1392.5L848 1392.4L848.8 1392.2L849.6 1392.1L850.5 1392L851.3 1392.1L852.1 1391.5L853 1391.6L853.8 1391.7L854.7 1391.3L855.5 1391.2L856.3 1390.8L857.2 1390.7L858 1390.8L858.8 1390.1L859.7 1390.1L860.5 1390.1L861.3 1389.8L862.2 1389.5L863 1389.1L863.9 1388.3L864.7 1387.8L865.5 1387.7L866.4 1387L867.2 1386.4L868 1386.2L868.9 1385.8L869.7 1385.3L870.6 1384.7L871.4 1384.1L872.2 1384L873.1 1383.1L873.9 1382.6L874.7 1382.1L875.6 1381.7L876.4 1381.1L877.2 1380.6L878.1 1379.8L878.9 1379.5L879.8 1378.9L880.6 1378.3L881.4 1377.5L882.3 1376.8L883.1 1376.6L883.9 1375.6L884.8 1375.2L885.6 1374.7L886.4 1373.3L887.3 1373.2L888.1 1372.4L889 1371.6L889.8 1371.4L890.6 1370.8L891.5 1370.2L892.3 1369.8L893.1 1369.2L894 1368.7L894.8 1368.7L895.7 1368L896.5 1367.5L897.3 1366.9L898.2 1367L899 1366.5" fill="none" stroke="#6aad5e" stroke-width="3.8" stroke-linejoin="round" stroke-linecap="round"/>
<text x="796.7" y="1301" font-size="20.6">NES=0.653</text>
<text x="796.7" y="1325.7" font-size="20.6">FDR=1</text>
<path d="M564.3 1409.8V1420.1M566.5 1409.8V1420.1M569.4 1409.8V1420.1M575.3 1409.8V1420.1M583.7 1409.8V1420.1M584.5 1409.8V1420.1M584.9 1409.8V1420.1M589.8 1409.8V1420.1M596.5 1409.8V1420.1M600.9 1409.8V1420.1M608.6 1409.8V1420.1M617.8 1409.8V1420.1M637.8 1409.8V1420.1M640.1 1409.8V1420.1M645.3 1409.8V1420.1M678.9 1409.8V1420.1M717 1409.8V1420.1M717.6 1409.8V1420.1M730.4 1409.8V1420.1" stroke="rgb(16,16,16)" stroke-width="1.1"/>
<path d="M561.9 1409.8V1420.1M571.2 1409.8V1420.1M583.7 1409.8V1420.1M586.7 1409.8V1420.1M590.3 1409.8V1420.1M590.9 1409.8V1420.1M603.8 1409.8V1420.1M606.3 1409.8V1420.1M622.7 1409.8V1420.1M626.2 1409.8V1420.1M645 1409.8V1420.1M647.3 1409.8V1420.1M671.4 1409.8V1420.1M675.1 1409.8V1420.1M676.7 1409.8V1420.1M677.2 1409.8V1420.1M693 1409.8V1420.1M706.9 1409.8V1420.1M712.1 1409.8V1420.1" stroke="rgb(32,32,32)" stroke-width="1.1"/>
<path d="M569.3 1409.8V1420.1M576.5 1409.8V1420.1M578.9 1409.8V1420.1M590.7 1409.8V1420.1M603.5 1409.8V1420.1M606 1409.8V1420.1M612.4 1409.8V1420.1M623.2 1409.8V1420.1M647.9 1409.8V1420.1M666.9 1409.8V1420.1M698.7 1409.8V1420.1M701.6 1409.8V1420.1M713.5 1409.8V1420.1M721.1 1409.8V1420.1M722.3 1409.8V1420.1M722.6 1409.8V1420.1" stroke="rgb(48,48,48)" stroke-width="1.1"/>
<path d="M562.3 1409.8V1420.1M573.5 1409.8V1420.1M574.6 1409.8V1420.1M585.4 1409.8V1420.1M585.9 1409.8V1420.1M598.7 1409.8V1420.1M614.3 1409.8V1420.1M632.7 1409.8V1420.1M643.8 1409.8V1420.1M645.9 1409.8V1420.1M651.3 1409.8V1420.1M653.2 1409.8V1420.1M663.2 1409.8V1420.1M679 1409.8V1420.1M679.3 1409.8V1420.1M692 1409.8V1420.1M693 1409.8V1420.1M701.9 1409.8V1420.1M702.4 1409.8V1420.1M710.8 1409.8V1420.1M723.4 1409.8V1420.1M746.4 1409.8V1420.1M748.1 1409.8V1420.1M806.9 1409.8V1420.1M813.3 1409.8V1420.1M842.8 1409.8V1420.1" stroke="rgb(64,64,64)" stroke-width="1.1"/>
<path d="M566.6 1409.8V1420.1M570.6 1409.8V1420.1M581.8 1409.8V1420.1M584.4 1409.8V1420.1M586.1 1409.8V1420.1M592 1409.8V1420.1M593.4 1409.8V1420.1M593.5 1409.8V1420.1M597.4 1409.8V1420.1M610.5 1409.8V1420.1M613.4 1409.8V1420.1M616.5 1409.8V1420.1M623.1 1409.8V1420.1M624.6 1409.8V1420.1M631.8 1409.8V1420.1M633.1 1409.8V1420.1M636.5 1409.8V1420.1M647 1409.8V1420.1M651.2 1409.8V1420.1M660.5 1409.8V1420.1M662.3 1409.8V1420.1M665.3 1409.8V1420.1M667.6 1409.8V1420.1M672.2 1409.8V1420.1M679.6 1409.8V1420.1M697.4 1409.8V1420.1M716.6 1409.8V1420.1M742.1 1409.8V1420.1M743.9 1409.8V1420.1M787.4 1409.8V1420.1M818.1 1409.8V1420.1M823.2 1409.8V1420.1M834.2 1409.8V1420.1M838.6 1409.8V1420.1M896.7 1409.8V1420.1" stroke="rgb(80,80,80)" stroke-width="1.1"/>
<path d="M573 1409.8V1420.1M580.7 1409.8V1420.1M592.9 1409.8V1420.1M610.7 1409.8V1420.1M620.3 1409.8V1420.1M622.1 1409.8V1420.1M646.8 1409.8V1420.1M651.5 1409.8V1420.1M652.2 1409.8V1420.1M658 1409.8V1420.1M668.5 1409.8V1420.1M669.9 1409.8V1420.1M673.5 1409.8V1420.1M679.7 1409.8V1420.1M687.7 1409.8V1420.1M694.5 1409.8V1420.1M697.1 1409.8V1420.1M705.4 1409.8V1420.1M712.4 1409.8V1420.1M714.9 1409.8V1420.1M718.6 1409.8V1420.1M764.6 1409.8V1420.1M797.2 1409.8V1420.1M803.5 1409.8V1420.1M833 1409.8V1420.1M834.6 1409.8V1420.1M849.7 1409.8V1420.1M856.3 1409.8V1420.1M856.6 1409.8V1420.1M865.4 1409.8V1420.1M894 1409.8V1420.1" stroke="rgb(96,96,96)" stroke-width="1.1"/>
<path d="M561 1409.8V1420.1M564.2 1409.8V1420.1M567.5 1409.8V1420.1M585.5 1409.8V1420.1M587.3 1409.8V1420.1M594.6 1409.8V1420.1M603.3 1409.8V1420.1M606 1409.8V1420.1M615.8 1409.8V1420.1M622.6 1409.8V1420.1M630.3 1409.8V1420.1M646.9 1409.8V1420.1M651.3 1409.8V1420.1M651.7 1409.8V1420.1M653.7 1409.8V1420.1M660.6 1409.8V1420.1M669.7 1409.8V1420.1M673.2 1409.8V1420.1M673.8 1409.8V1420.1M683.7 1409.8V1420.1M687.2 1409.8V1420.1M689.3 1409.8V1420.1M690.9 1409.8V1420.1M692.4 1409.8V1420.1M692.5 1409.8V1420.1M709.4 1409.8V1420.1M712.2 1409.8V1420.1M717.4 1409.8V1420.1M726.8 1409.8V1420.1M730.5 1409.8V1420.1M731.8 1409.8V1420.1M734.6 1409.8V1420.1M736.4 1409.8V1420.1M738.8 1409.8V1420.1M745.3 1409.8V1420.1M750 1409.8V1420.1M805.3 1409.8V1420.1M807.6 1409.8V1420.1M812.9 1409.8V1420.1M817.8 1409.8V1420.1M826.8 1409.8V1420.1M826.8 1409.8V1420.1M851.1 1409.8V1420.1M879.7 1409.8V1420.1" stroke="rgb(112,112,112)" stroke-width="1.1"/>
<path d="M595.9 1409.8V1420.1M611.1 1409.8V1420.1M614.6 1409.8V1420.1M628.6 1409.8V1420.1M643.8 1409.8V1420.1M647.7 1409.8V1420.1M658.7 1409.8V1420.1M692.1 1409.8V1420.1M694.8 1409.8V1420.1M696.4 1409.8V1420.1M703.2 1409.8V1420.1M717.5 1409.8V1420.1M726.7 1409.8V1420.1M731.7 1409.8V1420.1M745.1 1409.8V1420.1M747.1 1409.8V1420.1M747.9 1409.8V1420.1M749.2 1409.8V1420.1M777.5 1409.8V1420.1M791.8 1409.8V1420.1M793 1409.8V1420.1M794.5 1409.8V1420.1M796.8 1409.8V1420.1M798.8 1409.8V1420.1M802.3 1409.8V1420.1M809.3 1409.8V1420.1M819.9 1409.8V1420.1M836.6 1409.8V1420.1M836.6 1409.8V1420.1M866.6 1409.8V1420.1M868.8 1409.8V1420.1M871.5 1409.8V1420.1M871.9 1409.8V1420.1M888.6 1409.8V1420.1M894.7 1409.8V1420.1" stroke="rgb(128,128,128)" stroke-width="1.1"/>
<path d="M605.1 1409.8V1420.1M642.9 1409.8V1420.1M649.7 1409.8V1420.1M651.6 1409.8V1420.1M660.6 1409.8V1420.1M674.4 1409.8V1420.1M678.3 1409.8V1420.1M699.1 1409.8V1420.1M705.8 1409.8V1420.1M716.8 1409.8V1420.1M724.4 1409.8V1420.1M731.8 1409.8V1420.1M734.8 1409.8V1420.1M737.5 1409.8V1420.1M764.9 1409.8V1420.1M795 1409.8V1420.1M805.8 1409.8V1420.1M814.2 1409.8V1420.1M815.7 1409.8V1420.1M818.4 1409.8V1420.1M822.9 1409.8V1420.1M839.4 1409.8V1420.1M844 1409.8V1420.1M848.5 1409.8V1420.1M850.1 1409.8V1420.1M870.5 1409.8V1420.1M883.8 1409.8V1420.1M893.9 1409.8V1420.1M895.6 1409.8V1420.1" stroke="rgb(144,144,144)" stroke-width="1.1"/>
<path d="M652.7 1409.8V1420.1M659.4 1409.8V1420.1M667.5 1409.8V1420.1M675.2 1409.8V1420.1M703.3 1409.8V1420.1M713.5 1409.8V1420.1M715.5 1409.8V1420.1M746.6 1409.8V1420.1M791.8 1409.8V1420.1M797.2 1409.8V1420.1M801.3 1409.8V1420.1M802.6 1409.8V1420.1M814.6 1409.8V1420.1M818.6 1409.8V1420.1M835.8 1409.8V1420.1M848 1409.8V1420.1M850.6 1409.8V1420.1M852.8 1409.8V1420.1M857.9 1409.8V1420.1M863.2 1409.8V1420.1M867.8 1409.8V1420.1M869.6 1409.8V1420.1M873.4 1409.8V1420.1M875 1409.8V1420.1M876.3 1409.8V1420.1M877 1409.8V1420.1M879.7 1409.8V1420.1M884.1 1409.8V1420.1M885.6 1409.8V1420.1" stroke="rgb(160,160,160)" stroke-width="1.1"/>
<path d="M620.7 1409.8V1420.1M724 1409.8V1420.1M750.6 1409.8V1420.1M752.7 1409.8V1420.1M793.5 1409.8V1420.1M827.7 1409.8V1420.1M835.1 1409.8V1420.1M837 1409.8V1420.1M848.3 1409.8V1420.1M855.8 1409.8V1420.1M863 1409.8V1420.1M876.1 1409.8V1420.1M879.8 1409.8V1420.1M880.4 1409.8V1420.1M887.5 1409.8V1420.1M888.8 1409.8V1420.1M895.8 1409.8V1420.1" stroke="rgb(176,176,176)" stroke-width="1.1"/>
<path d="M570.8 1409.8V1420.1M740.9 1409.8V1420.1M752.4 1409.8V1420.1M793 1409.8V1420.1M797.4 1409.8V1420.1M801.4 1409.8V1420.1M817.8 1409.8V1420.1M831.9 1409.8V1420.1M837.8 1409.8V1420.1M870.5 1409.8V1420.1M870.7 1409.8V1420.1M872.3 1409.8V1420.1M872.3 1409.8V1420.1M877.1 1409.8V1420.1M878.7 1409.8V1420.1M881.8 1409.8V1420.1M891.6 1409.8V1420.1" stroke="rgb(192,192,192)" stroke-width="1.1"/>
<path d="M673.5 1409.8V1420.1M745.7 1409.8V1420.1M790.5 1409.8V1420.1M807.5 1409.8V1420.1M828.6 1409.8V1420.1M831.3 1409.8V1420.1M839.6 1409.8V1420.1M843.4 1409.8V1420.1M847.9 1409.8V1420.1M849.4 1409.8V1420.1M853.8 1409.8V1420.1M854.9 1409.8V1420.1M857.8 1409.8V1420.1M858.4 1409.8V1420.1M862.7 1409.8V1420.1M864.8 1409.8V1420.1M864.9 1409.8V1420.1M872.1 1409.8V1420.1M873.7 1409.8V1420.1M878 1409.8V1420.1M883.1 1409.8V1420.1M883.7 1409.8V1420.1M887.2 1409.8V1420.1M894.5 1409.8V1420.1" stroke="rgb(208,208,208)" stroke-width="1.1"/>
<rect x="560" y="1420.1" width="15.8" height="7.1" fill="#a0625a" />
<rect x="575.8" y="1420.1" width="68.1" height="7.1" fill="#de7a68" />
<rect x="643.9" y="1420.1" width="109.3" height="7.1" fill="#f0d0d8" />
<rect x="753.2" y="1420.1" width="61.1" height="7.1" fill="#a3b2e0" />
<rect x="814.3" y="1420.1" width="67.4" height="7.1" fill="#7a84c4" />
<rect x="881.7" y="1420.1" width="16.5" height="7.1" fill="#6a70b0" />
<path d="M550.6 1429.6L550.6 1478.2" stroke="#222" stroke-width="1.1" />
<path d="M545.6 1429.6L550.6 1429.6" stroke="#222" stroke-width="1.1" />
<text x="543.6" y="1434.8" font-size="14.5" text-anchor="end" fill="#222">10</text>
<path d="M545.6 1445.8L550.6 1445.8" stroke="#222" stroke-width="1.1" />
<text x="543.6" y="1451" font-size="14.5" text-anchor="end" fill="#222">5</text>
<path d="M545.6 1462L550.6 1462" stroke="#222" stroke-width="1.1" />
<text x="543.6" y="1467.2" font-size="14.5" text-anchor="end" fill="#222">0</text>
<path d="M545.6 1478.2L550.6 1478.2" stroke="#222" stroke-width="1.1" />
<text x="543.6" y="1483.4" font-size="14.5" text-anchor="end" fill="#222">-5</text>
<path d="M559.3 1462L559.3 1431.4L561 1449.2L562.7 1453.3L564.4 1454.5L566.1 1455.1L567.8 1455.7L569.5 1456.3L571.2 1456.6L572.9 1456.7L574.6 1456.9L576.3 1457L578 1457.2L579.7 1457.3L581.4 1457.5L583.1 1457.6L584.8 1457.7L586.5 1457.9L588.2 1458L589.9 1458.2L591.6 1458.3L593.3 1458.4L595 1458.6L596.7 1458.7L598.4 1458.9L600.1 1459L601.8 1459.1L603.5 1459.1L605.2 1459.2L606.9 1459.2L608.6 1459.3L610.3 1459.3L612 1459.4L613.7 1459.4L615.4 1459.5L617.1 1459.5L618.8 1459.6L620.5 1459.6L622.2 1459.7L623.9 1459.7L625.6 1459.8L627.3 1459.8L629 1459.9L630.7 1459.9L632.4 1460L634.1 1460L635.8 1460.1L637.5 1460.1L639.2 1460.2L640.9 1460.2L642.6 1460.3L644.3 1460.3L646 1460.4L647.7 1460.4L649.4 1460.5L651.1 1460.5L652.8 1460.5L654.5 1460.6L656.2 1460.6L657.9 1460.6L659.6 1460.6L661.3 1460.7L663 1460.7L664.7 1460.7L666.4 1460.7L668.1 1460.8L669.8 1460.8L671.5 1460.8L673.2 1460.8L674.9 1460.9L676.6 1460.9L678.3 1460.9L680 1460.9L681.7 1461L683.4 1461L685.1 1461L686.8 1461L688.5 1461.1L690.2 1461.1L691.9 1461.1L693.6 1461.1L695.3 1461.2L697 1461.2L698.7 1461.2L700.4 1461.2L702.1 1461.3L703.8 1461.3L705.5 1461.3L707.2 1461.3L708.9 1461.4L710.6 1461.4L712.3 1461.4L714 1461.4L715.7 1461.5L717.4 1461.5L719.1 1461.5L720.8 1461.5L722.5 1461.5L724.2 1461.6L725.9 1461.6L727.6 1461.6L729.4 1461.6L731.1 1461.7L732.8 1461.7L734.5 1461.7L736.2 1461.7L737.9 1461.8L739.6 1461.8L741.3 1461.8L743 1461.8L744.7 1461.9L746.4 1461.9L748.1 1461.9L749.8 1461.9L751.5 1462L753.2 1462L754.9 1462L756.6 1462.1L758.3 1462.1L760 1462.1L761.7 1462.1L763.4 1462.2L765.1 1462.2L766.8 1462.2L768.5 1462.3L770.2 1462.3L771.9 1462.3L773.6 1462.4L775.3 1462.4L777 1462.4L778.7 1462.5L780.4 1462.5L782.1 1462.5L783.8 1462.6L785.5 1462.6L787.2 1462.6L788.9 1462.7L790.6 1462.7L792.3 1462.7L794 1462.8L795.7 1462.8L797.4 1462.8L799.1 1462.9L800.8 1462.9L802.5 1462.9L804.2 1462.9L805.9 1463L807.6 1463L809.3 1463L811 1463.1L812.7 1463.1L814.4 1463.1L816.1 1463.2L817.8 1463.2L819.5 1463.2L821.2 1463.3L822.9 1463.3L824.6 1463.3L826.3 1463.4L828 1463.4L829.7 1463.4L831.4 1463.5L833.1 1463.5L834.8 1463.5L836.5 1463.6L838.2 1463.6L839.9 1463.6L841.6 1463.7L843.3 1463.7L845 1463.7L846.7 1463.7L848.4 1463.8L850.1 1463.8L851.8 1463.8L853.5 1463.9L855.2 1463.9L856.9 1463.9L858.6 1464L860.3 1464L862 1464.1L863.7 1464.2L865.4 1464.3L867.1 1464.4L868.8 1464.4L870.5 1464.5L872.2 1464.6L873.9 1464.7L875.6 1464.8L877.3 1464.9L879 1464.9L880.7 1465L882.4 1465.1L884.1 1465.2L885.8 1465.3L887.5 1465.4L889.2 1465.5L890.9 1465.9L892.6 1466.8L894.3 1467.6L896 1471.5L897.7 1487.8L897.7 1462Z" fill="#6d6d6d" />
<path d="M753.7 1430L753.7 1488" stroke="#9a9a9a" stroke-width="1.2" stroke-dasharray="5 4"/>
<text x="633.3" y="1455" font-size="20">Zero cross at 9,912</text>
<path d="M559.3 1489.5L897.7 1489.5" stroke="#222" stroke-width="1.3" />
<path d="M559.3 1489.5L559.3 1494.5" stroke="#222" stroke-width="1.3" />
<text x="558" y="1507.8" font-size="14.5" text-anchor="middle" fill="#222">1</text>
<path d="M657.3 1489.5L657.3 1494.5" stroke="#222" stroke-width="1.3" />
<text x="669.7" y="1507.8" font-size="14.5" text-anchor="middle" fill="#222">5,000</text>
<path d="M754.4 1489.5L754.4 1494.5" stroke="#222" stroke-width="1.3" />
<text x="772.6" y="1507.8" font-size="14.5" text-anchor="middle" fill="#222">10,000</text>
<path d="M852.6 1489.5L852.6 1494.5" stroke="#222" stroke-width="1.3" />
<text x="849" y="1507.8" font-size="14.5" text-anchor="middle" fill="#222">15,000</text>
<path d="M897.3 1489.5L897.3 1494.5" stroke="#222" stroke-width="1.3" />
<text x="907.7" y="1507.8" font-size="14.5" text-anchor="middle" fill="#222">17,300</text>
<text x="731.4" y="1531.3" font-size="20.6" text-anchor="middle">Ranked list metric</text>
<text transform="translate(501,1460) rotate(-90)" font-size="20" text-anchor="middle">log2(<tspan font-style="italic">H1c/e</tspan><tspan font-style="italic" dy="-7" font-size="11">-/-</tspan></text>
<text transform="translate(522,1460) rotate(-90)" font-size="20" text-anchor="middle">/<tspan font-style="italic">H1wt</tspan> GCB)</text>
<text x="938.8" y="762" class="pl">g</text>
<rect x="1018.4" y="778.9" width="146.8" height="290.8" fill="#eeeef6" />
<rect x="1193.1" y="778.9" width="146.9" height="290.8" fill="#fcf1ef" />
<path d="M1125 1070h0m9 0h0m11 0h0m2 0h0m5 0h0m1 0h0m1 0h0m3 0h0m2 0h0m3 0h0m1 0h0m2 0h0m2 0h0m1 0h0m25 0h0m1 0h0m1 0h0m2 0h0m2 0h0m2 0h0m23 0h0m3 0h0m5 0h0m5 0h0m24 3h0m-23-1h0m-2 1h0m-5-1h0m-3 1h0m-1-2h0m-1 2h0m-2-2h0m-3 1h0m-1-1h0m-1 2h0m0-1h0m0-1h0m-1 1h0m0-1h0m-1 2h0m-1 0h0m0-2h0m-1 2h0m-1-2h0m0 2h0m-1 0h0m-1-1h0m-1 1h0m0-1h0m-1 1h0m0-1h0m0-1h0m-1 0h0m0 2h0m-1-1h0m0-1h0m-1 2h0m0-1h0m0-1h0m-1 0h0m0 2h0m0-1h0m-1 1h0m0-1h0m0-1h0m-1 1h0m0-1h0m0 2h0m-1-2h0m0 2h0m0-1h0m-1 1h0m0-1h0m0-1h0m-1 0h0m0 2h0m0-1h0m-1 1h0m0-1h0m0-1h0m-1 2h0m0-2h0m-1 0h0m0 1h0m-1 1h0m0-2h0m-1 0h0m0 2h0m-1 0h0m0-1h0m0-1h0m-1 1h0m0-1h0m-1 0h0m0 1h0m-1-1h0m0 2h0m0-1h0m-1 1h0m0-1h0m0-1h0m-1 0h0m0 2h0m0-1h0m-1 1h0m0-1h0m-1 1h0m-1 0h0m-1 0h0m-14 0h0m-1 0h0m-1 0h0m0-1h0m-1 1h0m0-1h0m0-1h0m-1 0h0m0 1h0m-1 1h0m0-1h0m0-1h0m-1 1h0m0-1h0m0 2h0m-1-1h0m0-1h0m0 2h0m-1 0h0m0-1h0m0-1h0m-1 0h0m0 2h0m0-1h0m-1 1h0m0-1h0m0-1h0m-1 2h0m0-1h0m-1 0h0m0-1h0m0 2h0m-1 0h0m0-2h0m-1 1h0m0-1h0m0 2h0m-1-2h0m0 2h0m0-1h0m-1 1h0m0-1h0m0-1h0m-1 1h0m0-1h0m0 2h0m-1 0h0m0-1h0m-1 1h0m0-2h0m-1 0h0m0 2h0m0-1h0m-1 1h0m0-1h0m0-1h0m-1 2h0m-1-1h0m0-1h0m-1 0h0m-1 0h0m0 2h0m-1 0h0m-2-1h0m0-1h0m-1 2h0m0-1h0m-1 1h0m0-1h0m-1-1h0m0 2h0m0-1h0m-1 1h0m-2 0h0m-1 0h0m0-1h0m-1-1h0m0 2h0m-1-2h0m0 1h0m-1-1h0m-1 0h0m-1 2h0m-1-1h0m-1 0h0m0-1h0m-4 0h0m-2 1h0m-3-1h0m-15 3h0m7 0h0m7 0h0m8 1h0m0-1h0m1 0h0m0 2h0m1 0h0m2-2h0m3 1h0m3 1h0m1 0h0m0-2h0m1 0h0m0 1h0m1 1h0m1-2h0m0 2h0m0-1h0m2 1h0m0-1h0m1 1h0m0-1h0m1 1h0m0-2h0m1 2h0m0-2h0m1 0h0m0 1h0m1 1h0m0-1h0m0-1h0m1 2h0m0-1h0m0-1h0m1 2h0m0-1h0m1 1h0m0-2h0m1 0h0m0 2h0m0-1h0m1 1h0m1 0h0m0-1h0m1-1h0m0 2h0m0-1h0m1 0h0m0-1h0m1 1h0m0-1h0m1 0h0m0 2h0m0-1h0m1 1h0m0-1h0m0-1h0m1 0h0m0 2h0m0-1h0m1-1h0m0 2h0m0-1h0m1 1h0m0-1h0m0-1h0m1 2h0m0-1h0m0-1h0m1 1h0m0-1h0m1 2h0m0-1h0m0-1h0m1 2h0m0-1h0m1 1h0m0-1h0m0-1h0m1 2h0m0-1h0m1-1h0m0 2h0m0-1h0m1 1h0m0-1h0m0-1h0m1 0h0m0 2h0m0-1h0m1 1h0m0-1h0m0-1h0m1 2h0m0-1h0m0-1h0m1 2h0m0-1h0m1 1h0m1 0h0m5 0h0m1 0h0m0-1h0m1 1h0m0-1h0m1 1h0m0-1h0m0-1h0m1 0h0m0 2h0m0-1h0m1 1h0m0-1h0m0-1h0m1 2h0m0-1h0m0-1h0m1 0h0m0 2h0m0-1h0m1 1h0m0-1h0m0-1h0m1 2h0m0-1h0m0-1h0m1 0h0m0 2h0m1 0h0m0-1h0m0-1h0m1 0h0m0 2h0m0-1h0m1 0h0m0-1h0m0 2h0m2 0h0m0-1h0m0-1h0m1 2h0m0-1h0m0-1h0m1 2h0m1-2h0m0 2h0m0-1h0m1 1h0m1 0h0m0-2h0m1 2h0m0-1h0m0-1h0m1 2h0m0-2h0m1 2h0m0-2h0m1 2h0m0-1h0m0-1h0m1 2h0m0-1h0m0-1h0m1 2h0m0-1h0m1 0h0m0-1h0m1 2h0m0-2h0m1 1h0m0-1h0m1 2h0m0-1h0m0-1h0m1 2h0m0-1h0m1 1h0m0-1h0m1 1h0m0-1h0m1 0h0m1 1h0m0-1h0m1 0h0m1 0h0m1-1h0m1 1h0m1-1h0m0 2h0m1 0h0m1 0h0m1-1h0m1-1h0m3 2h0m0-1h0m0-1h0m1 0h0m3 0h0m0 2h0m2 0h0m1-1h0m1-1h0m7 2h0m-1 1h0m-2 0h0m-3 0h0m-3 0h0m-8 1h0m0-1h0m-3 0h0m-4 0h0m-1 1h0m0-1h0m-1 0h0m-1 0h0m-1 1h0m0-1h0m-1 0h0m-1 1h0m0-1h0m-1 0h0m-1 0h0m-1 1h0m0-1h0m-1 0h0m-1 1h0m0-1h0m-1 1h0m0-1h0m-1 0h0m-1 1h0m0-1h0m-1 1h0m0-1h0m-1 1h0m0-1h0m-1 0h0m-1 1h0m0-1h0m-1 1h0m0-1h0m-1 0h0m-1 1h0m0-1h0m-1 0h0m-1 0h0m-1 0h0m0 1h0m-1 0h0m0-1h0m-1 1h0m0-1h0m-1 1h0m0-1h0m-1 1h0m0-1h0m-1 1h0m0-1h0m-1 1h0m0-1h0m-1 1h0m0-1h0m-1 0h0m0 1h0m-1 0h0m0-1h0m-1 1h0m0-1h0m-1 0h0m0 1h0m-1 0h0m0-1h0m-1 1h0m0-1h0m-1 1h0m0-1h0m-1 1h0m0-1h0m-1 1h0m0-1h0m-1 1h0m0-1h0m-1 1h0m0-1h0m-1 0h0m0 1h0m-1 0h0m0-1h0m-1 1h0m0-1h0m-1 1h0m0-1h0m-1 1h0m0-1h0m-1 1h0m0-1h0m-1 1h0m0-1h0m-1 1h0m0-1h0m-1 1h0m0-1h0m-1 1h0m0-1h0m-1 1h0m0-1h0m-1 1h0m0-1h0m-1 1h0m0-1h0m-1 0h0m-1 1h0m0-1h0m-1 1h0m0-1h0m-1 1h0m0-1h0m-1 1h0m0-1h0m-1 1h0m0-1h0m-1 0h0m0 1h0m-2 0h0m0-1h0m-1 1h0m0-1h0m-1 1h0m0-1h0m-1 1h0m0-1h0m-1 0h0m-1 1h0m0-1h0m-1 1h0m0-1h0m-1 0h0m-1 1h0m0-1h0m-1 0h0m0 1h0m-2-1h0m-2 0h0m-1 0h0m-1 1h0m-1 0h0m0-1h0m-1 0h0m0 1h0m-2-1h0m-1 0h0m-1 1h0m0-1h0m-2 0h0m-3 1h0m-1-1h0m-4 0h0m-2 1h0m0-1h0m-11 0h0m-4 1h0" stroke="#151515" stroke-width="1.4" stroke-linecap="square" stroke-opacity="0.8"/>
<path d="M1272 1073h0m-1 0h0m-3 0h0m-12 0h0m-1 0h0m-16 0h0m-3 0h0m-6 0h0m-1 0h0m-15 0h0m-18 0h0m-4 0h0m-18 0h0m-10 0h0m-15 0h0m-10 0h0m-4 0h0m-22 0h0m-8 0h0m-15 0h0m-8 0h0m-1 0h0m-19 0h0m-19 0h0m-19 2h0m1-1h0m1 2h0m1-2h0m1 2h0m1 0h0m2-1h0m1 1h0m0-2h0m1 1h0m0-1h0m1 1h0m4-1h0m1 0h0m1 2h0m1-1h0m1 0h0m2-1h0m1 0h0m0 1h0m1-1h0m1 0h0m2 0h0m1 1h0m1 0h0m2 0h0m0-1h0m0 2h0m1-2h0m3 0h0m3 2h0m0-1h0m1 1h0m2-1h0m2 0h0m1-1h0m1 2h0m1 0h0m0-2h0m1 0h0m4 2h0m2-2h0m0 1h0m2 1h0m1-1h0m6 1h0m1-2h0m1 2h0m0-2h0m1 1h0m0-1h0m1 1h0m1 1h0m0-2h0m1 2h0m1-2h0m2 1h0m1 1h0m2 0h0m1-2h0m1 1h0m1-1h0m2 0h0m5 2h0m0-2h0m3 1h0m1 1h0m1-1h0m1 1h0m0-1h0m3 0h0m2 1h0m1 0h0m1 0h0m2-2h0m2 0h0m1 1h0m3 1h0m3 0h0m1-1h0m2 1h0m1-2h0m0 1h0m3 1h0m1-1h0m0-1h0m1 0h0m1 0h0m2 0h0m1 2h0m2 0h0m0-1h0m2-1h0m3 2h0m2-1h0m0-1h0m1 0h0m3 2h0m1-1h0m0-1h0m3 2h0m2-2h0m1 0h0m1 1h0m0-1h0m1 2h0m1-2h0m5 2h0m1 0h0m0-1h0m1 0h0m1 1h0m0-2h0m1 1h0m0-1h0m2 2h0m0-2h0m1 0h0m2 2h0m1 0h0m0-1h0m2 0h0m1-1h0m1 1h0m1 1h0m2-1h0m7 1h0m2-1h0m1-1h0m1 1h0m1-1h0m0 2h0m0-1h0m1 1h0m0-1h0m2 0h0m1 1h0m0-1h0m4 1h0m0-2h0m1 1h0m1 0h0m3 1h0m2 0h0m0-2h0m2 2h0m1-1h0m1 1h0m1-2h0m1 0h0m1 1h0m0 1h0m1-2h0m4 1h0m1 0h0m0-1h0m2 2h0m1-1h0m1-1h0m5 0h0m1 1h0m2 1h0m3 0h0m1-1h0m2 0h0m2-1h0m1 1h0m0-1h0m1 2h0m1-1h0m1 1h0m0-1h0m1 0h0m1 0h0m0-1h0m1 1h0m2 1h0m0-1h0m2 0h0m1 0h0m0 1h0m2 0h0m0-2h0m1 2h0m2 0h0m0-1h0m0-1h0m1 2h0m1 0h0m1-2h0m1 0h0m2 1h0m1 0h0m1-1h0m1 1h0m2 1h0m1 0h0m1-1h0m0-1h0m1 1h0m0-1h0m0 2h0m2-1h0m1 3h0m0-1h0m-1 1h0m-1 0h0m-4-1h0m-2 1h0m-1-1h0m-3 1h0m-1 0h0m0-1h0m-1 1h0m0-1h0m-2 0h0m-1 1h0m-2-1h0m-2 1h0m0-1h0m-2 0h0m-1 1h0m-3-1h0m-1 0h0m0 1h0m-1 0h0m-3-1h0m-3 1h0m-1-1h0m-3 1h0m-1 0h0m-2 0h0m0-1h0m-5 1h0m-1 0h0m-4-1h0m-1 1h0m-3-1h0m-1 1h0m-3 0h0m0-1h0m-2 0h0m-3 1h0m0-1h0m-3 1h0m0-1h0m-2 0h0m-2 1h0m-1 0h0m-1 0h0m0-1h0m-1 1h0m-1-1h0m-1 0h0m-1 1h0m-2-1h0m-1 1h0m-4-1h0m-1 1h0m-1 0h0m-4-1h0m-1 1h0m-1 0h0m0-1h0m-2 1h0m0-1h0m-1 1h0m-1-1h0m-2 0h0m-2 1h0m0-1h0m-8 0h0m-1 0h0m-2 0h0m-1 0h0m-5 0h0m-1 0h0m-1 0h0m-2 1h0m-1-1h0m-1 0h0m-2 0h0m-1 1h0m-2-1h0m-1 1h0m-3-1h0m-1 1h0m-1-1h0m-1 0h0m-4 1h0m0-1h0m-2 0h0m-1 0h0m0 1h0m-1-1h0m-1 0h0m-1 0h0m-1 1h0m-1-1h0m-3 1h0m-1-1h0m-3 0h0m-2 1h0m-1 0h0m0-1h0m-1 1h0m-6-1h0m-2 0h0m-5 0h0m-1 1h0m-4-1h0m-2 0h0m-1 1h0m-1 0h0m-2 0h0m-1-1h0m-1 1h0m-6 0h0m-5 0h0m-1 0h0m-5-1h0m-1 0h0m-1 0h0m-2 0h0m-2 0h0m-1 0h0m0 1h0m-1 0h0m-1-1h0m-1 0h0m-1 1h0m0-1h0m-2 1h0m0-1h0m-2 1h0m-5-1h0m0 1h0m-1-1h0m-4 1h0m0-1h0m-1 0h0m-1 0h0m-1 1h0m-1-1h0m0 1h0m-1-1h0m-2 0h0m-2 0h0m-1 1h0m0-1h0m-2 0h0m0 1h0m-3-1h0m-2 0h0m-7 1h0m0-1h0m-2 1h0" stroke="#a8a8a8" stroke-width="1" stroke-linecap="square"/>
<path d="M1018.4 1063.5h0.01M1018.4 1069.2h0.01M1049.8 1063.5h0.01M1093.3 1066.9h0.01M1099.7 1068.6h0.01M1112.5 1065.2h0.01M1120.5 1068.6h0.01M1121 1069.8h0.01M1122.8 1062.9h0.01M1164.5 1062.3h0.01M1163.4 1066.9h0.01M1158.5 1063.9h0.01M1156.5 1069h0.01M1152.2 1067.5h0.01M1160.7 1066.6h0.01M1146.3 1065.5h0.01M1157.7 1066.3h0.01M1145.1 1066h0.01M1151.2 1069.8h0.01M1142 1069.6h0.01M1149.4 1069.8h0.01M1157.2 1066.7h0.01M1137.8 1065.7h0.01M1157.9 1070h0.01M1156.3 1067.6h0.01M1161.4 1063.5h0.01M1152.7 1064.8h0.01M1139.4 1065.3h0.01M1155.2 1065.2h0.01M1147.5 1069.2h0.01M1145.3 1069.5h0.01M1154 1065.9h0.01M1152.8 1064.8h0.01M1142.5 1066.5h0.01M1158.3 1066.3h0.01M1139 1068.9h0.01M1143.2 1068.8h0.01" stroke="#27348b" stroke-width="4.6" stroke-linecap="round"/>
<path d="M1298.7 845h0.01M1271 878.8h0.01M1303.3 876.5h0.01M1260 916.6h0.01M1285.9 919.5h0.01M1306.5 909.2h0.01M1295.3 974.6h0.01M1278.3 994.1h0.01M1250.6 999.8h0.01M1242.8 1000.4h0.01M1264.6 1001h0.01M1309.7 1012.4h0.01M1312.7 1038.2h0.01M1312.7 1043.4h0.01M1296.4 1040.5h0.01M1287.5 1026.2h0.01M1284.5 1031.3h0.01M1278.3 1024.5h0.01M1293.9 1060.6h0.01M1232.1 1017h0.01M1227.5 1021.6h0.01M1236.7 1015.9h0.01M1248.1 1021.6h0.01M1256.1 1020.4h0.01M1242.4 1011.8h0.01M1243.5 1009h0.01M1271 1031.9h0.01M1273.3 1037.7h0.01M1266.4 1034.2h0.01M1282.5 1047.4h0.01M1287 1061.7h0.01M1289.3 1063.5h0.01M1277.9 1069.2h0.01M1273.3 1069.2h0.01M1268.7 1069.2h0.01M1284.7 1062.9h0.01M1237.3 1065.8h0.01M1198.2 1065.7h0.01M1196.7 1063.5h0.01M1201.7 1067.3h0.01M1219 1059h0.01M1250.2 1069.2h0.01M1199.2 1064.5h0.01M1213.2 1066.4h0.01M1217.1 1055.5h0.01M1197.9 1055.6h0.01M1228.4 1037.8h0.01M1220.6 1065.6h0.01M1228.5 1069.4h0.01M1233.7 1063.5h0.01M1208 1060.1h0.01M1251.1 1040.1h0.01M1217.8 1048.3h0.01M1217.1 1006.2h0.01M1219.6 1062h0.01M1214.5 1064.4h0.01M1212.7 1052.9h0.01M1205.1 1069.1h0.01M1218.7 1057.8h0.01M1211.6 1062.3h0.01M1201.8 1065.6h0.01M1222.9 1063h0.01M1220.7 1065h0.01M1198.1 1064.8h0.01M1203.5 1069.4h0.01M1207.8 1057.3h0.01M1219.2 1055.2h0.01M1272.5 1055.2h0.01M1259.7 1068.6h0.01M1201.7 1060.6h0.01M1248.2 1061h0.01M1207.3 1064.8h0.01M1197.2 1060.6h0.01M1224.6 1041.2h0.01M1219.7 1057.5h0.01M1202.1 1064.6h0.01M1218.2 1061.3h0.01M1227.7 1067.2h0.01M1206.4 1055.7h0.01M1208.7 1067.4h0.01M1195.7 1053.7h0.01M1222.2 1065.7h0.01M1196 1063.3h0.01M1196.2 1066.7h0.01M1201.4 1068.7h0.01M1227.8 1068.2h0.01M1202.7 1067.2h0.01M1225.9 1046.8h0.01M1225.3 1064h0.01M1235.3 1067.3h0.01M1212.1 1068.9h0.01M1199.8 1056.9h0.01M1204 1050.4h0.01M1274.6 1047.3h0.01M1195.1 1063.6h0.01M1199.2 1065.6h0.01M1200.7 1067.1h0.01M1203.7 1056.6h0.01M1199.1 1068.4h0.01M1234.8 1060.9h0.01M1197.6 1057h0.01M1203.2 1068h0.01M1214.6 1033.9h0.01M1217.2 1054.9h0.01M1206.5 1063.9h0.01M1208.8 1067.8h0.01M1201.5 1066.2h0.01M1251.2 1057.3h0.01M1213.7 1061.7h0.01M1205.3 1060.8h0.01M1206.5 1061.6h0.01M1230.9 1050.5h0.01M1203.7 1058.2h0.01M1251.1 1064.4h0.01M1207.6 1012.5h0.01M1206.8 1069.4h0.01M1209.1 1044.6h0.01M1238.1 1065.8h0.01M1205.2 1067h0.01M1195.4 1069.1h0.01M1231.4 1059.2h0.01M1203.2 1048.9h0.01M1216.8 1066.3h0.01M1195.8 1063.5h0.01M1200.8 1067.2h0.01M1209.7 1065.1h0.01M1247.8 1024.4h0.01M1225.9 1063.2h0.01M1222.1 1066.6h0.01M1209.7 1046.9h0.01M1215.7 1065.1h0.01M1223.8 1005.7h0.01M1237.9 1056.1h0.01M1216.2 1067.2h0.01M1211.9 1066.5h0.01M1208.2 1060.1h0.01M1200 1063.6h0.01M1221 1067.2h0.01M1205.6 1028.7h0.01M1212.4 1060.2h0.01M1195.9 1065.3h0.01M1199.5 1069.5h0.01M1202.8 1058.4h0.01M1219.6 1058.7h0.01M1205.5 1061h0.01M1204.5 1048.3h0.01M1230 1064.7h0.01M1225.9 1062.8h0.01M1195.8 1066.4h0.01M1199.7 1058.4h0.01M1237 1065h0.01M1226.5 1057.4h0.01M1222 1065.6h0.01M1208.3 1064.4h0.01M1201.6 1067.4h0.01M1228.6 1066.8h0.01M1220.6 1053.9h0.01M1237.3 1068h0.01M1200.3 1065h0.01M1241.1 1044.7h0.01M1241.8 1030.3h0.01M1235.3 1042.6h0.01M1209.3 1060.8h0.01M1206.9 1060h0.01M1217 1064.5h0.01M1210.5 1067.8h0.01M1217.1 1061.4h0.01M1218.3 1065.1h0.01M1220.6 1063.9h0.01M1213.4 1062.2h0.01M1256.6 1064.1h0.01M1218.7 1062.3h0.01M1231.1 1064.7h0.01M1204.9 1066.2h0.01M1207.3 1060.7h0.01M1208 1060.1h0.01M1227.2 1068.9h0.01M1227.6 1058h0.01M1235.1 1062.1h0.01M1205.5 1057.5h0.01M1221.6 1065.2h0.01M1223.7 1048.7h0.01M1208.8 1067.7h0.01M1195.3 1061.8h0.01M1226.4 1050.1h0.01M1231.1 1065.7h0.01M1206.2 1066.3h0.01M1240.1 1053.3h0.01M1203.5 1051.6h0.01M1211.9 1064.5h0.01M1197.4 1063.2h0.01M1249.1 1021.8h0.01M1236 1041h0.01M1209.9 1063.1h0.01M1206.7 1058.4h0.01M1197.1 1048.3h0.01M1196.5 1065.8h0.01M1215.5 1065.5h0.01M1204.4 1066h0.01M1196.1 1054.5h0.01M1219.2 1067.2h0.01M1269.7 1044.6h0.01M1205 1051.5h0.01M1238.2 1066.4h0.01M1199.8 1063.5h0.01M1210.2 1050.8h0.01M1252.5 1056.2h0.01M1205.9 1068.4h0.01M1241.8 1056.3h0.01M1230.1 1065.3h0.01M1233 1038.7h0.01M1204.1 1065.5h0.01M1207.1 1065.7h0.01M1212.3 1068.7h0.01M1233.1 1061.6h0.01M1214.6 1068h0.01M1242.9 1064.6h0.01M1203.1 1059.6h0.01M1214.7 1067.4h0.01M1247.9 1035.5h0.01M1218.1 1046.1h0.01M1197.5 1066.3h0.01M1199.6 1066.8h0.01M1196.8 1062h0.01M1240.7 1062.6h0.01M1210.4 1034.8h0.01M1233.5 1028.5h0.01M1225.3 1038.6h0.01M1197.8 1044.5h0.01M1242.5 1053.8h0.01M1214.6 1064.9h0.01M1197.5 1050.3h0.01M1211.5 1069h0.01M1221.5 1059.7h0.01M1237.2 1054.6h0.01M1226.7 1059.6h0.01M1203.5 1060.2h0.01M1197.3 1049.9h0.01M1228.4 1046.7h0.01M1197.9 1066.4h0.01M1207.8 1068.4h0.01M1210 1069.2h0.01M1216.5 1053.6h0.01M1221.9 1061.9h0.01M1205.3 1051h0.01M1202.9 1064.3h0.01M1214.7 1042.7h0.01M1197.5 1066.4h0.01M1196.9 1066.7h0.01M1273.8 1061.7h0.01M1200.4 1064h0.01M1229.9 1048.3h0.01M1215 1056.9h0.01M1227.6 1064.2h0.01M1206.3 1051.2h0.01M1240.1 1067.1h0.01M1215 1017.6h0.01M1199 1066.8h0.01M1202.4 1055.6h0.01M1217 1068.1h0.01M1227.2 1039.8h0.01M1269.2 1064.5h0.01M1204.6 1058.9h0.01M1231.4 1051.2h0.01M1212.4 1066h0.01M1225 1062.7h0.01M1222.5 1057.4h0.01M1217.1 1068.2h0.01M1210.8 1062.4h0.01M1216 1066.6h0.01M1214.8 1061.4h0.01M1219.1 1052.7h0.01M1210.3 1061.3h0.01M1211.7 1069.3h0.01M1209.9 1066.4h0.01M1200.3 1068.4h0.01M1203.9 1058.7h0.01M1209.1 1065.8h0.01M1200.7 1061.5h0.01M1233.5 1058.7h0.01M1197.9 1064h0.01M1245.4 1053.1h0.01M1221.1 1050.4h0.01M1197.1 1040.3h0.01M1196 1052.6h0.01M1207.4 1061.2h0.01M1211.3 1068.5h0.01M1202 1058h0.01M1217.3 1067h0.01M1228.1 1058.7h0.01M1206.1 1055.1h0.01M1214.9 1061h0.01M1197.1 1066.6h0.01M1208.5 1069.1h0.01M1245 1040.7h0.01M1216.7 1063.6h0.01M1221.3 1065h0.01M1216.5 1068.8h0.01M1195.7 1069.3h0.01M1200.2 1062.4h0.01M1223.6 1048.1h0.01M1216.8 1050.2h0.01M1202.5 1055.1h0.01M1204.5 1055.8h0.01M1196.8 1063.7h0.01M1232.8 1059.6h0.01M1199.3 1064.8h0.01M1232.4 1055.2h0.01M1235.5 1065.5h0.01M1203.1 1066.5h0.01M1197.6 1069h0.01M1197.2 1066.1h0.01M1218.6 1053.3h0.01M1215.3 1067.2h0.01M1223.3 1066.3h0.01M1212.4 1059h0.01M1199.8 1067.7h0.01M1215.1 1030.3h0.01M1198.4 1068.5h0.01M1227.2 1048.7h0.01M1226.7 1066.7h0.01M1208.5 1065.5h0.01M1247.3 1053.6h0.01M1222.4 1023.8h0.01M1222.7 1066.1h0.01M1201.5 1062.5h0.01M1218.4 1069h0.01M1207.9 1059.9h0.01M1198.6 1054.4h0.01M1283.1 1059h0.01M1205.7 1064.7h0.01M1197.3 1061.5h0.01M1202.1 1055.5h0.01M1216.8 1058.8h0.01M1245.2 1053.6h0.01M1261.4 1047.7h0.01M1213.7 1041.1h0.01M1223.4 1042h0.01M1199.8 1066.4h0.01M1225.8 1057.6h0.01M1223.5 1063.8h0.01M1235 1059.8h0.01M1228.8 1052.9h0.01M1199.4 1062h0.01M1241.6 1067.5h0.01M1203.7 1069.1h0.01M1214.6 1058.7h0.01M1230.4 1067.2h0.01M1209.2 1063h0.01M1225.9 1069.2h0.01M1197.6 1068h0.01M1201.9 1068.9h0.01M1204.9 1065.5h0.01M1198.5 1067.4h0.01M1201.8 1056.5h0.01M1204.1 1062.9h0.01M1220.6 1051.3h0.01M1249.4 1017.3h0.01M1249.3 1054.9h0.01M1228.2 1056.2h0.01M1199.1 1068.7h0.01M1206.4 1068h0.01M1202.7 1046.9h0.01M1260.8 1030.9h0.01M1219.1 1048.5h0.01M1210.7 1060.9h0.01M1217.4 1022.3h0.01M1197.1 1060h0.01M1208 1065h0.01M1225.9 1058.7h0.01M1209 1067.6h0.01M1227.6 1065.7h0.01M1197.9 1067.3h0.01M1214 1063.3h0.01M1194.9 1063.5h0.01M1209.2 1058.6h0.01M1214.3 1030.9h0.01M1228.1 1050.8h0.01M1198.2 1059h0.01M1257.5 1041.6h0.01M1263.3 1063.8h0.01M1198.9 1068.8h0.01M1220.5 1062.5h0.01M1209.9 1065.8h0.01M1231.6 1068.4h0.01M1221.2 1037.2h0.01M1205.8 1037.8h0.01M1210.9 1068.6h0.01M1235.2 1042h0.01M1227.8 1067.4h0.01M1213.8 1069.1h0.01M1208.5 1060.8h0.01M1219.2 1057.4h0.01M1203.4 1060.2h0.01M1234.8 1067.3h0.01M1253.1 1069.4h0.01M1225.2 1061.7h0.01M1208.4 1062.4h0.01M1288.2 1069h0.01M1225.2 1040.1h0.01M1214 1053.7h0.01M1219.3 1068.4h0.01M1200.3 1068.1h0.01M1199.8 1063.6h0.01M1219.4 1061.1h0.01M1197.5 1062h0.01M1195.9 1053.2h0.01M1208.1 1068.7h0.01M1197.7 1064.9h0.01M1196.9 1056.8h0.01M1230.9 1063.6h0.01M1197.1 1039.3h0.01M1202.5 1067.9h0.01M1267.1 1035.9h0.01M1228.1 1033.9h0.01M1195.1 1064.8h0.01M1215.5 1058.8h0.01M1202.4 1062.5h0.01" stroke="#c8372d" stroke-width="4.6" stroke-linecap="round"/>
<rect x="1018.4" y="778.9" width="321.6" height="309.4" fill="none" stroke="#222" stroke-width="1.3"/>
<text x="1028.9" y="796.3" font-size="20">n=36</text>
<circle cx="1268.5" cy="790" r="2.4" fill="#c8372d"/>
<text x="1280" y="796.3" font-size="20.3">n=417</text>
<path d="M1011 1077.8L1018.4 1077.8" stroke="#222" stroke-width="1.2" />
<text transform="translate(1006.5,1077.8) rotate(-90)" font-size="19.5" text-anchor="middle">0</text>
<path d="M1011 1020.4L1018.4 1020.4" stroke="#222" stroke-width="1.2" />
<text transform="translate(1006.5,1020.4) rotate(-90)" font-size="19.5" text-anchor="middle">10</text>
<path d="M1011 963.1L1018.4 963.1" stroke="#222" stroke-width="1.2" />
<text transform="translate(1006.5,963.1) rotate(-90)" font-size="19.5" text-anchor="middle">20</text>
<path d="M1011 905.8L1018.4 905.8" stroke="#222" stroke-width="1.2" />
<text transform="translate(1006.5,905.8) rotate(-90)" font-size="19.5" text-anchor="middle">30</text>
<path d="M1011 848.4L1018.4 848.4" stroke="#222" stroke-width="1.2" />
<text transform="translate(1006.5,848.4) rotate(-90)" font-size="19.5" text-anchor="middle">40</text>
<path d="M1011 791L1018.4 791" stroke="#222" stroke-width="1.2" />
<text transform="translate(1006.5,791) rotate(-90)" font-size="19.5" text-anchor="middle">50</text>
<text transform="translate(980,933.6) rotate(-90)" font-size="20.5" text-anchor="middle">−log10(q−value)</text>
<path d="M1042 1088.3L1042 1095.3" stroke="#222" stroke-width="1.2" />
<text x="1042" y="1112.7" font-size="19.5" text-anchor="middle">−6</text>
<path d="M1087.8 1088.3L1087.8 1095.3" stroke="#222" stroke-width="1.2" />
<text x="1087.8" y="1112.7" font-size="19.5" text-anchor="middle">−4</text>
<path d="M1133.6 1088.3L1133.6 1095.3" stroke="#222" stroke-width="1.2" />
<text x="1133.6" y="1112.7" font-size="19.5" text-anchor="middle">−2</text>
<path d="M1179.4 1088.3L1179.4 1095.3" stroke="#222" stroke-width="1.2" />
<text x="1179.4" y="1112.7" font-size="19.5" text-anchor="middle">0</text>
<path d="M1225.2 1088.3L1225.2 1095.3" stroke="#222" stroke-width="1.2" />
<text x="1225.2" y="1112.7" font-size="19.5" text-anchor="middle">2</text>
<path d="M1271 1088.3L1271 1095.3" stroke="#222" stroke-width="1.2" />
<text x="1271" y="1112.7" font-size="19.5" text-anchor="middle">4</text>
<path d="M1316.8 1088.3L1316.8 1095.3" stroke="#222" stroke-width="1.2" />
<text x="1316.8" y="1112.7" font-size="19.5" text-anchor="middle">6</text>
<text x="1182.5" y="1138.3" font-size="20.6" text-anchor="middle">log2(H1C/E doublemut / WT DLBCL)</text>
<path d="M12.3 0.3C15 0.3 17 1.6 17 4.6L17 10.4C16.2 11.2 15 11.7 14.3 12.1L14.5 13.4C16.5 14.4 19.5 15.3 21.2 17C21.9 17.8 22.3 18.8 22.4 19.8L23.5 35.1L24.3 45C24.4 46.6 23.7 48.3 22.9 48.3C22 48.3 21.2 47.2 21 46.1L20.1 35.1L18.6 23.6C18.2 27 17.6 31 17.6 34C18.5 36 19.6 38 19.5 40.6C19.3 44 18.9 48 18.9 51.6C18.8 55 17.8 59 17.6 62.6C17.8 65.5 18.3 68 18.2 70.8C18 74 17.2 77 17.1 79.1C18.5 80.5 20.5 81.5 21 82.6C20.6 84 19 84.6 17.6 84.4C16.4 84.2 15.3 83 14.8 81.3L14.8 76.3C14.4 72 13.8 67 13.4 62.6C13 58 12.6 54 12.3 51.6C12 54 11.6 58 11.2 62.6C10.8 67 10.2 72 9.8 76.3L9.8 81.3C9.3 83 8.2 84.4 6.7 84.5C5.4 84.5 3.8 84 4.2 82.9C4.8 81.5 6.6 80.3 7.5 79.1C7.4 77 6.6 74 6.4 70.8C6.3 68 6.8 65.5 7 62.6C6.8 59 5.8 55 5.7 51.6C5.7 48 5.3 44 5.1 40.6C5 38 6.1 36 7 34C7 31 6.4 27 6 23.6L4.5 35.1L3.6 46.1C3.4 47.2 2.6 48.3 1.7 48.3C0.9 48.3 0.2 46.6 0.3 45L1.1 35.1L2.2 19.8C2.3 18.8 2.7 17.8 3.4 17C5.1 15.3 8.1 14.4 10.1 13.4L10.3 12.1C9.6 11.7 8.4 11.2 7.6 10.4L7.6 4.6C7.6 1.6 9.6 0.3 12.3 0.3Z" fill="#a7a7ab" stroke="#3c3c3c" stroke-width="1.2" transform="translate(959,1045.3) scale(0.8537,0.8664)"/>
<text x="938.9" y="1186.6" class="pl">h</text>
<text x="1185.7" y="1197.7" font-size="20.7" text-anchor="middle">H1C/E doublemut DLBCL UP</text>
<text x="1185" y="1222.1" font-size="20.7" text-anchor="middle">vs <tspan font-style="italic">H1c</tspan><tspan dy="-8" font-size="12">-/-</tspan><tspan dy="8" font-style="italic">/e</tspan><tspan dy="-8" font-size="12">-/-</tspan><tspan dy="8"> GCB, n=336</tspan></text>
<path d="M1056.5 1235.4L1056.5 1364.1" stroke="#222" stroke-width="1.1" />
<path d="M1051.5 1235.4L1056.5 1235.4" stroke="#222" stroke-width="1.1" />
<text x="1049.5" y="1240.6" font-size="14.5" text-anchor="end" fill="#222">0.6</text>
<path d="M1051.5 1256.8L1056.5 1256.8" stroke="#222" stroke-width="1.1" />
<path d="M1051.5 1278.3L1056.5 1278.3" stroke="#222" stroke-width="1.1" />
<text x="1049.5" y="1283.5" font-size="14.5" text-anchor="end" fill="#222">0.4</text>
<path d="M1051.5 1299.8L1056.5 1299.8" stroke="#222" stroke-width="1.1" />
<path d="M1051.5 1321.2L1056.5 1321.2" stroke="#222" stroke-width="1.1" />
<text x="1049.5" y="1326.4" font-size="14.5" text-anchor="end" fill="#222">0.2</text>
<path d="M1051.5 1342.6L1056.5 1342.6" stroke="#222" stroke-width="1.1" />
<path d="M1051.5 1364.1L1056.5 1364.1" stroke="#222" stroke-width="1.1" />
<text x="1049.5" y="1369.3" font-size="14.5" text-anchor="end" fill="#222">0.0</text>
<path d="M1056.5 1364.1L1333.8 1364.1" stroke="#222" stroke-width="1.2" />
<text transform="translate(1017,1302.5) rotate(-90)" font-size="20.5" text-anchor="middle">Enrichment score</text>
<path d="M12.3 0.3C15 0.3 17 1.6 17 4.6L17 10.4C16.2 11.2 15 11.7 14.3 12.1L14.5 13.4C16.5 14.4 19.5 15.3 21.2 17C21.9 17.8 22.3 18.8 22.4 19.8L23.5 35.1L24.3 45C24.4 46.6 23.7 48.3 22.9 48.3C22 48.3 21.2 47.2 21 46.1L20.1 35.1L18.6 23.6C18.2 27 17.6 31 17.6 34C18.5 36 19.6 38 19.5 40.6C19.3 44 18.9 48 18.9 51.6C18.8 55 17.8 59 17.6 62.6C17.8 65.5 18.3 68 18.2 70.8C18 74 17.2 77 17.1 79.1C18.5 80.5 20.5 81.5 21 82.6C20.6 84 19 84.6 17.6 84.4C16.4 84.2 15.3 83 14.8 81.3L14.8 76.3C14.4 72 13.8 67 13.4 62.6C13 58 12.6 54 12.3 51.6C12 54 11.6 58 11.2 62.6C10.8 67 10.2 72 9.8 76.3L9.8 81.3C9.3 83 8.2 84.4 6.7 84.5C5.4 84.5 3.8 84 4.2 82.9C4.8 81.5 6.6 80.3 7.5 79.1C7.4 77 6.6 74 6.4 70.8C6.3 68 6.8 65.5 7 62.6C6.8 59 5.8 55 5.7 51.6C5.7 48 5.3 44 5.1 40.6C5 38 6.1 36 7 34C7 31 6.4 27 6 23.6L4.5 35.1L3.6 46.1C3.4 47.2 2.6 48.3 1.7 48.3C0.9 48.3 0.2 46.6 0.3 45L1.1 35.1L2.2 19.8C2.3 18.8 2.7 17.8 3.4 17C5.1 15.3 8.1 14.4 10.1 13.4L10.3 12.1C9.6 11.7 8.4 11.2 7.6 10.4L7.6 4.6C7.6 1.6 9.6 0.3 12.3 0.3Z" fill="#a7a7ab" stroke="#3c3c3c" stroke-width="1.2" transform="translate(958.8,1252) scale(0.8577,0.8924)"/>
<path d="M1067.6 1359.4L1068.4 1349.1L1069.3 1340.5L1070.1 1332.2L1070.9 1328.5L1071.8 1321.1L1072.6 1317L1073.5 1312.9L1074.3 1305.6L1075.1 1303.1L1076 1302.5L1076.8 1301.2L1077.6 1301L1078.5 1301.5L1079.3 1299.8L1080.2 1301.9L1081 1298.9L1081.8 1300.1L1082.7 1298.4L1083.5 1295.4L1084.3 1289.9L1085.2 1287.8L1086 1285.3L1086.9 1279.2L1087.7 1279.2L1088.5 1273.9L1089.4 1274.7L1090.2 1272.7L1091 1273.3L1091.9 1269.6L1092.7 1271.1L1093.6 1269L1094.4 1266.5L1095.2 1266L1096.1 1264.4L1096.9 1260L1097.7 1258.2L1098.6 1254.8L1099.4 1254.5L1100.3 1252.8L1101.1 1252.3L1101.9 1250.8L1102.8 1249L1103.6 1247.5L1104.4 1248L1105.3 1246.2L1106.1 1246.8L1106.9 1245.4L1107.8 1243L1108.6 1242.4L1109.5 1243L1110.3 1241.2L1111.1 1241.6L1112 1241.3L1112.8 1240.9L1113.6 1240.4L1114.5 1238.9L1115.3 1237.8L1116.2 1236.8L1117 1237.7L1117.8 1238.9L1118.7 1235.4L1119.5 1237.8L1120.3 1235L1121.2 1235.5L1122 1236.1L1122.9 1237.7L1123.7 1236.1L1124.5 1237.7L1125.4 1238.1L1126.2 1238.4L1127 1237.9L1127.9 1238.6L1128.7 1239L1129.6 1239.6L1130.4 1239.3L1131.2 1239.5L1132.1 1238.1L1132.9 1239.6L1133.7 1240.8L1134.6 1242L1135.4 1243.2L1136.3 1241.7L1137.1 1241.8L1137.9 1241.5L1138.8 1243.4L1139.6 1241.9L1140.4 1242.4L1141.3 1243L1142.1 1243L1143 1245L1143.8 1244.5L1144.6 1244L1145.5 1245.3L1146.3 1244.5L1147.1 1245.9L1148 1245.9L1148.8 1245L1149.6 1245.6L1150.5 1246.3L1151.3 1245.8L1152.2 1247.5L1153 1247.1L1153.8 1247.5L1154.7 1247.7L1155.5 1248.5L1156.3 1249.2L1157.2 1249.7L1158 1250.3L1158.9 1250.9L1159.7 1250.9L1160.5 1250.8L1161.4 1251.8L1162.2 1251.5L1163 1252.6L1163.9 1252.9L1164.7 1253.5L1165.6 1254.1L1166.4 1254.2L1167.2 1254.3L1168.1 1255.7L1168.9 1257.3L1169.7 1256.3L1170.6 1257.7L1171.4 1258.7L1172.3 1259.2L1173.1 1259.7L1173.9 1260.1L1174.8 1262.1L1175.6 1261.9L1176.4 1262.8L1177.3 1263.4L1178.1 1263.3L1179 1264.5L1179.8 1265.6L1180.6 1265.8L1181.5 1266.3L1182.3 1266.7L1183.1 1267.9L1184 1268.4L1184.8 1269.7L1185.6 1269L1186.5 1270.5L1187.3 1270.8L1188.2 1272L1189 1272.6L1189.8 1273.4L1190.7 1274.2L1191.5 1274.4L1192.3 1274.6L1193.2 1275.9L1194 1276.4L1194.9 1277.4L1195.7 1277.5L1196.5 1278.8L1197.4 1279L1198.2 1280.1L1199 1280.5L1199.9 1281.2L1200.7 1281.8L1201.6 1282.1L1202.4 1282.9L1203.2 1284.1L1204.1 1284.6L1204.9 1285.1L1205.7 1285.7L1206.6 1286.6L1207.4 1286.6L1208.3 1287.4L1209.1 1288.9L1209.9 1290.1L1210.8 1290.1L1211.6 1290.5L1212.4 1291.6L1213.3 1291.6L1214.1 1292.6L1215 1293.8L1215.8 1293.9L1216.6 1294.8L1217.5 1295.4L1218.3 1295.5L1219.1 1297.2L1220 1297.2L1220.8 1298.1L1221.6 1299L1222.5 1299.1L1223.3 1300.3L1224.2 1300.8L1225 1301.3L1225.8 1302.4L1226.7 1302.6L1227.5 1303.3L1228.3 1304.4L1229.2 1304.6L1230 1307L1230.9 1307.1L1231.7 1307.8L1232.5 1308L1233.4 1309.1L1234.2 1310L1235 1310L1235.9 1311.5L1236.7 1312L1237.6 1312.8L1238.4 1313.4L1239.2 1314.3L1240.1 1315.4L1240.9 1316.1L1241.7 1316.8L1242.6 1317L1243.4 1318L1244.3 1318.4L1245.1 1319.5L1245.9 1320L1246.8 1320.7L1247.6 1321.1L1248.4 1321.4L1249.3 1322.9L1250.1 1323.3L1251 1324.1L1251.8 1324.7L1252.6 1324.9L1253.5 1326.3L1254.3 1327L1255.1 1327L1256 1328.2L1256.8 1328.3L1257.6 1329.9L1258.5 1330L1259.3 1330.4L1260.2 1330.5L1261 1331.1L1261.8 1332.6L1262.7 1332.7L1263.5 1333.3L1264.3 1334.3L1265.2 1335L1266 1335.5L1266.9 1335.8L1267.7 1336.6L1268.5 1337.2L1269.4 1337.8L1270.2 1337.9L1271 1339.2L1271.9 1339.5L1272.7 1340.3L1273.6 1341.2L1274.4 1341.7L1275.2 1341.6L1276.1 1342.9L1276.9 1342.9L1277.7 1344.2L1278.6 1344.3L1279.4 1345.7L1280.3 1345.4L1281.1 1346.5L1281.9 1347.1L1282.8 1347.2L1283.6 1348.1L1284.4 1349L1285.3 1349.6L1286.1 1350.5L1287 1351.5L1287.8 1351.9L1288.6 1352.6L1289.5 1352.7L1290.3 1353.7L1291.1 1354L1292 1354.6L1292.8 1355.5L1293.7 1356.1L1294.5 1357L1295.3 1357.3L1296.2 1358L1297 1358.3L1297.8 1359.4L1298.7 1359.6L1299.5 1360.8L1300.3 1361.2L1301.2 1361.6L1302 1362L1302.9 1362.7L1303.7 1363.5L1304.5 1363.3L1305.4 1364.3L1306.2 1364.5L1307 1365.9L1307.9 1365.7L1308.7 1366.4L1309.6 1367.1L1310.4 1367.8L1311.2 1367.7L1312.1 1368.9L1312.9 1369.1L1313.7 1369.7L1314.6 1370.7L1315.4 1370.9L1316.3 1371.3L1317.1 1371.7L1317.9 1372.1L1318.8 1372L1319.6 1372.7L1320.4 1372.9L1321.3 1372.6L1322.1 1372.8L1323 1372.3L1323.8 1372.5L1324.6 1371.7L1325.5 1371.1L1326.3 1367.8L1327.1 1366.5L1328 1365.8L1328.8 1365.3L1329.7 1365L1330.5 1364.5L1331.3 1364.4L1332.2 1364.6L1333 1364.2" fill="none" stroke="#6aad5e" stroke-width="3.8" stroke-linejoin="round" stroke-linecap="round"/>
<text x="1256.2" y="1261" font-size="20.6">NES=1.22</text>
<text x="1256.2" y="1283.1" font-size="20.6">FDR&lt;0.001</text>
<path d="M1068.1 1379.6V1391.9M1071.4 1379.6V1391.9M1073.9 1379.6V1391.9M1080.3 1379.6V1391.9M1080.8 1379.6V1391.9M1081.9 1379.6V1391.9M1084.2 1379.6V1391.9M1086.3 1379.6V1391.9M1091.8 1379.6V1391.9M1101.4 1379.6V1391.9M1109.3 1379.6V1391.9M1115.4 1379.6V1391.9M1137 1379.6V1391.9M1235.5 1379.6V1391.9M1240.6 1379.6V1391.9" stroke="rgb(16,16,16)" stroke-width="1.1"/>
<path d="M1078.8 1379.6V1391.9M1107.9 1379.6V1391.9M1135.2 1379.6V1391.9" stroke="rgb(32,32,32)" stroke-width="1.1"/>
<path d="M1067.9 1379.6V1391.9M1069.6 1379.6V1391.9M1080.7 1379.6V1391.9M1094.9 1379.6V1391.9M1098.6 1379.6V1391.9M1113.8 1379.6V1391.9M1115.4 1379.6V1391.9M1116.2 1379.6V1391.9M1126.5 1379.6V1391.9M1164.8 1379.6V1391.9M1165.1 1379.6V1391.9M1168.7 1379.6V1391.9M1174.8 1379.6V1391.9M1255.9 1379.6V1391.9" stroke="rgb(48,48,48)" stroke-width="1.1"/>
<path d="M1070.6 1379.6V1391.9M1113.2 1379.6V1391.9M1114.2 1379.6V1391.9M1118.6 1379.6V1391.9M1129.2 1379.6V1391.9M1151.9 1379.6V1391.9M1153.1 1379.6V1391.9M1153.5 1379.6V1391.9M1166.8 1379.6V1391.9M1196.3 1379.6V1391.9" stroke="rgb(64,64,64)" stroke-width="1.1"/>
<path d="M1086.4 1379.6V1391.9M1109.8 1379.6V1391.9M1130.8 1379.6V1391.9M1134.2 1379.6V1391.9M1135.7 1379.6V1391.9M1154.2 1379.6V1391.9M1194.6 1379.6V1391.9M1197 1379.6V1391.9M1202 1379.6V1391.9M1214 1379.6V1391.9M1228.5 1379.6V1391.9M1293.9 1379.6V1391.9" stroke="rgb(80,80,80)" stroke-width="1.1"/>
<path d="M1069.3 1379.6V1391.9M1107.9 1379.6V1391.9M1139.3 1379.6V1391.9M1143.4 1379.6V1391.9M1146.5 1379.6V1391.9M1167.7 1379.6V1391.9M1186.8 1379.6V1391.9M1189.1 1379.6V1391.9M1201.4 1379.6V1391.9M1211.4 1379.6V1391.9M1266.2 1379.6V1391.9M1274.4 1379.6V1391.9M1289.4 1379.6V1391.9M1298 1379.6V1391.9M1305 1379.6V1391.9M1308.3 1379.6V1391.9" stroke="rgb(96,96,96)" stroke-width="1.1"/>
<path d="M1116.6 1379.6V1391.9M1117.2 1379.6V1391.9M1140.6 1379.6V1391.9M1146.4 1379.6V1391.9M1163.1 1379.6V1391.9M1215.8 1379.6V1391.9M1225.4 1379.6V1391.9M1235.7 1379.6V1391.9M1238.3 1379.6V1391.9M1250.9 1379.6V1391.9M1260.6 1379.6V1391.9M1273.5 1379.6V1391.9M1275.3 1379.6V1391.9M1312.1 1379.6V1391.9" stroke="rgb(112,112,112)" stroke-width="1.1"/>
<path d="M1072.9 1379.6V1391.9M1094.7 1379.6V1391.9M1109.2 1379.6V1391.9M1114 1379.6V1391.9M1119.2 1379.6V1391.9M1131 1379.6V1391.9M1161.6 1379.6V1391.9M1175.7 1379.6V1391.9M1199.2 1379.6V1391.9M1240.3 1379.6V1391.9M1269.1 1379.6V1391.9M1273.3 1379.6V1391.9M1279.5 1379.6V1391.9M1291.1 1379.6V1391.9M1301.1 1379.6V1391.9M1304.3 1379.6V1391.9" stroke="rgb(128,128,128)" stroke-width="1.1"/>
<path d="M1153.3 1379.6V1391.9M1176.7 1379.6V1391.9M1192.4 1379.6V1391.9M1201.1 1379.6V1391.9M1233.8 1379.6V1391.9M1236.6 1379.6V1391.9M1246.7 1379.6V1391.9M1288.1 1379.6V1391.9M1311.8 1379.6V1391.9M1313.1 1379.6V1391.9M1317.2 1379.6V1391.9M1321.4 1379.6V1391.9" stroke="rgb(144,144,144)" stroke-width="1.1"/>
<path d="M1141.6 1379.6V1391.9M1216 1379.6V1391.9M1216.2 1379.6V1391.9M1219.4 1379.6V1391.9M1224.5 1379.6V1391.9M1237.5 1379.6V1391.9M1240 1379.6V1391.9M1240.3 1379.6V1391.9M1260 1379.6V1391.9M1269.5 1379.6V1391.9M1276.3 1379.6V1391.9M1277.8 1379.6V1391.9M1300.6 1379.6V1391.9M1304.3 1379.6V1391.9M1305.8 1379.6V1391.9M1307.4 1379.6V1391.9M1310.9 1379.6V1391.9M1312.8 1379.6V1391.9" stroke="rgb(160,160,160)" stroke-width="1.1"/>
<path d="M1178.6 1379.6V1391.9M1244.3 1379.6V1391.9M1248.9 1379.6V1391.9M1315.9 1379.6V1391.9" stroke="rgb(176,176,176)" stroke-width="1.1"/>
<path d="M1219.7 1379.6V1391.9M1270.1 1379.6V1391.9M1290.4 1379.6V1391.9M1301.1 1379.6V1391.9M1319.3 1379.6V1391.9" stroke="rgb(192,192,192)" stroke-width="1.1"/>
<path d="M1237.7 1379.6V1391.9M1258.9 1379.6V1391.9M1270.3 1379.6V1391.9M1272.3 1379.6V1391.9M1275.1 1379.6V1391.9M1293.1 1379.6V1391.9M1304.8 1379.6V1391.9M1313.9 1379.6V1391.9M1315.1 1379.6V1391.9M1315.6 1379.6V1391.9M1320.6 1379.6V1391.9" stroke="rgb(208,208,208)" stroke-width="1.1"/>
<rect x="1067.1" y="1391.9" width="12.7" height="7.7" fill="#b04048" />
<rect x="1079.8" y="1391.9" width="51" height="7.7" fill="#f24a58" />
<rect x="1130.8" y="1391.9" width="71.7" height="7.7" fill="#fcc8d2" />
<rect x="1202.5" y="1391.9" width="57.7" height="7.7" fill="#94b4ee" />
<rect x="1260.2" y="1391.9" width="51.8" height="7.7" fill="#3d3de6" />
<rect x="1312" y="1391.9" width="11.2" height="7.7" fill="#4a4aac" />
<path d="M1056.5 1410.6L1056.5 1476.6" stroke="#222" stroke-width="1.1" />
<path d="M1051.5 1410.6L1056.5 1410.6" stroke="#222" stroke-width="1.1" />
<path d="M1051.5 1423.8L1056.5 1423.8" stroke="#222" stroke-width="1.1" />
<text x="1049.5" y="1429" font-size="14.5" text-anchor="end" fill="#222">10</text>
<path d="M1051.5 1437L1056.5 1437" stroke="#222" stroke-width="1.1" />
<path d="M1051.5 1450.2L1056.5 1450.2" stroke="#222" stroke-width="1.1" />
<text x="1049.5" y="1455.4" font-size="14.5" text-anchor="end" fill="#222">0</text>
<path d="M1051.5 1463.4L1056.5 1463.4" stroke="#222" stroke-width="1.1" />
<path d="M1051.5 1476.6L1056.5 1476.6" stroke="#222" stroke-width="1.1" />
<text x="1049.5" y="1481.8" font-size="14.5" text-anchor="end" fill="#222">-10</text>
<path d="M1067.1 1450.2L1067.1 1405.2L1068.4 1421.5L1069.7 1426.7L1071 1428.8L1072.2 1429.8L1073.5 1430.8L1074.8 1431.9L1076.1 1432.4L1077.4 1432.8L1078.7 1433.2L1080 1433.7L1081.3 1434.1L1082.5 1434.5L1083.8 1434.9L1085.1 1435.4L1086.4 1435.8L1087.7 1436.2L1089 1436.7L1090.3 1437.1L1091.6 1437.3L1092.8 1437.6L1094.1 1437.9L1095.4 1438.2L1096.7 1438.5L1098 1438.8L1099.3 1439.1L1100.6 1439.4L1101.8 1439.7L1103.1 1440L1104.4 1440.2L1105.7 1440.5L1107 1440.8L1108.3 1441.1L1109.6 1441.4L1110.9 1441.6L1112.1 1441.9L1113.4 1442.1L1114.7 1442.3L1116 1442.6L1117.3 1442.8L1118.6 1443L1119.9 1443.2L1121.2 1443.5L1122.4 1443.7L1123.7 1443.9L1125 1444.1L1126.3 1444.4L1127.6 1444.6L1128.9 1444.8L1130.2 1445L1131.4 1445.1L1132.7 1445.3L1134 1445.4L1135.3 1445.5L1136.6 1445.6L1137.9 1445.7L1139.2 1445.9L1140.5 1446L1141.7 1446.1L1143 1446.2L1144.3 1446.3L1145.6 1446.5L1146.9 1446.6L1148.2 1446.7L1149.5 1446.8L1150.8 1446.9L1152 1447.1L1153.3 1447.2L1154.6 1447.3L1155.9 1447.4L1157.2 1447.5L1158.5 1447.7L1159.8 1447.8L1161 1447.8L1162.3 1447.9L1163.6 1447.9L1164.9 1448L1166.2 1448L1167.5 1448.1L1168.8 1448.2L1170.1 1448.2L1171.3 1448.3L1172.6 1448.3L1173.9 1448.4L1175.2 1448.4L1176.5 1448.5L1177.8 1448.5L1179.1 1448.6L1180.4 1448.6L1181.6 1448.7L1182.9 1448.7L1184.2 1448.8L1185.5 1448.8L1186.8 1448.9L1188.1 1448.9L1189.4 1449L1190.6 1449L1191.9 1449.1L1193.2 1449.1L1194.5 1449.2L1195.8 1449.2L1197.1 1449.3L1198.4 1449.3L1199.7 1449.4L1200.9 1449.4L1202.2 1449.5L1203.5 1449.5L1204.8 1449.6L1206.1 1449.6L1207.4 1449.6L1208.7 1449.6L1209.9 1449.7L1211.2 1449.7L1212.5 1449.7L1213.8 1449.8L1215.1 1449.8L1216.4 1449.8L1217.7 1449.8L1219 1449.9L1220.2 1449.9L1221.5 1449.9L1222.8 1450L1224.1 1450L1225.4 1450L1226.7 1450.1L1228 1450.1L1229.3 1450.1L1230.5 1450.1L1231.8 1450.2L1233.1 1450.2L1234.4 1450.2L1235.7 1450.3L1237 1450.3L1238.3 1450.3L1239.5 1450.3L1240.8 1450.4L1242.1 1450.4L1243.4 1450.4L1244.7 1450.5L1246 1450.5L1247.3 1450.5L1248.6 1450.6L1249.8 1450.6L1251.1 1450.6L1252.4 1450.6L1253.7 1450.7L1255 1450.7L1256.3 1450.7L1257.6 1450.8L1258.9 1450.8L1260.1 1450.8L1261.4 1450.8L1262.7 1450.9L1264 1450.9L1265.3 1450.9L1266.6 1451L1267.9 1451L1269.1 1451L1270.4 1451.1L1271.7 1451.1L1273 1451.1L1274.3 1451.1L1275.6 1451.2L1276.9 1451.2L1278.2 1451.2L1279.4 1451.3L1280.7 1451.3L1282 1451.3L1283.3 1451.3L1284.6 1451.4L1285.9 1451.4L1287.2 1451.4L1288.5 1451.5L1289.7 1451.5L1291 1451.6L1292.3 1451.7L1293.6 1451.8L1294.9 1451.9L1296.2 1452L1297.5 1452.1L1298.7 1452.2L1300 1452.3L1301.3 1452.3L1302.6 1452.4L1303.9 1452.5L1305.2 1452.6L1306.5 1452.7L1307.8 1452.8L1309 1452.9L1310.3 1453.2L1311.6 1453.8L1312.9 1454.5L1314.2 1455.1L1315.5 1455.7L1316.8 1456.4L1318.1 1457.1L1319.3 1459.7L1320.6 1462.3L1321.9 1469.7L1323.2 1487.3L1323.2 1450.2Z" fill="#6d6d6d" />
<path d="M1202.5 1405L1202.5 1488" stroke="#9a9a9a" stroke-width="1.2" stroke-dasharray="5 4"/>
<text x="1082" y="1430.7" font-size="20.6">Zero cross at 8,304</text>
<path d="M1067.1 1489.5L1332.7 1489.5" stroke="#222" stroke-width="1.3" />
<path d="M1067.6 1489.5L1067.6 1494.5" stroke="#222" stroke-width="1.3" />
<text x="1067.6" y="1507.2" font-size="15.5" text-anchor="middle" fill="#222">1</text>
<path d="M1148.6 1489.5L1148.6 1494.5" stroke="#222" stroke-width="1.3" />
<text x="1147.7" y="1507.2" font-size="15.5" text-anchor="middle" fill="#222">5,000</text>
<path d="M1230 1489.5L1230 1494.5" stroke="#222" stroke-width="1.3" />
<text x="1229" y="1507.2" font-size="15.5" text-anchor="middle" fill="#222">10,000</text>
<path d="M1312 1489.5L1312 1494.5" stroke="#222" stroke-width="1.3" />
<text x="1309.4" y="1507.2" font-size="15.5" text-anchor="middle" fill="#222">15,000</text>
<text x="1202.3" y="1531.6" font-size="20.6" text-anchor="middle">Ranked list metric</text>
<text transform="translate(995,1445) rotate(-90)" font-size="20" text-anchor="middle">log2(<tspan font-style="italic">H1c/e</tspan><tspan font-style="italic" dy="-7" font-size="11">-/-</tspan></text>
<text transform="translate(1017,1445) rotate(-90)" font-size="20" text-anchor="middle">/<tspan font-style="italic">H1wt</tspan> GCB)</text>
<text x="1379" y="762.5" class="pl">i</text>
<text x="1480" y="787.4" font-size="19.5" text-anchor="middle" fill="#35357e">DN</text>
<text x="1532" y="787.4" font-size="19.5" text-anchor="middle" fill="#a8422c">UP</text>
<path d="M12.3 0.3C15 0.3 17 1.6 17 4.6L17 10.4C16.2 11.2 15 11.7 14.3 12.1L14.5 13.4C16.5 14.4 19.5 15.3 21.2 17C21.9 17.8 22.3 18.8 22.4 19.8L23.5 35.1L24.3 45C24.4 46.6 23.7 48.3 22.9 48.3C22 48.3 21.2 47.2 21 46.1L20.1 35.1L18.6 23.6C18.2 27 17.6 31 17.6 34C18.5 36 19.6 38 19.5 40.6C19.3 44 18.9 48 18.9 51.6C18.8 55 17.8 59 17.6 62.6C17.8 65.5 18.3 68 18.2 70.8C18 74 17.2 77 17.1 79.1C18.5 80.5 20.5 81.5 21 82.6C20.6 84 19 84.6 17.6 84.4C16.4 84.2 15.3 83 14.8 81.3L14.8 76.3C14.4 72 13.8 67 13.4 62.6C13 58 12.6 54 12.3 51.6C12 54 11.6 58 11.2 62.6C10.8 67 10.2 72 9.8 76.3L9.8 81.3C9.3 83 8.2 84.4 6.7 84.5C5.4 84.5 3.8 84 4.2 82.9C4.8 81.5 6.6 80.3 7.5 79.1C7.4 77 6.6 74 6.4 70.8C6.3 68 6.8 65.5 7 62.6C6.8 59 5.8 55 5.7 51.6C5.7 48 5.3 44 5.1 40.6C5 38 6.1 36 7 34C7 31 6.4 27 6 23.6L4.5 35.1L3.6 46.1C3.4 47.2 2.6 48.3 1.7 48.3C0.9 48.3 0.2 46.6 0.3 45L1.1 35.1L2.2 19.8C2.3 18.8 2.7 17.8 3.4 17C5.1 15.3 8.1 14.4 10.1 13.4L10.3 12.1C9.6 11.7 8.4 11.2 7.6 10.4L7.6 4.6C7.6 1.6 9.6 0.3 12.3 0.3Z" fill="#a7a7ab" stroke="#3c3c3c" stroke-width="1.2" transform="translate(1407.8,793) scale(0.8862,0.8830)"/>
<rect x="1455.6" y="795.8" width="50.5" height="91.8" fill="#000" />
<rect x="1506.1" y="795.8" width="50.9" height="46.2" fill="#6e2519" />
<rect x="1506.1" y="841.7" width="50.9" height="46.2" fill="#6e2519" />
<rect x="1455.6" y="902.9" width="50.5" height="91.8" fill="#000" />
<rect x="1506.1" y="902.9" width="50.9" height="46.2" fill="#cd3c2a" />
<rect x="1506.1" y="948.8" width="50.9" height="46.2" fill="#b03626" />
<rect x="1455.6" y="1010.4" width="50.5" height="237.6" fill="#000" />
<rect x="1506.1" y="1010.4" width="50.9" height="47.8" fill="#cf4f3a" />
<rect x="1506.1" y="1057.9" width="50.9" height="47.8" fill="#cf4f3a" />
<rect x="1506.1" y="1105.4" width="50.9" height="47.8" fill="#b33a2a" />
<rect x="1506.1" y="1153" width="50.9" height="47.8" fill="#cf4f3a" />
<rect x="1506.1" y="1200.5" width="50.9" height="47.8" fill="#cf4f3a" />
<rect x="1455.6" y="1263.7" width="50.5" height="46.7" fill="#000" />
<rect x="1506.1" y="1263.7" width="50.9" height="47" fill="#b03626" />
<rect x="1455.6" y="1326.8" width="50.5" height="183.7" fill="#000" />
<rect x="1506.1" y="1326.8" width="50.9" height="46.2" fill="#000" />
<rect x="1506.1" y="1372.7" width="50.9" height="46.2" fill="#000" />
<rect x="1506.1" y="1418.7" width="50.9" height="46.2" fill="#000" />
<rect x="1506.1" y="1464.6" width="50.9" height="46.2" fill="#000" />
<text x="1575.4" y="831.4" font-size="20.3">Partially reprogrammed iPS &amp; ES</text>
<text x="1576" y="870.8" font-size="20.3">Hematopoietic stem cells</text>
<text x="1576" y="936.6" font-size="20.3">SUZ12 in mESC</text>
<text x="1575.4" y="984.4" font-size="20.3">NANOG in mESC</text>
<text x="1578" y="1036" font-size="20.3">H3K27me3 genes in spleen</text>
<text x="1578" y="1086.5" font-size="20.3">H3K27me3 genes in lymphoblastoid cells</text>
<text x="1578" y="1136.2" font-size="20.3">H3K27me3 genes in mononuclear cells</text>
<text x="1578" y="1186" font-size="20.3">H3K27me3 genes in CD14+ monocytes</text>
<text x="1578" y="1235.8" font-size="20.3">H3K27me3 monovalent genes in GC B-cells</text>
<text x="1576" y="1295" font-size="20.3">NSD2 GoF in RPMI</text>
<text x="1578" y="1358.2" font-size="20.3">GCB <tspan font-style="italic">de novo</tspan> bivalent</text>
<text x="1576" y="1404.9" font-size="20.3">EZH2 inhibitor induced in DLBCL</text>
<text x="1576" y="1451.2" font-size="20.3">shEZH2 induced in DLBCL</text>
<text x="1576" y="1497.8" font-size="20.3">EZH2KO upreg in GC B-cells</text>
<rect x="1997" y="1364.7" width="22.9" height="25.6" fill="#000" />
<rect x="1997" y="1390" width="22.9" height="25.9" fill="#6e2519" />
<rect x="1997" y="1415.6" width="22.9" height="25.2" fill="#b03626" />
<rect x="1997" y="1440.5" width="22.9" height="25.1" fill="#cc3a2a" />
<rect x="1997" y="1465.3" width="22.9" height="27" fill="#cf5040" />
<path d="M1990.4 1377.3L1997 1377.3" stroke="#222" stroke-width="1.3" />
<text x="1983" y="1382.6" font-size="15" text-anchor="end">1</text>
<path d="M1990.4 1403.4L1997 1403.4" stroke="#222" stroke-width="1.3" />
<text x="1983" y="1408.7" font-size="15" text-anchor="end">0.05</text>
<path d="M1990.4 1429L1997 1429" stroke="#222" stroke-width="1.3" />
<text x="1983" y="1434.3" font-size="15" text-anchor="end">0.01</text>
<path d="M1990.4 1454.6L1997 1454.6" stroke="#222" stroke-width="1.3" />
<text x="1983" y="1459.9" font-size="15" text-anchor="end">0.001</text>
<path d="M1990.4 1480.6L1997 1480.6" stroke="#222" stroke-width="1.3" />
<text x="1983" y="1485.9" font-size="15" text-anchor="end">1e-05</text>
<text transform="translate(1932,1429) rotate(-90)" font-size="18.5" text-anchor="middle">p-value</text>
<polygon points="259.2,1603.6 290,1604 312,1609.6 336,1631.2 352.8,1645.6 369.6,1681.6 381.6,1708 382.8,1732 376.8,1768 369.6,1794.4 355.2,1823.2 336,1837.6 312,1846 276,1844.8 240,1840 216,1840 192,1844.8 144,1856.8 124.8,1867.6 105.6,1856.8 96,1828 90,1792 96,1756 103.2,1722.4 112.8,1696 129.6,1669.6 144,1636 168,1626.4 204,1612 228,1608.4" fill="#f7f7fb"/>
<path d="M257 1604h0m9 0h0m2 0h0m1 0h0m17 0h0m13 2h0m0 1h0m-6-1h0m0-1h0m-1 2h0m0-1h0m-1 1h0m-3 0h0m0-1h0m-1 0h0m-1 1h0m-1-2h0m-1 2h0m-1 0h0m0-1h0m-3 1h0m-1-1h0m-5 0h0m-2 1h0m-1-1h0m-1-1h0m-3 0h0m-1 2h0m0-1h0m-1 1h0m-3-1h0m-1 1h0m0-2h0m-1 2h0m-2 0h0m-2-2h0m-2 0h0m-3 0h0m0 2h0m-2-1h0m-1 1h0m-7 0h0m-4 0h0m-15 3h0m1 0h0m11 0h0m2-1h0m1 0h0m1 1h0m1-1h0m0 1h0m3-2h0m2 0h0m1 2h0m1 0h0m2-1h0m2-1h0m1 2h0m1-1h0m1-1h0m7 1h0m0-1h0m1 0h0m1 2h0m1-1h0m3 1h0m2-2h0m6 2h0m0-1h0m5 1h0m3 0h0m5 0h0m1-1h0m2 0h0m3-1h0m0 2h0m8-2h0m1 0h0m0 2h0m1-1h0m2 0h0m0 1h0m1-1h0m1-1h0m2 2h0m1 0h0m4 3h0m-1-2h0m-1 0h0m-4 0h0m-2 2h0m-2-2h0m-2 0h0m-2 0h0m-2 2h0m0-1h0m-2-1h0m-2 1h0m-3 1h0m-2-2h0m-4 2h0m-2-2h0m-1 0h0m0 2h0m0-1h0m-1 0h0m-4-1h0m-3 0h0m-2 2h0m-2 0h0m-5 0h0m-3-2h0m-2 0h0m-1 0h0m-4 1h0m-8 0h0m-1 0h0m0-1h0m-2 0h0m0 1h0m-1-1h0m-1 2h0m-3 0h0m-1-2h0m-3 1h0m-9 0h0m-2 1h0m-1 0h0m-4 0h0m-6-2h0m0 2h0m-2-1h0m-1 1h0m-3 0h0m-2 0h0m-1-1h0m-2 1h0m-6 3h0m2-1h0m2 1h0m1-1h0m2 0h0m1 0h0m1 1h0m1-2h0m0 2h0m2-2h0m1 1h0m0-1h0m3 1h0m2 1h0m3-1h0m1 1h0m1-1h0m2-1h0m0 2h0m2-2h0m1 2h0m3 0h0m2-1h0m2 1h0m3-1h0m1-1h0m0 2h0m2-1h0m3-1h0m0 1h0m3 1h0m4-2h0m0 1h0m3 0h0m1-1h0m0 1h0m1-1h0m0 2h0m5 0h0m3 0h0m1 0h0m1-1h0m3 1h0m6-1h0m2-1h0m0 1h0m2-1h0m3 2h0m2-2h0m0 2h0m1-1h0m1 0h0m2 0h0m1 1h0m3 0h0m1-2h0m3 1h0m2 1h0m1 0h0m1 0h0m3-2h0m3 0h0m3 0h0m0 2h0m4-1h0m2 0h0m2-1h0m3 1h0m1 0h0m1 1h0m1 0h0m2 3h0m-2-1h0m-1 0h0m-4-1h0m-3 1h0m-1-1h0m-4 1h0m0 1h0m-2 0h0m-1 0h0m-1-2h0m0 2h0m-1 0h0m0-2h0m-3 1h0m-7 1h0m-3-2h0m-1 1h0m0-1h0m-1 0h0m-2 2h0m-2-1h0m-1 1h0m-1-1h0m-1 0h0m-3 0h0m-4 0h0m-2 1h0m-2-1h0m-1-1h0m-3 1h0m0-1h0m-4 0h0m0 2h0m-1 0h0m-1-1h0m-3-1h0m-1 2h0m-3 0h0m-1-2h0m0 2h0m0-1h0m-2 0h0m-3-1h0m-3 2h0m-9-2h0m-1 0h0m-2 0h0m0 1h0m-5-1h0m0 2h0m0-1h0m-2 1h0m-2-1h0m-1 1h0m-1 0h0m-2-1h0m-2-1h0m-1 1h0m-2 1h0m0-1h0m-3-1h0m-1 0h0m0 1h0m-1 0h0m-1-1h0m-1 1h0m-2-1h0m0 2h0m-3-2h0m0 2h0m-4 0h0m-1-1h0m-2 1h0m-2 0h0m-1 0h0m-2-1h0m3 3h0m2-1h0m4 0h0m3 2h0m2-2h0m2 0h0m0 2h0m2 0h0m1-2h0m1 0h0m1 2h0m1 0h0m1-1h0m3-1h0m3 2h0m1-1h0m2 1h0m1 0h0m6-1h0m0 1h0m1-2h0m1 1h0m0-1h0m1 1h0m1-1h0m0 2h0m1-1h0m2-1h0m1 2h0m2-1h0m1-1h0m0 1h0m2-1h0m1 0h0m2 0h0m3 0h0m1 1h0m1 1h0m2-2h0m2 2h0m4-2h0m4 0h0m1 1h0m0-1h0m5 0h0m3 0h0m1 0h0m0 2h0m1-2h0m0 2h0m2-2h0m0 2h0m1-2h0m1 1h0m1 1h0m1-2h0m1 0h0m1 1h0m1-1h0m1 2h0m2-1h0m1-1h0m0 2h0m1-1h0m1 0h0m0 1h0m1-2h0m0 2h0m0-1h0m2-1h0m1 0h0m0 2h0m1-2h0m2 1h0m1 0h0m0-1h0m0 2h0m2-2h0m2 0h0m2 1h0m1 0h0m4-1h0m1 0h0m3 2h0m8 0h0m10 1h0m-4 2h0m-2 0h0m-3-2h0m-1 1h0m-1 1h0m-3 0h0m-3-1h0m-3 0h0m-1 0h0m0-1h0m-1 1h0m-4 0h0m-1 0h0m0 1h0m-1-1h0m-6 0h0m0 1h0m-2-2h0m0 2h0m-6 0h0m0-1h0m-1-1h0m-2 1h0m-1 1h0m-1-1h0m0-1h0m-3 0h0m0 1h0m-1 0h0m-3-1h0m-1 1h0m-1 0h0m-1 1h0m-3-2h0m-1 2h0m-1-1h0m-2 0h0m0 1h0m-5 0h0m-2-2h0m-2 2h0m-2-2h0m-1 2h0m-1-1h0m-1 0h0m-1 1h0m-1 0h0m-2 0h0m-2-1h0m-1 1h0m-3 0h0m-4 0h0m0-1h0m-2 0h0m-2 1h0m-3-2h0m-6 1h0m-1 0h0m0-1h0m-1 2h0m-1-1h0m-1-1h0m-1 1h0m-2 0h0m-4 1h0m0-1h0m-5 0h0m-2 0h0m-1 1h0m-1-2h0m-1 2h0m-2 0h0m-2 0h0m-4 0h0m-1-2h0m0 2h0m0-1h0m-1-1h0m-1 2h0m0-1h0m-5 0h0m-1 0h0m-4 1h0m-1-1h0m0-1h0m-1 2h0m-3 0h0m0-1h0m-8 4h0m1-1h0m3 0h0m2-1h0m2 1h0m1 0h0m7 1h0m1-1h0m0 1h0m1-2h0m0 2h0m0-1h0m2 1h0m1-2h0m1 0h0m0 2h0m2-1h0m3-1h0m0 1h0m1 0h0m1 0h0m1-1h0m0 1h0m1-1h0m0 2h0m2-1h0m3-1h0m2 1h0m4-1h0m3 0h0m0 2h0m1-2h0m1 0h0m0 1h0m1 0h0m1-1h0m3 0h0m1 2h0m1 0h0m1-1h0m1 0h0m2-1h0m0 2h0m3-2h0m3 2h0m1 0h0m1-1h0m1 0h0m0 1h0m1-2h0m2 0h0m0 2h0m1-2h0m1 1h0m1 0h0m2 1h0m1-2h0m1 2h0m1-2h0m1 0h0m1 2h0m1-2h0m1 1h0m2 0h0m2-1h0m1 2h0m0-1h0m1-1h0m0 2h0m4-2h0m0 1h0m1 0h0m0 1h0m2-2h0m1 2h0m0-1h0m1 1h0m2-1h0m3-1h0m2 1h0m1 1h0m5 0h0m0-1h0m3 1h0m1-2h0m1 0h0m1 0h0m2 2h0m3-2h0m4 1h0m1-1h0m1 1h0m1-1h0m2 0h0m2 0h0m0 2h0m1-2h0m1 1h0m1 1h0m0-2h0m1 0h0m1 2h0m1-1h0m0 1h0m1-2h0m0 2h0m3-2h0m1 2h0m1 0h0m0-2h0m1 2h0m1-2h0m0 1h0m2-1h0m2 0h0m1 2h0m8-2h0m1 0h0m0 1h0m4 1h0m2 1h0m-1 1h0m-1 1h0m-1-1h0m-2 0h0m0-1h0m-3 1h0m0-1h0m-2 2h0m-1 0h0m-1-1h0m-1-1h0m-4 1h0m0 1h0m-2 0h0m-1-2h0m-1 1h0m-1 0h0m0-1h0m-3 1h0m0-1h0m-1 2h0m-3-1h0m-2-1h0m-1 2h0m-1-1h0m-2 0h0m0-1h0m-4 2h0m0-1h0m-1 1h0m-5-1h0m-2-1h0m-2 1h0m-1-1h0m-1 1h0m-2 0h0m0-1h0m-2 0h0m-8 2h0m0-2h0m-3 0h0m0 2h0m-1-1h0m-11 1h0m-1-2h0m-9 2h0m-4 0h0m0-1h0m-2 0h0m-3 1h0m-1 0h0m0-2h0m-4 2h0m-2-1h0m-1 0h0m0-1h0m-1 0h0m-2 1h0m-1 1h0m-2-2h0m0 1h0m-2 1h0m-1 0h0m-1 0h0m-1-2h0m-3 2h0m-4 0h0m-2-2h0m0 2h0m-2-1h0m-1 0h0m-2 0h0m-2 1h0m-1-1h0m-1 0h0m-1 0h0m-3-1h0m0 2h0m-2-1h0m0-1h0m-2 0h0m0 1h0m-1-1h0m0 2h0m-2-1h0m-1-1h0m-3 1h0m-3 1h0m-5 0h0m0-1h0m-3-1h0m0 2h0m0-1h0m-1-1h0m0 1h0m-1 1h0m-1-2h0m0 2h0m-1-1h0m0-1h0m-1 0h0m-6 1h0m-9 3h0m1 0h0m2 1h0m0-1h0m1 0h0m4-1h0m1 2h0m1-2h0m0 2h0m2 0h0m1-1h0m0-1h0m0 2h0m6-1h0m0 1h0m1 0h0m1-1h0m1 0h0m1 0h0m3-1h0m1 1h0m1-1h0m1 2h0m2 0h0m4-2h0m1 0h0m1 1h0m2 0h0m0-1h0m2 0h0m4 0h0m2 0h0m1 1h0m1 0h0m1 1h0m7-1h0m0 1h0m2-1h0m0-1h0m2 2h0m1 0h0m1 0h0m1-2h0m1 2h0m2 0h0m6-1h0m1-1h0m3 2h0m0-2h0m1 1h0m0 1h0m1 0h0m2-1h0m4 0h0m1 0h0m1 0h0m2-1h0m1 2h0m2 0h0m1-2h0m3 2h0m2-1h0m1 1h0m1-2h0m3 1h0m0-1h0m3 1h0m0-1h0m2 2h0m3-1h0m2 1h0m1-2h0m1 2h0m1 0h0m1-1h0m2 0h0m1-1h0m2 1h0m8 1h0m1-2h0m1 0h0m2 1h0m0-1h0m1 0h0m2 2h0m0-1h0m1 0h0m4 1h0m1 0h0m1-2h0m2 1h0m0-1h0m1 1h0m1 0h0m0 1h0m2-1h0m1 1h0m1 0h0m1-1h0m0-1h0m1 0h0m1 0h0m1 0h0m0 2h0m0-1h0m4-1h0m2 2h0m5-2h0m4 1h0m1 1h0m2 0h0m0-1h0m2 0h0m1 0h0m5-1h0m0 2h0m1-2h0m1 0h0m0 2h0m1 0h0m4 3h0m-3-1h0m-5-1h0m-2 0h0m-1 2h0m0-1h0m-3 0h0m0-1h0m-1 2h0m0-1h0m-1-1h0m-1 0h0m-1 2h0m-6-2h0m-1 1h0m-2-1h0m-2 0h0m0 2h0m-2-1h0m-2-1h0m-1 0h0m-7 1h0m-1-1h0m0 2h0m-2 0h0m-1 0h0m-4-2h0m-1 2h0m-2-1h0m-2 0h0m-2 0h0m-1-1h0m-1 0h0m-1 1h0m-1-1h0m0 2h0m-1-2h0m-1 2h0m-1-1h0m-1 0h0m-1 0h0m-4 1h0m-2-2h0m0 2h0m-1-1h0m-4 0h0m-3 1h0m-1-2h0m-1 2h0m-1-2h0m0 2h0m-3 0h0m-2-2h0m-6 0h0m0 1h0m-3 0h0m-1 0h0m-5 1h0m0-1h0m-1 0h0m0-1h0m-3 0h0m0 1h0m-1-1h0m0 1h0m-3-1h0m-5 2h0m-3-1h0m0-1h0m-2 0h0m-2 2h0m-6-2h0m-2 0h0m-5 1h0m-3-1h0m-2 2h0m-1-1h0m-2 0h0m-2-1h0m0 2h0m0-1h0m-2 0h0m-1 1h0m-1-2h0m-1 0h0m-1 2h0m-2-1h0m-3-1h0m-1 0h0m-1 1h0m-1 0h0m-1-1h0m-1 0h0m-1 1h0m0-1h0m-2 0h0m-7 1h0m-1-1h0m-1 2h0m0-1h0m-2-1h0m0 2h0m-1-2h0m0 2h0m-1 0h0m-1-2h0m-1 0h0m-3 0h0m-1 2h0m-1 0h0m-1 0h0m-1-1h0m-1-1h0m-3 1h0m0 1h0m-1-2h0m-1 0h0m-1 2h0m-1-2h0m0 1h0m-5 4h0m3 0h0m1 0h0m3-1h0m4 0h0m0 1h0m2-1h0m2 1h0m2-1h0m2-1h0m1 0h0m0 2h0m7-1h0m0 1h0m3 0h0m6-1h0m1 0h0m3-1h0m6 2h0m4-1h0m1 0h0m1 1h0m1 0h0m1-1h0m1-1h0m3 0h0m1 0h0m3 1h0m1 1h0m1-1h0m4-1h0m0 2h0m0-1h0m1 0h0m2-1h0m4 1h0m4-1h0m2 1h0m1 0h0m2 1h0m2-1h0m1 1h0m3-2h0m1 0h0m1 0h0m3 1h0m2 1h0m0-1h0m6 0h0m1 0h0m1 0h0m0 1h0m1 0h0m4 0h0m0-1h0m1 1h0m0-1h0m3 1h0m0-1h0m1-1h0m2 2h0m7 0h0m1 0h0m0-1h0m1-1h0m3 0h0m1 0h0m1 0h0m2 1h0m3-1h0m1 2h0m3-1h0m1 0h0m2 1h0m3 0h0m2-1h0m0 1h0m1 0h0m3 0h0m0-1h0m2 0h0m0 1h0m2 0h0m0-2h0m1 2h0m0-1h0m1 0h0m5 1h0m1-1h0m3 0h0m1 0h0m2 1h0m4-1h0m1-1h0m2 2h0m0-2h0m3 0h0m1 0h0m2 1h0m1-1h0m1 0h0m1 1h0m2 1h0m2-2h0m8 2h0m2 0h0m1-1h0m0 1h0m4 3h0m-2 0h0m-1-1h0m-6 0h0m-1 1h0m-2 0h0m-2-1h0m-1 1h0m-2 0h0m0-1h0m-1-1h0m-3 1h0m0 1h0m-1-1h0m-4 0h0m-6-1h0m-1 0h0m-3 2h0m-1-1h0m-2 0h0m-1 0h0m0-1h0m-3 1h0m-1 1h0m-1-2h0m-6 0h0m-7 2h0m-3 0h0m-1 0h0m-1-1h0m-2 1h0m-4-2h0m-3 1h0m-1-1h0m-1 0h0m-1 1h0m-3 1h0m-1-1h0m0-1h0m-1 1h0m0-1h0m-1 1h0m-2-1h0m-3 0h0m-1 1h0m-2 0h0m0-1h0m-2 1h0m-8 0h0m-1-1h0m-3 1h0m0 1h0m-3-2h0m-3 2h0m-1 0h0m-3 0h0m-2-2h0m0 1h0m-2 1h0m-1-1h0m0-1h0m-8 2h0m0-1h0m-2 1h0m-3 0h0m-1-1h0m-5-1h0m-3 0h0m0 2h0m-1-2h0m-9 2h0m0-1h0m-2 0h0m0-1h0m0 2h0m-5-2h0m-4 0h0m0 2h0m-4-2h0m0 1h0m-1-1h0m-1 2h0m-2 0h0m0-1h0m-2-1h0m-1 0h0m-1 0h0m-1 0h0m0 2h0m0-1h0m-1 1h0m-1 0h0m-1 0h0m-1-1h0m-5-1h0m-1 2h0m-2-2h0m0 1h0m-1-1h0m0 1h0m-1 0h0m-2 0h0m-1 1h0m-1 0h0m0-1h0m-1-1h0m-2 1h0m0 1h0m-1 0h0m-1-1h0m-1 0h0m-1 1h0m-1-2h0m-4 2h0m0-1h0m-1 1h0m0-1h0m-1 0h0m1 2h0m1 0h0m0 1h0m2-1h0m0 1h0m1 0h0m2 0h0m1 1h0m1 0h0m4-1h0m1 1h0m0-1h0m2 1h0m3 0h0m2 0h0m0-2h0m1 1h0m2 1h0m3 0h0m1 0h0m0-1h0m0-1h0m1 0h0m1 0h0m0 2h0m2 0h0m2-1h0m3 1h0m1-1h0m2-1h0m3 2h0m1 0h0m1 0h0m5-2h0m1 1h0m0 1h0m2-1h0m0-1h0m3 2h0m0-2h0m2 2h0m0-1h0m2-1h0m0 2h0m2 0h0m2-2h0m2 1h0m4-1h0m0 1h0m1-1h0m1 2h0m4 0h0m2-2h0m2 1h0m2-1h0m1 2h0m1-1h0m0-1h0m3 2h0m5 0h0m1-2h0m2 0h0m1 2h0m1-2h0m1 0h0m2 1h0m3 0h0m0-1h0m0 2h0m1 0h0m6 0h0m1 0h0m3-1h0m2 1h0m1-1h0m0 1h0m1 0h0m1 0h0m0-1h0m2 1h0m1-1h0m0 1h0m3-1h0m0 1h0m1-2h0m1 1h0m0-1h0m3 2h0m1-1h0m4 1h0m1-2h0m3 2h0m1-1h0m1-1h0m0 2h0m2 0h0m2-2h0m2 0h0m0 1h0m1 0h0m1 0h0m1-1h0m1 2h0m2 0h0m2 0h0m0-2h0m3 2h0m1 0h0m3 0h0m2-1h0m1 0h0m2-1h0m1 1h0m1-1h0m3 2h0m1-1h0m1 1h0m0-1h0m4-1h0m4 2h0m2 0h0m1-1h0m1 0h0m3-1h0m0 2h0m5-1h0m5 1h0m0-1h0m2 1h0m2-1h0m1 0h0m3-1h0m2 2h0m0-1h0m1 0h0m1 2h0m-3 1h0m-1 1h0m-2-2h0m0 1h0m-9-1h0m0 2h0m-1 0h0m0-1h0m-4-1h0m-6 2h0m0-1h0m-1-1h0m-2 0h0m-2 2h0m0-1h0m-1-1h0m0 2h0m-1-2h0m-4 0h0m-1 2h0m-4-2h0m-1 1h0m0 1h0m-6 0h0m-1-2h0m-1 2h0m-2-2h0m-3 0h0m-1 0h0m-1 2h0m0-1h0m-1 1h0m-7 0h0m-2-1h0m-2 0h0m-1-1h0m-2 2h0m-4-2h0m-3 1h0m-2-1h0m-2 1h0m-5-1h0m-3 1h0m0 1h0m-1 0h0m-5 0h0m-1-1h0m-2 1h0m-2 0h0m-2-2h0m-3 2h0m-1 0h0m-1 0h0m-1-1h0m-1 0h0m-5 0h0m0 1h0m-2-2h0m0 2h0m-3-1h0m-2-1h0m-1 1h0m-3 0h0m-2 1h0m-1-2h0m0 1h0m-1 1h0m-1 0h0m-7-2h0m-1 0h0m-3 1h0m-2 0h0m-2-1h0m-3 2h0m-1-2h0m0 2h0m-1-1h0m-3 0h0m-2 0h0m-3 0h0m-2 1h0m-4-1h0m-2-1h0m0 2h0m0-1h0m-2 1h0m-3-1h0m-2 1h0m-2-2h0m0 1h0m-2 1h0m-1-1h0m0 1h0m-1 0h0m-1 0h0m-1 0h0m-3 0h0m-1-2h0m0 2h0m-2 0h0m-2 0h0m-3-2h0m0 2h0m-1-1h0m0 1h0m-1-2h0m-5 2h0m-1-1h0m0-1h0m-2 0h0m0 2h0m-2-2h0m-1 2h0m0-1h0m-2-1h0m0 2h0m0-1h0m-1 1h0m-2-1h0m1 4h0m0-1h0m2 1h0m0-1h0m2 1h0m2-1h0m3-1h0m1 0h0m0 2h0m1-2h0m0 2h0m1 0h0m2-2h0m2 0h0m0 2h0m1-2h0m0 2h0m1 0h0m1-2h0m1 0h0m0 2h0m1-2h0m0 1h0m1 1h0m0-1h0m2 1h0m1 0h0m3-1h0m2 1h0m0-1h0m1-1h0m0 1h0m1-1h0m1 1h0m1 0h0m0-1h0m8 0h0m0 1h0m6 0h0m2-1h0m3 1h0m1-1h0m0 1h0m1 0h0m0-1h0m1 2h0m0-1h0m3 1h0m2 0h0m1-2h0m1 0h0m5 0h0m0 2h0m1-2h0m5 1h0m1-1h0m1 2h0m0-1h0m2 1h0m1-1h0m1-1h0m1 0h0m1 0h0m2 2h0m4-2h0m2 2h0m2-2h0m3 1h0m1-1h0m0 2h0m1-2h0m0 2h0m1 0h0m1-2h0m0 2h0m1 0h0m1 0h0m2 0h0m2 0h0m2-2h0m1 0h0m0 2h0m2-1h0m1 1h0m5-2h0m1 1h0m0-1h0m4 2h0m1-2h0m2 1h0m2-1h0m1 2h0m1 0h0m1-1h0m1 0h0m2 1h0m0-1h0m2 0h0m1 1h0m6 0h0m1-1h0m1-1h0m0 2h0m1-1h0m1-1h0m1 1h0m4-1h0m0 2h0m1 0h0m5-2h0m2 2h0m1-2h0m0 2h0m3-2h0m1 1h0m1 0h0m2 1h0m1-1h0m1 0h0m2 0h0m0 1h0m2-2h0m1 2h0m1-2h0m0 2h0m1-1h0m1-1h0m1 2h0m3-2h0m1 2h0m1-2h0m1 0h0m2 0h0m1 1h0m1 0h0m0-1h0m0 2h0m2-2h0m1 2h0m0-1h0m2 1h0m0-2h0m1 2h0m1-1h0m2-1h0m1 2h0m0-1h0m1 1h0m1-1h0m1 0h0m4-1h0m3 1h0m1 1h0m3-2h0m1 1h0m3 4h0m-1-2h0m-5 0h0m-1 1h0m-1 1h0m-4 0h0m-1-2h0m-5 2h0m-1 0h0m-1-1h0m-1 1h0m-1 0h0m-1-2h0m-1 0h0m-1 2h0m-1-2h0m-1 1h0m0-1h0m-1 2h0m-5-1h0m-2 0h0m-1 1h0m-1-1h0m-2-1h0m-3 2h0m-5 0h0m-1-1h0m-1 1h0m-3 0h0m-2-2h0m-1 0h0m-1 0h0m-2 1h0m-2 0h0m-2 0h0m0 1h0m-2-1h0m0-1h0m-1 2h0m-5-1h0m-3 1h0m-1-1h0m0-1h0m-6 2h0m-1 0h0m-3-1h0m0-1h0m-1 1h0m-1 0h0m-1 1h0m-2 0h0m-3-1h0m-4 0h0m-1 1h0m-2-2h0m-8 2h0m-2 0h0m0-2h0m-3 2h0m-1-2h0m0 2h0m0-1h0m-1 1h0m0-1h0m-2-1h0m-1 1h0m0 1h0m-1-1h0m0-1h0m-3 2h0m-3-1h0m-1 1h0m-1-1h0m-2 0h0m-1 1h0m0-2h0m-2 2h0m-1-1h0m-1 0h0m0 1h0m-3 0h0m-2-1h0m-3-1h0m0 1h0m-1 1h0m-2-2h0m-5 0h0m-6 0h0m-2 0h0m-2 1h0m-4-1h0m-4 2h0m0-2h0m-5 1h0m-1 0h0m-1-1h0m-1 2h0m-2 0h0m-1 0h0m-1-2h0m-1 2h0m-2-1h0m-5 0h0m-3 0h0m-4-1h0m-4 0h0m-1 0h0m-1 1h0m-4 1h0m-1 0h0m-2 0h0m-1-2h0m-2 0h0m0 2h0m-1-2h0m-1 1h0m-3 1h0m-1-2h0m-1 1h0m-2-1h0m2 4h0m1-1h0m1 0h0m1 0h0m4 0h0m1 1h0m3 0h0m3 1h0m1 0h0m0-1h0m4-1h0m0 1h0m4 0h0m2 1h0m4-2h0m0 2h0m1-1h0m1 1h0m1-2h0m1 0h0m0 2h0m2-1h0m4 0h0m2 1h0m1-1h0m0 1h0m1 0h0m3-2h0m1 0h0m1 1h0m1-1h0m3 1h0m1-1h0m2 1h0m1 0h0m1-1h0m1 0h0m2 1h0m2-1h0m3 1h0m1 0h0m1 1h0m3-1h0m1 1h0m1 0h0m4-2h0m2 2h0m0-2h0m3 0h0m1 2h0m7-2h0m0 2h0m1-2h0m5 0h0m2 0h0m1 0h0m1 1h0m0 1h0m1 0h0m1-1h0m1-1h0m6 0h0m3 2h0m4 0h0m2 0h0m1-1h0m2 1h0m2-2h0m1 1h0m1 0h0m2-1h0m1 0h0m0 2h0m1-2h0m5 1h0m2-1h0m1 1h0m2-1h0m2 1h0m1 0h0m3 1h0m3-1h0m4 0h0m7 1h0m1-1h0m2-1h0m1 0h0m1 2h0m0-1h0m0-1h0m1 2h0m2-1h0m0-1h0m1 0h0m2 1h0m1 1h0m0-1h0m1 0h0m0 1h0m2 0h0m1 0h0m4-2h0m1 0h0m1 1h0m1 1h0m1-1h0m1 0h0m1 0h0m2-1h0m4 2h0m1 0h0m3-1h0m1-1h0m2 0h0m0 1h0m7 1h0m1 0h0m4 0h0m2-2h0m0 1h0m1-1h0m1 0h0m1 1h0m2 1h0m1-2h0m0 2h0m1-2h0m1 5h0m-5-2h0m0 1h0m-3 1h0m-4 0h0m-1 0h0m-5-1h0m-3 0h0m0-1h0m-2 2h0m-2-1h0m-2-1h0m-6 1h0m-1 1h0m-1 0h0m0-1h0m-2 1h0m-1-1h0m-3-1h0m-5 0h0m-1 2h0m-6-1h0m-1 1h0m-3 0h0m-3-2h0m-2 1h0m-3 0h0m-1 0h0m-4 0h0m-2 0h0m-2-1h0m-1 2h0m-2-1h0m-4 0h0m-2-1h0m-2 2h0m-1 0h0m-1-1h0m-12 1h0m-1 0h0m-2 0h0m-2-2h0m-6 0h0m0 2h0m-3 0h0m-1-2h0m-4 1h0m-2 1h0m-4-2h0m-2 1h0m-1-1h0m-3 1h0m-2 1h0m-3-2h0m-1 2h0m-1 0h0m-5-1h0m-1-1h0m-1 2h0m-2-1h0m-5-1h0m-1 0h0m0 1h0m-3 0h0m-6 0h0m-3-1h0m-1 2h0m-2-1h0m-2 0h0m-1 0h0m-1 1h0m-2 0h0m-1-2h0m-5 2h0m-1-1h0m-1-1h0m-1 0h0m0 2h0m-1-1h0m-2 0h0m0 1h0m-1 0h0m-3-2h0m-1 1h0m-1-1h0m-1 0h0m-3 0h0m0 1h0m-1-1h0m-1 0h0m-1 1h0m0 1h0m-1-1h0m0-1h0m0 2h0m-3-1h0m0-1h0m0 2h0m-1-2h0m-1 1h0m0 1h0m-1-1h0m0-1h0m0 2h0m-1-2h0m0 1h0m-2 1h0m-6 0h0m-2-2h0m-1 1h0m-5 1h0m-1-1h0m-1 1h0m-1 2h0m0 1h0m1-1h0m0 1h0m3-1h0m1 0h0m1 1h0m2-2h0m1 0h0m1 1h0m5-1h0m0 1h0m1-1h0m0 2h0m3-1h0m0-1h0m2 0h0m1 2h0m1 0h0m2-2h0m1 0h0m0 2h0m3-2h0m0 1h0m2-1h0m2 0h0m0 2h0m0-1h0m3 1h0m0-1h0m3-1h0m2 0h0m1 0h0m2 0h0m2 0h0m1 0h0m1 2h0m2-1h0m3-1h0m0 2h0m3 0h0m1 0h0m1-1h0m1 0h0m3 0h0m0 1h0m1-2h0m1 2h0m1-2h0m1 1h0m3-1h0m1 2h0m4 0h0m1-2h0m1 2h0m1-2h0m1 0h0m1 1h0m4 1h0m2 0h0m1 0h0m2 0h0m4 0h0m0-2h0m2 0h0m1 1h0m1 0h0m2-1h0m5 2h0m2-1h0m4 1h0m0-1h0m1-1h0m0 2h0m0-1h0m3-1h0m1 1h0m4 1h0m6 0h0m1 0h0m2-2h0m3 0h0m2 1h0m0 1h0m2-1h0m0 1h0m2-2h0m0 2h0m3 0h0m1-2h0m1 1h0m1 1h0m2 0h0m1-2h0m1 1h0m2 0h0m2 0h0m3 0h0m1 0h0m1-1h0m0 1h0m1 0h0m1-1h0m1 0h0m1 2h0m2-2h0m1 0h0m0 2h0m1 0h0m1-2h0m3 2h0m0-2h0m1 0h0m1 0h0m1 2h0m2 0h0m3 0h0m0-1h0m3 1h0m1-1h0m1-1h0m0 2h0m1-2h0m1 2h0m2-2h0m3 1h0m2 1h0m3-2h0m1 2h0m1-1h0m0-1h0m4 0h0m1 1h0m3 1h0m2-2h0m2 1h0m1-1h0m1 0h0m4 0h0m2 0h0m1 0h0m6 1h0m1 0h0m0-1h0m0 2h0m1 0h0m2 0h0m1-1h0m0-1h0m2 4h0m-3-1h0m0 1h0m-1-1h0m-2 1h0m0 1h0m-1-1h0m-1-1h0m0 2h0m-2 0h0m-1-2h0m-1 0h0m-1 1h0m-3-1h0m-1 2h0m-6-1h0m0-1h0m-2 0h0m-2 0h0m-4 2h0m-1 0h0m-4-1h0m-1 1h0m-4-2h0m-2 1h0m-2 0h0m0 1h0m-1-2h0m-3 1h0m-1-1h0m-1 2h0m-3 0h0m0-1h0m-3 0h0m-1 0h0m-2 1h0m0-1h0m-1-1h0m0 2h0m-1-2h0m-2 0h0m-2 2h0m-1-1h0m-2 0h0m-1-1h0m-2 1h0m-2 0h0m-1 1h0m0-1h0m-3-1h0m-1 1h0m0-1h0m-1 1h0m-1 1h0m0-1h0m-1 0h0m0-1h0m-1 1h0m0 1h0m-3-1h0m0-1h0m-2 2h0m-1 0h0m-2-1h0m-3 0h0m-3 1h0m-1-1h0m-4 0h0m-1 1h0m-2-2h0m-1 2h0m-1 0h0m-4-1h0m-1-1h0m-2 0h0m-3 2h0m-1-1h0m-3 0h0m-1 0h0m-1 0h0m-1 1h0m-5 0h0m-1 0h0m-1-1h0m-6-1h0m-2 1h0m-6-1h0m0 2h0m-1-1h0m-1 1h0m-2-1h0m-3 0h0m-1 0h0m-1-1h0m0 1h0m-2 0h0m-1 1h0m-5-1h0m-1 0h0m-2 0h0m-1 0h0m-3-1h0m-2 0h0m-2 1h0m-1-1h0m0 2h0m0-1h0m-1-1h0m0 2h0m-1-1h0m0-1h0m-2 1h0m-1 1h0m-1-1h0m-1-1h0m0 1h0m-1 0h0m-2 0h0m-1 0h0m0 1h0m-1-1h0m-7 1h0m-1-1h0m-2-1h0m0 2h0m-2 0h0m-3-1h0m-1 1h0m-1-2h0m0 1h0m-4 1h0m-2 0h0m-3-1h0m-1 1h0m0-1h0m0-1h0m-1 1h0m-4 0h0m-1 0h0m-1 0h0m-2 0h0m-1 1h0m-2-2h0m-4 2h0m-1 0h0m-1 3h0m1-2h0m0 2h0m2-1h0m3 0h0m0-1h0m2 0h0m1 2h0m0-1h0m2 1h0m2-1h0m2 0h0m1-1h0m1 2h0m1-2h0m0 2h0m2-1h0m0-1h0m1 2h0m1 0h0m1-2h0m2 1h0m1-1h0m1 1h0m3-1h0m0 2h0m2-1h0m2 0h0m1 0h0m1 0h0m2-1h0m2 0h0m1 0h0m0 2h0m3-2h0m1 2h0m0-2h0m5 1h0m0-1h0m1 1h0m0-1h0m1 2h0m1 0h0m1-2h0m1 0h0m3 2h0m2 0h0m4 0h0m1-2h0m0 1h0m3-1h0m0 2h0m1-2h0m2 0h0m1 0h0m1 1h0m3 1h0m1-2h0m0 2h0m1-2h0m3 1h0m1 0h0m1 0h0m1 0h0m1 0h0m0 1h0m1 0h0m1-1h0m1-1h0m1 0h0m1 2h0m2-2h0m0 2h0m1 0h0m2-1h0m2 0h0m2-1h0m1 1h0m1-1h0m1 1h0m0 1h0m1-1h0m0-1h0m2 2h0m0-2h0m1 1h0m0 1h0m1 0h0m7-2h0m2 1h0m1-1h0m1 2h0m1 0h0m7-1h0m3-1h0m2 1h0m1 0h0m0 1h0m2-1h0m1-1h0m5 0h0m4 0h0m2 1h0m1 0h0m0-1h0m0 2h0m2-2h0m3 0h0m1 0h0m2 1h0m4-1h0m1 0h0m2 1h0m4 0h0m1 1h0m2 0h0m1 0h0m2-2h0m9 0h0m1 1h0m1-1h0m1 0h0m2 0h0m1 0h0m1 2h0m1 0h0m2-2h0m10 1h0m4 0h0m1 1h0m0-1h0m2 0h0m1 0h0m0 1h0m4 0h0m1 0h0m1-2h0m0 1h0m4-1h0m1 1h0m2 1h0m3-1h0m2-1h0m1 2h0m2-2h0m2 1h0m0-1h0m0 2h0m2 0h0m0 3h0m-2-1h0m-8-1h0m-2 0h0m-4 1h0m-1 0h0m-3 1h0m-1 0h0m0-1h0m-1 1h0m-2 0h0m-2-2h0m-9 1h0m-1 1h0m-2 0h0m-1-2h0m-1 1h0m-2 1h0m-1-1h0m-1-1h0m-1 2h0m-2 0h0m-1 0h0m-1-1h0m0-1h0m-1 2h0m-1-2h0m-1 2h0m-1-1h0m-4 1h0m-1 0h0m0-1h0m-2 0h0m-2 1h0m-3-1h0m-1-1h0m-3 2h0m-5 0h0m-1-2h0m-2 0h0m-3 1h0m-1 0h0m-1-1h0m-2 1h0m-2 0h0m0-1h0m-1 2h0m-3-2h0m-2 1h0m-1 1h0m-1-1h0m-10 0h0m-6 1h0m0-1h0m-1 1h0m-2 0h0m-2-1h0m-2-1h0m-1 1h0m-2 0h0m0 1h0m-2-2h0m-2 0h0m0 2h0m-1-1h0m-6 1h0m0-1h0m-3 0h0m-2 0h0m-1 1h0m-4-2h0m-7 1h0m-2-1h0m-1 0h0m-1 1h0m-1 1h0m-1-1h0m-1 0h0m-2 1h0m0-1h0m-1 0h0m-1 0h0m0 1h0m-2 0h0m-7-2h0m0 2h0m-2-1h0m-4 0h0m-1 0h0m-1 0h0m-1 0h0m0 1h0m-1-1h0m-2 1h0m-1-1h0m-1 1h0m-7 0h0m-1-1h0m-3 0h0m-1 1h0m-2-2h0m-1 2h0m-3 0h0m0-1h0m-4 0h0m0-1h0m-2 0h0m0 1h0m-3 1h0m-2-2h0m-1 1h0m-3 1h0m-4-1h0m0-1h0m-3 1h0m-2 0h0m0 1h0m-1-1h0m-1 0h0m0-1h0m-1 1h0m-1-1h0m0 2h0m-1 0h0m-2-2h0m-1 1h0m-5 3h0m2 1h0m3-1h0m0 1h0m2-2h0m0 2h0m2 0h0m1-1h0m3-1h0m1 2h0m0-1h0m1 1h0m3 0h0m3 0h0m5-1h0m1-1h0m2 2h0m1 0h0m5-1h0m3 1h0m4-2h0m0 2h0m1-1h0m0 1h0m1-1h0m4-1h0m0 2h0m3 0h0m1-1h0m2 1h0m0-2h0m4 0h0m3 2h0m3-1h0m2 0h0m1 0h0m3 0h0m0-1h0m1 0h0m0 2h0m9-1h0m1 0h0m1 1h0m4-2h0m0 2h0m1-2h0m1 0h0m1 0h0m0 2h0m1-2h0m2 2h0m0-1h0m3 1h0m2 0h0m3 0h0m0-1h0m1 0h0m2 1h0m5 0h0m1-2h0m9 0h0m3 0h0m1 1h0m0-1h0m2 2h0m2-2h0m1 1h0m9-1h0m1 2h0m2 0h0m5-2h0m1 1h0m4 1h0m3 0h0m0-2h0m1 2h0m1 0h0m3-1h0m1 0h0m0-1h0m1 1h0m5 0h0m5-1h0m1 2h0m1-1h0m1-1h0m2 0h0m0 1h0m10-1h0m8 1h0m1 1h0m1-2h0m0 2h0m1-1h0m0 1h0m2-1h0m1 0h0m0 1h0m1-2h0m3 2h0m0-1h0m2-1h0m1 0h0m1 2h0m1-1h0m1-1h0m2 0h0m4 0h0m4 2h0m1-2h0m2 0h0m1 1h0m1 1h0m0-1h0m2 0h0m1 0h0m1-1h0m0 2h0m1-1h0m1 1h0m1-2h0m0 2h0m1-1h0m2 0h0m0 1h0m2-2h0m4 2h0m1 2h0m-4-1h0m-3 1h0m-3-1h0m0 2h0m-4-2h0m-2 2h0m-2 0h0m-1-1h0m-3-1h0m0 2h0m-3-2h0m-3 0h0m-3 2h0m0-1h0m-9 0h0m-1-1h0m-2 1h0m-3 0h0m-1-1h0m-3 1h0m-1 1h0m-5 0h0m-3-1h0m-3 0h0m-1 0h0m-1-1h0m-3 1h0m-2 0h0m0-1h0m-2 1h0m0-1h0m-4 1h0m-1 0h0m-1 0h0m-1 0h0m-1-1h0m-2 1h0m-2-1h0m-1 0h0m-1 1h0m-1-1h0m0 2h0m-4 0h0m-2-2h0m-8 1h0m0-1h0m-2 2h0m-1 0h0m-11-1h0m-2 1h0m-5-2h0m-4 2h0m-1-1h0m0 1h0m-4-2h0m0 2h0m-2-2h0m-1 1h0m-1-1h0m-5 0h0m-2 2h0m-1-2h0m-1 1h0m-1-1h0m-3 1h0m0 1h0m-1-1h0m0-1h0m-1 2h0m-1 0h0m-1-1h0m-1 0h0m-1 1h0m-3-1h0m-6-1h0m-2 2h0m-1 0h0m-3-2h0m-2 2h0m-1 0h0m-2-2h0m-2 0h0m-2 2h0m-1-1h0m-1 0h0m-3-1h0m-1 0h0m-1 1h0m-1-1h0m-3 0h0m-5 0h0m0 1h0m-1 0h0m-1 0h0m0-1h0m-1 0h0m0 2h0m-1-1h0m-1-1h0m-1 0h0m-1 2h0m-3-1h0m-1-1h0m-2 2h0m-4-1h0m-4 0h0m-1 1h0m-1 0h0m-1-2h0m-1 0h0m0 1h0m-5-1h0m0 2h0m-1 0h0m0-1h0m-2-1h0m-1 2h0m0-1h0m-1-1h0m-1 2h0m-5-1h0m-2 1h0m0-1h0m0-1h0m-3 0h0m-4 2h0m-1 2h0m3 1h0m3-2h0m0 2h0m1-2h0m5 1h0m1 0h0m0 1h0m1-1h0m1-1h0m1 2h0m1-1h0m0-1h0m0 2h0m3-1h0m2-1h0m2 1h0m1 0h0m4 0h0m0 1h0m1-1h0m0-1h0m6 0h0m1 1h0m0-1h0m1 0h0m2 1h0m1 1h0m1-1h0m1 0h0m3-1h0m1 0h0m2 0h0m2 1h0m0 1h0m10 0h0m3-1h0m1 1h0m1-1h0m5 0h0m1 0h0m0 1h0m1 0h0m2-2h0m2 0h0m1 2h0m0-1h0m6 1h0m3-2h0m1 1h0m4 0h0m1 0h0m3-1h0m3 1h0m5-1h0m1 1h0m0 1h0m1-2h0m3 1h0m1 1h0m3-2h0m3 2h0m1-2h0m0 1h0m1 1h0m1 0h0m3-1h0m3-1h0m2 1h0m1-1h0m9 0h0m3 1h0m9 0h0m5 0h0m2 1h0m1 0h0m2-2h0m1 0h0m1 1h0m1 0h0m5-1h0m0 2h0m1-2h0m2 1h0m1-1h0m1 1h0m2 1h0m1 0h0m2-2h0m2 2h0m2-1h0m5 1h0m10-2h0m12 2h0m1-2h0m0 2h0m2-1h0m3 0h0m1-1h0m3 2h0m6-2h0m0 2h0m0-1h0m2 1h0m2 0h0m2 0h0m4-2h0m1 2h0m1-2h0m1 2h0m1 0h0m1 0h0m1 0h0m1 0h0m1 0h0m0-2h0m3 2h0m1 0h0m0-1h0m0 4h0m-1 0h0m-4-2h0m-1 0h0m-1 1h0m-2 0h0m-3 1h0m-2-2h0m-1 0h0m-1 0h0m-1 2h0m-3-2h0m-2 1h0m0 1h0m-2-1h0m-1 0h0m-4-1h0m-1 1h0m0-1h0m-1 0h0m0 1h0m-1 1h0m-2-2h0m0 2h0m-4 0h0m-2 0h0m-1 0h0m-5-1h0m-4 1h0m0-1h0m-12-1h0m0 2h0m-2 0h0m-2-1h0m0-1h0m-3 0h0m0 1h0m-2 0h0m-7 1h0m-1-2h0m-1 2h0m-6 0h0m-1-1h0m-2-1h0m-1 1h0m-1-1h0m-7 0h0m-3 2h0m-1-1h0m-2 1h0m0-1h0m-3-1h0m-2 1h0m-1 1h0m-6 0h0m-4 0h0m-3-2h0m-5 1h0m-2 0h0m-2-1h0m-2 2h0m-2-1h0m-3 0h0m-3-1h0m0 2h0m-2-1h0m-1 0h0m-2-1h0m-2 1h0m-1 0h0m-1 0h0m-2-1h0m0 2h0m-1 0h0m0-1h0m-1-1h0m-2 2h0m-3-1h0m-3 0h0m-2-1h0m-1 0h0m-4 2h0m0-1h0m-2 1h0m-2-2h0m0 2h0m-1 0h0m-1-1h0m-3-1h0m-5 0h0m0 2h0m-2-2h0m-3 2h0m-4-2h0m-2 0h0m0 1h0m-1 0h0m-2-1h0m-1 0h0m0 2h0m-3-2h0m0 1h0m-1 0h0m-1 1h0m-1 0h0m-4-2h0m-1 2h0m-1-2h0m-2 0h0m-1 1h0m0-1h0m-5 0h0m-1 1h0m-3-1h0m0 2h0m-2-2h0m-2 1h0m-1 0h0m-1-1h0m-1 0h0m-4 2h0m-1-2h0m-4 2h0m-3-2h0m-1 1h0m-2 0h0m0-1h0m-1 2h0m0 1h0m16 1h0m1-1h0m1 2h0m1-1h0m3-1h0m1 0h0m1 0h0m3 2h0m4 0h0m2 0h0m3-2h0m4 0h0m0 1h0m4-1h0m0 2h0m1 0h0m0-1h0m6-1h0m1 1h0m1-1h0m0 1h0m1 0h0m1 1h0m0-1h0m1 1h0m1-2h0m0 2h0m1-2h0m2 0h0m2 2h0m2-1h0m2-1h0m0 1h0m2 0h0m1 0h0m4-1h0m1 0h0m1 0h0m1 0h0m2 0h0m4 2h0m1-2h0m3 1h0m1-1h0m0 1h0m1 0h0m3-1h0m1 2h0m1 0h0m4-1h0m0-1h0m0 2h0m2-1h0m4-1h0m2 1h0m2-1h0m4 1h0m1 0h0m0 1h0m3-2h0m2 0h0m2 2h0m3-1h0m0-1h0m2 2h0m1-2h0m3 0h0m1 1h0m2-1h0m6 0h0m8 0h0m1 1h0m3 0h0m1 0h0m2 0h0m5 0h0m4 0h0m0-1h0m3 0h0m1 0h0m9 1h0m10-1h0m1 1h0m3 1h0m1 0h0m1 0h0m3-2h0m3 2h0m3-2h0m2 1h0m4 1h0m7-1h0m3 1h0m2-1h0m2-1h0m3 1h0m2 0h0m4-1h0m1 0h0m1 2h0m1-1h0m2 1h0m0-1h0m1 1h0m2 0h0m3 0h0m1-1h0m6-1h0m1 0h0m2 4h0m0 1h0m-2-2h0m0 2h0m-2 0h0m-2 0h0m-2-2h0m-1 2h0m0-1h0m-2-1h0m0 2h0m-2 0h0m-1-1h0m-1 0h0m-1-1h0m-2 0h0m0 2h0m-1-1h0m-1-1h0m-2 1h0m-1 1h0m-2-2h0m-2 2h0m-2 0h0m-1-2h0m-2 0h0m-2 0h0m-9 1h0m-3-1h0m-3 1h0m-1 0h0m-6 0h0m-4 1h0m-2 0h0m-4-2h0m-3 1h0m-1-1h0m-1 0h0m-2 2h0m0-1h0m-3-1h0m-2 0h0m-1 2h0m-2 0h0m-3-2h0m-2 1h0m0 1h0m-4-2h0m-2 0h0m-1 1h0m-4 1h0m-1 0h0m-1 0h0m-4 0h0m-1-2h0m-2 0h0m-7 1h0m-1 1h0m-4 0h0m0-1h0m-3 1h0m-3-1h0m-1-1h0m-2 0h0m-5 0h0m-1 2h0m-1 0h0m-2-1h0m-1-1h0m-1 0h0m-2 0h0m-3 1h0m-1-1h0m-6 1h0m-4 0h0m-1-1h0m0 2h0m-2-2h0m-1 1h0m-1-1h0m-3 1h0m-1-1h0m-1 1h0m-1-1h0m0 2h0m-1 0h0m-2-2h0m-3 1h0m-1 1h0m-2-2h0m-1 0h0m-1 0h0m-1 0h0m0 2h0m-3-1h0m-1 0h0m-3 0h0m-3-1h0m0 2h0m-2-2h0m-4 1h0m-2-1h0m-2 2h0m0-1h0m-2 0h0m-3-1h0m-2 0h0m-1 0h0m-1 0h0m-3 2h0m0-1h0m-2 0h0m-2 1h0m-4-1h0m-2 0h0m0-1h0m-1 0h0m-1 2h0m-2-1h0m-1 0h0m0 1h0m-1-1h0m-1 0h0m-4 0h0m-2 1h0m-1 0h0m-7-1h0m-1-1h0m-1 1h0m-1 0h0m0 1h0m-3 0h0m0-1h0m-3 1h0m-1-2h0m-6 5h0m4 0h0m3-1h0m8-1h0m2 0h0m2 0h0m2 2h0m1-2h0m0 1h0m3 0h0m2-1h0m7 1h0m1-1h0m7 0h0m2 1h0m0-1h0m0 2h0m1-1h0m0-1h0m7 2h0m4-1h0m4 0h0m5 0h0m0-1h0m1 2h0m1-2h0m3 0h0m0 2h0m2-2h0m1 1h0m0-1h0m2 0h0m4 0h0m4 2h0m1-2h0m0 2h0m3-1h0m1 0h0m2 1h0m1 0h0m2-2h0m3 1h0m1 1h0m2-1h0m0 1h0m1 0h0m9-1h0m0 1h0m1-2h0m1 0h0m2 0h0m0 2h0m2-2h0m0 1h0m4 0h0m2 0h0m0 1h0m1-2h0m0 2h0m2-1h0m3-1h0m8 2h0m4-2h0m2 0h0m0 2h0m3 0h0m6 0h0m3 0h0m2 0h0m2 0h0m0-1h0m0-1h0m1 0h0m0 2h0m1 0h0m2 0h0m1-2h0m3 1h0m2-1h0m0 1h0m1 0h0m1-1h0m1 2h0m1 0h0m4-2h0m0 1h0m2 0h0m2 0h0m2 1h0m1-2h0m0 1h0m1-1h0m4 1h0m1-1h0m1 1h0m1-1h0m1 2h0m1-1h0m4 0h0m15 0h0m7-1h0m3 0h0m4 0h0m4 1h0m3 1h0m2 0h0m1-2h0m0 1h0m1 0h0m2 1h0m4-2h0m1 0h0m0 1h0m1 0h0m0-1h0m1 0h0m1 0h0m2 1h0m1-1h0m3 1h0m2-1h0m2 0h0m0 2h0m0-1h0m2 1h0m0 2h0m-1-1h0m-1 1h0m0 1h0m-2-2h0m0 2h0m-2-1h0m-2 1h0m-1-2h0m0 2h0m-1-2h0m-1 2h0m-4-2h0m-3 1h0m-1 1h0m0-2h0m-1 0h0m-1 2h0m-2-1h0m-1-1h0m-1 0h0m0 2h0m-1-2h0m-1 0h0m-1 0h0m0 2h0m-6 0h0m-3-2h0m-1 0h0m-5 0h0m-3 1h0m-8-1h0m-2 1h0m-1 0h0m-1-1h0m-3 2h0m-3-2h0m-5 1h0m-3-1h0m-5 0h0m-1 1h0m-12 0h0m-3-1h0m-1 2h0m-1-2h0m-2 1h0m-2-1h0m-2 2h0m-1-1h0m-1 0h0m-5-1h0m-4 2h0m-11-2h0m-1 2h0m-3-2h0m-1 0h0m0 2h0m-3-1h0m-2-1h0m-3 2h0m-3-2h0m-1 2h0m0-1h0m-1-1h0m-4 0h0m-2 2h0m-1 0h0m-1-2h0m0 1h0m-1 1h0m-1-1h0m-1 0h0m-1-1h0m0 1h0m-3-1h0m-8 0h0m-1 0h0m-6 1h0m-2-1h0m-4 2h0m-1-2h0m-5 2h0m-2-1h0m-3 1h0m-3 0h0m-3-2h0m-1 0h0m-9 0h0m-1 1h0m0-1h0m0 2h0m-1-2h0m-3 1h0m0 1h0m-1 0h0m-1 0h0m-1-2h0m-2 0h0m-7 2h0m-2-2h0m-3 0h0m-3 2h0m-7 0h0m-1-1h0m-3-1h0m-1 1h0m-4-1h0m-6 2h0m-1 0h0m-1-2h0m-2 0h0m-3 0h0m-2 0h0m-1 1h0m-1 4h0m7-1h0m3 0h0m18 1h0m6 0h0m1 0h0m2-1h0m2-1h0m1 0h0m4 2h0m1-1h0m2 0h0m4 0h0m1 0h0m1 0h0m7 1h0m1-1h0m5 0h0m0-1h0m2 1h0m3 1h0m0-1h0m1 1h0m2-1h0m0-1h0m4 0h0m1 2h0m4-1h0m4-1h0m1 2h0m0-2h0m2 1h0m2 0h0m3 1h0m1-2h0m2 0h0m1 2h0m2-2h0m0 1h0m1-1h0m1 2h0m1-1h0m1-1h0m1 0h0m1 2h0m2 0h0m2 0h0m4 0h0m4-2h0m1 2h0m1-2h0m0 2h0m2-1h0m0-1h0m6 2h0m6-1h0m2 1h0m6-2h0m6 1h0m0-1h0m7 0h0m5 2h0m1 0h0m10-2h0m1 0h0m1 2h0m9-1h0m1-1h0m0 2h0m2-2h0m2 1h0m3 0h0m1 1h0m4-1h0m1 1h0m0-1h0m1-1h0m1 2h0m5-2h0m2 2h0m2-1h0m2-1h0m1 2h0m11-2h0m5 2h0m0-1h0m1 0h0m6 0h0m1 1h0m1 0h0m3-2h0m0 2h0m2 0h0m1 0h0m2 0h0m1-2h0m0 2h0m1 0h0m7-1h0m3-1h0m1 0h0m0 1h0m1-1h0m2 0h0m0 2h0m2-1h0m4 1h0m0 3h0m-3 0h0m-3-2h0m-1 0h0m-1 1h0m-1-1h0m0 2h0m-10 0h0m-1 0h0m-3-1h0m-1 1h0m-1-2h0m-7 0h0m-6 2h0m-8-1h0m-2 0h0m-1 1h0m-10 0h0m-1-2h0m-3 0h0m-2 1h0m-16 0h0m-8-1h0m-2 2h0m-5-2h0m-14 0h0m-1 1h0m-2-1h0m-1 2h0m-4-1h0m0-1h0m-1 1h0m-8 0h0m-1 0h0m0-1h0m-6 1h0m-3 0h0m-2 1h0m-2-1h0m-4-1h0m-2 0h0m0 2h0m-1-2h0m0 2h0m-4-2h0m-1 0h0m-1 2h0m-1 0h0m-5-1h0m0-1h0m-3 2h0m-2-2h0m-1 2h0m-7 0h0m-1-1h0m-2-1h0m-1 2h0m-1-1h0m-1-1h0m-1 1h0m-1 0h0m-6 1h0m0-1h0m-2 1h0m-5-1h0m0-1h0m-3 1h0m0 1h0m-1-1h0m-4 0h0m-1-1h0m-1 1h0m-1 0h0m-1 1h0m-2-2h0m-3 2h0m-4-2h0m-2 2h0m-2 0h0m-1 0h0m-1-2h0m-3 2h0m-3-1h0m-2 0h0m-1 1h0m-3 0h0m-16 0h0m-17-2h0m0 5h0m5-2h0m28 1h0m7-1h0m1 1h0m2 0h0m1 0h0m2-1h0m1 2h0m1-1h0m10 1h0m2-1h0m1 1h0m2-1h0m3-1h0m1 2h0m4-1h0m0 1h0m1 0h0m1 0h0m0-1h0m1-1h0m0 2h0m4 0h0m5 0h0m2-2h0m1 2h0m4-2h0m0 1h0m1 0h0m1 0h0m1 0h0m2-1h0m0 2h0m1-1h0m3-1h0m0 1h0m2 1h0m1 0h0m1 0h0m3-2h0m0 2h0m2 0h0m1 0h0m0-1h0m1 0h0m1 0h0m1 1h0m1 0h0m2-1h0m1-1h0m3 2h0m2-2h0m2 0h0m6 2h0m1-1h0m1 1h0m1-2h0m3 2h0m7-2h0m1 2h0m2-2h0m11 2h0m3-2h0m3 2h0m1-1h0m7 0h0m3 0h0m1 1h0m4-1h0m2-1h0m1 1h0m2 1h0m2-1h0m3 1h0m2 0h0m3-2h0m11 1h0m14-1h0m9 1h0m1 1h0m6 0h0m2 0h0m1 0h0m0-1h0m1 1h0m3-2h0m4 2h0m0-2h0m2 2h0m4 0h0m0-2h0m1 0h0m4 2h0m1 0h0m0-2h0m1 2h0m2-1h0m1 1h0m1-2h0m3 2h0m2 0h0m0-1h0m1-1h0m1 3h0m0 2h0m-3 0h0m-3-1h0m-3-1h0m0 2h0m-1 0h0m-1-1h0m-1 1h0m-5-2h0m-2 1h0m-4 1h0m-2 0h0m-4-2h0m-1 1h0m-2 0h0m-3 1h0m-1 0h0m-3 0h0m-1-1h0m-14-1h0m-7 0h0m-3 2h0m-5 0h0m-1-2h0m-7 0h0m0 2h0m-2 0h0m-2-2h0m-3 1h0m-4-1h0m-2 2h0m-1-1h0m-3-1h0m-2 1h0m-1 0h0m-3-1h0m-3 2h0m-1-1h0m-4 0h0m-5 0h0m-3 0h0m-1 1h0m-7-1h0m-1 1h0m-4-1h0m-7-1h0m-1 2h0m-1-1h0m-2-1h0m-1 0h0m-3 0h0m-3 0h0m-1 0h0m-2 0h0m0 1h0m-1 1h0m-5-1h0m-1 1h0m-1-2h0m-1 0h0m0 1h0m-7 1h0m-3 0h0m-6-1h0m-1 0h0m-1 0h0m-2 1h0m-3 0h0m-2-1h0m-2 1h0m-2-1h0m-1 0h0m-1 1h0m-1 0h0m-6 0h0m0-1h0m-1 1h0m-2-2h0m-1 2h0m-5 0h0m-1 0h0m-3 0h0m-1-2h0m-7 1h0m-3-1h0m-6 1h0m-8 1h0m-5-2h0m-3 1h0m-3 1h0m0-1h0m-2 0h0m-22 3h0m19 1h0m1-1h0m4-1h0m12 0h0m14 0h0m1 1h0m1-1h0m14 1h0m1 0h0m5 0h0m9 0h0m1 0h0m1 0h0m3-1h0m3 0h0m3 1h0m3-1h0m0 1h0m9 1h0m3-2h0m0 2h0m1-2h0m1 1h0m2 0h0m1 1h0m2-1h0m0-1h0m1 1h0m3-1h0m1 0h0m0 1h0m2 1h0m2 0h0m1-2h0m1 0h0m0 2h0m1-2h0m1 1h0m1 0h0m2-1h0m11 2h0m2-2h0m3 0h0m6 2h0m9-1h0m1 1h0m5-1h0m3-1h0m1 1h0m6-1h0m3 1h0m2-1h0m2 2h0m2-2h0m1 2h0m2-2h0m2 2h0m12 0h0m1-1h0m24 1h0m2 0h0m3-2h0m1 0h0m1 1h0m0 1h0m4-2h0m1 1h0m0-1h0m1 1h0m6 1h0m1-2h0m0 2h0m6 0h0m2 0h0m2-1h0m1 1h0m2 0h0m2 0h0m0-1h0m1 1h0m0-1h0m2 0h0m2 0h0m2 1h0m-2 2h0m-1 0h0m-1 1h0m-7-1h0m-4-1h0m-2 0h0m-1 2h0m-1-2h0m0 2h0m-2-2h0m-1 0h0m0 2h0m-1-1h0m-2 0h0m-2 0h0m-4 1h0m-2-1h0m-3 1h0m-2-1h0m-6-1h0m-8 2h0m-17 0h0m0-1h0m-4 1h0m0-1h0m-5 1h0m-3-2h0m-3 1h0m-2 0h0m-5-1h0m-1 2h0m-2 0h0m-3 0h0m-2-2h0m-1 0h0m0 2h0m-8 0h0m-1-2h0m-1 0h0m-2 1h0m0 1h0m-2-1h0m-3 0h0m-5-1h0m-1 1h0m-3 1h0m-1-1h0m-6 0h0m-1-1h0m-2 0h0m-2 2h0m-1-2h0m-1 2h0m-1 0h0m-2 0h0m-1-1h0m-3-1h0m-1 2h0m-1-1h0m-1-1h0m-4 1h0m-2 1h0m-2-1h0m0 1h0m-4-1h0m-10 1h0m-3-2h0m-2 0h0m0 2h0m-2-2h0m-7 0h0m0 2h0m-2-2h0m-2 2h0m-4-1h0m0 1h0m-1 0h0m-8-2h0m-6 1h0m-1-1h0m-3 2h0m-5-2h0m-16 2h0m-25 3h0m8 0h0m19-2h0m9 2h0m11-2h0m6 1h0m3 1h0m2-1h0m4 1h0m0-2h0m4 1h0m1-1h0m1 0h0m3 0h0m1 1h0m0-1h0m2 0h0m2 0h0m2 2h0m8-1h0m1-1h0m6 2h0m3-2h0m0 2h0m1-1h0m2 1h0m9-2h0m1 1h0m4-1h0m1 0h0m1 2h0m3-1h0m5 1h0m1-1h0m1 1h0m1-2h0m0 1h0m1 1h0m1-2h0m0 1h0m5-1h0m2 0h0m5 2h0m5-2h0m2 2h0m1-2h0m1 0h0m3 2h0m2-2h0m3 0h0m1 1h0m5 1h0m5 0h0m4 0h0m0-2h0m4 2h0m1 0h0m7 0h0m5-1h0m9 1h0m0-1h0m1 0h0m2-1h0m3 2h0m9 0h0m4 0h0m9-2h0m1 1h0m0-1h0m4 1h0m1-1h0m2 0h0m2 2h0m2-2h0m2 1h0m3 0h0m2-1h0m4 2h0m2-1h0m1-1h0m2 0h0m0 2h0m1 0h0m1-1h0m0-1h0m3 0h0m0 3h0m-4 2h0m-1-2h0m0 2h0m-1-2h0m0 2h0m-1 0h0m-5 0h0m-5-2h0m-2 0h0m-1 2h0m-5-1h0m0 1h0m-1-1h0m-1 0h0m-4-1h0m-4 0h0m-10 0h0m-1 1h0m0 1h0m-7-1h0m-1 0h0m-11 0h0m-5 0h0m-3 0h0m-4-1h0m-1 1h0m-3 1h0m-1 0h0m-2 0h0m-2-1h0m-1-1h0m-1 2h0m-4 0h0m-3 0h0m-3 0h0m-1-1h0m-2-1h0m-1 1h0m-2 1h0m0-1h0m-5-1h0m-4 2h0m-6-2h0m-1 2h0m-1-2h0m-6 1h0m-1-1h0m-7 1h0m-2-1h0m-2 2h0m-3-2h0m-2 1h0m-11-1h0m0 1h0m-2-1h0m0 1h0m-3 0h0m-1 0h0m-1-1h0m0 1h0m-1 1h0m-2-1h0m-1 1h0m-2-1h0m-1 1h0m-2-1h0m-1-1h0m0 2h0m-5-2h0m0 2h0m-1-2h0m-3 0h0m-3 1h0m-1 1h0m-1-2h0m0 1h0m-1-1h0m-1 0h0m-1 1h0m-4-1h0m-5 1h0m-6 0h0m-7 0h0m-56 4h0m20-2h0m43 1h0m7 0h0m4 0h0m2-1h0m3 1h0m5-1h0m1 0h0m5 1h0m1 0h0m3 1h0m2-1h0m3 0h0m2 0h0m0-1h0m1 2h0m1 0h0m0-1h0m0-1h0m1 1h0m0-1h0m1 1h0m0 1h0m9-1h0m1-1h0m2 2h0m6-1h0m2 0h0m1 0h0m1-1h0m5 0h0m1 1h0m1 1h0m3-1h0m0 1h0m1-1h0m2 0h0m0-1h0m1 2h0m7-1h0m1 0h0m2 0h0m2-1h0m5 0h0m3 1h0m2 0h0m1 0h0m1-1h0m1 0h0m0 2h0m1-2h0m1 2h0m1-2h0m1 0h0m2 1h0m2 1h0m0-1h0m1 0h0m0 1h0m1-1h0m2 1h0m1-1h0m1-1h0m2 2h0m1-2h0m3 0h0m1 1h0m3 0h0m3-1h0m2 2h0m8 0h0m8 0h0m7 0h0m2-1h0m3 1h0m6-2h0m2 1h0m2-1h0m1 2h0m1-1h0m3-1h0m2 1h0m2 0h0m2 1h0m2-2h0m0 1h0m1-1h0m0 1h0m4-1h0m0 1h0m3-1h0m1 1h0m1 1h0m2 0h0m2 0h0m2-1h0m1-1h0m1 2h0m2-1h0m0-1h0m1 2h0m1-2h0m0 3h0m-2 0h0m0 1h0m-2 0h0m-1 1h0m-1-2h0m-1 2h0m-2-1h0m0-1h0m-1 2h0m-1-1h0m0-1h0m-4 1h0m-2 1h0m-2-2h0m0 2h0m-3-2h0m0 2h0m-1-1h0m-1-1h0m-1 0h0m-2 1h0m-2-1h0m-2 2h0m0-1h0m-1-1h0m-5 0h0m0 1h0m-3 1h0m-2-1h0m-2 1h0m-1 0h0m-2 0h0m-3 0h0m-4-1h0m-2 0h0m-9 0h0m-2 1h0m-7-1h0m-1-1h0m-3 1h0m-4-1h0m-2 1h0m-2 1h0m-1 0h0m-1 0h0m-2-2h0m-3 0h0m-1 2h0m-2-1h0m0-1h0m-3 0h0m-2 2h0m-1 0h0m-1 0h0m-1-2h0m-4 0h0m-2 1h0m-3 0h0m-4 1h0m0-1h0m-1 1h0m-2-2h0m0 2h0m-1-1h0m-1-1h0m-2 1h0m-7 0h0m-3-1h0m-2 0h0m-4 0h0m-16 1h0m-1-1h0m-2 1h0m-4 1h0m-2 0h0m-1-2h0m-2 1h0m-2 0h0m-2 1h0m-1-1h0m-2 1h0m-5 0h0m-1 0h0m-6-2h0m-1 0h0m-2 2h0m-2-2h0m0 2h0m-3-1h0m-2 1h0m-2-1h0m-15-1h0m-7 0h0m-29 0h0m44 4h0m3 0h0m2 0h0m6-1h0m4 0h0m2 2h0m2 0h0m1-2h0m3 0h0m5 0h0m2 0h0m5 0h0m0 1h0m1-1h0m3 0h0m4 0h0m2 1h0m3 1h0m6-1h0m3-1h0m5 2h0m3 0h0m4-2h0m0 2h0m2 0h0m7-2h0m1 2h0m1 0h0m2-2h0m0 2h0m1-2h0m3 1h0m2 0h0m2 1h0m0-1h0m1-1h0m4 0h0m4 1h0m2 0h0m5 1h0m0-1h0m5 1h0m1 0h0m0-1h0m1 0h0m1 0h0m2 0h0m6-1h0m7 1h0m1 0h0m0 1h0m5 0h0m1-2h0m5 1h0m10 0h0m7 1h0m3 0h0m7-2h0m1 2h0m0-2h0m2 2h0m2 0h0m1-1h0m0-1h0m1 2h0m1-1h0m1 1h0m2-1h0m1-1h0m2 0h0m2 1h0m3-1h0m4 2h0m1-2h0m0 2h0m0-1h0m1 0h0m0-1h0m1 1h0m0-1h0m3 0h0m2 0h0m0 2h0m1 0h0m2-2h0m1 1h0m0-1h0m1 2h0m0 3h0m-1 0h0m-1-1h0m-1-1h0m-2 0h0m-4 2h0m-6 0h0m-1-1h0m-4-1h0m-2 0h0m-7 2h0m-2 0h0m-3-1h0m0 1h0m-7 0h0m-1-2h0m-6 2h0m-1 0h0m-1-2h0m-8 0h0m0 1h0m-2 0h0m-2 1h0m-1 0h0m-1 0h0m-1-2h0m-4 2h0m-5 0h0m-4-1h0m0-1h0m-2 1h0m0-1h0m-1 2h0m0-1h0m-1 0h0m-2 1h0m-1-1h0m-3-1h0m-3 0h0m-1 0h0m-3 1h0m-6 1h0m-2 0h0m-1-1h0m0 1h0m-4-1h0m-1 1h0m-1-1h0m-4-1h0m0 2h0m-1 0h0m-1-1h0m-2 0h0m-2 0h0m-2 0h0m-1 1h0m-6-1h0m-3 0h0m-2 0h0m-3-1h0m-1 2h0m0-1h0m-6 1h0m-9 0h0m-1-2h0m-1 2h0m-4-1h0m-1 1h0m-1-2h0m-1 0h0m-2 0h0m-3 0h0m0 2h0m-1-2h0m-1 0h0m-2 0h0m-5 0h0m-4 1h0m-5 0h0m-2-1h0m-1 1h0m-2-1h0m-6 1h0m-16-1h0m0 2h0m-26 0h0m-37-1h0m-1 1h0m3 1h0m11 2h0m3-1h0m8 0h0m45 0h0m8 0h0m4-1h0m2 0h0m10 0h0m0 1h0m3-1h0m0 2h0m2-2h0m2 0h0m2 2h0m1-1h0m3-1h0m7 2h0m3-1h0m0-1h0m6 2h0m3-1h0m1 0h0m3 0h0m6 0h0m2 1h0m3 0h0m1-2h0m2 2h0m3-2h0m1 0h0m4 0h0m1 1h0m1 1h0m5-2h0m6 2h0m2 0h0m1-2h0m2 2h0m3 0h0m1 0h0m3 0h0m2-1h0m2 0h0m4-1h0m1 2h0m1-2h0m2 2h0m0-1h0m1 1h0m1-2h0m3 2h0m2-2h0m3 1h0m1-1h0m4 0h0m2 2h0m1-1h0m0 1h0m6 0h0m2-1h0m1 0h0m3 0h0m2 1h0m6 0h0m2-1h0m6 0h0m5-1h0m3 1h0m2 1h0m1-2h0m4 2h0m1-1h0m7-1h0m0 2h0m0-1h0m1-1h0m0 2h0m2 0h0m0-1h0m3-1h0m2 2h0m1-1h0m1 0h0m1 1h0m1-1h0m1 1h0m4-1h0m2 1h0m1-2h0m-3 5h0m0-1h0m-5-1h0m-1 0h0m-1 2h0m-2 0h0m0-1h0m0-1h0m-1 0h0m-5 1h0m0-1h0m-3 1h0m-1-1h0m-1 2h0m-3-1h0m0-1h0m-3 1h0m-8 1h0m-1 0h0m0-1h0m-2 1h0m-3 0h0m-3-2h0m-5 2h0m0-1h0m-4 0h0m-7 1h0m-6-1h0m0 1h0m-2-2h0m-7 2h0m-3-1h0m-1-1h0m-10 2h0m-1-2h0m-1 0h0m-2 2h0m-1-2h0m-1 1h0m-1 0h0m-1 1h0m-1-2h0m-1 0h0m0 2h0m-3-1h0m-4 1h0m-3-2h0m-8 0h0m-5 2h0m0-1h0m-3 0h0m0-1h0m-6 2h0m-1-2h0m-1 2h0m-1-1h0m0 1h0m-3 0h0m-1-2h0m-3 2h0m0-1h0m-1 1h0m-1 0h0m-2-1h0m-1 1h0m-1 0h0m-2 0h0m-8-2h0m-1 0h0m-2 1h0m-1 1h0m0-1h0m-1 1h0m0-1h0m-2 0h0m-4 1h0m-2-1h0m-4-1h0m-4 2h0m-2-2h0m-2 2h0m-18-1h0m-3 1h0m-2-1h0m-46 1h0m-2-2h0m44 5h0m17-2h0m8 1h0m4 0h0m5 0h0m1 1h0m2 0h0m1 0h0m2-1h0m0-1h0m4 0h0m6 1h0m3 1h0m1 0h0m0-1h0m4-1h0m0 2h0m1-2h0m0 1h0m1-1h0m5 1h0m2 1h0m8-2h0m3 0h0m4 1h0m1 0h0m1-1h0m3 0h0m1 0h0m0 1h0m5 0h0m3 1h0m1 0h0m2-2h0m1 0h0m0 1h0m2-1h0m2 1h0m2 1h0m6 0h0m5 0h0m8-1h0m0-1h0m1 0h0m5 0h0m2 2h0m2-1h0m1-1h0m1 2h0m0-1h0m1 0h0m2 0h0m4-1h0m10 2h0m1-1h0m1-1h0m1 0h0m2 1h0m1-1h0m5 2h0m1-2h0m1 2h0m4 0h0m2-1h0m3-1h0m1 0h0m0 2h0m1-2h0m1 0h0m3 0h0m1 1h0m1 1h0m0-1h0m1 0h0m3-1h0m0 2h0m1-1h0m4 0h0m4-1h0m1 2h0m0-1h0m2-1h0m1 0h0m7 2h0m2 3h0m-4 0h0m-1-1h0m-4 0h0m-3 0h0m0-1h0m-3 1h0m-1-1h0m-1 2h0m-5-2h0m-4 1h0m-3-1h0m0 2h0m-1-2h0m-4 1h0m-1 1h0m-3-2h0m-8 1h0m-3 1h0m-1-2h0m-1 1h0m0-1h0m0 2h0m-5-2h0m-3 0h0m-2 2h0m-2-1h0m-10-1h0m-3 1h0m-1-1h0m-1 0h0m-2 1h0m0 1h0m-2 0h0m-2-1h0m-6-1h0m-2 1h0m-1-1h0m-2 2h0m-1 0h0m-2 0h0m-1 0h0m-3-1h0m-5 1h0m0-1h0m-8 1h0m-4-2h0m-1 2h0m-1-1h0m-2 1h0m-4-1h0m0-1h0m-4 1h0m0 1h0m-3-1h0m-1 0h0m-1-1h0m-7 1h0m-2-1h0m-3 2h0m-1-2h0m0 1h0m-3 0h0m-2-1h0m-1 1h0m-1 0h0m-11 1h0m0-2h0m-5 2h0m-3-1h0m0-1h0m-3 0h0m-3 0h0m-8 0h0m-7 1h0m-64-1h0m35 3h0m28 1h0m15 1h0m11-1h0m1-1h0m2 1h0m0-1h0m3 1h0m0 1h0m1-1h0m1-1h0m2 0h0m3 1h0m4 0h0m2 0h0m1 0h0m2 1h0m2-1h0m1 0h0m0-1h0m4 2h0m5 0h0m1-2h0m0 1h0m1-1h0m3 1h0m2-1h0m6 0h0m4 0h0m3 0h0m0 2h0m0-1h0m1 0h0m1 1h0m1-1h0m0-1h0m3 2h0m1-1h0m0-1h0m2 0h0m2 1h0m2 0h0m1 0h0m4 0h0m5-1h0m1 1h0m2 0h0m3 1h0m3-2h0m4 2h0m3-2h0m1 0h0m1 1h0m1-1h0m1 1h0m0-1h0m4 0h0m0 1h0m2 0h0m3-1h0m3 0h0m0 1h0m2 1h0m0-1h0m0-1h0m14 2h0m5 0h0m0-1h0m2 0h0m0-1h0m1 0h0m0 2h0m5-1h0m2 1h0m1-2h0m2 0h0m4 2h0m2 0h0m2-1h0m2 0h0m1 0h0m6 1h0m5-1h0m1 1h0m2-1h0m2-1h0m-3 5h0m-1-1h0m-2 0h0m-3-1h0m-1 2h0m-1 0h0m0-1h0m-3 0h0m-2-1h0m-1 2h0m-1 0h0m-4-1h0m-2 0h0m-3 1h0m-3 0h0m0-1h0m-2 1h0m-1-2h0m-1 1h0m-1 0h0m0 1h0m-3-2h0m0 1h0m-1-1h0m-1 1h0m-5 1h0m-2 0h0m-4-1h0m-1-1h0m-2 2h0m-2-1h0m0-1h0m-5 0h0m-2 1h0m-1 1h0m0-1h0m-5-1h0m-6 1h0m-2 1h0m-1-2h0m-2 0h0m-3 2h0m-1-2h0m-1 0h0m-1 2h0m-2-2h0m-2 0h0m-2 2h0m-5-1h0m-1-1h0m-4 2h0m-1 0h0m-1 0h0m-1 0h0m-1-2h0m0 2h0m-2-2h0m0 1h0m-6-1h0m-2 1h0m-2 1h0m-1-2h0m0 1h0m-2 0h0m-6 1h0m-3-1h0m-2-1h0m-2 0h0m-3 0h0m-3 0h0m-3 1h0m-2-1h0m-1 0h0m-1 0h0m-3 0h0m-4 0h0m-8 0h0m-2 2h0m-2 0h0m0-1h0m-1 0h0m0 1h0m-1-2h0m-2 1h0m-7 0h0m-2 1h0m-4-2h0m-11 1h0m-32 2h0m40 0h0m2 1h0m1 1h0m13-2h0m1 2h0m1-2h0m1 2h0m5-2h0m0 2h0m6-1h0m2 1h0m5 0h0m4 0h0m0-1h0m2 1h0m1-1h0m1 0h0m0 1h0m1-1h0m1 1h0m1-2h0m0 2h0m2-2h0m3 0h0m1 2h0m2 0h0m4-1h0m0-1h0m2 2h0m4 0h0m0-1h0m4 1h0m7-1h0m1 0h0m2 0h0m1 0h0m1 1h0m1 0h0m7-2h0m2 2h0m5-1h0m4 1h0m2-2h0m4 0h0m7 0h0m5 1h0m1 1h0m2-1h0m1-1h0m0 2h0m1-2h0m1 1h0m0 1h0m9 0h0m1-1h0m0-1h0m2 1h0m0 1h0m3 0h0m2-2h0m2 0h0m3 2h0m8 0h0m4-2h0m2 1h0m0 1h0m1-1h0m0-1h0m1 1h0m7 1h0m1-1h0m0 1h0m1-2h0m2 2h0m1-1h0m3 1h0m0-1h0m2 1h0m1-1h0m0 1h0m1-2h0m1 0h0m2 0h0m0 3h0m-2 0h0m0 2h0m-3 0h0m0-1h0m-7 0h0m-1 0h0m-1-1h0m-6 0h0m-4 2h0m-4-2h0m-3 0h0m-1 0h0m-1 0h0m-2 1h0m-3 0h0m-3-1h0m-3 0h0m-2 0h0m-1 0h0m-1 2h0m-2 0h0m-1-2h0m-2 1h0m-1-1h0m-2 1h0m-2 1h0m-1-1h0m-1 1h0m-5-1h0m0-1h0m-1 1h0m-1-1h0m-1 1h0m-5 0h0m-1-1h0m0 1h0m-1-1h0m-2 1h0m-1 1h0m-3 0h0m-2-1h0m0-1h0m0 2h0m-3 0h0m-1-1h0m-11-1h0m-7 1h0m-3 0h0m-1 0h0m-1-1h0m-4 0h0m0 2h0m-1 0h0m-5-2h0m-4 1h0m0-1h0m-2 0h0m-4 0h0m-3 2h0m-3-1h0m0 1h0m-3-1h0m0 1h0m-1 0h0m-2-1h0m-8 0h0m-1 0h0m-1-1h0m-3 1h0m-2 1h0m-4-2h0m-3 2h0m-1-2h0m-16 1h0m-25 1h0m-75-1h0m13 2h0m102 1h0m1 1h0m3-2h0m6 1h0m0 1h0m2-2h0m4 0h0m1 1h0m1-1h0m3 0h0m1 2h0m0-1h0m4 0h0m2 0h0m6 0h0m3 0h0m1 0h0m4-1h0m0 2h0m3 0h0m8-1h0m2 0h0m2 0h0m1 0h0m3 1h0m1-1h0m3 1h0m1-1h0m1-1h0m0 2h0m3 0h0m2-2h0m1 0h0m2 0h0m2 0h0m1 0h0m1 2h0m2-1h0m10-1h0m2 1h0m3 1h0m1-2h0m1 2h0m2-2h0m1 0h0m1 1h0m0 1h0m1-1h0m5-1h0m2 2h0m2-1h0m8-1h0m1 2h0m0-1h0m3 1h0m3 0h0m1-1h0m1-1h0m7 1h0m1 1h0m2 0h0m1-2h0m1 1h0m2 1h0m1-1h0m6 1h0m6-1h0m1-1h0m0 1h0m1-1h0m1 0h0m0 1h0m1-1h0m3 2h0m0-1h0m1-1h0m0 5h0m-1-1h0m0-1h0m-13 1h0m-3 1h0m-10-1h0m-1-1h0m-5 1h0m0-1h0m0 2h0m-5-2h0m-2 0h0m-1 1h0m0-1h0m-4 2h0m-2 0h0m-1-2h0m-2 0h0m-1 1h0m-1-1h0m-4 1h0m-1 1h0m-2-2h0m0 2h0m-2-1h0m0-1h0m0 2h0m-1 0h0m-1 0h0m-3-1h0m-6-1h0m-2 2h0m-1-2h0m-1 0h0m-1 2h0m-7-2h0m-1 0h0m-2 2h0m-6-2h0m-3 0h0m0 1h0m-3-1h0m-3 2h0m0-1h0m-4 1h0m-1 0h0m-2 0h0m0-1h0m-4 1h0m-3 0h0m-1-2h0m0 1h0m-5 1h0m0-1h0m-6 1h0m-2 0h0m-2 0h0m-3 0h0m-3-2h0m-1 1h0m-3-1h0m-2 2h0m-2-2h0m-1 2h0m-6-2h0m-1 2h0m-2-1h0m-4 0h0m-3-1h0m-1 1h0m0 1h0m-35-2h0m-6 0h0m-48 0h0m-18 1h0m0 4h0m13-2h0m84 0h0m2 1h0m4-1h0m5 0h0m9 1h0m2-1h0m1 2h0m0-1h0m2 1h0m1-2h0m2 0h0m0 2h0m4 0h0m1-2h0m5 0h0m0 2h0m2 0h0m2-1h0m0-1h0m2 1h0m2-1h0m0 2h0m1-1h0m3-1h0m4 0h0m6 2h0m1-1h0m0-1h0m2 2h0m3 0h0m1-2h0m5 2h0m2-1h0m0-1h0m0 2h0m1-2h0m5 1h0m3 1h0m3-2h0m6 1h0m3 1h0m2-2h0m4 1h0m4 1h0m2-1h0m4-1h0m3 0h0m6 1h0m0-1h0m1 1h0m1 1h0m3-2h0m2 0h0m0 2h0m2-1h0m1 1h0m1-1h0m4-1h0m3 0h0m1 0h0m4 2h0m0-1h0m19-1h0m3 1h0m0-1h0m2 0h0m4 0h0m3 0h0m0 2h0m0 1h0m-1 2h0m-1-1h0m-2-1h0m-9 2h0m-3 0h0m-4 0h0m-1 0h0m-3 0h0m-1-1h0m-4 0h0m-7-1h0m0 1h0m-5-1h0m-3 1h0m-2-1h0m-2 0h0m-3 0h0m-1 1h0m-1-1h0m-1 2h0m-1-2h0m-1 1h0m-5 1h0m-4 0h0m-3-2h0m-4 0h0m-4 0h0m-3 1h0m0-1h0m-1 2h0m-10-1h0m-1 0h0m-5 0h0m0-1h0m0 2h0m-1 0h0m-3-2h0m0 2h0m-2-1h0m0-1h0m-1 1h0m-3-1h0m0 2h0m-2-2h0m-2 0h0m-4 1h0m-5 0h0m0 1h0m-2-2h0m-1 2h0m0-1h0m-2 1h0m-1-1h0m-3 0h0m0 1h0m-2-2h0m-5 1h0m-1-1h0m-2 2h0m-3-2h0m-1 1h0m-6 1h0m0-2h0m-1 1h0m0 1h0m-1-2h0m-20 2h0m-8 0h0m-10-1h0m-35-1h0m-31 1h0m-29-1h0m10 5h0m13 0h0m22-2h0m79 1h0m6-1h0m9 2h0m2 0h0m0-1h0m1 0h0m1 0h0m1 0h0m0 1h0m1-1h0m1-1h0m1 1h0m3 1h0m0-1h0m3 0h0m1 1h0m2-1h0m1 1h0m0-2h0m2 0h0m3 2h0m1-2h0m1 1h0m4 1h0m4 0h0m0-1h0m3 0h0m1-1h0m1 0h0m6 2h0m0-1h0m1-1h0m1 2h0m1-2h0m3 1h0m6 0h0m0-1h0m5 2h0m5-1h0m2-1h0m4 1h0m4 0h0m2 1h0m2 0h0m0-1h0m1-1h0m0 2h0m0-1h0m1 0h0m3-1h0m2 0h0m1 1h0m1-1h0m2 0h0m0 2h0m3-1h0m2 0h0m3 1h0m0-1h0m2-1h0m1 1h0m3-1h0m1 1h0m1 1h0m2-1h0m4 1h0m2-2h0m2 2h0m1-2h0m1 1h0m1-1h0m3 1h0m5 0h0m2-1h0m1 1h0m1 1h0m1-2h0m3 0h0m3 1h0m2-1h0m0 2h0m1 3h0m-2-2h0m-2 2h0m0-2h0m-1 0h0m-1 2h0m-5-2h0m-2 1h0m0 1h0m-2-1h0m-2-1h0m-2 1h0m-3 1h0m-3-2h0m-3 0h0m-7 2h0m-2-2h0m0 2h0m-9 0h0m0-1h0m-1 1h0m-3-1h0m-3-1h0m-5 0h0m-1 0h0m-4 1h0m-1-1h0m-3 2h0m0-2h0m-4 0h0m-1 1h0m-1-1h0m-7 2h0m-3-2h0m0 1h0m-7 0h0m-2 0h0m0 1h0m-1-1h0m-7-1h0m0 1h0m-4 1h0m-2 0h0m-9 0h0m-1-1h0m-6 1h0m-2-2h0m-2 0h0m0 2h0m-3-2h0m-1 0h0m0 1h0m-5 1h0m-1 0h0m-4-2h0m-3 1h0m-1 0h0m-6-1h0m-1 0h0m-6 2h0m-3-1h0m-4 0h0m-36 1h0m-74 1h0m44 2h0m19-1h0m34 0h0m1-1h0m5 0h0m5 2h0m6-2h0m3 0h0m4 0h0m1 0h0m6 0h0m4 1h0m1 1h0m1 0h0m3 0h0m0-2h0m9 1h0m0-1h0m1 0h0m2 0h0m1 2h0m1 0h0m2 0h0m1-2h0m4 0h0m9 0h0m1 2h0m2-1h0m1-1h0m0 1h0m4 1h0m2-2h0m1 1h0m2 0h0m2 1h0m1-1h0m2-1h0m2 2h0m14-2h0m2 2h0m1-1h0m5 1h0m3-1h0m0 1h0m1 0h0m7 0h0m4-1h0m4 1h0m1-1h0m2 0h0m3 1h0m1-2h0m1 2h0m2-1h0m3 0h0m0 1h0m12-2h0m2 0h0m2 1h0m3-1h0m4 2h0m1-1h0m2-1h0m3 1h0m0-1h0m3 1h0m-5 3h0m-3-1h0m-2 1h0m-1 1h0m0-1h0m-4 1h0m-3 0h0m-1-2h0m-1 1h0m-2-1h0m-4 0h0m-1 0h0m-4 2h0m-5 0h0m-1-1h0m-2-1h0m0 2h0m-1-2h0m-1 1h0m0 1h0m-4-1h0m-1 0h0m-2 1h0m-2-1h0m-1-1h0m0 2h0m-2 0h0m-5-1h0m-1 1h0m-2-2h0m-1 0h0m-1 2h0m-1-2h0m0 2h0m-1 0h0m-4-2h0m-2 0h0m-10 1h0m-1 1h0m-3-1h0m0-1h0m-7 1h0m-7 1h0m-4 0h0m-1-1h0m0 1h0m-1-1h0m-5-1h0m-2 1h0m0 1h0m-1-1h0m0-1h0m-1 1h0m-1-1h0m-3 1h0m-4-1h0m-2 1h0m-3 1h0m-5 0h0m-8 0h0m-1 0h0m-1-1h0m-1 0h0m-2 0h0m-1 1h0m-3 0h0m-2-2h0m0 2h0m-3-1h0m-7-1h0m-31 0h0m-87 4h0m39 1h0m2-1h0m7-1h0m32 0h0m43 0h0m0 1h0m1 0h0m2-1h0m1 1h0m1-1h0m0 2h0m1 0h0m4-2h0m0 2h0m2 0h0m3 0h0m0-1h0m1 1h0m2-2h0m1 1h0m2-1h0m1 2h0m1-1h0m1 0h0m1-1h0m1 2h0m2-2h0m0 2h0m3 0h0m1 0h0m1-2h0m9 0h0m1 2h0m1 0h0m2-2h0m8 2h0m1-2h0m3 1h0m1 0h0m0 1h0m9-2h0m2 2h0m6 0h0m2-1h0m2 0h0m0-1h0m1 1h0m2 1h0m1-2h0m0 2h0m3 0h0m4-1h0m1 1h0m1-2h0m0 2h0m1 0h0m0-1h0m1 0h0m2 1h0m1-2h0m2 0h0m4 0h0m2 2h0m1-2h0m5 2h0m2-1h0m1 1h0m4-2h0m4 1h0m0 1h0m1-2h0m1 0h0m2 2h0m9-2h0m2 0h0m0 2h0m2-1h0m4 1h0m1-1h0m0-1h0m1 1h0m0-1h0m2 1h0m5 4h0m-2-1h0m-6 0h0m0 1h0m-1 0h0m-4 0h0m-3-2h0m-2 1h0m-2 0h0m-4-1h0m0 2h0m-1-2h0m-2 0h0m-4 1h0m-1 1h0m-2-1h0m-2-1h0m-1 0h0m-6 1h0m-1 0h0m-1 1h0m-1-2h0m-1 2h0m0-1h0m-1 0h0m-1-1h0m0 2h0m-1 0h0m-3 0h0m0-2h0m-1 1h0m-1 1h0m-3-2h0m0 2h0m-6-1h0m-1 1h0m-3 0h0m-3 0h0m-2-2h0m-5 1h0m-3 0h0m-3 1h0m-5-1h0m-2 0h0m-1 0h0m-2 0h0m-3 1h0m-4-1h0m-7-1h0m0 2h0m-1-2h0m-5 0h0m-1 2h0m-1-1h0m-3 0h0m-1 0h0m-3-1h0m-1 2h0m-1-2h0m-1 2h0m-1-2h0m-7 0h0m-4 0h0m-1 2h0m0-1h0m-2 0h0m-1 0h0m-1 0h0m-2-1h0m-7 1h0m-8-1h0m0 1h0m-3 0h0m-5 1h0m-13 0h0m-5 0h0m-34 0h0m-42-2h0m1 5h0m6 0h0m8 0h0m15 0h0m58 0h0m8 0h0m15-1h0m18-1h0m3 2h0m2-1h0m0-1h0m2 2h0m1-1h0m1-1h0m3 1h0m1 1h0m1-2h0m0 2h0m1-1h0m0 1h0m1-1h0m2 0h0m1 0h0m2 1h0m2-1h0m3 0h0m3 1h0m2-1h0m0-1h0m1 1h0m1 1h0m1-2h0m2 2h0m1-2h0m3 1h0m1 0h0m1 0h0m9 1h0m2-2h0m4 0h0m5 1h0m1 0h0m9-1h0m1 2h0m4-1h0m2-1h0m2 2h0m3 0h0m1-2h0m2 1h0m1 1h0m2 0h0m2-2h0m3 2h0m6 0h0m0-1h0m2 1h0m4 0h0m5-2h0m0 2h0m0-1h0m2-1h0m0 2h0m1-2h0m1 0h0m4 1h0m1-1h0m1 0h0m1 2h0m2-2h0m4 1h0m1 1h0m1 0h0m-1 3h0m0-1h0m-4-1h0m-1 1h0m-1-1h0m-2 2h0m-1-2h0m-1 0h0m-3 0h0m0 1h0m-2 0h0m-1 1h0m-3-1h0m-2-1h0m-1 2h0m-1 0h0m-1-2h0m-1 0h0m-2 0h0m0 2h0m-2-1h0m0-1h0m-1 2h0m-1-1h0m-3-1h0m-1 2h0m-6 0h0m-4-2h0m0 1h0m-3-1h0m-1 1h0m-1-1h0m-1 1h0m-2 0h0m-4-1h0m0 2h0m-2-1h0m-2-1h0m-6 0h0m-3 1h0m-1-1h0m-9 2h0m-2 0h0m-4 0h0m0-1h0m-1 0h0m-4 1h0m-1-1h0m0 1h0m-1-1h0m-3-1h0m0 2h0m-3 0h0m-3-1h0m-1 1h0m-2 0h0m-1-1h0m-2 1h0m-4-1h0m-3 1h0m0-1h0m-4 1h0m-2-1h0m-2 0h0m-2-1h0m-2 1h0m-2-1h0m-1 1h0m-2 0h0m-1 1h0m-4 0h0m-2-2h0m0 2h0m-7 0h0m-70-1h0m-28-1h0m-31 2h0m27 1h0m102 2h0m9 0h0m1-1h0m3 0h0m2-1h0m1 2h0m2 0h0m3-1h0m3-1h0m9 2h0m4-1h0m1 0h0m2 1h0m5-2h0m2 0h0m0 2h0m2-1h0m2 0h0m5-1h0m3 2h0m0-1h0m7 0h0m1 0h0m1-1h0m3 2h0m2-2h0m5 0h0m1 0h0m2 1h0m3 0h0m0-1h0m1 0h0m7 0h0m0 2h0m2-1h0m1 0h0m1-1h0m0 2h0m1-1h0m2 0h0m1-1h0m0 1h0m3-1h0m0 1h0m2 1h0m0-2h0m1 1h0m3 0h0m6 1h0m2-2h0m1 2h0m3 0h0m2-1h0m1 1h0m3 0h0m3 0h0m2-2h0m6 1h0m2 1h0m1 0h0m5 2h0m-4 0h0m0-1h0m-1 0h0m-1 2h0m-1-2h0m-5 1h0m-3 1h0m-4-1h0m-1-1h0m-2 1h0m-5 1h0m0-1h0m-1 0h0m-1-1h0m-1 1h0m0 1h0m-1 0h0m-3-2h0m-2 2h0m-1-2h0m-4 0h0m-2 2h0m-2-2h0m-3 1h0m-2 0h0m-6 0h0m-5-1h0m-6 2h0m-2-1h0m-1-1h0m-1 2h0m-4-1h0m0 1h0m-8-2h0m0 2h0m-4-1h0m0 1h0m-1 0h0m-1-1h0m-2 0h0m-4 0h0m-2-1h0m0 1h0m-2-1h0m-3 2h0m-1-2h0m0 2h0m-1-1h0m0-1h0m0 2h0m-1 0h0m-2-2h0m-3 0h0m-1 1h0m-3 0h0m-2 0h0m-4 0h0m-1-1h0m-1 0h0m0 1h0m-4 0h0m-1-1h0m-2 2h0m0-2h0m-2 0h0m-1 0h0m-1 1h0m-9 1h0m-1-1h0m0 1h0m-11-1h0m-30 0h0m-10-1h0m-20 1h0m-2 1h0m-6-1h0m-15-1h0m-28 2h0m-4 0h0m-1 2h0m0 1h0m5-1h0m129-1h0m1 1h0m0 1h0m5 0h0m3 0h0m1-2h0m2 1h0m1 0h0m0 1h0m3 0h0m2-2h0m1 1h0m5 1h0m1 0h0m0-1h0m2 0h0m4-1h0m3 0h0m1 1h0m2 0h0m1 0h0m2 1h0m7-1h0m0 1h0m1-1h0m5-1h0m1 1h0m2 0h0m0-1h0m2 0h0m1 1h0m1-1h0m1 2h0m2 0h0m1-1h0m3 1h0m1-2h0m0 2h0m3-2h0m1 2h0m1-1h0m0-1h0m0 2h0m4-1h0m2 0h0m3 1h0m2-1h0m0 1h0m1-2h0m1 2h0m7 0h0m2 0h0m5-2h0m2 1h0m2 1h0m3 0h0m3 0h0m1-2h0m5 0h0m1 0h0m0 1h0m1-1h0m1 1h0m2 1h0m1-2h0m1 2h0m1 0h0m2-2h0m1 2h0m0-1h0m2-1h0m2 1h0m1 1h0m1-2h0m0 2h0m-1 1h0m-2 2h0m0-1h0m-1-1h0m-2 1h0m-1-1h0m-4 0h0m-1 1h0m-2 1h0m-1-2h0m0 2h0m-3-1h0m-2 1h0m-3-2h0m-1 1h0m-3 1h0m-2-1h0m-1-1h0m-4 1h0m-2-1h0m-1 1h0m-9 0h0m-3 0h0m-1 1h0m0-1h0m-1 0h0m-2-1h0m0 1h0m-6-1h0m-1 0h0m-6 1h0m-5 1h0m-2 0h0m0-1h0m-1 1h0m-2 0h0m-3 0h0m-3-2h0m0 2h0m0-1h0m-1 1h0m0-1h0m-1-1h0m-2 1h0m-1 0h0m-2 0h0m-3 0h0m-2-1h0m0 1h0m-2-1h0m-1 0h0m-1 0h0m-2 2h0m-2-2h0m0 2h0m-10-1h0m-1 0h0m-1-1h0m-3 1h0m-6 0h0m-3 1h0m-5 0h0m-116-1h0m15 3h0m63-1h0m12 2h0m18 0h0m4-1h0m1 0h0m5 1h0m4-2h0m2 0h0m0 1h0m1 1h0m6 0h0m1-1h0m1 0h0m3 0h0m1-1h0m0 1h0m2-1h0m2 0h0m0 2h0m2 0h0m1-1h0m1-1h0m0 2h0m3-1h0m0 1h0m1-2h0m3 1h0m2-1h0m0 1h0m6 1h0m0-1h0m5-1h0m0 2h0m0-1h0m3 0h0m1-1h0m0 2h0m1-2h0m0 2h0m1-2h0m1 1h0m1 0h0m1-1h0m0 2h0m1-2h0m1 1h0m1-1h0m3 0h0m3 2h0m0-1h0m1 1h0m5 0h0m0-1h0m2-1h0m0 1h0m1 1h0m2-2h0m3 2h0m2-1h0m2 1h0m0-1h0m4 1h0m4 0h0m3-1h0m0-1h0m0 2h0m1-2h0m1 1h0m1 0h0m1 0h0m1 0h0m7 1h0m4-1h0m1 0h0m0-1h0m4 2h0m1-1h0m6-1h0m1 0h0m1 1h0m1 1h0m0 3h0m0-1h0m-1 0h0m0-1h0m-1 2h0m-9-2h0m-2 0h0m-2 1h0m0-1h0m0 2h0m-3-2h0m-1 1h0m-2 0h0m0 1h0m-4-1h0m-3 0h0m-3 0h0m0-1h0m-2 2h0m-2-2h0m-1 1h0m-3 1h0m-8-2h0m-3 1h0m-1 0h0m-3 0h0m0 1h0m-2 0h0m-1-2h0m-1 0h0m-2 1h0m-3 0h0m-1-1h0m0 2h0m-7 0h0m-2 0h0m-2-1h0m-4 0h0m0 1h0m-4-2h0m-10 1h0m0 1h0m-1-2h0m-3 2h0m-2-1h0m-1 1h0m-2-2h0m0 1h0m-4 0h0m-3 0h0m-1-1h0m-1 1h0m-3 1h0m-7 0h0m-2-1h0m-2 0h0m-4-1h0m-1 1h0m-22-1h0m-18 2h0m-20-1h0m-51 0h0m31 3h0m28 1h0m39-2h0m14 1h0m8-1h0m0 2h0m2-2h0m3 0h0m5 2h0m4-2h0m1 2h0m2 0h0m4-1h0m3-1h0m2 2h0m8 0h0m2 0h0m1-1h0m0-1h0m9 1h0m2 1h0m1-2h0m4 1h0m8 0h0m1 1h0m1-1h0m1-1h0m2 0h0m1 2h0m6-2h0m8 1h0m1-1h0m2 0h0m4 2h0m1-2h0m1 0h0m1 1h0m3 0h0m1-1h0m1 1h0m3 0h0m1 0h0m1 1h0m2-2h0m2 0h0m0 2h0m0-1h0m1 1h0m1-1h0m4 0h0m0-1h0m1 0h0m2 2h0m0-1h0m5 0h0m1-1h0m-3 3h0m-1 1h0m-2-1h0m-4 0h0m-9 2h0m0-1h0m-4 0h0m-1 1h0m-1 0h0m0-2h0m-6 2h0m-1-1h0m-7 1h0m-3-1h0m-2-1h0m0 1h0m-3-1h0m0 2h0m-1-2h0m-2 0h0m-2 0h0m-3 1h0m-2 1h0m-4-2h0m-1 2h0m-2-2h0m-1 1h0m-3 0h0m-1 0h0m-1 1h0m-2-1h0m-5-1h0m-3 1h0m-2 0h0m-1-1h0m-2 0h0m-3 0h0m-3 1h0m-2 1h0m-3-1h0m0-1h0m0 2h0m-2-2h0m-3 1h0m-3-1h0m-2 0h0m0 1h0m-2 0h0m-1 1h0m-3-1h0m-1 0h0m-1 1h0m-1-2h0m-1 2h0m-5-1h0m-1 1h0m-1-1h0m-10 1h0m-3-1h0m-4 1h0m-106-1h0m-5-1h0m-12 2h0m4 2h0m19-1h0m42 2h0m51-2h0m14 0h0m18 1h0m1 1h0m9-2h0m0 1h0m6 1h0m1-2h0m1 2h0m5 0h0m5-2h0m0 2h0m6-2h0m0 2h0m3-1h0m2-1h0m0 2h0m4 0h0m1-1h0m0-1h0m3 0h0m0 2h0m2-1h0m12-1h0m1 0h0m1 2h0m4-2h0m1 1h0m1-1h0m5 2h0m0-1h0m1-1h0m8 0h0m1 2h0m0-2h0m1 1h0m1 1h0m2-2h0m1 2h0m1 0h0m3-2h0m0 2h0m1-2h0m1 1h0m1-1h0m1 1h0m4 1h0m1 0h0m1-1h0m0-1h0m3 2h0m1-1h0m2 0h0m2 1h0m-3 3h0m-1-1h0m-3-1h0m-2 2h0m-3-1h0m-9 0h0m-4 1h0m-1-1h0m-1 1h0m-1 0h0m-3-1h0m-3 1h0m-1-2h0m-2 1h0m-1 1h0m-3-1h0m-1 0h0m-7-1h0m-3 2h0m-1-1h0m-3-1h0m-3 0h0m-2 0h0m-2 1h0m-7-1h0m-4 1h0m-1-1h0m-2 1h0m-2-1h0m-1 0h0m-3 2h0m-1-2h0m-3 0h0m-2 2h0m-1-2h0m-3 2h0m-1-1h0m-2 0h0m0-1h0m-1 0h0m-5 2h0m0-1h0m-1 0h0m-1 1h0m-2 0h0m-1 0h0m0-2h0m-15 0h0m-1 2h0m-3 0h0m-12 0h0m-115-1h0m19 3h0m40-1h0m81 1h0m9 1h0m4 0h0m1 0h0m2-1h0m0-1h0m1 0h0m1 1h0m1-1h0m0 2h0m1 0h0m4 0h0m1 0h0m1-1h0m1 1h0m0-1h0m2-1h0m1 1h0m3 1h0m1-2h0m1 0h0m0 2h0m7-1h0m1 1h0m1-1h0m6-1h0m1 0h0m1 1h0m4-1h0m2 1h0m0 1h0m1-1h0m2 0h0m1 0h0m3-1h0m0 2h0m1-1h0m3 0h0m4 1h0m1-1h0m2-1h0m2 2h0m3-1h0m4-1h0m4 0h0m0 1h0m2 0h0m1 1h0m11-1h0m2 1h0m4-1h0m0-1h0m-5 3h0m0 1h0m-2-1h0m-2 2h0m-2-2h0m0 1h0m-8-1h0m-1 0h0m-3 1h0m-3 1h0m-1 0h0m-1 0h0m-2-1h0m-3-1h0m0 1h0m-1 0h0m-1 1h0m0-1h0m-3 1h0m-1-2h0m-1 2h0m-1-2h0m-5 2h0m-1-2h0m-1 2h0m-4-1h0m-3 1h0m-6-1h0m-1-1h0m-1 1h0m-4 1h0m-3-2h0m0 2h0m-3-2h0m0 2h0m-2-1h0m-5-1h0m-3 0h0m-1 0h0m0 1h0m-6 1h0m-2-1h0m-8 1h0m-4 0h0m-4-2h0m-3 2h0m-17-2h0m-2 2h0m-60-2h0m60 4h0m21-1h0m2 1h0m2 1h0m1-1h0m4 1h0m1-2h0m1 2h0m0-1h0m1-1h0m7 2h0m1 0h0m1 0h0m3-1h0m1-1h0m4 2h0m2-2h0m0 2h0m1-1h0m1-1h0m1 0h0m1 1h0m0-1h0m1 1h0m4 1h0m1-1h0m2-1h0m3 0h0m1 2h0m10 0h0m2-2h0m1 0h0m0 2h0m2-1h0m3 0h0m1 1h0m2-1h0m1-1h0m5 2h0m3 0h0m1 0h0m3-1h0m1 0h0m0 1h0m1-2h0m1 0h0m1 1h0m1 1h0m2 0h0m1-2h0m4 2h0m5-2h0m1 0h0m0 2h0m2-2h0m-4 3h0m-3 2h0m-2 0h0m-2-2h0m-1 0h0m-5 2h0m-1-2h0m-2 1h0m-1 0h0m-2 0h0m0-1h0m-1 0h0m0 2h0m-3-2h0m-3 2h0m-2-2h0m-2 1h0m-4 1h0m-1-1h0m-1 1h0m-2 0h0m-7-1h0m0 1h0m-2 0h0m-2 0h0m-2 0h0m-1-1h0m-1 1h0m-4-1h0m-2-1h0m-12 1h0m0-1h0m-1 2h0m-2 0h0m-1 0h0m-7-2h0m-4 1h0m-3 1h0m-5-2h0m-75 1h0m-22 0h0m-41 1h0m-5-1h0m-1 3h0m26-1h0m23 1h0m102 0h0m2 0h0m4 1h0m2 0h0m3-2h0m2 1h0m1-1h0m2 1h0m1-1h0m3 2h0m0-1h0m1 0h0m0-1h0m0 2h0m3-2h0m2 1h0m1 0h0m1-1h0m0 2h0m2-1h0m5 0h0m1-1h0m7 0h0m9 1h0m1 1h0m1-2h0m1 1h0m1 0h0m1 0h0m1 1h0m0-1h0m1 1h0m2-1h0m1 0h0m1 0h0m4-1h0m14 1h0m1-1h0m0 2h0m-3 1h0m-8 1h0m-5 1h0m-1-2h0m-5 0h0m-2 0h0m-2 0h0m-6 0h0m0 1h0m-2-1h0m-1 1h0m-1-1h0m-1 1h0m-3-1h0m0 2h0m-5 0h0m-1-2h0m-3 0h0m0 2h0m-1-1h0m-1 1h0m0-1h0m-1-1h0m-2 1h0m-3 1h0m-1-1h0m0-1h0m-9 2h0m-4-1h0m-1 1h0m-4-1h0m-1-1h0m-7 0h0m-1 2h0m-21-1h0m-36 0h0m-45-1h0m-46 0h0m4 3h0m13 1h0m66 1h0m72-2h0m3 1h0m0-1h0m5 1h0m0-1h0m6 1h0m0-1h0m1 1h0m2 1h0m4-2h0m5 1h0m2 0h0m1 0h0m3-1h0m0 2h0m1 0h0m1-1h0m0-1h0m1 1h0m3-1h0m1 1h0m1 0h0m1-1h0m3 2h0m1-1h0m6 0h0m1-1h0m0 2h0m2-1h0m0-1h0m2 1h0m1-1h0m0 2h0m2-1h0m4-1h0m-4 3h0m-9 0h0m-3 0h0m-1 0h0m-1 0h0m-5 0h0m-135 0h0m-23 1h0m-20 2h0m19 3h0m-4 0h0m-29 3h0m22 3h0m-16 2h0m25 1h0m-11 5h0" stroke="#2b2d7c" stroke-width="1.7" stroke-linecap="square"/>
<path d="M73.9 1560.4L73.9 1905" stroke="#222" stroke-width="1.4" />
<path d="M69.9 1631.9L73.9 1631.9" stroke="#222" stroke-width="1.2" />
<text x="67.9" y="1639.4" font-size="21" text-anchor="end">4</text>
<path d="M69.9 1686.3L73.9 1686.3" stroke="#222" stroke-width="1.2" />
<path d="M69.9 1740.9L73.9 1740.9" stroke="#222" stroke-width="1.2" />
<text x="67.9" y="1748.4" font-size="21" text-anchor="end">0</text>
<path d="M69.9 1795.3L73.9 1795.3" stroke="#222" stroke-width="1.2" />
<path d="M69.9 1849.6L73.9 1849.6" stroke="#222" stroke-width="1.2" />
<text x="67.9" y="1857.1" font-size="21" text-anchor="end">-4</text>
<text transform="translate(41,1740) rotate(-90)" font-size="21" text-anchor="middle">UMAP 2</text>
<path d="M83.5 1918.7L375.6 1918.7" stroke="#222" stroke-width="1.4" />
<path d="M83.5 1918.7L83.5 1923" stroke="#222" stroke-width="1.2" />
<text x="84" y="1944.4" font-size="21" text-anchor="middle">-10</text>
<path d="M156.5 1918.7L156.5 1923" stroke="#222" stroke-width="1.2" />
<path d="M229.9 1918.7L229.9 1923" stroke="#222" stroke-width="1.2" />
<text x="230.9" y="1944.4" font-size="21" text-anchor="middle">0</text>
<path d="M303.1 1918.7L303.1 1923" stroke="#222" stroke-width="1.2" />
<path d="M375.6 1918.7L375.6 1923" stroke="#222" stroke-width="1.2" />
<text x="376.6" y="1944.4" font-size="21" text-anchor="middle">10</text>
<text x="228" y="1963.6" font-size="21" text-anchor="middle">UMAP 1</text>
<text x="92.4" y="1586.8" font-size="20.6">Centroblast signature</text>
<defs><linearGradient id="gj" x1="0" y1="1" x2="0" y2="0"><stop offset="0" stop-color="#fafaff"/><stop offset="0.45" stop-color="#b8b2dc"/><stop offset="0.75" stop-color="#5a4aa6"/><stop offset="1" stop-color="#2a2f7c"/></linearGradient></defs>
<rect x="381.6" y="1780" width="15.8" height="110.4" fill="url(#gj)" />
<text x="403.5" y="1800.4" font-size="20.4">0.015</text>
<path d="M381.6 1793.4L384.5 1793.4" stroke="#fff" stroke-width="1" />
<path d="M394.5 1793.4L397.4 1793.4" stroke="#fff" stroke-width="1" />
<text x="403.5" y="1819.6" font-size="20.4">0.014</text>
<path d="M381.6 1812.6L384.5 1812.6" stroke="#fff" stroke-width="1" />
<path d="M394.5 1812.6L397.4 1812.6" stroke="#fff" stroke-width="1" />
<text x="403.5" y="1839.5" font-size="20.4">0.013</text>
<path d="M381.6 1832.5L384.5 1832.5" stroke="#fff" stroke-width="1" />
<path d="M394.5 1832.5L397.4 1832.5" stroke="#fff" stroke-width="1" />
<text x="403.5" y="1859.2" font-size="20.4">0.012</text>
<path d="M381.6 1852.2L384.5 1852.2" stroke="#fff" stroke-width="1" />
<path d="M394.5 1852.2L397.4 1852.2" stroke="#fff" stroke-width="1" />
<text x="403.5" y="1878.9" font-size="20.4">0.011</text>
<path d="M381.6 1871.9L384.5 1871.9" stroke="#fff" stroke-width="1" />
<path d="M394.5 1871.9L397.4 1871.9" stroke="#fff" stroke-width="1" />
<polygon points="729.7,1605.1 760.5,1605.5 782.5,1611.1 806.5,1632.7 823.3,1647.1 840.1,1683.1 852.1,1709.5 853.3,1733.5 847.3,1769.5 840.1,1795.9 825.7,1824.7 806.5,1839.1 782.5,1847.5 746.5,1846.3 710.5,1841.5 686.5,1841.5 662.5,1846.3 614.5,1858.3 595.3,1869.1 576.1,1858.3 566.5,1829.5 560.5,1793.5 566.5,1757.5 573.7,1723.9 583.3,1697.5 600.1,1671.1 614.5,1637.5 638.5,1627.9 674.5,1613.5 698.5,1609.9" fill="#f7f7fb"/>
<path d="M757 1606h0m-50 3h0m6 1h0m22-1h0m35-1h0m5 2h0m8 3h0m-8-1h0m-13-1h0m-14 2h0m-49 0h0m-26 2h0m1-1h0m44 2h0m31-2h0m39 3h0m-12 2h0m-19 0h0m-5 0h0m-27 0h0m-29 0h0m-9-1h0m0-1h0m-2 1h0m-1-1h0m-1 0h0m-12 0h0m-4 3h0m3 1h0m7 0h0m2 1h0m8-2h0m4 0h0m0 1h0m3 1h0m77-2h0m17 4h0m0 1h0m-70-2h0m-26 0h0m-4 0h0m-12 1h0m-1 1h0m-15 0h0m-6 0h0m-6 2h0m2 0h0m9 1h0m25 0h0m5-1h0m18-1h0m14 0h0m31 0h0m6 1h0m6 1h0m22 1h0m-10 1h0m-7-1h0m-54 0h0m-5 0h0m-26 0h0m-14 2h0m-9-1h0m-5 0h0m-9 1h0m-4-1h0m0 1h0m-3 0h0m-15 3h0m2 0h0m13-2h0m0 1h0m1-1h0m5 2h0m12 0h0m23-1h0m1 0h0m3-1h0m26 0h0m6 2h0m54-2h0m10 0h0m19 1h0m6 0h0m-31 2h0m-5 1h0m-37 1h0m-11-1h0m-11 1h0m-8-2h0m-20 1h0m-8 0h0m-8 1h0m-4 0h0m-8 0h0m-4 0h0m-4-2h0m-4 0h0m-2 1h0m-6 0h0m-4 0h0m-4-1h0m-6 2h0m-1-1h0m-1 0h0m3 3h0m6 0h0m2 1h0m2 0h0m0-1h0m3 0h0m2-1h0m1 1h0m13 0h0m1 1h0m13-1h0m7 1h0m4 0h0m9-1h0m11 1h0m2-2h0m5 0h0m95 5h0m-8 0h0m-10 0h0m-5 0h0m-5-2h0m-4 1h0m-36 1h0m-1-2h0m-11 1h0m-41-1h0m-10 0h0m-1 1h0m-4 1h0m-5-1h0m-5 1h0m-9-2h0m-10 0h0m-1 2h0m-4-2h0m-2 2h0m-1-1h0m-1-1h0m-7 1h0m-3 0h0m-2 1h0m1 1h0m7 1h0m4 0h0m3-1h0m2 0h0m3 0h0m2 1h0m7 0h0m1 0h0m1 0h0m1 1h0m1-1h0m4-1h0m1 0h0m1 2h0m7-2h0m5 1h0m3 1h0m3-1h0m13 1h0m15-2h0m17 1h0m43-1h0m32 0h0m13 1h0m14 0h0m6 2h0m-1 0h0m-32 1h0m-17-1h0m-6 2h0m-62-2h0m-11 1h0m-18-1h0m-5 0h0m-5 2h0m-6-1h0m-1 0h0m-4 0h0m-3-1h0m-1 2h0m-6-1h0m-2 0h0m-2-1h0m-3 1h0m-8 0h0m-4-1h0m-5 2h0m-2-2h0m-3 2h0m-1 0h0m1 1h0m6 2h0m7-1h0m4 0h0m0-1h0m10 1h0m2 0h0m11-1h0m8 1h0m6 1h0m3-2h0m1 0h0m13 2h0m2 0h0m6-1h0m13 1h0m61 0h0m5-2h0m14 1h0m1 1h0m10 0h0m5 0h0m23 3h0m-5-2h0m-18 1h0m-1-1h0m-7 2h0m-2-2h0m-15 0h0m-7 1h0m-63 0h0m-20 0h0m-15 0h0m-3 1h0m-3-2h0m-7 0h0m-21 0h0m-2 2h0m-4 0h0m-2-2h0m-2 1h0m-2 1h0m-6-1h0m-4 0h0m0 1h0m-4-2h0m-3 1h0m0 2h0m2 1h0m4 0h0m3-1h0m3 0h0m10 2h0m10-1h0m3-1h0m1 0h0m3 0h0m2 1h0m5 1h0m1-1h0m2-1h0m3 2h0m7 0h0m10 0h0m27-2h0m3 0h0m63 1h0m5 0h0m30 2h0m-9 1h0m-2 1h0m-3-2h0m-5 1h0m-1-1h0m-72 2h0m-14-1h0m-6-1h0m-3 0h0m-11 1h0m0-1h0m-4 0h0m-18 1h0m-1 0h0m-4 1h0m-2-2h0m-1 0h0m-5 2h0m-8-1h0m-1 1h0m-2-2h0m-10 1h0m-13 1h0m0-1h0m-3-1h0m-5 3h0m3 0h0m5 2h0m3-1h0m10 0h0m1-1h0m3 2h0m2-2h0m8 0h0m0 2h0m4-2h0m4 0h0m1 0h0m11 0h0m1 0h0m8 2h0m24-1h0m17-1h0m5 2h0m69 0h0m8 0h0m16 0h0m2 0h0m6-2h0m1 0h0m10 3h0m-1 2h0m-9 0h0m-9 0h0m-11-2h0m-12 0h0m-3 2h0m-19-1h0m-2-1h0m0 2h0m-11 0h0m-6-2h0m-32 2h0m-28 0h0m-6 0h0m-11-1h0m-10 0h0m0 1h0m-5-2h0m0 2h0m-3 0h0m-8-1h0m-4 0h0m-1 0h0m-7 0h0m-8 0h0m-2 0h0m-4 1h0m-4 0h0m-2-2h0m-4 1h0m0 4h0m5 0h0m4 0h0m4 0h0m2-2h0m0 1h0m1 0h0m1 1h0m2 0h0m0-1h0m4 1h0m6-2h0m5 0h0m1 2h0m2-1h0m5-1h0m1 0h0m3 0h0m2 1h0m3 1h0m2 0h0m2-1h0m11-1h0m8 2h0m4 0h0m3-2h0m3 2h0m1 0h0m6 0h0m64-1h0m3 0h0m23 0h0m2-1h0m0 1h0m8-1h0m14 2h0m10-2h0m-4 3h0m-7 0h0m0 2h0m-1-2h0m-2 2h0m-10-2h0m-4 2h0m-8-1h0m-6 0h0m-23 1h0m-70-1h0m-6-1h0m-2 2h0m-7-1h0m-3 0h0m-1 0h0m-6 1h0m-1 0h0m-1 0h0m-1 0h0m-8 0h0m-4 0h0m-3 0h0m-8-2h0m-3 0h0m-7 2h0m-4-1h0m-4 0h0m-1-1h0m-6 2h0m-2-2h0m-2 1h0m-2 0h0m3 4h0m1-2h0m2 2h0m3-2h0m0 2h0m9-2h0m4 2h0m1-1h0m1 0h0m4-1h0m3 2h0m8-1h0m0 1h0m4-2h0m0 2h0m7-2h0m11 2h0m4-1h0m9-1h0m1 2h0m9 0h0m30 0h0m3-1h0m36 1h0m27-2h0m9 0h0m4 2h0m11-1h0m2 1h0m3-1h0m12 0h0m12-1h0m-10 4h0m-25 0h0m0-1h0m-7 1h0m-1-1h0m-2 1h0m-4 1h0m-54 0h0m-19-2h0m-16 0h0m-4 2h0m-3 0h0m-4-1h0m-3 0h0m-13 0h0m-1 1h0m-2-2h0m-2 0h0m-1 2h0m-1-1h0m-2-1h0m-9 2h0m-1-1h0m-8 0h0m-1 0h0m-1-1h0m0 1h0m-18 1h0m-5-2h0m-3 0h0m0 1h0m-2 0h0m-1 1h0m-1-2h0m0 1h0m-4 0h0m-3-1h0m-4 1h0m-2-1h0m0 2h0m-4 3h0m1-1h0m2-1h0m3 2h0m0-1h0m1 0h0m3-1h0m2 0h0m2 2h0m0-1h0m5 1h0m0-2h0m2 1h0m7 0h0m1 1h0m8-2h0m2 2h0m1-1h0m1-1h0m1 2h0m2-2h0m2 2h0m0-1h0m1 1h0m1 0h0m1-2h0m2 2h0m13 0h0m2 0h0m1-2h0m12 1h0m4 0h0m10 0h0m1 0h0m5 1h0m73-1h0m12-1h0m28 2h0m23 0h0m-3 2h0m-11 1h0m-7 0h0m-15-1h0m-15 0h0m-36-1h0m-32 2h0m-24-2h0m-1 1h0m-8 1h0m-10-1h0m-6 1h0m-2 0h0m-1-1h0m-2-1h0m-3 1h0m-7 0h0m-1-1h0m-4 2h0m-4 0h0m-3-2h0m-7 1h0m-1 1h0m-3-1h0m-2 0h0m0-1h0m-1 2h0m-1 0h0m-2-1h0m-3 0h0m-2 1h0m-1 0h0m-1-1h0m-4-1h0m0 2h0m-2 0h0m-1 0h0m-6-2h0m0 1h0m-1 1h0m0-1h0m-3-1h0m-2 5h0m3-2h0m2 1h0m6 1h0m8 0h0m1-1h0m4 1h0m1-1h0m10 0h0m8 0h0m2 0h0m2-1h0m1 1h0m9 1h0m3-1h0m9 0h0m4-1h0m1 1h0m2 1h0m1-2h0m2 0h0m15 1h0m12 1h0m2-2h0m24 0h0m61 2h0m3-1h0m9 0h0m3 0h0m8 1h0m11-1h0m17-1h0m4 0h0m-11 5h0m-4-2h0m-2 1h0m-9 0h0m-7-1h0m-12 0h0m-6 1h0m-15 1h0m-22-1h0m-27 1h0m-30-1h0m-4 0h0m-2 1h0m-5 0h0m-3 0h0m-1-2h0m-11 2h0m-1-1h0m-1 0h0m-1 0h0m-2 0h0m-1-1h0m-2 0h0m-3 1h0m-1-1h0m0 1h0m-6-1h0m0 2h0m-1-2h0m0 1h0m-1 0h0m-2-1h0m-2 2h0m-2 0h0m-1 0h0m-4 0h0m-9-2h0m-2 0h0m-1 2h0m-1-2h0m-3 1h0m-7 1h0m-11 0h0m-2-1h0m-2 1h0m-2 0h0m-5 0h0m-4-1h0m1 3h0m8-1h0m1 2h0m1-2h0m1 0h0m1 0h0m2 1h0m1 0h0m5 1h0m0-1h0m5-1h0m5 0h0m1 2h0m1-2h0m3 0h0m5 1h0m1 0h0m2 0h0m2-1h0m8 2h0m4-2h0m3 2h0m4 0h0m6 0h0m1-1h0m3-1h0m8 1h0m4 1h0m5 0h0m7 0h0m5-2h0m1 2h0m1-2h0m9 1h0m3-1h0m25 2h0m41-2h0m3 2h0m23 0h0m24 0h0m6-1h0m5-1h0m8 2h0m1 0h0m-28 1h0m-12 1h0m-11 1h0m-7-1h0m-31-1h0m-17 1h0m-25 0h0m-25-1h0m-2 0h0m-2 0h0m-4 1h0m-6 0h0m-19 1h0m-2-1h0m-1 0h0m0 1h0m-7-1h0m-4 1h0m-1-1h0m-1 0h0m-2 1h0m-3-2h0m-6 2h0m-8 0h0m-1-1h0m-2-1h0m-1 2h0m-6 0h0m-4-1h0m-1 0h0m0-1h0m-3 1h0m0 1h0m-3 0h0m-3-2h0m0 2h0m-2-2h0m-1 2h0m-1 0h0m0-1h0m-1 0h0m-2 0h0m-1 1h0m-1 0h0m-1 1h0m2 0h0m2 2h0m2-1h0m3-1h0m1 0h0m2 1h0m4 1h0m2-1h0m2-1h0m5 1h0m4 1h0m6-2h0m2 2h0m12-2h0m1 2h0m1-2h0m1 0h0m3 0h0m4 2h0m6-1h0m8 0h0m3 0h0m12 1h0m6 0h0m3-1h0m14-1h0m1 1h0m2 1h0m6 0h0m1 0h0m48 0h0m6-2h0m21 2h0m13-2h0m4 0h0m1 0h0m5 0h0m8 2h0m10 0h0m6 0h0m13 0h0m1 3h0m0-1h0m-12-1h0m-13 0h0m-10 0h0m-7 2h0m-3-2h0m-2 1h0m-5-1h0m-1 1h0m-2 0h0m-9 0h0m-3 1h0m-6 0h0m-9-1h0m-5-1h0m-8 0h0m-16 1h0m-32 0h0m-2 0h0m-3-1h0m-4 2h0m-15-2h0m-3 0h0m-4 2h0m-5-2h0m-5 1h0m-1 0h0m-1 0h0m-1 0h0m-2 1h0m-2-1h0m-4 1h0m-3-2h0m-2 2h0m-1-2h0m-6 1h0m-8 1h0m-1-1h0m-3 0h0m0-1h0m-5 2h0m-1-2h0m-3 0h0m-2 0h0m-4 2h0m-4 0h0m-1-1h0m-2 1h0m-2-1h0m-1 1h0m-2 0h0m-1-1h0m-8 0h0m-1-1h0m0 2h0m-2 0h0m0-1h0m-1 0h0m3 2h0m3 1h0m7 0h0m4 1h0m1-2h0m1 1h0m1 1h0m2 0h0m7-2h0m1 0h0m1 2h0m2-2h0m2 2h0m1-2h0m0 2h0m2-2h0m0 2h0m2 0h0m2 0h0m1-1h0m1 1h0m1 0h0m1-2h0m1 1h0m0-1h0m0 2h0m1 0h0m0-1h0m1 0h0m1 1h0m1-2h0m1 1h0m3 0h0m3-1h0m3 0h0m2 0h0m0 2h0m2-1h0m2 1h0m2-2h0m1 0h0m2 2h0m2-2h0m5 1h0m1-1h0m5 2h0m4-1h0m0 1h0m2-1h0m2 0h0m10 0h0m6 1h0m2-1h0m8 0h0m80-1h0m9 0h0m36 0h0m8 2h0m10 0h0m6 0h0m-3 1h0m-12 1h0m-2 0h0m-3-1h0m-9 1h0m-7 0h0m-10-1h0m-9 1h0m-9 1h0m-4-1h0m-8 0h0m-3-1h0m0 1h0m-21 0h0m-12-1h0m-42 2h0m-3-2h0m0 2h0m-2-1h0m-2 0h0m-10-1h0m-4 2h0m-3-2h0m-6 0h0m-1 1h0m-4-1h0m-1 0h0m-4 1h0m-1 0h0m-1 0h0m-1-1h0m-5 2h0m-4-1h0m-1 1h0m-2-1h0m0-1h0m-1 1h0m-3-1h0m-2 1h0m-1 1h0m-2-2h0m-1 1h0m0-1h0m-1 1h0m-3 1h0m-7-2h0m-3 2h0m-1 0h0m-3-1h0m-3 1h0m-1-1h0m-4 1h0m-3 0h0m-5 0h0m-2-1h0m-1-1h0m-1 2h0m-1 0h0m0-2h0m-1 2h0m-1-1h0m-2 0h0m0 1h0m-2-2h0m-2 0h0m-1 1h0m0 1h0m-1-1h0m0-1h0m-1 0h0m-2 1h0m2 4h0m8 0h0m0-1h0m0-1h0m1 1h0m1 0h0m1-1h0m3 2h0m3 0h0m2 0h0m1-2h0m1 2h0m3-1h0m0-1h0m0 2h0m1-2h0m1 0h0m0 1h0m3 0h0m0-1h0m2 1h0m0-1h0m1 0h0m1 2h0m3-1h0m1 1h0m1-1h0m1 1h0m2-2h0m0 2h0m3-1h0m0-1h0m2 2h0m3 0h0m2 0h0m1-2h0m1 1h0m6 0h0m2 1h0m1 0h0m2-1h0m3 1h0m3-1h0m3-1h0m4 0h0m5 0h0m3 0h0m2 0h0m2 2h0m3-1h0m1-1h0m3 2h0m2-2h0m10 1h0m4 1h0m6-1h0m7-1h0m0 2h0m56-2h0m2 1h0m21 1h0m21-1h0m19-1h0m4 1h0m6-1h0m4 2h0m1-1h0m1 0h0m1 1h0m1 2h0m-9 0h0m-2 1h0m-8 0h0m-5 0h0m-17-1h0m-10-1h0m0 1h0m-9-1h0m-5 2h0m-2 0h0m-4-1h0m-49 0h0m-5 1h0m-18-2h0m0 2h0m-3 0h0m-1-1h0m-1-1h0m-19 1h0m-1 1h0m-2-2h0m0 1h0m-7 0h0m0-1h0m-4 1h0m0-1h0m-4 0h0m0 2h0m-4-2h0m-5 2h0m-1-2h0m0 1h0m-1-1h0m-1 1h0m-3-1h0m-2 0h0m0 2h0m-8 0h0m-1-2h0m-7 1h0m-2 1h0m-3 0h0m-4-2h0m-1 1h0m-1 0h0m-3 0h0m-3 1h0m-2 0h0m-3-2h0m-2 1h0m-2-1h0m0 1h0m-7 1h0m-1-1h0m0-1h0m-1 1h0m-1-1h0m0 2h0m-3-2h0m-2 0h0m-2 0h0m0 1h0m-3-1h0m-2 1h0m3 3h0m2-1h0m6 0h0m0 2h0m0-1h0m1 0h0m1 0h0m3 1h0m0-1h0m4-1h0m0 2h0m6 0h0m2-1h0m2 0h0m0-1h0m1 0h0m0 2h0m0-1h0m1-1h0m1 0h0m1 2h0m0-1h0m1 0h0m1-1h0m2 0h0m2 0h0m2 1h0m0-1h0m0 2h0m3 0h0m4-2h0m5 2h0m1 0h0m1 0h0m2 0h0m2 0h0m2-2h0m1 2h0m1-1h0m2-1h0m2 0h0m5 1h0m0 1h0m1 0h0m2 0h0m1 0h0m3-1h0m0 1h0m4-2h0m0 1h0m1 0h0m0 1h0m3-1h0m0 1h0m2-1h0m1 1h0m1 0h0m7-1h0m18-1h0m1 0h0m6 2h0m1-1h0m19 0h0m36 1h0m27-1h0m7-1h0m1 2h0m4-1h0m3-1h0m3 0h0m15 0h0m7 2h0m19 0h0m3 0h0m6-1h0m-22 4h0m-13-2h0m-10 2h0m-1-2h0m-6 1h0m-10 0h0m-8-1h0m-16 2h0m-43-2h0m-9 0h0m-6 2h0m-13-1h0m-4 0h0m-1 1h0m-1-2h0m-14 0h0m-1 1h0m-1 0h0m-3-1h0m-3 0h0m-2 2h0m-1 0h0m-1 0h0m-5-2h0m-2 0h0m-1 0h0m-1 1h0m0-1h0m-1 1h0m0 1h0m-4-1h0m-4-1h0m-2 1h0m-2 1h0m-2-1h0m-4 0h0m0 1h0m-5 0h0m-1 0h0m-1 0h0m0-1h0m-2-1h0m-2 1h0m-1-1h0m-1 2h0m-4-1h0m-2 1h0m-1-2h0m0 2h0m-1-1h0m-2-1h0m-1 1h0m-1 1h0m-4 0h0m0-2h0m-3 1h0m0-1h0m-1 0h0m0 1h0m-1 0h0m-1 0h0m-3 1h0m-2-2h0m-2 1h0m-2 0h0m-1 1h0m-6-1h0m-1 1h0m-2-1h0m-4 0h0m0 1h0m-1-2h0m0 4h0m3 1h0m1 0h0m3 0h0m1 0h0m2-2h0m1 2h0m4-2h0m3 2h0m2-1h0m4 0h0m3-1h0m1 1h0m3-1h0m1 1h0m2 1h0m2 0h0m2-1h0m0-1h0m1 0h0m0 2h0m1 0h0m4-2h0m0 1h0m1-1h0m0 2h0m1-2h0m2 0h0m1 1h0m1-1h0m1 0h0m0 1h0m4 1h0m2-2h0m2 1h0m1 0h0m2 1h0m4-2h0m5 1h0m4 0h0m2-1h0m2 0h0m0 2h0m6-1h0m2-1h0m0 2h0m2 0h0m3-2h0m6 2h0m9-2h0m3 0h0m2 2h0m6-2h0m2 2h0m3-2h0m6 0h0m3 2h0m2 0h0m2-2h0m84 1h0m9-1h0m1 0h0m8 2h0m32-1h0m4-1h0m1 1h0m1 1h0m-2 2h0m-4 0h0m-8 1h0m-4-1h0m-11-1h0m-4 2h0m-2-2h0m-17 0h0m-22 0h0m-19 1h0m-2 0h0m-3 0h0m-19 1h0m-19-2h0m-6 2h0m0-2h0m-23 1h0m-8 0h0m-1-1h0m-2 0h0m-2 0h0m-6 2h0m-3-1h0m-1 0h0m0-1h0m0 2h0m-2 0h0m-2 0h0m-2 0h0m-3-2h0m-1 0h0m-1 1h0m-1-1h0m-2 0h0m-1 1h0m-2 1h0m-1-2h0m-6 2h0m-1 0h0m-1-2h0m-2 1h0m0-1h0m-1 2h0m0-1h0m-1 1h0m0-1h0m-2 1h0m-1 0h0m-3-1h0m-1 1h0m-4 0h0m-2-2h0m0 1h0m-1-1h0m-1 0h0m-4 0h0m-2 1h0m-1 0h0m-2-1h0m-1 2h0m-3-1h0m-3-1h0m-1 2h0m-1 0h0m-1-2h0m-2 1h0m-3 1h0m-1-2h0m-1 0h0m-1 2h0m-2-1h0m-1 0h0m-3 1h0m0-1h0m-2 0h0m-6-1h0m-2 0h0m-1 1h0m0-1h0m-1 0h0m3 4h0m1 1h0m2-1h0m2-1h0m1 2h0m2-2h0m1 0h0m1 2h0m1 0h0m2-1h0m1 1h0m1-2h0m0 1h0m4 0h0m1-1h0m2 1h0m3 0h0m3-1h0m1 1h0m1 0h0m0 1h0m3-1h0m3 1h0m2 0h0m1-1h0m4 1h0m0-2h0m3 2h0m2-2h0m1 0h0m1 0h0m0 2h0m4 0h0m7 0h0m2-2h0m2 2h0m6-2h0m1 2h0m0-1h0m2-1h0m1 2h0m2-2h0m2 1h0m1 1h0m1-2h0m0 2h0m2-2h0m0 2h0m1-1h0m2-1h0m1 1h0m1 1h0m4 0h0m3-1h0m4 0h0m4-1h0m1 1h0m2 0h0m7 0h0m1 1h0m14-2h0m3 1h0m21 0h0m9 1h0m49-1h0m20-1h0m6 0h0m16 2h0m6-2h0m7 0h0m1 2h0m8 1h0m-3 1h0m-1 0h0m-6 0h0m-77 0h0m-31 1h0m-6-1h0m-6 1h0m-3-1h0m-26 1h0m-3 0h0m-2-1h0m-4 1h0m-6-1h0m-3 1h0m-1-1h0m-1 1h0m-7 0h0m-1 0h0m-1 0h0m-3-1h0m-6 1h0m-1-1h0m0-1h0m-1 0h0m0 1h0m-4 0h0m-1-1h0m-1 1h0m-1 0h0m-1 0h0m0-1h0m-1 0h0m-3 2h0m-1 0h0m-3-2h0m-2 2h0m-4-2h0m0 2h0m-7-2h0m-1 2h0m-1-2h0m-1 0h0m0 2h0m-1-1h0m-1 0h0m-3-1h0m-4 2h0m-1 0h0m-1 0h0m-4 0h0m-2 0h0m-4 0h0m-1-1h0m-1-1h0m-3 0h0m0 2h0m-4-1h0m-1 1h0m-4-2h0m-1 1h0m-2-1h0m0 1h0m-4 0h0m0 1h0m-1-2h0m-1 2h0m-2-2h0m0 2h0m-1-2h0m-1 5h0m2-2h0m4 1h0m1 1h0m3-2h0m1 0h0m2 2h0m3 0h0m1 0h0m1-1h0m1 1h0m3-2h0m1 2h0m0-1h0m1 0h0m0 1h0m2-2h0m1 2h0m1 0h0m7-2h0m1 2h0m1 0h0m1-2h0m1 1h0m1 0h0m1 1h0m2 0h0m5-2h0m0 1h0m1 0h0m1 0h0m0 1h0m1-2h0m0 2h0m7-2h0m1 1h0m2 1h0m1-2h0m2 0h0m1 0h0m2 0h0m2 0h0m0 1h0m2 0h0m0-1h0m2 2h0m0-1h0m4-1h0m1 0h0m1 2h0m3-2h0m1 0h0m2 1h0m1 0h0m5-1h0m3 0h0m2 0h0m0 2h0m0-1h0m4 1h0m1-1h0m2 1h0m3 0h0m14-1h0m18 1h0m3-2h0m28 1h0m28-1h0m8 0h0m4 0h0m8 0h0m3 0h0m17 2h0m9 0h0m31 3h0m-32 0h0m-12-2h0m-3 2h0m-7-1h0m-27-1h0m-3 1h0m-12 1h0m-1 0h0m-16-1h0m-3-1h0m-5 1h0m-15 0h0m-4-1h0m-4 1h0m-17 0h0m-3 0h0m-3 0h0m-3 1h0m-2-1h0m-1 1h0m-6 0h0m-2-2h0m-1 1h0m-3 0h0m-3 1h0m-3-1h0m-1 0h0m0-1h0m-1 0h0m0 2h0m0-1h0m-3 0h0m-1-1h0m-1 2h0m-1-1h0m-4 0h0m-1 1h0m-1-2h0m-6 2h0m-1-1h0m-3 0h0m0 1h0m-1-2h0m-7 2h0m0-1h0m-2 1h0m0-2h0m-3 2h0m-2-2h0m-5 2h0m-1-1h0m-2 1h0m0-1h0m-5 0h0m0 1h0m-1-1h0m-1-1h0m0 2h0m-3-2h0m-1 2h0m-2-1h0m-4 1h0m-4 0h0m-4-2h0m-1 2h0m-1 0h0m-1 0h0m0-1h0m-2 0h0m-6-1h0m-3 0h0m-2 5h0m4-2h0m1 0h0m2 1h0m0 1h0m1 0h0m3 0h0m2-2h0m1 2h0m6 0h0m1-1h0m3-1h0m0 2h0m5 0h0m0-1h0m0-1h0m1 0h0m4 2h0m3-1h0m1-1h0m1 2h0m0-2h0m4 1h0m1 0h0m1-1h0m1 0h0m0 1h0m1 0h0m1-1h0m3 1h0m1 0h0m2-1h0m5 0h0m7 2h0m1 0h0m0-1h0m0-1h0m1 1h0m0-1h0m0 2h0m4-2h0m1 2h0m1 0h0m1-2h0m1 2h0m0-1h0m1 1h0m1-2h0m2 1h0m2 0h0m1-1h0m2 2h0m1-1h0m1-1h0m11 0h0m2 2h0m2-2h0m4 1h0m7-1h0m6 1h0m1-1h0m4 2h0m1 0h0m1-2h0m0 2h0m3-1h0m15 0h0m3-1h0m2 0h0m7 0h0m2 0h0m18 1h0m3-1h0m12 1h0m30 0h0m7 1h0m12-2h0m0 1h0m6-1h0m9 1h0m8 4h0m-20-1h0m-4-1h0m-3 2h0m-5-2h0m-14 0h0m-5 0h0m-3 1h0m-36 0h0m-5 0h0m-38 0h0m-2 0h0m-3-1h0m0 2h0m-15-2h0m-1 1h0m-1 0h0m-4 0h0m-1 0h0m-1-1h0m-2 1h0m-1-1h0m-3 2h0m-2 0h0m-3-2h0m-1 2h0m-1-1h0m-1 1h0m-2-2h0m-1 2h0m-1 0h0m-5 0h0m-1-1h0m-1-1h0m-1 2h0m-4-2h0m-2 0h0m0 2h0m-3-2h0m-3 0h0m0 1h0m-1 1h0m-4-2h0m-2 2h0m-3 0h0m-1 0h0m-1-1h0m-2 0h0m-1 1h0m-2 0h0m-1 0h0m-1-1h0m-1 0h0m0-1h0m-2 1h0m0 1h0m-1-2h0m-1 1h0m0 1h0m-2 0h0m-1-2h0m-3 0h0m-1 0h0m-1 1h0m-1 0h0m0-1h0m-1 0h0m-2 2h0m0-1h0m-2-1h0m-2 1h0m-1 0h0m-1 1h0m-2-1h0m-2-1h0m-1 0h0m0 2h0m-1-1h0m0 1h0m-4 0h0m-1-2h0m-1 2h0m-5 0h0m-4 0h0m2 1h0m3 2h0m2-2h0m1 2h0m1 0h0m2-1h0m1 1h0m1-2h0m1 1h0m1 0h0m2 0h0m2 1h0m3 0h0m2-2h0m1 0h0m0 2h0m1-2h0m5 0h0m0 2h0m1-2h0m1 1h0m3-1h0m3 0h0m4 2h0m2 0h0m1 0h0m2 0h0m1 0h0m1 0h0m1-1h0m3 1h0m2 0h0m5-2h0m1 0h0m0 2h0m10-2h0m1 1h0m4 0h0m5 0h0m1-1h0m2 0h0m2 1h0m2-1h0m2 0h0m1 2h0m3-1h0m2 0h0m0-1h0m4 0h0m2 1h0m1-1h0m0 2h0m5 0h0m10 0h0m13-2h0m5 0h0m13 2h0m23 0h0m2 0h0m20 0h0m2-2h0m10 0h0m0 2h0m2 0h0m6 0h0m4-2h0m11 2h0m5-1h0m7 1h0m3-1h0m2-1h0m3 0h0m12 0h0m13 0h0m2 3h0m-3 0h0m-16 1h0m-9 0h0m-2 0h0m-23 1h0m-6-1h0m-3 1h0m-4-1h0m-4-1h0m-12 2h0m-2-2h0m-1 1h0m-2-1h0m-1 1h0m-15 1h0m-15-1h0m-17 0h0m-4-1h0m-3 1h0m-1-1h0m-2 0h0m-5 0h0m-1 1h0m-11 1h0m-3 0h0m-2-2h0m-8 2h0m-1 0h0m-1-2h0m-2 1h0m-1 1h0m-1 0h0m-2 0h0m-2 0h0m-3 0h0m-1 0h0m-2 0h0m0-1h0m-3 1h0m-2 0h0m-3-1h0m-1 0h0m0-1h0m-3 0h0m-1 0h0m0 1h0m-1 1h0m-1-1h0m0-1h0m-1 1h0m-5 1h0m-1-1h0m-1 0h0m-1-1h0m-5 2h0m-1-2h0m-2 0h0m-2 1h0m-4 0h0m-2-1h0m-3 1h0m-4-1h0m-3 0h0m-1 1h0m-2-1h0m0 2h0m-2-2h0m-3 2h0m0-1h0m-1 0h0m-1-1h0m-4 0h0m0 2h0m-2-1h0m-1 1h0m-2 0h0m0-1h0m-1 0h0m-5-1h0m-2 2h0m0-1h0m-5 1h0m-1 0h0m-5-1h0m-1 2h0m0 2h0m2 0h0m0-1h0m5 1h0m0-2h0m1 2h0m0-1h0m4 0h0m1 0h0m1 0h0m1-1h0m1 2h0m2-2h0m5 1h0m0-1h0m1 0h0m0 2h0m2-1h0m0-1h0m3 0h0m3 1h0m4 1h0m0-2h0m3 1h0m2-1h0m5 1h0m2-1h0m3 1h0m2-1h0m4 2h0m2-1h0m1 0h0m1 0h0m3 1h0m1-1h0m1 0h0m1 1h0m2-1h0m0-1h0m1 0h0m5 1h0m1 0h0m1 0h0m3-1h0m0 2h0m1 0h0m11 0h0m1-1h0m1-1h0m1 0h0m1 1h0m0 1h0m1 0h0m2-1h0m2 0h0m1-1h0m13 0h0m0 1h0m1 0h0m0 1h0m1-1h0m1 0h0m8 0h0m10 1h0m53 0h0m21 0h0m7 0h0m0-1h0m5 1h0m24-1h0m2-1h0m7 1h0m6 1h0m2 0h0m3-1h0m3 0h0m9-1h0m1 1h0m-29 3h0m-7-1h0m-16 1h0m-11 1h0m-2 0h0m-6 0h0m-34-2h0m-2 2h0m-30-1h0m-9-1h0m-8 2h0m-8-1h0m-1-1h0m-9 1h0m-4-1h0m-3 0h0m-1 1h0m-2 0h0m-2 0h0m-2-1h0m0 2h0m-4-2h0m-2 0h0m-7 0h0m0 1h0m-1-1h0m-1 1h0m0 1h0m-2-2h0m0 1h0m-3-1h0m-2 2h0m-1-1h0m-1 0h0m-2-1h0m-1 0h0m-2 1h0m-4-1h0m-2 1h0m-1 0h0m0-1h0m-4 1h0m0 1h0m-2 0h0m-2 0h0m-2-1h0m-1 0h0m-1 0h0m0-1h0m0 2h0m-1-1h0m-2 0h0m-7 0h0m-1-1h0m-2 2h0m-2 0h0m-1-1h0m0 1h0m-3-2h0m-1 1h0m0-1h0m0 2h0m-1 0h0m-6-2h0m-2 1h0m-4 1h0m-5-1h0m-4 0h0m-3-1h0m0 4h0m1-1h0m2 2h0m1-1h0m3-1h0m3 1h0m2 0h0m1 0h0m1 0h0m2-1h0m1 0h0m1 2h0m0-1h0m1 0h0m10-1h0m0 1h0m1 1h0m1-1h0m1 1h0m2-2h0m1 1h0m3 0h0m3 0h0m1 0h0m0-1h0m1 1h0m2-1h0m3 2h0m1-1h0m0 1h0m2-1h0m2-1h0m2 2h0m9 0h0m1-1h0m1 0h0m1-1h0m4 2h0m2-2h0m0 2h0m1-1h0m1 0h0m2 0h0m1-1h0m1 0h0m1 1h0m1-1h0m1 1h0m1-1h0m1 2h0m2 0h0m2 0h0m3-1h0m2-1h0m2 0h0m0 1h0m1-1h0m1 2h0m2-2h0m0 2h0m1-1h0m7 1h0m2 0h0m14 0h0m1-1h0m14 1h0m37 0h0m1-1h0m20 0h0m1-1h0m15 1h0m7 0h0m0-1h0m3 1h0m14 0h0m10-1h0m22 2h0m12-1h0m0-1h0m-12 4h0m-9 0h0m-21 1h0m-2 0h0m-23-1h0m-30-1h0m-12 0h0m-1 2h0m-29-2h0m-4 0h0m-1 0h0m-6 2h0m-11-1h0m-12 1h0m-1 0h0m-2-1h0m-3-1h0m-1 2h0m-1-2h0m-1 2h0m0-1h0m-3 0h0m-1 0h0m-8 0h0m-1 0h0m0-1h0m-2 1h0m0-1h0m-1 1h0m-1 0h0m-1 1h0m-1-1h0m-1 1h0m-1 0h0m0-1h0m-2 0h0m-3-1h0m-3 1h0m-2 0h0m-1 1h0m0-1h0m-1 0h0m-2 0h0m-1-1h0m-4 0h0m-1 2h0m0-1h0m-1 1h0m-2-2h0m0 2h0m-6-2h0m-2 2h0m-2-2h0m-1 0h0m-1 0h0m-1 1h0m-1 0h0m-2 1h0m-1-2h0m-1 0h0m-1 0h0m-6 2h0m-1-2h0m-1 2h0m-2-2h0m-1 2h0m-2-2h0m-4 1h0m-1-1h0m0 1h0m-2 0h0m-1-1h0m-2 1h0m0-1h0m-1 1h0m-1 0h0m0 1h0m-2-2h0m0 2h0m0-1h0m-4-1h0m-5 0h0m-1 3h0m3 1h0m2-1h0m5 2h0m1-2h0m0 2h0m1-1h0m1-1h0m1 0h0m0 2h0m1-2h0m0 2h0m1-1h0m1 0h0m1-1h0m1 1h0m1 0h0m1 1h0m1-2h0m1 1h0m1 1h0m0-1h0m1-1h0m0 2h0m3-1h0m2-1h0m0 2h0m1 0h0m2-2h0m0 2h0m1-2h0m3 0h0m2 0h0m1 0h0m1 2h0m1 0h0m0-1h0m1 0h0m0 1h0m1 0h0m1-1h0m2-1h0m1 1h0m1 0h0m0 1h0m1-1h0m3-1h0m2 0h0m1 2h0m1 0h0m4-2h0m2 2h0m2 0h0m2-1h0m1 0h0m1 1h0m1-2h0m2 1h0m1-1h0m1 1h0m0-1h0m2 1h0m2-1h0m0 2h0m1-1h0m1 1h0m1-1h0m1-1h0m1 1h0m0 1h0m2 0h0m2-1h0m2 0h0m0 1h0m1 0h0m4-2h0m0 2h0m1 0h0m0-1h0m2-1h0m1 0h0m1 1h0m2 1h0m1 0h0m2-1h0m1 0h0m0-1h0m2 2h0m2-2h0m1 2h0m1-1h0m1 0h0m3-1h0m2 1h0m1 0h0m2-1h0m5 1h0m2 1h0m1-1h0m3 1h0m3-1h0m7 1h0m12-1h0m6-1h0m31 2h0m2-1h0m5-1h0m8 1h0m6 0h0m10-1h0m8 0h0m1 1h0m10-1h0m30 1h0m-34 3h0m-5 1h0m-1 0h0m-2-1h0m-38 1h0m-3-2h0m-2 1h0m-5 1h0m-1-1h0m0 1h0m-4 0h0m-4-2h0m-20 0h0m-13 0h0m-1 1h0m-11 0h0m-8 0h0m-3-1h0m-1 1h0m-2 1h0m-1-2h0m-1 0h0m-5 0h0m0 2h0m-2-1h0m-2 0h0m-1 0h0m-2-1h0m-2 2h0m-1 0h0m0-1h0m-1-1h0m0 2h0m-2-2h0m-1 1h0m-4-1h0m-1 2h0m-5 0h0m0-1h0m-2 1h0m-2-2h0m0 1h0m-7-1h0m0 1h0m-1-1h0m-2 0h0m-1 0h0m-1 0h0m-2 2h0m-1 0h0m-1-2h0m0 2h0m-2-1h0m-1 1h0m-2-1h0m0-1h0m-4 1h0m-5 0h0m0-1h0m-1 1h0m-1 1h0m-3 0h0m-2-2h0m0 2h0m-2-2h0m-2 1h0m-1-1h0m-1 1h0m-3 0h0m-1 1h0m0-1h0m-1-1h0m-1 2h0m-1 0h0m0-1h0m-1 0h0m0 1h0m-3-2h0m-1 0h0m-1 2h0m-1-2h0m-2 0h0m-1 2h0m-4 0h0m-2-2h0m-1 0h0m-6 1h0m-3 0h0m0-1h0m-1 0h0m0 1h0m-1 0h0m0-1h0m0 2h0m1 1h0m3 0h0m1 1h0m2-1h0m1 2h0m3-2h0m0 1h0m1 0h0m1 0h0m0-1h0m0 2h0m2-1h0m1 0h0m1 0h0m2-1h0m0 1h0m2 0h0m6 1h0m3-2h0m0 1h0m2 0h0m2 1h0m1-1h0m2-1h0m3 1h0m1 1h0m1-2h0m2 2h0m3 0h0m1-2h0m2 2h0m4-2h0m1 0h0m0 2h0m1-2h0m2 1h0m2 0h0m1-1h0m1 0h0m1 1h0m2-1h0m0 2h0m1 0h0m1 0h0m1-1h0m0-1h0m0 2h0m9 0h0m1 0h0m3 0h0m3-1h0m7-1h0m2 0h0m0 1h0m1-1h0m2 2h0m1-1h0m3 0h0m0-1h0m3 1h0m1-1h0m0 2h0m1 0h0m1-2h0m1 0h0m3 0h0m3 0h0m3 2h0m3-1h0m7-1h0m1 2h0m7-2h0m20 0h0m23 1h0m0-1h0m11 1h0m16-1h0m17 2h0m22-1h0m1-1h0m30 2h0m-2 3h0m-53-2h0m-2 2h0m-23-2h0m-4 2h0m-9 0h0m-26-2h0m-4 2h0m-20 0h0m-7 0h0m-10-2h0m-2 2h0m-1-1h0m-4 0h0m-2 1h0m-3 0h0m-1-2h0m-1 2h0m-1-2h0m-3 2h0m0-1h0m-1 1h0m-1-2h0m-2 2h0m-1-2h0m-1 0h0m-2 1h0m0 1h0m-1-1h0m-1 0h0m0 1h0m-1-2h0m-1 2h0m-1-2h0m-2 0h0m-1 0h0m-2 0h0m-1 0h0m-2 2h0m-2-2h0m-3 2h0m-2 0h0m-3 0h0m-4-2h0m-1 2h0m-2 0h0m-1-1h0m-1 0h0m0 1h0m-1-1h0m-1 0h0m-1-1h0m-1 0h0m-1 1h0m-2-1h0m-4 0h0m-2 0h0m0 1h0m-1 0h0m0 1h0m-1-2h0m-1 0h0m-1 1h0m-1 0h0m-1 0h0m-1-1h0m0 1h0m-1 0h0m0 1h0m-1 0h0m-1-2h0m-1 2h0m-2-2h0m-1 0h0m-2 1h0m-4-1h0m-2 2h0m-1-2h0m-1 0h0m-1 0h0m-1 2h0m-1-2h0m-2 0h0m-1 2h0m0-1h0m-1 0h0m0-1h0m-3 2h0m-1-1h0m-2-1h0m-1 0h0m0 1h0m-2-1h0m-4 5h0m2-1h0m1 1h0m4-1h0m0-1h0m0 2h0m2-2h0m1 1h0m2 1h0m2-2h0m3 0h0m0 2h0m1-1h0m1-1h0m0 2h0m4-1h0m1 1h0m3-2h0m0 2h0m1-2h0m2 0h0m0 1h0m1-1h0m4 2h0m1-1h0m2 1h0m0-1h0m1 0h0m1 0h0m3 0h0m3 0h0m1 0h0m4-1h0m0 2h0m2-2h0m3 1h0m0-1h0m2 0h0m1 1h0m0 1h0m2 0h0m5 0h0m2-2h0m1 1h0m0 1h0m1-1h0m0 1h0m1 0h0m1-1h0m2 1h0m1-1h0m0 1h0m2-1h0m1 1h0m2-2h0m1 1h0m1-1h0m1 2h0m2 0h0m1-1h0m1 1h0m0-1h0m4 0h0m6 1h0m0-2h0m5 0h0m1 2h0m2 0h0m0-1h0m1 0h0m3-1h0m0 2h0m1-1h0m1-1h0m0 1h0m2 0h0m2-1h0m3 0h0m0 2h0m2-1h0m2-1h0m0 1h0m3 0h0m0-1h0m1 0h0m0 1h0m4 0h0m5 0h0m2 1h0m52-1h0m26-1h0m7 1h0m16-1h0m5 1h0m3 1h0m35-2h0m-1 3h0m-26 1h0m-13-1h0m-12 1h0m-19 0h0m-6 1h0m-5-2h0m-20 0h0m-21 0h0m-16 0h0m-2 1h0m0-1h0m-1 2h0m-1 0h0m-3 0h0m-11-1h0m-2 1h0m-2-2h0m0 1h0m-2-1h0m0 1h0m-2-1h0m-2 2h0m-3 0h0m-1-1h0m-1 0h0m-1 0h0m-2 1h0m-1-1h0m0-1h0m-2 0h0m0 1h0m-3 1h0m-4 0h0m-7-1h0m-1-1h0m-1 1h0m-1-1h0m0 1h0m-1 0h0m0-1h0m-4 2h0m-1-1h0m-3 0h0m-1-1h0m0 2h0m-2-2h0m-3 0h0m-1 0h0m0 1h0m-3 0h0m-2-1h0m0 2h0m-4-1h0m-4-1h0m-1 2h0m-2 0h0m-3 0h0m-2 0h0m-2-2h0m-3 0h0m-1 2h0m-1 0h0m-1-2h0m0 2h0m-1-2h0m-2 0h0m0 2h0m-2-1h0m-1-1h0m-1 2h0m-1 0h0m-1-1h0m-4 0h0m-1 0h0m-2-1h0m0 2h0m-2-1h0m-3 1h0m-3-2h0m-1 1h0m0-1h0m-3 1h0m-2-1h0m0 1h0m-2 0h0m-1-1h0m-1 1h0m-2-1h0m-4 0h0m-1 4h0m2 1h0m1-2h0m0 1h0m1 0h0m3-1h0m6 1h0m3 1h0m1-1h0m0-1h0m1 2h0m1-2h0m1 1h0m1 0h0m2-1h0m1 1h0m2 0h0m3-1h0m1 1h0m1-1h0m0 1h0m2 1h0m2-2h0m4 0h0m1 0h0m0 1h0m1 1h0m0-1h0m4 1h0m2-2h0m0 1h0m2-1h0m0 1h0m2 0h0m1 0h0m1 0h0m1 0h0m0-1h0m1 1h0m2 1h0m1-1h0m2-1h0m5 0h0m0 2h0m0-1h0m2-1h0m0 2h0m0-1h0m2 0h0m1 1h0m7 0h0m0-1h0m4 0h0m4 1h0m5-2h0m5 1h0m5-1h0m0 2h0m1-2h0m2 2h0m2 0h0m1 0h0m1 0h0m2-1h0m2 1h0m0-1h0m7-1h0m2 1h0m1 0h0m1 1h0m2-1h0m1 1h0m2-2h0m0 1h0m3 0h0m1 0h0m3 0h0m1 0h0m5 0h0m0-1h0m0 2h0m39-1h0m3 1h0m34 0h0m6 0h0m13-2h0m8 0h0m19 1h0m7 4h0m-2-1h0m-9-1h0m-11 0h0m-5 1h0m-16-1h0m-2 2h0m-12-1h0m0-1h0m-12 1h0m-12-1h0m-30 0h0m-5 0h0m-8 1h0m-1 1h0m-4 0h0m-3-2h0m-2 2h0m-1-2h0m0 2h0m-1-1h0m-3-1h0m0 2h0m-4 0h0m-1-2h0m-1 0h0m0 2h0m-1-1h0m-3 0h0m0-1h0m-7 0h0m-2 2h0m-2-2h0m-1 1h0m-3 0h0m-1-1h0m-2 1h0m0-1h0m-1 1h0m-4 0h0m-1 0h0m-6-1h0m-1 1h0m-3 0h0m-1 1h0m-1-2h0m0 2h0m-3-2h0m0 2h0m-2 0h0m-1-1h0m-1 0h0m-2 1h0m-3-2h0m-8 2h0m-2-1h0m-3-1h0m0 2h0m-4-2h0m-1 1h0m0-1h0m-1 0h0m0 2h0m-2-1h0m-1 0h0m0-1h0m-1 2h0m0-2h0m-1 1h0m0-1h0m-3 1h0m-2-1h0m0 2h0m-1 0h0m-1-1h0m0 1h0m-2-2h0m-1 2h0m0-1h0m-2-1h0m0 2h0m-1-1h0m-1-1h0m0 1h0m-1 0h0m0-1h0m0 2h0m-1-2h0m-2 1h0m-3 1h0m-2-2h0m-1 1h0m-2-1h0m-2 1h0m0-1h0m0 2h0m-3-2h0m0 1h0m-1 1h0m-1-1h0m-3 1h0m-1-2h0m0 1h0m-1-1h0m-1 0h0m-2 0h0m-1 2h0m-1-1h0m0-1h0m-1 0h0m-2 1h0m-2 1h0m0-1h0m1 3h0m1-1h0m2 2h0m5 0h0m1-2h0m1 1h0m2-1h0m1 1h0m4 1h0m1-2h0m0 2h0m4-2h0m1 2h0m1-1h0m1-1h0m1 0h0m1 0h0m1 1h0m4 0h0m1 1h0m1 0h0m1 0h0m5-2h0m1 0h0m3 2h0m0-1h0m2 0h0m1 1h0m1 0h0m1-1h0m5 0h0m1 0h0m0-1h0m2 1h0m1-1h0m3 0h0m1 1h0m2 0h0m5-1h0m2 2h0m4-2h0m2 0h0m3 2h0m1 0h0m0-1h0m3-1h0m2 2h0m1-1h0m1 1h0m1-2h0m0 2h0m1-2h0m1 1h0m0-1h0m1 0h0m3 1h0m0-1h0m1 2h0m0-1h0m2-1h0m0 2h0m8 0h0m2-2h0m0 2h0m1 0h0m0-1h0m1-1h0m1 2h0m5-2h0m1 0h0m0 1h0m1 1h0m5 0h0m4-1h0m3-1h0m2 0h0m1 0h0m5 0h0m15 0h0m0 1h0m4 1h0m7 0h0m2 0h0m3-1h0m6 1h0m11 0h0m22-1h0m1-1h0m5 2h0m2-1h0m5 1h0m1 0h0m2-2h0m4 1h0m1 0h0m6 1h0m21-2h0m1 0h0m1 2h0m10 0h0m6 3h0m-6-1h0m-8 1h0m-8 0h0m-7 0h0m-1-2h0m-12 0h0m-4 0h0m0 2h0m-3-2h0m-1 2h0m-1-1h0m-1 1h0m-2-2h0m-18 0h0m-4 2h0m-12 0h0m-4-2h0m-1 2h0m-2-1h0m-2 1h0m-4-1h0m-2 1h0m-3-1h0m-2 1h0m-4-2h0m-5 1h0m-6-1h0m-5 1h0m-3 1h0m-1-1h0m-1 0h0m-3 1h0m-2-2h0m-16 2h0m-3 0h0m0-2h0m-1 1h0m-1-1h0m0 2h0m-1-2h0m-1 1h0m-3-1h0m-3 1h0m-1 0h0m-2 0h0m0-1h0m-2 1h0m0-1h0m0 2h0m-2 0h0m0-1h0m-2 1h0m-1-2h0m-2 1h0m-1-1h0m-4 1h0m-1-1h0m-1 2h0m-3-1h0m-5 1h0m-1-2h0m0 1h0m-1 1h0m-3-1h0m-1 0h0m0-1h0m-3 0h0m-1 0h0m0 2h0m-2-2h0m0 2h0m-2-1h0m-2-1h0m0 2h0m0-1h0m-1-1h0m0 2h0m-2-2h0m-1 2h0m0-1h0m-1 1h0m-1-2h0m0 2h0m-1-1h0m-1 1h0m-1 0h0m-4 0h0m-1-2h0m-1 2h0m-2 0h0m-1-2h0m0 1h0m-1 0h0m-4 0h0m-1 1h0m-1-1h0m-4-1h0m-3 1h0m-1-1h0m-1 1h0m-1 1h0m-1-2h0m0 2h0m-1 0h0m0-1h0m-3 0h0m0 1h0m-2 0h0m0-1h0m-1-1h0m0 2h0m0-1h0m-3 0h0m-2 0h0m0-1h0m-2 2h0m-2-1h0m-2 1h0m-6-1h0m-1 1h0m-1-2h0m-1 1h0m0-1h0m-1 1h0m-1 0h0m-2-1h0m1 4h0m4 0h0m1 1h0m1 0h0m1 0h0m1 0h0m3-1h0m1 0h0m3 0h0m1-1h0m3 0h0m2 1h0m3-1h0m1 1h0m1 1h0m1-2h0m1 2h0m0-1h0m0-1h0m1 1h0m1 0h0m1 0h0m1 1h0m1 0h0m1-1h0m4-1h0m1 2h0m2-2h0m3 1h0m5 1h0m1-1h0m1-1h0m1 1h0m1 1h0m1-1h0m5-1h0m1 1h0m1 0h0m3 1h0m1-1h0m6 0h0m2 0h0m5 0h0m2 1h0m3-1h0m1-1h0m3 1h0m2-1h0m1 0h0m1 1h0m2 1h0m1-1h0m0-1h0m0 2h0m3-1h0m1 0h0m4-1h0m2 1h0m2-1h0m0 2h0m1 0h0m2-1h0m1 1h0m1 0h0m3-1h0m7 1h0m0-1h0m4 0h0m7-1h0m7 1h0m3-1h0m10 1h0m2 1h0m11-2h0m2 1h0m0-1h0m0 2h0m2-2h0m1 1h0m0-1h0m3 0h0m3 1h0m4-1h0m14 0h0m8 2h0m2-1h0m4 1h0m12-2h0m4 2h0m2 0h0m4 0h0m5-1h0m7 0h0m14-1h0m14 1h0m1 1h0m5-1h0m-7 4h0m-2-1h0m-14 0h0m-1-1h0m-5 2h0m-5 0h0m-8-1h0m-1-1h0m-7 2h0m0-1h0m-4 0h0m-9 0h0m-7 0h0m-5 0h0m-2 0h0m0-1h0m-3 0h0m-3 1h0m-1 1h0m-3-1h0m-8 1h0m-3 0h0m0-2h0m-1 2h0m-1-1h0m-3 1h0m0-1h0m-1 1h0m-2-1h0m-2 1h0m-1 0h0m-1-1h0m-3 1h0m-1-2h0m-1 2h0m-4-2h0m-1 2h0m-2-1h0m-4-1h0m-1 1h0m-16 1h0m-8 0h0m0-1h0m-5-1h0m-4 0h0m-5 2h0m-2-2h0m-1 0h0m0 2h0m-1-2h0m-4 0h0m-1 1h0m-3 1h0m-4-1h0m-2 0h0m0 1h0m-3-2h0m-4 0h0m-1 0h0m-2 2h0m0-1h0m-2 1h0m0-1h0m-2 0h0m-1 0h0m-2-1h0m-2 0h0m-2 1h0m0 1h0m-5-1h0m0 1h0m-1-2h0m-5 0h0m0 2h0m-1-2h0m0 2h0m-5-1h0m-1 0h0m-1 1h0m-4-2h0m-2 1h0m0-1h0m-3 2h0m-2-1h0m-1 0h0m-2 0h0m-1 0h0m-10 0h0m-1 0h0m0 1h0m-3 0h0m0-1h0m-3 1h0m-1-1h0m0-1h0m-1 1h0m-1-1h0m-2 1h0m-3-1h0m-4 0h0m-2 1h0m-1-1h0m0 2h0m-1 0h0m-4-1h0m0-1h0m-2 2h0m3 2h0m0-1h0m2 2h0m2 0h0m1-2h0m1 2h0m1-1h0m1 0h0m1 1h0m1 0h0m1-1h0m5-1h0m1 1h0m0-1h0m0 2h0m2-2h0m0 2h0m4-1h0m0-1h0m0 2h0m3-1h0m2 0h0m2 0h0m4 0h0m2 0h0m2 1h0m3-2h0m0 2h0m1-1h0m0 1h0m1 0h0m2-1h0m1 0h0m0-1h0m1 0h0m3 0h0m1 0h0m4 1h0m2-1h0m0 2h0m1-1h0m2-1h0m0 2h0m0-1h0m1-1h0m2 0h0m2 0h0m1 0h0m1 1h0m5 1h0m4-2h0m2 0h0m3 2h0m2-1h0m1 1h0m0-1h0m1-1h0m4 2h0m1-2h0m5 0h0m0 2h0m1-1h0m3 1h0m1-2h0m1 1h0m2 1h0m7-1h0m3 1h0m2 0h0m4-1h0m4 0h0m5-1h0m2 0h0m2 1h0m2 0h0m2-1h0m20 2h0m2-2h0m4 2h0m7-2h0m1 0h0m1 0h0m1 2h0m0-1h0m4 1h0m1 0h0m0-2h0m1 0h0m5 0h0m3 0h0m0 1h0m5 0h0m1 1h0m2-1h0m1 0h0m2 0h0m4 1h0m2-1h0m2 0h0m1 0h0m4 0h0m9 1h0m3 0h0m6-1h0m9 0h0m2 1h0m2-2h0m4 0h0m9 1h0m2 1h0m1 0h0m1-2h0m0 1h0m2-1h0m10 4h0m-1 0h0m0-1h0m-1 0h0m-4 0h0m-1 2h0m-1-1h0m-3 0h0m-3 0h0m-1-1h0m-3 2h0m-4-1h0m-6 0h0m-4-1h0m-2 2h0m-11 0h0m-6 0h0m-2-1h0m-1-1h0m-1 0h0m-3 2h0m-2 0h0m0-1h0m-5-1h0m-5 0h0m-2 2h0m-4 0h0m-3-2h0m0 1h0m-2 1h0m-1 0h0m-1 0h0m-3-1h0m0 1h0m-6 0h0m0-2h0m-1 2h0m-1 0h0m-1-2h0m-1 2h0m-1-1h0m-1 0h0m-4 0h0m-3 0h0m-6 0h0m-2 1h0m-4-1h0m-1-1h0m-1 2h0m-1-2h0m-3 2h0m-8 0h0m-1-2h0m-2 0h0m-2 0h0m-6 2h0m-3-2h0m-2 2h0m0-2h0m-2 1h0m-2 1h0m-9 0h0m-1-2h0m0 2h0m-3-1h0m-5-1h0m-2 2h0m-1 0h0m-1-1h0m-1 1h0m0-2h0m-1 2h0m-1-2h0m-5 1h0m-2-1h0m-6 2h0m-4-1h0m-5 1h0m-2-2h0m-1 2h0m-1-2h0m0 1h0m-1-1h0m-1 0h0m-3 2h0m0-1h0m-1 0h0m-4 1h0m-2 0h0m-1-2h0m-1 1h0m-1 0h0m-3-1h0m0 2h0m0-1h0m-1 1h0m-5-2h0m-1 0h0m-1 2h0m-2 0h0m-1-1h0m-1 0h0m-1 1h0m0-1h0m-1 0h0m-1 0h0m-1 0h0m-1 1h0m-4-2h0m-1 0h0m-2 0h0m0 2h0m0-1h0m-3 1h0m-1 0h0m0-1h0m-1 0h0m-1 0h0m-1-1h0m0 2h0m-1-2h0m-5 0h0m0 2h0m-1-1h0m-4-1h0m-2 1h0m-1 0h0m0 1h0m-1-2h0m0 1h0m-2-1h0m-2 2h0m-1 0h0m0 3h0m3-2h0m1 0h0m7 1h0m1-1h0m1 1h0m0-1h0m2 0h0m2 0h0m0 2h0m0-1h0m1 1h0m2-2h0m2 2h0m1 0h0m2-2h0m1 1h0m1 0h0m2 0h0m3-1h0m4 0h0m3 2h0m1 0h0m1 0h0m0-1h0m2-1h0m4 1h0m1-1h0m1 2h0m2-2h0m1 1h0m5 0h0m1 1h0m2-2h0m0 2h0m2 0h0m1 0h0m3 0h0m4-1h0m6-1h0m0 2h0m6 0h0m1-2h0m2 1h0m0-1h0m0 2h0m1 0h0m0-1h0m1 0h0m0-1h0m3 1h0m3 1h0m4-2h0m2 2h0m1-2h0m2 1h0m3 1h0m1-2h0m2 1h0m3 0h0m3-1h0m3 1h0m2 1h0m1-1h0m1-1h0m1 2h0m1-1h0m4-1h0m1 1h0m0 1h0m2-1h0m2 1h0m4 0h0m6 0h0m3-1h0m0 1h0m2 0h0m22-1h0m1 0h0m1 0h0m3-1h0m0 1h0m2 1h0m2-1h0m1 0h0m0-1h0m1 0h0m2 0h0m2 0h0m0 2h0m1-2h0m0 1h0m4 0h0m1-1h0m2 1h0m3 1h0m0-1h0m1 0h0m1-1h0m2 1h0m2 1h0m5-2h0m9 1h0m1-1h0m0 2h0m3 0h0m2-2h0m1 0h0m0 2h0m3 0h0m12 0h0m1-2h0m3 2h0m1 0h0m1-2h0m1 0h0m3 0h0m19 2h0m-11 2h0m-2-1h0m-1 1h0m0-1h0m-4 1h0m0-1h0m-1 2h0m-6-2h0m-2 2h0m-2 0h0m0-1h0m-1-1h0m-4 1h0m-7-1h0m-1 0h0m-3 0h0m-3 2h0m-5-2h0m0 2h0m0-1h0m-6 0h0m-7 0h0m-2-1h0m-2 2h0m-1-1h0m-1 0h0m-1 1h0m0-2h0m-1 0h0m-2 2h0m-1-2h0m0 2h0m-1-1h0m-3 0h0m-2 0h0m-5 0h0m-1 1h0m-3 0h0m-1-2h0m-3 0h0m-3 1h0m0-1h0m-1 0h0m-1 2h0m-4-2h0m-3 1h0m-2 0h0m-13 1h0m0-1h0m-4-1h0m-6 1h0m-4 1h0m-5-1h0m-6-1h0m-1 0h0m-2 0h0m0 2h0m-2-2h0m-2 2h0m-1-2h0m0 2h0m-2 0h0m-9-2h0m-2 0h0m-3 1h0m-1-1h0m-3 0h0m0 2h0m-4-2h0m-1 1h0m-5 0h0m-2 0h0m-1 0h0m0 1h0m-1-1h0m-2-1h0m0 1h0m-2 1h0m0-1h0m-2-1h0m0 1h0m-1-1h0m0 2h0m-1 0h0m-1-2h0m-3 1h0m0 1h0m-1-2h0m0 2h0m-1-2h0m-1 1h0m0 1h0m-1 0h0m-1-1h0m-1-1h0m-3 1h0m-1 0h0m-1 0h0m-3 0h0m-1-1h0m-1 0h0m-1 0h0m0 2h0m-1-1h0m-2 0h0m-2 1h0m-1-1h0m-1 1h0m0-1h0m-4-1h0m-1 1h0m0 1h0m-1-2h0m-1 0h0m-1 2h0m-1-1h0m-1 1h0m-1-2h0m0 2h0m-2-2h0m0 2h0m-1-2h0m-2 2h0m-1-2h0m0 2h0m-2-2h0m-1 1h0m-1-1h0m0 2h0m-4-2h0m-5 2h0m-1-2h0m-1 0h0m-1 1h0m0 1h0m-1-1h0m-3 1h0m-1-1h0m0 2h0m1 1h0m0 1h0m1-1h0m0 1h0m1-2h0m2 1h0m1 0h0m1 0h0m1 0h0m1 0h0m1 1h0m1 0h0m2-1h0m0-1h0m0 2h0m1-2h0m2 0h0m1 0h0m3 0h0m0 1h0m1-1h0m5 0h0m2 2h0m1-2h0m1 1h0m2 0h0m1 0h0m0-1h0m0 2h0m5-1h0m1-1h0m1 1h0m3 0h0m2 1h0m2-2h0m1 0h0m2 0h0m1 1h0m0-1h0m2 0h0m6 1h0m2 1h0m2-1h0m0 1h0m3-2h0m2 2h0m15-1h0m5 0h0m1 0h0m3 0h0m4 1h0m0-1h0m1-1h0m3 1h0m1-1h0m1 0h0m2 1h0m7-1h0m6 0h0m0 2h0m3-2h0m1 0h0m1 1h0m1 1h0m2 0h0m6 0h0m2 0h0m2-2h0m6 1h0m4-1h0m1 1h0m1 0h0m2-1h0m1 2h0m2-2h0m2 0h0m6 0h0m3 1h0m3-1h0m11 0h0m4 1h0m5 0h0m4 1h0m3-2h0m1 0h0m0 2h0m1-1h0m7-1h0m3 0h0m0 2h0m1-2h0m3 2h0m2 0h0m0-2h0m1 1h0m4-1h0m1 0h0m1 2h0m4-2h0m4 1h0m0 1h0m3-2h0m0 2h0m1-1h0m2-1h0m1 1h0m4-1h0m1 2h0m2-2h0m1 2h0m2 0h0m1-1h0m3-1h0m3 1h0m2-1h0m5 2h0m6-2h0m0 2h0m2-2h0m-3 5h0m-3-2h0m-5 2h0m-1 0h0m-2-2h0m-1 0h0m-1 0h0m-3 0h0m0 1h0m-1 1h0m-3 0h0m-3 0h0m-4-2h0m-2 2h0m-5 0h0m-2-2h0m-3 0h0m-6 1h0m-3 0h0m-1 0h0m-1 0h0m-1 0h0m-4 0h0m-4 1h0m-1-2h0m-1 0h0m-2 2h0m-2-2h0m0 2h0m-1 0h0m-1 0h0m-3-1h0m-4 0h0m-4 1h0m-2-1h0m0-1h0m-1 0h0m-1 1h0m-3-1h0m-12 1h0m-2 1h0m-1-2h0m-2 0h0m-4 2h0m-2-1h0m-2 1h0m-2-1h0m0-1h0m-5 2h0m-1-2h0m-2 2h0m-1 0h0m-2-2h0m-4 0h0m-4 2h0m-2-2h0m-1 2h0m-2-1h0m0-1h0m-7 1h0m-5 0h0m-3 0h0m-2-1h0m-3 0h0m-1 0h0m-3 2h0m-5-1h0m-4 1h0m-1-1h0m-4 1h0m-4-1h0m-1-1h0m-4 0h0m-3 2h0m0-1h0m-1 0h0m-2 0h0m-4 1h0m0-1h0m-1 1h0m-1-2h0m-1 2h0m-3-1h0m-2-1h0m-6 0h0m-1 2h0m-1-1h0m-1 1h0m0-1h0m-1 0h0m-1-1h0m-2 1h0m-1 1h0m-1 0h0m-2-2h0m-2 2h0m0-1h0m-2-1h0m0 1h0m-1 1h0m0-1h0m-3-1h0m-1 2h0m-1-1h0m-1 0h0m-2-1h0m-1 0h0m-1 2h0m-1 0h0m0-1h0m-3-1h0m0 2h0m0-1h0m-7-1h0m-3 2h0m-1-1h0m-2 0h0m-1 1h0m-1-2h0m-1 1h0m-1 1h0m-1-2h0m0 1h0m-1 0h0m-4 0h0m-1-1h0m-2 0h0m0 4h0m0-1h0m2 1h0m1-1h0m1 0h0m1 1h0m1 1h0m1-1h0m2-1h0m2 0h0m1 0h0m0 1h0m3-1h0m1 0h0m4 0h0m2 0h0m1 2h0m1 0h0m1-2h0m1 1h0m1 0h0m1 1h0m3-2h0m2 2h0m3-2h0m1 1h0m3-1h0m0 2h0m2-1h0m1 0h0m4-1h0m1 0h0m0 1h0m2 1h0m2 0h0m1-1h0m2 1h0m2 0h0m1 0h0m2 0h0m2 0h0m2-2h0m1 0h0m2 2h0m4 0h0m0-1h0m3 1h0m0-2h0m3 2h0m1-1h0m0-1h0m0 2h0m1 0h0m1-1h0m2 1h0m0-1h0m2 1h0m1-1h0m1-1h0m1 0h0m2 0h0m0 2h0m1-1h0m1-1h0m2 1h0m6 0h0m2-1h0m0 2h0m0-1h0m6 0h0m1 0h0m0 1h0m2-2h0m1 1h0m7 0h0m2-1h0m1 1h0m2-1h0m1 0h0m4 0h0m4 2h0m1-2h0m1 1h0m1 1h0m1-2h0m2 0h0m6 0h0m1 2h0m5 0h0m2 0h0m4-1h0m3-1h0m4 2h0m4-1h0m2-1h0m1 0h0m2 0h0m7 0h0m1 2h0m0-1h0m1-1h0m5 2h0m1-2h0m2 0h0m2 2h0m2 0h0m1-2h0m0 2h0m0-1h0m1 0h0m1-1h0m2 1h0m6 0h0m1 0h0m2 0h0m2 0h0m1-1h0m0 1h0m1 1h0m2 0h0m2-1h0m1 1h0m2 0h0m1-2h0m2 2h0m1-2h0m1 0h0m1 0h0m1 2h0m1-1h0m0 1h0m3 0h0m5-1h0m4 1h0m4-1h0m3 1h0m1-1h0m3 1h0m4 0h0m6-1h0m-2 2h0m-2 2h0m-3-2h0m-2 2h0m-5-2h0m-1 1h0m-3-1h0m-4 0h0m-3 1h0m-8 1h0m-1-2h0m-4 2h0m-2 0h0m-5-2h0m-3 0h0m-3 2h0m-2-1h0m-4 1h0m-2 0h0m-2-2h0m0 1h0m-5-1h0m-1 1h0m-1 0h0m-2 0h0m-2 1h0m0-1h0m-2-1h0m-1 2h0m-2-1h0m-4-1h0m-1 1h0m-3 1h0m0-1h0m-4-1h0m-1 2h0m0-1h0m-4 1h0m-1 0h0m-4-2h0m0 2h0m-2 0h0m-1-2h0m0 1h0m-2 1h0m-1-2h0m-2 1h0m-2 0h0m0-1h0m-2 2h0m-2-2h0m-2 2h0m-4-1h0m-1 1h0m0-1h0m-6-1h0m-6 2h0m-2-1h0m-3 1h0m-2-1h0m-1-1h0m-1 1h0m-1-1h0m-3 2h0m-2-1h0m-5 1h0m-2-2h0m-1 2h0m-1-2h0m-2 2h0m-4-1h0m-1 0h0m-3 0h0m-1 0h0m-2-1h0m0 1h0m-2 0h0m-5-1h0m-1 1h0m0-1h0m-1 0h0m-2 1h0m-1 1h0m-2-1h0m-1 1h0m-1 0h0m-6-1h0m-1-1h0m-3 2h0m-2-2h0m-5 0h0m-1 2h0m-3 0h0m-3 0h0m-1-2h0m-3 1h0m-1-1h0m0 2h0m-1-2h0m-1 1h0m-1 1h0m-3 0h0m-2 0h0m-4 0h0m-1-1h0m0-1h0m-1 0h0m0 2h0m-1-1h0m-3 1h0m0-2h0m-1 1h0m-2 0h0m-1-1h0m0 2h0m-1 0h0m-1 0h0m-3-2h0m-2 2h0m-1-2h0m-1 0h0m0 2h0m-1-2h0m-1 1h0m0-1h0m-1 1h0m-1 0h0m-1 1h0m-1-1h0m-3 0h0m-1-1h0m-1 2h0m-2 2h0m0 1h0m1-2h0m2 1h0m1 0h0m2 0h0m1 1h0m1-2h0m0 2h0m1 0h0m2-2h0m1 2h0m1 0h0m1-1h0m2 0h0m0-1h0m1 0h0m3 1h0m4 0h0m3 1h0m2-2h0m1 1h0m1 1h0m1-1h0m1 1h0m0-2h0m1 0h0m1 1h0m3 1h0m0-1h0m1 1h0m1-1h0m1-1h0m1 1h0m1-1h0m5 2h0m1-2h0m1 0h0m1 1h0m3-1h0m2 1h0m0-1h0m0 2h0m1-2h0m1 1h0m1 0h0m4 0h0m1 1h0m1 0h0m1-1h0m2 1h0m2 0h0m2-1h0m3 1h0m1 0h0m1 0h0m1-2h0m1 1h0m1-1h0m1 1h0m2 0h0m1 0h0m1-1h0m2 0h0m2 0h0m1 0h0m0 2h0m1-2h0m1 0h0m1 1h0m3-1h0m9 0h0m4 0h0m3 2h0m2-2h0m4 1h0m2 0h0m4 1h0m0-2h0m2 1h0m3-1h0m1 0h0m0 2h0m1-2h0m2 2h0m3-2h0m2 0h0m9 2h0m4 0h0m2 0h0m0-1h0m3 1h0m1-2h0m5 1h0m3 0h0m2-1h0m5 1h0m5 0h0m1 0h0m6-1h0m3 0h0m4 2h0m4-2h0m2 2h0m0-1h0m1 0h0m1 0h0m3 1h0m3-1h0m2 0h0m1 0h0m1 1h0m3 0h0m1-1h0m0 1h0m3-1h0m1 1h0m4-2h0m1 1h0m0-1h0m0 2h0m1 0h0m3-2h0m3 0h0m0 2h0m1 0h0m3-1h0m0-1h0m0 2h0m2-1h0m0-1h0m1 2h0m1 0h0m8 0h0m6-2h0m0 2h0m4-1h0m1-1h0m0 2h0m2-1h0m-9 3h0m-4 0h0m-6 0h0m-1-1h0m-1 2h0m0-1h0m-3-1h0m-5 0h0m-1 0h0m-1 1h0m-1 1h0m-2 0h0m-1-2h0m0 2h0m-1 0h0m-1-2h0m-1 0h0m-3 2h0m-1-2h0m-1 2h0m-2-1h0m-1-1h0m-3 0h0m-1 0h0m-1 0h0m-1 0h0m-1 0h0m-6 0h0m-4 2h0m-1 0h0m-2 0h0m-1-1h0m-1-1h0m-1 0h0m-3 1h0m-2 0h0m-7-1h0m-1 1h0m-1 0h0m0-1h0m-1 2h0m-1-1h0m-1-1h0m-1 0h0m-3 1h0m-3-1h0m-2 0h0m-2 0h0m-1 1h0m-3-1h0m-1 1h0m-4-1h0m-3 2h0m-8-1h0m-2 0h0m-3 0h0m-2 1h0m-3-2h0m-1 2h0m-1-1h0m-4 1h0m-1-2h0m-5 0h0m-8 2h0m-6 0h0m-2-2h0m-1 2h0m-2 0h0m-2-1h0m-1 0h0m-2 0h0m0 1h0m-3 0h0m-1-1h0m-1-1h0m-1 1h0m-1 1h0m0-1h0m-1 0h0m0-1h0m-1 2h0m-2-1h0m-1-1h0m-5 2h0m-1 0h0m-1 0h0m-1-2h0m0 2h0m-4-2h0m-2 1h0m-2 0h0m0 1h0m-1-1h0m-1-1h0m0 2h0m-3-2h0m-2 0h0m0 2h0m0-1h0m-1-1h0m0 2h0m-2-2h0m-1 1h0m-2 0h0m-2 1h0m-1-2h0m-5 0h0m-1 0h0m-1 1h0m0 1h0m-3 0h0m0-2h0m-4 1h0m-2-1h0m-2 0h0m-2 0h0m0 2h0m-2 0h0m-1-2h0m0 2h0m0-1h0m-1-1h0m-1 1h0m-2 1h0m-1-1h0m-1 1h0m-1 0h0m-1 0h0m0-1h0m-1-1h0m0 2h0m0-1h0m-1 0h0m-1-1h0m0 1h0m-1 1h0m-2 0h0m-3-2h0m-3 0h0m-2 0h0m-1 0h0m-2 1h0m0 1h0m-1-1h0m-1-1h0m0 1h0m0 2h0m1 2h0m1-1h0m3 1h0m3-1h0m1 0h0m4-1h0m0 2h0m1-1h0m0-1h0m1 1h0m1 1h0m1 0h0m2-1h0m1 0h0m0-1h0m0 2h0m1-2h0m4 1h0m4-1h0m0 2h0m1 0h0m0-1h0m1 0h0m0-1h0m1 1h0m1 0h0m0 1h0m1 0h0m2 0h0m0-2h0m2 2h0m0-1h0m2-1h0m3 1h0m1 0h0m2 1h0m0-2h0m4 2h0m2-1h0m0-1h0m2 2h0m1-1h0m2 1h0m1 0h0m2-1h0m2 1h0m4-1h0m1 0h0m1 1h0m3 0h0m2 0h0m2-1h0m1 0h0m0 1h0m1 0h0m1 0h0m2 0h0m1-1h0m2 0h0m2 1h0m1-1h0m0-1h0m4 1h0m5 0h0m1-1h0m3 1h0m8-1h0m1 1h0m1 0h0m0-1h0m1 0h0m1 0h0m2 1h0m1 1h0m3-2h0m1 2h0m1-2h0m2 1h0m3 1h0m2 0h0m0-1h0m7 1h0m6 0h0m1-1h0m4-1h0m0 1h0m5 0h0m2 0h0m1 1h0m1-2h0m1 1h0m2 0h0m3 1h0m7-2h0m4 1h0m1 0h0m0-1h0m3 0h0m3 0h0m1 2h0m1-1h0m3 0h0m0-1h0m4 2h0m3-2h0m1 1h0m3 0h0m2 0h0m5-1h0m7 0h0m0 1h0m2-1h0m2 2h0m3 0h0m1-1h0m1-1h0m1 0h0m2 0h0m1 0h0m1 0h0m7 0h0m1 1h0m1 1h0m3-2h0m0 2h0m2-1h0m1 0h0m8-1h0m1 0h0m0 2h0m1-2h0m-1 5h0m0-1h0m-8 1h0m-1-1h0m0 1h0m-1-1h0m-3 0h0m0-1h0m-1 1h0m-1 1h0m-2-2h0m-1 0h0m0 2h0m-2-1h0m0-1h0m-12 0h0m-4 2h0m-1-2h0m-1 1h0m0-1h0m-2 1h0m-2 0h0m-1 1h0m-3 0h0m-1-2h0m-5 0h0m-5 0h0m-2 0h0m0 2h0m-1-1h0m-1 0h0m-2-1h0m-3 2h0m0-1h0m-1 0h0m-8-1h0m-2 1h0m-1 0h0m-1 0h0m-3-1h0m-1 2h0m0-1h0m-1-1h0m-3 1h0m-7-1h0m-2 0h0m-1 0h0m-6 2h0m-1-1h0m-1 1h0m-1-2h0m-1 0h0m-1 0h0m0 1h0m-12 0h0m-3 1h0m-1-2h0m-2 2h0m-6-2h0m-1 0h0m-1 1h0m-1 0h0m0 1h0m-7-2h0m0 1h0m-3-1h0m-13 1h0m-2-1h0m-5 1h0m0-1h0m0 2h0m-2-2h0m-1 2h0m-1-2h0m-1 2h0m0-1h0m-4-1h0m-1 1h0m-1 0h0m-2 0h0m0 1h0m-4-1h0m-1 0h0m-3 0h0m0 1h0m-2-1h0m0-1h0m0 2h0m-2-1h0m0-1h0m-1 0h0m0 1h0m-2 1h0m-5-1h0m-1-1h0m-1 0h0m-1 2h0m-2-1h0m-1 0h0m0-1h0m-4 2h0m-1 0h0m-2-2h0m-2 1h0m0-1h0m-6 0h0m-1 2h0m-2-2h0m-3 2h0m-1 0h0m-1 0h0m-1-1h0m0-1h0m-2 0h0m0 2h0m-1-2h0m-3 2h0m-1-2h0m-1 0h0m-3 0h0m-1 2h0m-2-1h0m-1-1h0m1 3h0m0 2h0m3-2h0m1 0h0m1 2h0m0-1h0m1-1h0m1 0h0m0 1h0m1 0h0m0-1h0m2 1h0m1-1h0m2 2h0m0-1h0m2 0h0m1 0h0m1-1h0m0 2h0m2-1h0m3 1h0m4-1h0m1 0h0m2 0h0m4-1h0m1 2h0m1 0h0m1-1h0m0-1h0m2 1h0m1 1h0m1-1h0m0-1h0m1 0h0m1 0h0m1 0h0m3 0h0m2 1h0m5 1h0m1-2h0m1 0h0m0 2h0m2-2h0m2 1h0m2 0h0m1-1h0m1 1h0m1 0h0m1-1h0m0 1h0m1 1h0m1-2h0m0 2h0m1 0h0m1 0h0m2-1h0m1 1h0m2 0h0m6-1h0m1 0h0m1 0h0m1 0h0m1-1h0m1 0h0m1 0h0m1 1h0m1 1h0m2 0h0m5-1h0m3 0h0m1 1h0m0-1h0m1 1h0m2-1h0m2 0h0m1 0h0m2 0h0m4-1h0m1 1h0m0 1h0m1 0h0m0-2h0m2 2h0m2-1h0m6-1h0m3 1h0m1 1h0m1-2h0m4 2h0m0-1h0m2 1h0m2 0h0m5-1h0m2-1h0m1 2h0m1-2h0m10 0h0m2 2h0m3-2h0m5 1h0m2 0h0m1 0h0m1-1h0m1 1h0m0-1h0m4 2h0m1-1h0m0 1h0m3 0h0m2 0h0m2-1h0m6 1h0m1-1h0m4 0h0m0-1h0m3 1h0m1 1h0m5-2h0m4 1h0m3 1h0m1 0h0m4-2h0m6 0h0m1 1h0m0-1h0m2 0h0m1 0h0m2 2h0m1-1h0m0 1h0m9 0h0m1-1h0m-10 4h0m-2 0h0m-8-2h0m-1 1h0m-2-1h0m-1 1h0m-1-1h0m0 1h0m-1 0h0m-2-1h0m-2 0h0m-4 1h0m-1 0h0m0 1h0m-1-2h0m-1 2h0m-1 0h0m-2-2h0m0 2h0m0-1h0m-3 0h0m-1-1h0m-5 2h0m-1-1h0m-2 1h0m-1-1h0m0 1h0m-7 0h0m-3-1h0m-1 0h0m-4-1h0m-2 0h0m-6 0h0m-1 1h0m-1 1h0m-1 0h0m-3-1h0m-1-1h0m-2 0h0m-1 2h0m-12 0h0m-1-2h0m-2 2h0m-2 0h0m-1-1h0m-1-1h0m-1 1h0m-2 1h0m-1 0h0m-7-1h0m-1 0h0m-1 0h0m-1 1h0m0-1h0m-3-1h0m-3 0h0m0 1h0m-1 1h0m-2 0h0m-7-2h0m-6 0h0m-3 0h0m0 2h0m0-1h0m-1-1h0m-1 2h0m-1 0h0m-2-1h0m0-1h0m-1 1h0m0-1h0m-2 1h0m-3 1h0m-2-1h0m-3 0h0m-3 1h0m-1 0h0m0-1h0m-3 0h0m0 1h0m-1-1h0m0-1h0m-1 1h0m0-1h0m-2 1h0m-2 1h0m-1 0h0m0-1h0m-2 1h0m0-1h0m-1 0h0m-1 0h0m-1 0h0m-2 1h0m-1-2h0m-1 0h0m-1 2h0m-2-2h0m0 2h0m-1-2h0m-1 1h0m-1 0h0m-1 1h0m-2 0h0m-1-2h0m-2 2h0m-2-1h0m-1-1h0m-2 1h0m-1 0h0m-1 0h0m-1 0h0m-1-1h0m0 1h0m-2-1h0m0 2h0m-2 0h0m-2-2h0m-4 0h0m0 1h0m-3 0h0m-1-1h0m-1 2h0m-1-1h0m-3 1h0m-1-1h0m-1 0h0m-1 1h0m-2-2h0m-2 2h0m-2 0h0m-1-2h0m-1 1h0m0-1h0m-1 2h0m-1-1h0m-1-1h0m2 4h0m1 1h0m3 0h0m0-1h0m1 0h0m1 0h0m0-1h0m0 2h0m1-1h0m0 1h0m3 0h0m2-1h0m1-1h0m3 0h0m1 1h0m1 1h0m1-1h0m2-1h0m3 2h0m1 0h0m1 0h0m1 0h0m1-2h0m0 2h0m0-1h0m1-1h0m1 0h0m1 1h0m0-1h0m2 1h0m2 1h0m6 0h0m1 0h0m2 0h0m2-2h0m3 0h0m1 2h0m0-1h0m1 1h0m1 0h0m2-2h0m1 0h0m1 2h0m1-2h0m0 2h0m3-1h0m1 0h0m1 1h0m2-2h0m2 0h0m0 2h0m2-1h0m1-1h0m2 0h0m3 0h0m0 2h0m2-1h0m7-1h0m2 0h0m2 2h0m1-1h0m3-1h0m5 2h0m1-1h0m1-1h0m1 2h0m2-1h0m4 0h0m0-1h0m2 0h0m4 0h0m35 0h0m1 0h0m1 1h0m5 0h0m2 0h0m2 0h0m1-1h0m1 2h0m1-1h0m1 0h0m2 1h0m5-2h0m2 0h0m0 2h0m1 0h0m2-2h0m3 0h0m0 2h0m6-2h0m0 2h0m1 0h0m1 0h0m1-2h0m0 2h0m2 0h0m2 0h0m4-2h0m8 0h0m7 2h0m1-1h0m1 1h0m2-1h0m3 1h0m-1 1h0m0 1h0m-1-1h0m-2 1h0m-1-1h0m-1 1h0m-1 0h0m-6 0h0m-2 1h0m-2 0h0m0-1h0m-2-1h0m-1 0h0m0 2h0m-6-2h0m-1 2h0m0-1h0m-4 0h0m-13-1h0m-7 0h0m-71 1h0m-4 0h0m0-1h0m-1 1h0m-4 0h0m-1 1h0m-4 0h0m-2-2h0m-2 1h0m-4 1h0m0-1h0m-2 1h0m-2 0h0m-2-2h0m0 2h0m-1-2h0m-1 1h0m0-1h0m0 2h0m-3-1h0m-1-1h0m-2 1h0m-1 1h0m-1-2h0m-3 2h0m-1 0h0m-1-2h0m-2 0h0m0 2h0m-1-1h0m-5 0h0m-1-1h0m-1 0h0m-1 0h0m-1 2h0m-1-2h0m-2 1h0m-2 1h0m-1-2h0m-2 1h0m0-1h0m-2 2h0m-9-2h0m-1 0h0m-3 1h0m0-1h0m-3 1h0m-1 0h0m-1-1h0m0 2h0m-2-1h0m-1-1h0m-3 1h0m0 1h0m-1-1h0m-2 3h0m1-1h0m0 1h0m2 1h0m1-2h0m4 0h0m6 1h0m1 0h0m0-1h0m2 1h0m1 0h0m5-1h0m1 0h0m0 2h0m3-2h0m13 2h0m2-2h0m1 1h0m1 1h0m2-2h0m2 2h0m2-2h0m0 1h0m2 0h0m2-1h0m0 1h0m3 1h0m1-2h0m2 2h0m1-1h0m1-1h0m4 1h0m2 1h0m1-2h0m5 2h0m1-1h0m2 0h0m0-1h0m-9 3h0m-9 0h0m-2 1h0m-1 0h0m-3 1h0m0-1h0m-1-1h0m-1 0h0m-1 1h0m0-1h0m0 2h0m-1-2h0m-2 0h0m-3 1h0m-1-1h0m-1 0h0m-2 2h0m-1 0h0m0-2h0m-2 1h0m-1-1h0m-8 2h0m-1-1h0m-1 0h0m0-1h0m-1 1h0m-2-1h0m-3 1h0m-1 0h0m-3 1h0m-1-2h0m-1 0h0m0 1h0m-2-1h0m-1 1h0m0 1h0m-2-1h0m0-1h0m-1 0h0m-1 0h0m-4 2h0m-1 3h0m0-1h0m2 0h0m3 0h0m1-1h0m1 0h0m2 0h0m1 0h0m0 2h0m1-2h0m1 2h0m1-2h0m0 2h0m4-2h0m3 2h0m1 0h0m0-1h0m1 0h0m1 1h0m0-2h0m1 0h0m1 0h0m0 2h0m1 0h0m5-2h0m1 1h0m1 0h0m0 1h0m1-1h0m0-1h0m5 1h0m3-1h0m2 2h0m3-1h0m0 1h0m2-1h0m3-1h0m0 1h0m-9 2h0m-1 0h0m-2 0h0m0 1h0m-1 0h0m-2 0h0m-1 1h0m-3-2h0m0 2h0m-2-1h0m-2-1h0m0 1h0m-2 0h0m-2 1h0m-1 0h0m-1-1h0m-1 0h0m-2 0h0m-1 0h0m0 1h0m-2-1h0m-4 1h0m-2 0h0m-1 0h0m-3-2h0m-2 0h0m0 2h0m-1-2h0m-2 1h0m-1-1h0m5 4h0m1-1h0m3 0h0m4 0h0m5 0h0m0 1h0m1-1h0m0 2h0m1 0h0m0-1h0m2 0h0m1 1h0m2-2h0m2 2h0m0-1h0m2 1h0m1-1h0m0 1h0m1 0h0m1-1h0m2-1h0m0 1h0m-4 2h0m-3 1h0m-1 0h0m-1 1h0m-1 0h0m0-2h0m-3 0h0m-3 0h0m-1 0h0m-1 0h0m-2 2h0m0-2h0m-1 2h0m-2-1h0m-1-1h0m6 4h0m0-1h0m2 0h0m1 0h0m2 0h0m0 2h0m1-2h0" stroke="#2b2d7c" stroke-width="1.7" stroke-linecap="square"/>
<path d="M544.4 1560.4L544.4 1905" stroke="#222" stroke-width="1.4" />
<path d="M540.4 1631.9L544.4 1631.9" stroke="#222" stroke-width="1.2" />
<text x="538.4" y="1639.4" font-size="21" text-anchor="end">4</text>
<path d="M540.4 1686.3L544.4 1686.3" stroke="#222" stroke-width="1.2" />
<path d="M540.4 1740.9L544.4 1740.9" stroke="#222" stroke-width="1.2" />
<text x="538.4" y="1748.4" font-size="21" text-anchor="end">0</text>
<path d="M540.4 1795.3L544.4 1795.3" stroke="#222" stroke-width="1.2" />
<path d="M540.4 1849.6L544.4 1849.6" stroke="#222" stroke-width="1.2" />
<text x="538.4" y="1857.1" font-size="21" text-anchor="end">-4</text>
<text transform="translate(511.5,1740) rotate(-90)" font-size="21" text-anchor="middle">UMAP 2</text>
<path d="M554 1918.7L846.1 1918.7" stroke="#222" stroke-width="1.4" />
<path d="M554 1918.7L554 1923" stroke="#222" stroke-width="1.2" />
<text x="554.5" y="1944.4" font-size="21" text-anchor="middle">-10</text>
<path d="M627 1918.7L627 1923" stroke="#222" stroke-width="1.2" />
<path d="M700.4 1918.7L700.4 1923" stroke="#222" stroke-width="1.2" />
<text x="701.4" y="1944.4" font-size="21" text-anchor="middle">0</text>
<path d="M773.6 1918.7L773.6 1923" stroke="#222" stroke-width="1.2" />
<path d="M846.1 1918.7L846.1 1923" stroke="#222" stroke-width="1.2" />
<text x="847.1" y="1944.4" font-size="21" text-anchor="middle">10</text>
<text x="698.5" y="1963.6" font-size="21" text-anchor="middle">UMAP 1</text>
<text x="562.9" y="1586.8" font-size="20.6">Centrocyte signature</text>
<defs><linearGradient id="gk" x1="0" y1="1" x2="0" y2="0"><stop offset="0" stop-color="#fafaff"/><stop offset="0.45" stop-color="#b8b2dc"/><stop offset="0.75" stop-color="#5a4aa6"/><stop offset="1" stop-color="#2a2f7c"/></linearGradient></defs>
<rect x="852.1" y="1794.9" width="15.8" height="109.9" fill="url(#gk)" />
<text x="874" y="1822" font-size="20.4">0.0060</text>
<path d="M852.1 1815L855 1815" stroke="#fff" stroke-width="1" />
<path d="M865 1815L867.9 1815" stroke="#fff" stroke-width="1" />
<text x="874" y="1844.8" font-size="20.4">0.0055</text>
<path d="M852.1 1837.8L855 1837.8" stroke="#fff" stroke-width="1" />
<path d="M865 1837.8L867.9 1837.8" stroke="#fff" stroke-width="1" />
<text x="874" y="1867.6" font-size="20.4">0.0050</text>
<path d="M852.1 1860.6L855 1860.6" stroke="#fff" stroke-width="1" />
<path d="M865 1860.6L867.9 1860.6" stroke="#fff" stroke-width="1" />
<text x="874" y="1890.9" font-size="20.4">0.0045</text>
<path d="M852.1 1883.9L855 1883.9" stroke="#fff" stroke-width="1" />
<path d="M865 1883.9L867.9 1883.9" stroke="#fff" stroke-width="1" />
<text x="3.6" y="1577" class="pl">j</text>
<text x="488" y="1577.9" class="pl">k</text>
<text x="939.4" y="1577.5" class="pl">l</text>
<text x="1048.5" y="1572.2" font-size="20.3">Genotype</text>
<rect x="1049.2" y="1584.8" width="12.6" height="9.5" fill="#1a9a8a" />
<rect x="1049.2" y="1606.5" width="12.6" height="8.8" fill="#ef8a1a" />
<text x="1073" y="1595.3" font-size="20.6" font-style="italic">H1 wild type</text>
<text x="1073" y="1616.3" font-size="20.6" font-style="italic">H1c<tspan dy="-8" font-size="12">-/-</tspan><tspan dy="8">/e</tspan><tspan dy="-8" font-size="12">-/-</tspan></text>
<text x="1202.5" y="1585.5" font-size="22.7">G2/M cell cycle signature</text>
<path d="M1035.2 1629.3L1035.2 1772.8" stroke="#333" stroke-width="1.3" />
<path d="M1030 1655.6L1035.2 1655.6" stroke="#333" stroke-width="1.2" />
<text x="1027" y="1662.6" font-size="20.3" text-anchor="end">1.0</text>
<path d="M1030 1694.6L1035.2 1694.6" stroke="#333" stroke-width="1.2" />
<text x="1027" y="1701.6" font-size="20.3" text-anchor="end">0.5</text>
<path d="M1030 1733.6L1035.2 1733.6" stroke="#333" stroke-width="1.2" />
<text x="1027" y="1740.6" font-size="20.3" text-anchor="end">0.0</text>
<path d="M1030 1772.6L1035.2 1772.6" stroke="#333" stroke-width="1.2" />
<text x="1027" y="1779.6" font-size="20.3" text-anchor="end">-0.5</text>
<text transform="translate(971,1704.5) rotate(-90)" font-size="20.6" text-anchor="middle">expression score</text>
<path d="M1049.2 1775.2L1614.8 1775.2" stroke="#333" stroke-width="1.3" />
<path d="M1049.2 1775.2L1049.2 1779" stroke="#333" stroke-width="1.2" />
<text x="1049.2" y="1797.8" font-size="20.6" text-anchor="middle">0</text>
<path d="M1207.1 1775.2L1207.1 1779" stroke="#333" stroke-width="1.2" />
<text x="1207.1" y="1797.8" font-size="20.6" text-anchor="middle">20</text>
<path d="M1365 1775.2L1365 1779" stroke="#333" stroke-width="1.2" />
<text x="1365" y="1797.8" font-size="20.6" text-anchor="middle">40</text>
<path d="M1522.9 1775.2L1522.9 1779" stroke="#333" stroke-width="1.2" />
<text x="1522.9" y="1797.8" font-size="20.6" text-anchor="middle">60</text>
<path d="M1199 1627.5V1772.8M1199 1840.3V1923.3M1290 1627.5V1772.8M1290 1840.3V1923.3M1375 1627.5V1772.8M1375 1840.3V1923.3M1433.5 1627.5V1772.8M1433.5 1840.3V1923.3M1469.2 1627.5V1772.8M1469.2 1840.3V1923.3M1493 1627.5V1772.8M1493 1840.3V1923.3M1508.8 1627.5V1772.8M1508.8 1840.3V1923.3M1522 1627.5V1772.8M1522 1840.3V1923.3M1537.8 1627.5V1772.8M1537.8 1840.3V1923.3M1585.8 1627.5V1772.8M1585.8 1840.3V1923.3" stroke="#b0b0b0" stroke-width="1.1" stroke-dasharray="4 3"/>
<path d="M1104 1634h0m0 1h0m-7 2h0m-4 0h0m3 2h0m1 1h0m3-2h0m5 2h0m13-2h0m3 1h0m6-1h0m11 0h0m2 2h0m3 0h0m3 0h0m10 1h0m-8 2h0m-19-1h0m-7 0h0m-6 0h0m-3 0h0m-1 1h0m-1-2h0m-1 2h0m-1-2h0m-4 0h0m-2 1h0m-6 0h0m-1 1h0m-1-2h0m-1 1h0m-2-1h0m-1 1h0m-2 1h0m2 2h0m1 0h0m2-1h0m7 0h0m0 2h0m2-2h0m3 1h0m0 1h0m9-2h0m5 1h0m2-1h0m2 0h0m10 0h0m1 0h0m13 0h0m60 5h0m-31-2h0m-20 1h0m-11 0h0m-3 1h0m-14-1h0m-12 1h0m-5 0h0m-2 0h0m-1-2h0m-3 2h0m-5-2h0m-6 1h0m-5 1h0m-1 0h0m2 2h0m5 1h0m2-2h0m1 2h0m2-1h0m4-1h0m0 1h0m2 1h0m8 0h0m4-1h0m7 1h0m4 0h0m1-2h0m8 2h0m3-1h0m17 0h0m1-1h0m6 0h0m4 1h0m53 4h0m-43 0h0m-7-1h0m-9 0h0m-5 0h0m-22-1h0m-3 0h0m-4 2h0m-2 0h0m0-1h0m-2-1h0m-3 2h0m-4-1h0m-1 0h0m-1-1h0m-9 0h0m0 2h0m-8-1h0m-2 1h0m-4-1h0m-1-1h0m-3 0h0m-1 1h0m1 2h0m3 2h0m0-2h0m1 0h0m0 2h0m0-1h0m1 1h0m5-2h0m0 2h0m1-2h0m2 1h0m2 1h0m1-2h0m1 1h0m3-1h0m0 1h0m5 0h0m3-1h0m0 2h0m1-1h0m6 0h0m3 1h0m2 0h0m0-1h0m2-1h0m6 2h0m1 0h0m2 0h0m1-1h0m0-1h0m1 0h0m5 0h0m0 1h0m5 0h0m1-1h0m1 2h0m8-1h0m6-1h0m7 0h0m0 2h0m6 0h0m15-2h0m22 5h0m-45 0h0m-2 0h0m-1 0h0m-8 0h0m0-1h0m-1 0h0m-3-1h0m0 2h0m-4 0h0m-1-1h0m-1-1h0m-1 1h0m-3 1h0m-4-2h0m-4 2h0m-1-2h0m-1 1h0m0-1h0m-1 2h0m-4 0h0m-1 0h0m-1-2h0m-1 0h0m-1 2h0m-1-2h0m-6 2h0m-4-2h0m-2 0h0m-2 2h0m-4-2h0m-1 2h0m-1 0h0m-3 0h0m-1-1h0m0-1h0m-3 1h0m-2 1h0m-5-1h0m0 4h0m2 0h0m2 0h0m4 0h0m6-2h0m5 2h0m5-2h0m1 0h0m3 2h0m3-1h0m3 1h0m1 0h0m3-1h0m1 0h0m1-1h0m1 2h0m1 0h0m1 0h0m1-2h0m1 1h0m1-1h0m0 1h0m3 0h0m1-1h0m0 1h0m1 1h0m0-2h0m6 2h0m2-2h0m1 2h0m2 0h0m1 0h0m0-1h0m3 1h0m3-2h0m0 2h0m11-2h0m2 2h0m3 0h0m1-2h0m3 1h0m3-1h0m1 0h0m1 0h0m0 2h0m13-2h0m12 1h0m17 0h0m17 1h0m-20 1h0m-2 1h0m-4 0h0m-6 1h0m-3 0h0m-2-1h0m-6 1h0m0-1h0m-1 0h0m-7 0h0m-5 0h0m-9 1h0m-2-1h0m-1 0h0m-3 1h0m-1 0h0m-3-1h0m-1 0h0m-4 1h0m-1 0h0m-5 0h0m-2-1h0m-3-1h0m-1 2h0m-1 0h0m-3 0h0m0-1h0m-9 0h0m-1-1h0m-1 1h0m-1 1h0m-3-1h0m-2 1h0m-5-1h0m-2 0h0m-1-1h0m-5 0h0m0 2h0m-2-2h0m-2 2h0m-1 0h0m-6-2h0m-2 1h0m-2 0h0m-12 1h0m-5 1h0m0 1h0m4 0h0m2 1h0m1-2h0m1 0h0m2 1h0m2 1h0m6 0h0m2-2h0m1 1h0m1 1h0m3 0h0m5-2h0m8 1h0m0-1h0m1 0h0m0 1h0m4 0h0m3 0h0m2 1h0m3-1h0m1-1h0m0 2h0m2 0h0m1-2h0m5 1h0m0 1h0m1-1h0m0-1h0m1 2h0m1-1h0m4-1h0m0 2h0m1-1h0m2 0h0m5-1h0m2 1h0m4 0h0m5 1h0m1-1h0m1-1h0m1 2h0m1-1h0m2-1h0m2 1h0m1 1h0m4-1h0m3 0h0m2 0h0m1-1h0m1 1h0m5 1h0m3 0h0m1 0h0m1-1h0m1 0h0m13 1h0m3 0h0m30-1h0m1-1h0m-2 3h0m-1 0h0m-7 1h0m-3-1h0m-17 2h0m-1-1h0m-3 1h0m-4-1h0m-3 1h0m-2-2h0m-1 0h0m-1 1h0m-1 1h0m0-1h0m-2-1h0m-3 0h0m-5 1h0m-2 0h0m-9 0h0m-3-1h0m-2 2h0m-2-1h0m0 1h0m-1-2h0m-4 0h0m0 1h0m-2-1h0m-1 0h0m-2 1h0m-3 0h0m-4 1h0m-3-2h0m-1 0h0m-6 1h0m-1 1h0m-5-1h0m-2 0h0m-2-1h0m-3 2h0m-1-2h0m-4 2h0m-3-2h0m0 2h0m-2-2h0m0 1h0m-5 1h0m-1 0h0m-11 0h0m-5-1h0m-5-1h0m-6 1h0m-1-1h0m11 5h0m22-1h0m1 0h0m3 0h0m4 1h0m0-1h0m2 0h0m14-1h0m7 2h0m2-2h0m1 0h0m3 1h0m3-1h0m4 0h0m0 1h0m8 0h0m0 1h0m2 0h0m2-1h0m3 0h0m1 0h0m6 0h0m0-1h0m0 2h0m1-1h0m3 1h0m3-1h0m2 1h0m2-1h0m3-1h0m1 0h0m1 1h0m1 1h0m1 0h0m1-1h0m1 0h0m1 1h0m4-2h0m1 2h0m1-1h0m1 0h0m1 1h0m10-1h0m23 0h0m13 4h0m-6-2h0m-11 1h0m-8-1h0m0 2h0m-2 0h0m-5-1h0m-1-1h0m0 2h0m-3-1h0m0-1h0m-2 2h0m-1 0h0m-6 0h0m-4-1h0m0-1h0m0 2h0m-1-1h0m-5 0h0m0-1h0m-1 0h0m-1 0h0m0 2h0m-1-2h0m-1 2h0m-1-2h0m-1 2h0m0-2h0m-7 1h0m0 1h0m-2 0h0m-1-2h0m-2 1h0m0-1h0m-1 0h0m-1 1h0m-2-1h0m-1 2h0m0-2h0m-3 2h0m0-2h0m-2 1h0m-2-1h0m-4 0h0m-1 2h0m-1-1h0m-4-1h0m0 2h0m-6-2h0m-5 2h0m-2-2h0m-7 2h0m-1-1h0m-1 1h0m-2 0h0m0-1h0m-3 1h0m-3-1h0m0-1h0m-5 2h0m-1 0h0m-3-2h0m-1 0h0m-1 1h0m-3 0h0m-6-1h0m-17 2h0m-1-1h0m-2 0h0m6 4h0m22-2h0m16 0h0m4 1h0m2 0h0m1 0h0m0 1h0m6-1h0m1 0h0m3-1h0m2 0h0m12 1h0m1 1h0m1-1h0m0-1h0m1 2h0m1 0h0m1-1h0m2 0h0m0-1h0m2 1h0m1-1h0m1 2h0m4-1h0m2 1h0m1 0h0m1-1h0m1-1h0m0 2h0m1-2h0m1 0h0m1 1h0m1 1h0m3-2h0m4 0h0m1 2h0m3-1h0m1 0h0m1-1h0m0 2h0m2-1h0m2 0h0m2 1h0m1 0h0m1-1h0m3 0h0m2 1h0m0-1h0m4 1h0m1-1h0m2 1h0m0-1h0m6-1h0m6 2h0m6-1h0m1 0h0m5 0h0m18-1h0m0 1h0m170 4h0m-3-1h0m-176 1h0m-4-1h0m-9-1h0m0 2h0m-3-2h0m-1 2h0m0-1h0m-1 1h0m-1-2h0m-4 0h0m0 2h0m-1-1h0m-3 0h0m-6 1h0m0-1h0m-1-1h0m0 2h0m-5-1h0m-5-1h0m-2 0h0m-2 1h0m-3 0h0m-3 1h0m-2-2h0m-1 0h0m-2 1h0m-1 0h0m-5 0h0m-1 1h0m-1-1h0m-1-1h0m-2 2h0m-1-1h0m-4-1h0m0 2h0m-1-2h0m-3 0h0m-2 0h0m-1 0h0m-6 0h0m0 1h0m-1-1h0m-3 0h0m-1 2h0m-11 0h0m-4-2h0m-1 1h0m0 1h0m-3-2h0m-9 1h0m-11 0h0m-2-1h0m-10 0h0m-8 0h0m-5 2h0m-15-1h0m-5 2h0m12 0h0m6 2h0m12-2h0m4 0h0m2 0h0m32 2h0m6-1h0m4-1h0m3 2h0m2-1h0m3 0h0m9-1h0m1 0h0m4 1h0m3 1h0m1-1h0m4-1h0m10 2h0m1-1h0m7-1h0m1 0h0m1 1h0m1 0h0m2-1h0m1 0h0m3 0h0m0 2h0m2 0h0m1 0h0m0-1h0m2 0h0m3 1h0m1 0h0m1 0h0m2-1h0m0 1h0m7-2h0m7 1h0m2 0h0m1 0h0m11 0h0m4 1h0m3-2h0m8 2h0m1-2h0m6 1h0m21 0h0m81 1h0m107 1h0m-6 1h0m-41-1h0m-14 2h0m-12-2h0m-123 0h0m-9 1h0m-12 0h0m-5-1h0m0 2h0m-4-1h0m-2 0h0m-2-1h0m-1 2h0m-6 0h0m-1-2h0m-1 1h0m-1-1h0m-2 0h0m-3 1h0m-5-1h0m-4 0h0m-1 1h0m-1-1h0m-1 0h0m-2 1h0m-1 0h0m0 1h0m-1-1h0m-1 1h0m-1-2h0m0 1h0m-4-1h0m-2 0h0m-1 0h0m-2 0h0m-1 0h0m-3 1h0m-1 1h0m0-1h0m-5 1h0m-5 0h0m-2 0h0m-5-2h0m-2 0h0m-2 2h0m-12 0h0m-2-2h0m-4 1h0m-6-1h0m-7 1h0m-11-1h0m-14 1h0m-9-1h0m-7 1h0m-11 1h0m45 1h0m15 0h0m13 1h0m14-1h0m4 1h0m1-1h0m2 2h0m1 0h0m11-1h0m2 1h0m1-2h0m1 0h0m1 0h0m1 2h0m3-2h0m0 2h0m2-1h0m3 0h0m3-1h0m4 1h0m0-1h0m3 2h0m1-1h0m2 1h0m0-1h0m1-1h0m3 0h0m2 1h0m0-1h0m3 2h0m0-2h0m1 1h0m3 1h0m2-1h0m0-1h0m2 2h0m2-2h0m3 2h0m2 0h0m2 0h0m3-1h0m0-1h0m1 2h0m3-1h0m191 1h0m19 3h0m-36 0h0m-4-1h0m-6 1h0m-21-2h0m-128 0h0m-4 1h0m-3 1h0m-2 0h0m-3-1h0m-2 0h0m-1-1h0m-3 0h0m-2 0h0m-1 0h0m-2 0h0m-1 2h0m-1-1h0m-2-1h0m-2 0h0m-1 2h0m-2-2h0m0 2h0m-4 0h0m-1 0h0m0-1h0m-2 1h0m-1-2h0m0 2h0m0-1h0m-6-1h0m-10 1h0m-2 1h0m-1-2h0m-2 1h0m-7 0h0m-1 1h0m-1 0h0m-27 0h0m-1-2h0m-1 2h0m-1-2h0m-1 2h0m-31 0h0m-8-1h0m-13 2h0m36 0h0m14 0h0m1 2h0m1 0h0m8-1h0m12-1h0m1 0h0m4 1h0m2 0h0m3 0h0m7-1h0m3 0h0m4 1h0m3-1h0m1 2h0m1 0h0m9 0h0m2 0h0m3 0h0m1-2h0m2 0h0m5 2h0m0-1h0m2 0h0m1 0h0m2-1h0m4 0h0m0 1h0m1-1h0m3 1h0m2 0h0m3 0h0m1 0h0m5 1h0m2-1h0m1 1h0m1-2h0m3 2h0m2 0h0m7-1h0m147-1h0m31 1h0m43 3h0m-51 0h0m-35 0h0m-9 1h0m-123 0h0m-3-1h0m-1 0h0m-1 1h0m-5-1h0m-3-1h0m0 2h0m-1 0h0m-1-1h0m-3-1h0m-3 2h0m-1-1h0m-2 1h0m-7-2h0m-1 2h0m-3 0h0m-1-2h0m-1 2h0m0-1h0m-3 1h0m0-2h0m-1 0h0m-1 1h0m0 1h0m-3-2h0m-1 0h0m-2 2h0m-3-2h0m-4 0h0m-3 0h0m0 2h0m-3 0h0m-1-1h0m-7 1h0m-2-2h0m-9 1h0m-16 3h0m16-1h0m1 2h0m4-1h0m3 0h0m1 0h0m3 0h0m5 0h0m3 1h0m5-1h0m1 0h0m3 1h0m2-1h0m1 0h0m3-1h0m0 2h0m1-2h0m0 1h0m1-1h0m0 1h0m6 1h0m4 0h0m0-2h0m2 2h0m0-1h0m1-1h0m1 1h0m2-1h0m0 2h0m0-1h0m4 1h0m1-1h0m0-1h0m1 0h0m0 2h0m1-2h0m1 2h0m3 0h0m1 0h0m6-2h0m6 2h0m5-1h0m4 1h0m8-2h0m11 0h0m103 0h0m16 2h0m18-1h0m19 1h0m43 3h0m-42-2h0m-7 1h0m-14 1h0m-9-2h0m-4 0h0m-6 0h0m-14 2h0m-96 0h0m-15 0h0m-10 0h0m-1 0h0m-1-1h0m-1-1h0m-2 2h0m-1 0h0m-7-2h0m-2 2h0m-5-1h0m0-1h0m-3 1h0m-4-1h0m-1 0h0m0 2h0m-3-1h0m-3 1h0m-1 0h0m0-2h0m-1 1h0m0-1h0m-1 0h0m-1 2h0m0-1h0m-2 0h0m-1-1h0m-3 2h0m-9-1h0m-12-1h0m-85 1h0m37 2h0m52 0h0m3 1h0m7 1h0m6-2h0m0 2h0m10-2h0m3 1h0m1 0h0m0-1h0m2 0h0m1 1h0m0 1h0m2 0h0m1-2h0m0 2h0m1-1h0m1 0h0m1 1h0m1-2h0m0 2h0m2-1h0m0-1h0m1 2h0m1-2h0m3 2h0m0-1h0m3 0h0m1 0h0m1 0h0m0-1h0m0 2h0m1-1h0m3 0h0m1-1h0m3 1h0m2 0h0m2 1h0m0-2h0m3 0h0m0 2h0m1-1h0m0 1h0m6 0h0m81 0h0m9-1h0m10 1h0m7-1h0m3-1h0m16 0h0m17 2h0m50 1h0m-111 2h0m-23-1h0m-9 1h0m-33 0h0m-10 0h0m-1 0h0m-1-1h0m-9 0h0m-1 1h0m-1-1h0m-1 1h0m-9 0h0m-2 0h0m-1-2h0m0 2h0m-1 0h0m-1-1h0m-1 0h0m-2-1h0m-1 1h0m-1-1h0m-1 0h0m-2 1h0m0 1h0m-1 0h0m-1 0h0m-5-2h0m-1 1h0m-1 0h0m-1 0h0m-2-1h0m-2 2h0m0-1h0m-1 1h0m-2-1h0m-1-1h0m0 2h0m-5-1h0m-16 0h0m-3-1h0m-30 1h0m28 2h0m18 1h0m2-1h0m4 2h0m5 0h0m1 0h0m1 0h0m2-2h0m5 1h0m5 1h0m2-2h0m1 0h0m4 0h0m2 2h0m1-2h0m1 1h0m0 1h0m2-2h0m0 2h0m3 0h0m1 0h0m4-1h0m1-1h0m2 2h0m4-2h0m0 2h0m4-2h0m7 1h0m7 0h0m78-1h0m7 2h0m5-1h0m2-1h0m1 2h0m5-2h0m0 2h0m20-2h0m34 0h0m23 3h0m-3 1h0m-11 0h0m-3 0h0m-24 1h0m-2-1h0m-1 0h0m-10 1h0m-6-2h0m-5 0h0m0 1h0m-12-1h0m-1 0h0m-6 1h0m-1 0h0m-12 0h0m-8 0h0m-18-1h0m-53 1h0m-3 1h0m-4-2h0m-2 0h0m-2 2h0m0-1h0m-1 1h0m-1 0h0m-5 0h0m-1-1h0m-3 1h0m-1-2h0m-1 0h0m-1 0h0m-1 0h0m0 2h0m-1-1h0m-1 1h0m-2-2h0m-2 0h0m-1 1h0m-1 0h0m-1 1h0m-1-2h0m0 2h0m-1 0h0m-5-2h0m-7 2h0m-3-1h0m-5 0h0m-9-1h0m-27 0h0m-18 0h0m49 5h0m6 0h0m5 0h0m2-2h0m0 2h0m16-2h0m0 2h0m1-2h0m0 1h0m4 0h0m1 1h0m2-1h0m2 1h0m1-2h0m10 2h0m0-2h0m5 2h0m1 0h0m3-2h0m9 1h0m72-1h0m32 1h0m11 1h0m1-1h0m1 0h0m14-1h0m6 2h0m33-1h0m3 4h0m-6-2h0m-23 0h0m-7 1h0m-13 0h0m-8 0h0m-1 1h0m-2-2h0m-1 1h0m-10 0h0m-9-1h0m-3 2h0m-3-2h0m-11 0h0m-1 2h0m-8 0h0m-23-2h0m-7 0h0m-3 0h0m-28 2h0m-8-1h0m-3 0h0m-1 0h0m-3-1h0m-2 0h0m-1 2h0m-2-1h0m-2-1h0m-2 1h0m-2-1h0m0 2h0m0-1h0m-2 0h0m-1-1h0m-2 1h0m-1 1h0m-2 0h0m-3-1h0m-1 0h0m-1 1h0m-1-2h0m0 2h0m0-1h0m-14 1h0m-12 3h0m7-2h0m16 0h0m2 1h0m0-1h0m6 0h0m2 0h0m1 1h0m1 1h0m5 0h0m2-2h0m0 2h0m1 0h0m1 0h0m2-1h0m2 1h0m4 0h0m1-1h0m0 1h0m1-2h0m1 0h0m1 0h0m0 2h0m5-1h0m1-1h0m2 2h0m1-2h0m17 0h0m43 1h0m8 1h0m1 0h0m4-1h0m14 1h0m6-2h0m12 1h0m12-1h0m21 2h0m28 3h0m-22-1h0m-1 1h0m-15-1h0m-1 1h0m-32-2h0m-2 1h0m-2 1h0m-9-1h0m-7 0h0m-2 1h0m0-1h0m-20 0h0m-1-1h0m-20 0h0m-2 1h0m-9-1h0m-1 2h0m-10-1h0m-1 0h0m-7 0h0m-2 1h0m-3 0h0m-4 0h0m-2 0h0m-1-1h0m0-1h0m-2 2h0m-1 0h0m-1 0h0m-4-2h0m-1 1h0m-2 0h0m-1-1h0m0 2h0m-2 0h0m0-2h0m-1 0h0m-3 0h0m-2 1h0m0-1h0m0 2h0m-3-2h0m-20 1h0m14 2h0m5 2h0m2-2h0m2 1h0m2-1h0m4 2h0m2-1h0m5-1h0m3 0h0m1 2h0m1-2h0m1 1h0m2-1h0m2 0h0m4 1h0m1 1h0m0-1h0m1 1h0m0-2h0m1 2h0m2-1h0m1-1h0m1 2h0m2-1h0m1 1h0m3 0h0m3 0h0m1 0h0m1-1h0m4 0h0m0 1h0m6-1h0m1 1h0m2-2h0m4 0h0m1 2h0m1 0h0m0-1h0m6 1h0m6-1h0m8-1h0m3 0h0m0 2h0m3 0h0m5-1h0m1-1h0m2 1h0m1 1h0m0-1h0m2 1h0m2 0h0m2-1h0m2 1h0m1-2h0m1 1h0m3 0h0m1 1h0m1 0h0m3 0h0m1-2h0m1 0h0m1 2h0m3-2h0m2 2h0m4 0h0m4-1h0m6-1h0m2 0h0m8 1h0m4 1h0m7-1h0m1-1h0m5 1h0m1 1h0m8-2h0m30 3h0m-25 2h0m-3-1h0m-3 1h0m-8 0h0m-4-1h0m-2 0h0m-6 1h0m-1 0h0m-2 0h0m-4-1h0m0-1h0m-3 1h0m-3-1h0m-2 2h0m-3-1h0m-5 0h0m-4 0h0m-3 1h0m-1 0h0m-9 0h0m-2-2h0m-6 1h0m-3 1h0m-3-2h0m-2 1h0m-7-1h0m-3 0h0m-1 2h0m-1-2h0m-1 0h0m-2 0h0m-3 0h0m-1 1h0m-5 0h0m-3-1h0m-2 2h0m-3 0h0m-1 0h0m-5-1h0m-1 1h0m-1 0h0m-3-1h0m-3-1h0m-3 1h0m-7 0h0m-5 0h0m0-1h0m0 2h0m-1-1h0m-1-1h0m0 2h0m-1-1h0m0 1h0m-1 0h0m-1-2h0m-1 1h0m-1 0h0m-1-1h0m0 2h0m-1-1h0m-1-1h0m-1 0h0m-1 0h0m-1 2h0m-1-1h0m-1-1h0m-1 1h0m-1-1h0m0 2h0m-5-2h0m-5 2h0m-3-2h0m-1 0h0m-6 1h0m-6 1h0m-1 0h0m-1-2h0m2 3h0m7 1h0m7-1h0m1 2h0m4-1h0m7 0h0m2-1h0m0 2h0m1 0h0m1-2h0m5 0h0m0 2h0m1-2h0m3 0h0m0 2h0m0-1h0m1 0h0m1 0h0m1-1h0m0 2h0m2-1h0m1 1h0m1 0h0m4-2h0m2 2h0m2-1h0m1 0h0m0-1h0m2 0h0m0 1h0m2 0h0m0 1h0m1-2h0m2 1h0m5 0h0m5 0h0m2 0h0m1 1h0m1 0h0m3-1h0m2 1h0m2 0h0m2-1h0m4 1h0m1 0h0m2 0h0m3 0h0m3 0h0m0-2h0m1 1h0m0 1h0m1-2h0m1 2h0m1-2h0m9 0h0m1 2h0m1-1h0m0 1h0m1-2h0m0 1h0m1 1h0m1 0h0m2-2h0m0 1h0m3 0h0m2 1h0m5-1h0m2 1h0m2-2h0m0 2h0m0-1h0m3 0h0m3-1h0m0 2h0m1 0h0m6-1h0m4 1h0m1-2h0m2 1h0m2 0h0m2 1h0m4 0h0m0-1h0m2-1h0m1 2h0m3-1h0m3 0h0m2 1h0m2-1h0m9 1h0m3-1h0m4 0h0m14 1h0m3 0h0m2-2h0m5 0h0m4 1h0m38 3h0m-4 1h0m-4 0h0m-3 0h0m-7 0h0m-4-1h0m-7 1h0m-2-1h0m-9 1h0m-1-1h0m-4 1h0m-1 0h0m-1-1h0m-7 0h0m-4-1h0m-3 2h0m-1-1h0m-1 0h0m0-1h0m-3 2h0m-2-2h0m0 2h0m-3-2h0m-4 1h0m-7 1h0m0-1h0m-1 0h0m-4-1h0m-1 0h0m0 1h0m-1-1h0m0 2h0m-1-1h0m-3 0h0m-1-1h0m0 2h0m-1-2h0m-3 1h0m0 1h0m-2-1h0m-4 0h0m-1 1h0m0-1h0m-4-1h0m-2 2h0m-13-1h0m-4 1h0m0-1h0m-2-1h0m-1 0h0m0 2h0m0-1h0m-1 0h0m-5 0h0m-1 1h0m-1-2h0m-2 2h0m-1-1h0m-3-1h0m-4 2h0m-2 0h0m0-1h0m-5 0h0m0-1h0m-5 2h0m-1 0h0m-1 0h0m-3-2h0m-6 2h0m-1 0h0m-1 0h0m-1-1h0m-1 0h0m-1 1h0m-2-1h0m-2 0h0m-1 0h0m-1-1h0m-2 2h0m0-1h0m-2 1h0m-4 0h0m-3-1h0m-1-1h0m-1 0h0m-1 0h0m0 1h0m-1-1h0m0 2h0m-2 0h0m-1-1h0m0 1h0m-1-1h0m-1 0h0m0 1h0m-2-1h0m-1 1h0m-2 0h0m-4-2h0m0 1h0m-1-1h0m0 1h0m-1 1h0m-1-2h0m-1 2h0m-6-2h0m-1 1h0m-4 0h0m-2-1h0m-3 2h0m-3 0h0m-5-1h0m-4-1h0m17 5h0m2-2h0m0 1h0m1 0h0m1-1h0m1 2h0m2-2h0m1 1h0m5-1h0m5 0h0m0 2h0m2-2h0m5 1h0m0-1h0m2 1h0m2-1h0m1 1h0m2-1h0m1 2h0m1-2h0m0 2h0m1-2h0m2 0h0m1 2h0m1 0h0m1-1h0m0-1h0m0 2h0m1-2h0m3 2h0m0-1h0m1-1h0m0 1h0m2 1h0m1 0h0m2-2h0m3 2h0m3-1h0m0-1h0m1 2h0m3-2h0m1 2h0m0-1h0m1-1h0m0 2h0m0-1h0m2-1h0m2 1h0m1 1h0m2-2h0m2 2h0m1-1h0m1 1h0m2 0h0m2-2h0m0 2h0m5-2h0m0 2h0m1-1h0m1-1h0m3 2h0m0-2h0m6 2h0m2-1h0m4-1h0m2 0h0m0 2h0m1 0h0m1-1h0m1 1h0m1 0h0m3 0h0m1-2h0m11 1h0m4-1h0m3 1h0m1 1h0m3 0h0m1 0h0m4-1h0m1 1h0m3-1h0m1 1h0m5 0h0m1 0h0m4 0h0m4 0h0m1-2h0m1 1h0m2-1h0m0 1h0m2 1h0m8-2h0m1 1h0m5 0h0m6 0h0m2 0h0m6-1h0m4 0h0m1 0h0m0 2h0m2-2h0m0 1h0m8 0h0m1-1h0m4 1h0m1 1h0m1 0h0m2 0h0m4-1h0m3 0h0m1 1h0m4-2h0m2 2h0m1 0h0m0-1h0m1 0h0m0-1h0m1 2h0m0-1h0m2-1h0m3 2h0m1-2h0m-2 4h0m-1-1h0m-2 0h0m-1 2h0m-2 0h0m-1-1h0m-1 1h0m-1-1h0m-4 0h0m-1 1h0m-1-2h0m0 2h0m0-1h0m-1-1h0m0 2h0m-2-1h0m-4 1h0m-2-1h0m-1-1h0m0 2h0m-1 0h0m-3 0h0m-1-1h0m-1 1h0m-1-1h0m-6 1h0m-7 0h0m-1-1h0m-2 1h0m-1-1h0m-3 1h0m-1 0h0m-5-2h0m-3 0h0m0 1h0m-6-1h0m-2 1h0m-2 1h0m-1-1h0m-2 0h0m-1 0h0m-1-1h0m-3 0h0m-5 0h0m-1 1h0m0-1h0m-1 1h0m-2 0h0m-1 1h0m-4 0h0m-3 0h0m-2 0h0m-1 0h0m-4-2h0m-3 2h0m-1 0h0m-6 0h0m-4-1h0m-2 0h0m-1-1h0m-3 0h0m-5 2h0m-2 0h0m-1 0h0m-1-1h0m-3 0h0m-2 1h0m0-1h0m-2 1h0m-3 0h0m-2-1h0m-1-1h0m-1 1h0m-1 0h0m-1 1h0m-4 0h0m-2-1h0m0-1h0m-4 1h0m-1 1h0m-1 0h0m-3 0h0m-1-2h0m-1 1h0m-3-1h0m0 2h0m-2-1h0m-1 1h0m-4-2h0m-3 2h0m-3-1h0m-1-1h0m-1 2h0m-1 0h0m-2-2h0m-1 1h0m-3-1h0m-1 1h0m-1 1h0m-1-2h0m-1 2h0m-3-2h0m0 1h0m-2 0h0m-1-1h0m-1 1h0m-3-1h0m-3 0h0m0 2h0m-1-2h0m-1 0h0m0 2h0m-2 0h0m-1-2h0m-1 0h0m-6 2h0m-13 0h0m10 1h0m7 2h0m7-2h0m2 2h0m3-2h0m4 1h0m1-1h0m2 0h0m1 0h0m1 2h0m3-2h0m0 2h0m1 0h0m1-2h0m0 2h0m4-2h0m1 1h0m3 0h0m1 0h0m6 0h0m1-1h0m1 2h0m2-1h0m0 1h0m1 0h0m2-2h0m1 2h0m1-2h0m2 1h0m1-1h0m4 2h0m1-2h0m1 0h0m2 0h0m1 2h0m13-1h0m0 1h0m7-2h0m5 2h0m5-1h0m1 1h0m0-1h0m2 0h0m1-1h0m7 2h0m3 0h0m0-1h0m7-1h0m5 2h0m2-2h0m3 1h0m2-1h0m2 2h0m0-1h0m2 1h0m1 0h0m1-2h0m0 2h0m4-1h0m3 0h0m1-1h0m6 0h0m1 1h0m1-1h0m1 0h0m1 0h0m2 1h0m1 0h0m0-1h0m4 0h0m1 0h0m2 0h0m0 2h0m1 0h0m1-1h0m2 0h0m2 0h0m2 0h0m1-1h0m2 0h0m1 2h0m1-1h0m3-1h0m1 0h0m1 1h0m1 0h0m1 1h0m0-1h0m1 0h0m3 1h0m3 0h0m2 0h0m2 0h0m1 0h0m2-1h0m0 1h0m1-1h0m3-1h0m4 1h0m2 1h0m3 0h0m0-1h0m1 0h0m2-1h0m0 2h0m1-1h0m3 0h0m1 0h0m2 1h0m1-2h0m-1 3h0m0 2h0m-2 0h0m-2-1h0m0 1h0m-1-1h0m0 1h0m-1 0h0m-1-1h0m0-1h0m-2 0h0m-3 2h0m-1-2h0m-1 0h0m-1 2h0m0-1h0m-1 0h0m-1 0h0m0 1h0m-1-1h0m-1 0h0m0-1h0m-1 0h0m-2 1h0m-3 0h0m0-1h0m0 2h0m-4-1h0m0-1h0m-1 1h0m-1 1h0m-1 0h0m-3-1h0m-1 0h0m0 1h0m-2-2h0m-1 1h0m0-1h0m0 2h0m-1-1h0m-3 0h0m0-1h0m-1 0h0m-1 1h0m0-1h0m-1 1h0m0-1h0m0 2h0m-1-2h0m-2 1h0m0 1h0m-1-2h0m0 2h0m-1-2h0m-1 2h0m-1-1h0m-1 1h0m-1-2h0m-2 1h0m0 1h0m-2 0h0m-6-1h0m-3 0h0m0 1h0m-2-2h0m0 2h0m-1-1h0m0 1h0m-1-1h0m-2 0h0m-1 0h0m0-1h0m-1 2h0m-1 0h0m-1 0h0m0-1h0m-4 1h0m-5-1h0m-2-1h0m-4 0h0m-1 2h0m-2-2h0m-2 2h0m-13-2h0m-3 0h0m-1 0h0m-3 2h0m-5-1h0m-18-1h0m-1 0h0m-4 1h0m-7-1h0m-2 0h0m-10 0h0m-2 0h0m-3 0h0m-2 0h0m-7 2h0m-6-2h0m-1 1h0m0-1h0m-1 0h0m-1 0h0m-8 0h0m-3 1h0m-4-1h0m-1 1h0m-5 3h0m7-1h0m12 1h0m1 0h0m4 0h0m5-1h0m2 0h0m3 1h0m1 1h0m17-2h0m1 2h0m2 0h0m3-2h0m6 0h0m7 0h0m2 1h0m11 0h0m12-1h0m15 0h0m8 2h0m0-2h0m4 0h0m2 1h0m3 0h0m4 1h0m1-1h0m3 1h0m1-2h0m3 2h0m1-2h0m1 1h0m0-1h0m3 2h0m1-2h0m0 1h0m1 0h0m0 1h0m2 0h0m2-1h0m1-1h0m2 2h0m5 0h0m2-1h0m4-1h0m2 0h0m2 1h0m1 0h0m1-1h0m1 0h0m1 1h0m1-1h0m2 0h0m1 1h0m0-1h0m2 0h0m0 1h0m1 0h0m0-1h0m3 1h0m2 0h0m1-1h0m1 2h0m3-2h0m2 2h0m1-1h0m3 0h0m0-1h0m1 1h0m1 0h0m2 0h0m1-1h0m0 1h0m4-1h0m0 2h0m0-1h0m2 0h0m1-1h0m1 0h0m-2 3h0m-1 1h0m-8 1h0m-4-2h0m-1 0h0m-1 1h0m-7 0h0m-4 1h0m-1-2h0m-3 0h0m0 2h0m-3-1h0m-2-1h0m0 1h0m-2 1h0m-4-1h0m-2 0h0m-3-1h0m-1 1h0m-4-1h0m-2 1h0m-1 0h0m-2 1h0m-1-2h0m0 1h0m-2-1h0m-2 2h0m-5-1h0m-2-1h0m-1 2h0m-6-1h0m-9 0h0m-1 0h0m-2-1h0m-2 1h0m0-1h0m-4 2h0m-49-2h0m-2 2h0m-11-1h0m-2-1h0m-17 0h0m-22 1h0m-5 1h0m5 1h0m43 0h0m10 1h0m22 0h0m25-1h0m0 2h0m21-2h0m6 1h0m3 1h0m1-1h0m0-1h0m3 0h0m3 1h0m2-1h0m5 0h0m2 1h0m3-1h0m0 1h0m1 1h0m11-1h0m8-1h0m5 1h0" stroke="#21a89a" stroke-width="2.6" stroke-opacity="0.5" stroke-linecap="round"/>
<path d="M1095 1634h0m0-1h0m1 1h0m0-1h0m3 1h0m3 0h0m17 0h0m71 2h0m-65-1h0m-11 0h0m-1 2h0m-2 0h0m-9-1h0m-2 1h0m-3-1h0m-5 0h0m-3 0h0m1 4h0m2 0h0m4-1h0m1-1h0m0 2h0m3-1h0m0-1h0m0 2h0m1-1h0m11-1h0m2 2h0m5-2h0m2 0h0m4 0h0m1 1h0m4-1h0m6 2h0m21 0h0m17-1h0m-24 4h0m-3-1h0m-3 0h0m-6-1h0m-6 1h0m-3 1h0m-8-2h0m0 2h0m-8-1h0m-2 0h0m-2 0h0m-1-1h0m-2 0h0m-1 2h0m-1-1h0m-1 0h0m0 1h0m-2-1h0m-8-1h0m-3 2h0m2 2h0m1 0h0m0 1h0m1-2h0m0 2h0m1-1h0m2 0h0m1 0h0m1 1h0m2 0h0m1 0h0m0-1h0m10-1h0m4 0h0m0 2h0m1-1h0m1 0h0m4 0h0m1-1h0m6 1h0m2 0h0m4-1h0m4 0h0m5 2h0m16-1h0m5 0h0m4-1h0m28 5h0m-5 0h0m-30-1h0m-7 1h0m-1 0h0m-1-2h0m-1 2h0m-8-1h0m-8-1h0m0 2h0m-1-1h0m-1 0h0m0 1h0m-3-1h0m-1 0h0m-1-1h0m-3 1h0m-1 1h0m-2-2h0m-4 2h0m-1-1h0m-1 1h0m-2 0h0m-2-2h0m-1 2h0m-2 0h0m-2 0h0m-1 0h0m-3 0h0m-2 0h0m-2 0h0m-4-2h0m-2 1h0m-1-1h0m-1 1h0m-2 1h0m0-1h0m-1-1h0m0 3h0m1 2h0m1-2h0m0 2h0m2 0h0m3 0h0m1-2h0m1 1h0m3-1h0m2 1h0m1 1h0m1 0h0m2-1h0m0-1h0m1 0h0m1 0h0m0 2h0m4-1h0m0 1h0m1-2h0m0 2h0m1-2h0m3 2h0m0-2h0m2 1h0m0 1h0m1 0h0m2-1h0m3-1h0m0 1h0m3-1h0m1 2h0m2 0h0m1 0h0m2-1h0m3 0h0m6-1h0m0 2h0m2 0h0m6-1h0m10 1h0m6-2h0m1 2h0m3-1h0m3 0h0m13 0h0m9-1h0m13 4h0m-7-1h0m-3 0h0m-1 1h0m-2 1h0m-10-1h0m0-1h0m-1 0h0m-3 1h0m-3 1h0m0-1h0m-2-1h0m-1 1h0m-3 0h0m-1 0h0m-5 0h0m-2 0h0m-1 1h0m-1-1h0m-9 0h0m-1 1h0m-8 0h0m-3 0h0m-1-2h0m-1 2h0m0-1h0m-1-1h0m0 2h0m-1 0h0m0-1h0m-1-1h0m-1 1h0m0-1h0m-3 1h0m-4 0h0m-2-1h0m0 1h0m-1-1h0m-1 0h0m-2 1h0m0-1h0m-1 0h0m-2 0h0m-1 2h0m-1-2h0m-3 2h0m-1-1h0m-2 1h0m-1-1h0m-1-1h0m0 2h0m-1-2h0m-1 2h0m-2-2h0m-1 1h0m-1 1h0m0-2h0m-1 2h0m-2 0h0m0-1h0m-1 0h0m-1 1h0m0-1h0m-2 0h0m-3 1h0m-2 0h0m-1 0h0m-1-1h0m-2 1h0m0 1h0m2 1h0m1 1h0m0-1h0m0-1h0m4 1h0m2-1h0m2 0h0m0 1h0m1 1h0m5 0h0m0-1h0m2-1h0m1 2h0m0-2h0m1 2h0m0-1h0m1 0h0m1 0h0m0-1h0m2 1h0m1-1h0m0 2h0m3-1h0m2 1h0m2-2h0m1 0h0m1 1h0m1 1h0m0-1h0m2-1h0m0 2h0m1 0h0m0-1h0m1-1h0m0 1h0m2-1h0m2 1h0m1-1h0m3 2h0m1 0h0m1-2h0m2 0h0m2 1h0m1 0h0m4-1h0m1 0h0m3 2h0m1 0h0m1 0h0m1-1h0m1 0h0m1 1h0m2-2h0m1 2h0m1-1h0m4-1h0m1 1h0m1 1h0m6 0h0m1 0h0m3 0h0m4-2h0m5 1h0m5 0h0m0-1h0m2 2h0m2-2h0m3 0h0m5 2h0m0-1h0m3 0h0m8 1h0m23-1h0m-35 2h0m0 1h0m-6 0h0m-1 1h0m-10-2h0m-1 1h0m-2 0h0m0 1h0m-1-1h0m-1-1h0m-2 2h0m-3 0h0m-1-2h0m-2 1h0m-4-1h0m-3 1h0m0 1h0m-1-1h0m-1-1h0m-1 2h0m0-1h0m-2-1h0m-1 1h0m0 1h0m-1-1h0m-1 1h0m-4-1h0m0-1h0m-3 0h0m-2 1h0m0 1h0m-1-1h0m-2 0h0m-1-1h0m0 1h0m-2-1h0m0 2h0m-1 0h0m-2-2h0m-1 0h0m-1 0h0m0 2h0m-1 0h0m-2-2h0m-1 0h0m0 1h0m-2 1h0m-1 0h0m-1 0h0m0-1h0m0-1h0m-1 1h0m-1-1h0m-2 2h0m-1-1h0m-1 1h0m-1-1h0m-1 0h0m-1 0h0m-1 0h0m0-1h0m-1 0h0m-1 1h0m0-1h0m-3 2h0m-1-1h0m-1 0h0m0 1h0m-2-1h0m-1 0h0m0-1h0m-1 2h0m-1 0h0m-1-1h0m-1 0h0m-1 0h0m-1 0h0m-1 1h0m-2-1h0m-1-1h0m-2 2h0m-1-2h0m-1 1h0m0 1h0m-1 0h0m-1-2h0m-1 1h0m-1-1h0m-2 2h0m0-1h0m1 3h0m0-1h0m1 1h0m0 1h0m4-2h0m0 1h0m1 1h0m2-1h0m1 0h0m0-1h0m1 0h0m1 0h0m1 0h0m0 1h0m1 0h0m0 1h0m2 0h0m0-2h0m1 1h0m1-1h0m1 2h0m1-2h0m0 1h0m4 1h0m0-2h0m1 1h0m0 1h0m2-1h0m1 1h0m1-1h0m2 0h0m1-1h0m0 1h0m1-1h0m1 1h0m0-1h0m2 1h0m0 1h0m1-2h0m0 1h0m1 1h0m1 0h0m1-1h0m0-1h0m2 1h0m1 1h0m3 0h0m0-2h0m0 1h0m3-1h0m0 2h0m1 0h0m2-2h0m0 1h0m1-1h0m3 0h0m0 1h0m2-1h0m1 2h0m0-1h0m1-1h0m0 1h0m2 1h0m2-1h0m0-1h0m1 1h0m1-1h0m0 1h0m1 0h0m1 0h0m1 0h0m1 0h0m3 0h0m0-1h0m2 2h0m1-2h0m1 1h0m2 1h0m2 0h0m0-1h0m1 0h0m0 1h0m1-2h0m0 2h0m1-1h0m1 0h0m0 1h0m1-2h0m1 2h0m1 0h0m1 0h0m4 0h0m4-2h0m2 2h0m0-1h0m3 1h0m5-1h0m2 0h0m2 0h0m8 1h0m2-2h0m0 2h0m2 0h0m0-1h0m2-1h0m188 4h0m-129 0h0m-31-1h0m-18 1h0m-3 0h0m-3-1h0m-5 0h0m-3 0h0m-1 2h0m-2 0h0m-2-2h0m-1 1h0m0 1h0m-1-1h0m0-1h0m-2 2h0m-7 0h0m-1-2h0m-1 0h0m0 2h0m-2-1h0m-1 1h0m-1 0h0m-1-1h0m0 1h0m-3-2h0m0 2h0m0-1h0m-1-1h0m0 2h0m-1-2h0m0 2h0m-1-1h0m-2-1h0m0 2h0m-1-1h0m-1 0h0m-1-1h0m-3 1h0m-2 0h0m0-1h0m-1 0h0m0 2h0m-1 0h0m-1-2h0m-2 0h0m0 2h0m-1-2h0m0 2h0m-1-2h0m-4 1h0m-1-1h0m0 2h0m-1-2h0m-2 1h0m-2 1h0m-1-1h0m-1 0h0m-1-1h0m0 1h0m-2-1h0m0 2h0m-1-2h0m0 1h0m-1 1h0m-1-1h0m-3 0h0m-1-1h0m-2 1h0m0-1h0m0 2h0m-1 0h0m-1-1h0m-2 0h0m-1 1h0m-1-1h0m-1-1h0m-1 0h0m-3 0h0m-1 0h0m0 1h0m-2-1h0m0 2h0m-1-2h0m0 1h0m-1-1h0m0 1h0m0 1h0m-1-2h0m-1 2h0m-2-2h0m-3 2h0m-1-2h0m-1 1h0m0 1h0m-1-2h0m-1 0h0m-1 0h0m-1 0h0m-1 2h0m-1-2h0m-2 2h0m-2-1h0m-1 1h0m0-2h0m-1 2h0m-4-2h0m-1 1h0m-2 0h0m-1 1h0m-2-2h0m-1 0h0m0 2h0m-1 3h0m1 0h0m0-2h0m4 1h0m1-1h0m3 1h0m3-1h0m7 0h0m3 0h0m0 1h0m1-1h0m1 0h0m0 2h0m2-2h0m0 1h0m1-1h0m1 2h0m0-1h0m2 1h0m1-2h0m1 2h0m3-1h0m2-1h0m1 2h0m0-1h0m3-1h0m0 2h0m0-1h0m1-1h0m0 2h0m3 0h0m1 0h0m1-2h0m2 1h0m1 0h0m0-1h0m1 0h0m0 1h0m1-1h0m0 2h0m0-1h0m2-1h0m2 2h0m3-1h0m0 1h0m1-1h0m1-1h0m1 0h0m1 0h0m1 0h0m0 2h0m0-1h0m1-1h0m0 2h0m2-1h0m1 0h0m0 1h0m1 0h0m1-2h0m0 2h0m1-2h0m0 2h0m1-2h0m2 1h0m0-1h0m0 2h0m1-1h0m0-1h0m2 1h0m1-1h0m0 2h0m0-1h0m1-1h0m1 1h0m2 1h0m2-1h0m0 1h0m2-1h0m0-1h0m0 2h0m3-1h0m0 1h0m1 0h0m1-2h0m1 1h0m2 1h0m2 0h0m1 0h0m0-1h0m1-1h0m2 2h0m0-1h0m1 1h0m1-2h0m0 2h0m2-1h0m1 1h0m1-1h0m1 0h0m0-1h0m2 0h0m1 0h0m1 0h0m2 2h0m3 0h0m1-1h0m3 1h0m0-2h0m1 2h0m3-2h0m4 0h0m3 2h0m3-1h0m9 1h0m8 0h0m13 0h0m7 1h0m-10 2h0m-5-1h0m-7-1h0m-1 2h0m-1-1h0m-1-1h0m0 1h0m-1 1h0m-2 0h0m-1-2h0m-2 2h0m-2-2h0m-2 1h0m-2 0h0m-2-1h0m0 1h0m-4-1h0m-2 1h0m-2 0h0m-1 0h0m-2 0h0m-2-1h0m-1 0h0m-1 2h0m-1-2h0m0 2h0m-1 0h0m-1-1h0m-6 0h0m-3 0h0m-1 0h0m-1 1h0m0-2h0m-1 2h0m-1-2h0m0 1h0m-2 1h0m-1-2h0m0 2h0m-1-2h0m-1 1h0m-2 0h0m-1-1h0m-1 2h0m-1 0h0m0-1h0m0-1h0m-2 2h0m-1-2h0m-1 1h0m-1 0h0m0 1h0m-2 0h0m-4-1h0m-1 0h0m-2-1h0m0 2h0m-1 0h0m-1-1h0m-1-1h0m0 2h0m-1 0h0m-1-1h0m0-1h0m-1 0h0m0 2h0m0-1h0m-1 0h0m-1 1h0m-3-1h0m-2-1h0m0 2h0m-1-2h0m0 1h0m0 1h0m-1 0h0m-1-1h0m0 1h0m-1 0h0m-2-1h0m0-1h0m-2 0h0m-1 0h0m0 1h0m-2 1h0m-1-2h0m0 1h0m-1 0h0m-1-1h0m0 2h0m-2 0h0m-1 0h0m-1-1h0m0-1h0m-1 1h0m-1-1h0m-1 2h0m-5 0h0m-2 0h0m-1 0h0m-2-2h0m-1 1h0m0 1h0m-1-2h0m-1 0h0m-2 1h0m0-1h0m-1 1h0m-1 1h0m-1 0h0m0-1h0m-5 0h0m-1 0h0m-1 0h0m-3 0h0m-5 1h0m-10 2h0m13-1h0m0 1h0m1-1h0m3 1h0m3-1h0m0 2h0m1 0h0m2 0h0m4-2h0m4 0h0m2 0h0m3 2h0m1-2h0m0 2h0m2-1h0m1-1h0m2 1h0m2-1h0m1 1h0m1 0h0m1 1h0m2-2h0m0 1h0m1 0h0m4-1h0m0 2h0m1-2h0m2 0h0m1 1h0m0 1h0m0-2h0m1 0h0m2 2h0m2-1h0m0 1h0m2 0h0m1 0h0m3-2h0m0 2h0m1 0h0m2 0h0m2 0h0m1-1h0m1 1h0m1 0h0m1-1h0m0 1h0m1-2h0m1 0h0m1 1h0m1 0h0m1-1h0m1 0h0m3 1h0m2-1h0m0 1h0m1-1h0m2 0h0m1 0h0m0 2h0m1-1h0m1 0h0m2-1h0m0 2h0m0-1h0m1 0h0m1-1h0m3 0h0m3 0h0m0 2h0m1-2h0m0 1h0m1 1h0m2-2h0m1 2h0m0-2h0m1 2h0m3-1h0m1-1h0m0 1h0m1-1h0m0 1h0m4 1h0m1 0h0m1-2h0m3 1h0m0-1h0m3 1h0m1 1h0m3 0h0m0-1h0m2-1h0m2 2h0m0-1h0m1 1h0m1-1h0m1 1h0m2-1h0m2 1h0m1 0h0m1-2h0m0 1h0m4 1h0m2-1h0m4 0h0m1 1h0m1 0h0m0-2h0m14 2h0m3 0h0m166 3h0m-147 0h0m-17 0h0m-10 0h0m-2-1h0m-2 1h0m-2-2h0m-1 2h0m-3 0h0m-3-1h0m-2 0h0m-2-1h0m-4 2h0m0-1h0m-1 1h0m-1-2h0m0 2h0m-1-1h0m-1 0h0m-5-1h0m-1 1h0m0 1h0m-2-2h0m0 2h0m0-1h0m-1 1h0m0-1h0m-1-1h0m-3 2h0m-1-1h0m0-1h0m-1 2h0m-1 0h0m-1-1h0m0 1h0m-1-2h0m-1 0h0m-3 1h0m0 1h0m-1-1h0m0-1h0m-1 1h0m-1 1h0m0-1h0m-1-1h0m-3 0h0m-3 1h0m0-1h0m-2 2h0m-2-1h0m-2-1h0m0 1h0m-1-1h0m0 2h0m0-1h0m-1 1h0m-1-1h0m0 1h0m-1 0h0m-1 0h0m-1-1h0m0 1h0m-1 0h0m-4-1h0m0-1h0m-1 0h0m-1 0h0m0 1h0m-1 0h0m0-1h0m-1 2h0m-1-1h0m-1 1h0m0-1h0m-1 1h0m-2-2h0m0 2h0m0-1h0m-1 1h0m0-1h0m-3-1h0m0 2h0m-3 0h0m-2-2h0m-1 0h0m0 2h0m-1 0h0m-3-2h0m0 2h0m-2-2h0m-1 2h0m-1-2h0m-4 0h0m-1 2h0m0-1h0m-1-1h0m-2 2h0m-1 0h0m-1-2h0m-3 1h0m-2-1h0m-1 0h0m-1 1h0m-1 0h0m-1-1h0m0 2h0m-1 0h0m-1-2h0m0 2h0m-3-1h0m-4 1h0m-3-2h0m0 1h0m-6 0h0m-11 0h0m-3-1h0m-2 2h0m-1-2h0m-3 0h0m0 2h0m-10-1h0m24 2h0m7 0h0m3 0h0m3 0h0m2 1h0m3 0h0m0-1h0m4 1h0m1-1h0m1 2h0m1-1h0m0 1h0m2-1h0m0-1h0m2 2h0m1-1h0m7-1h0m1 0h0m1 0h0m2 2h0m3-2h0m3 0h0m3 2h0m1-1h0m1-1h0m2 1h0m1-1h0m1 0h0m1 0h0m1 2h0m3 0h0m0-1h0m0-1h0m4 1h0m1 0h0m0-1h0m1 0h0m1 2h0m1-1h0m0-1h0m1 2h0m1-2h0m2 2h0m3-1h0m1 1h0m1-2h0m1 2h0m1-2h0m1 2h0m0-1h0m0-1h0m1 2h0m0-2h0m1 1h0m1 1h0m1 0h0m1-2h0m1 1h0m2 0h0m0-1h0m1 0h0m2 1h0m0 1h0m1-1h0m1-1h0m1 1h0m0 1h0m1 0h0m1-2h0m1 0h0m0 1h0m3 0h0m3 0h0m2-1h0m1 1h0m1-1h0m0 2h0m0-1h0m1-1h0m0 2h0m1 0h0m1-2h0m2 2h0m0-1h0m1-1h0m1 0h0m1 1h0m1 0h0m1-1h0m0 2h0m1-1h0m0 1h0m5 0h0m1-2h0m3 1h0m0 1h0m1-1h0m1 0h0m0-1h0m1 0h0m2 1h0m3-1h0m3 1h0m0 1h0m2-2h0m1 0h0m1 0h0m1 1h0m4-1h0m4 0h0m4 2h0m7 0h0m160 0h0m5-2h0m8 1h0m1-1h0m21 5h0m-13 0h0m-9-1h0m-3-1h0m-41 1h0m-121 1h0m-3-1h0m-1 1h0m-2-2h0m-3 2h0m-8-2h0m0 2h0m-1-2h0m-6 2h0m-1 0h0m-2 0h0m-4-2h0m0 1h0m-2 1h0m0-1h0m-4-1h0m-2 2h0m0-2h0m0 1h0m-3 1h0m-1-2h0m0 2h0m-1-2h0m0 2h0m-3-1h0m-1-1h0m-1 2h0m-1-1h0m-1 1h0m0-1h0m-2-1h0m0 2h0m-1 0h0m-1 0h0m0-1h0m-1 1h0m-1-2h0m0 2h0m-1 0h0m0-1h0m-1 1h0m0-1h0m-1-1h0m0 1h0m-1 1h0m-1 0h0m0-1h0m-1-1h0m0 1h0m-1 0h0m-2-1h0m-1 2h0m-1 0h0m-1 0h0m0-2h0m-1 2h0m0-2h0m-1 2h0m-2-2h0m-2 0h0m-1 0h0m0 2h0m-3 0h0m-6 0h0m-3-1h0m0-1h0m-3 0h0m-1 0h0m-3 1h0m-2-1h0m0 2h0m-1 0h0m-1-2h0m0 2h0m-2-2h0m-1 0h0m-4 0h0m-1 2h0m-1-2h0m-5 0h0m-2 2h0m-1-1h0m-2 1h0m0-1h0m0-1h0m-4 1h0m-8 0h0m-4-1h0m-2 0h0m-1 1h0m-2 0h0m-7-1h0m-2 1h0m-29 1h0m-10 2h0m2 0h0m13 0h0m13-1h0m11 2h0m1-2h0m0 2h0m5-2h0m13 0h0m0 1h0m6-1h0m5 0h0m6 0h0m0 2h0m0-1h0m5 1h0m0-1h0m1 0h0m3 1h0m0-2h0m3 0h0m3 2h0m0-1h0m1-1h0m2 0h0m0 1h0m2-1h0m2 0h0m2 0h0m0 2h0m1-1h0m1 0h0m0-1h0m1 0h0m1 1h0m1 1h0m1-1h0m1-1h0m1 0h0m0 1h0m2 1h0m3-2h0m1 0h0m0 2h0m1-2h0m0 2h0m5-1h0m2 1h0m1-2h0m1 2h0m1 0h0m1 0h0m1 0h0m1 0h0m1-2h0m2 0h0m0 2h0m1-2h0m0 1h0m2-1h0m0 2h0m1-1h0m1 1h0m1 0h0m0-1h0m1-1h0m0 2h0m1-2h0m2 0h0m0 2h0m1 0h0m0-1h0m1-1h0m0 2h0m1 0h0m1-2h0m0 2h0m1 0h0m1-2h0m1 0h0m1 1h0m1-1h0m1 1h0m1 1h0m2 0h0m1-1h0m0-1h0m1 1h0m1 1h0m1-1h0m1 0h0m0-1h0m1 1h0m0 1h0m1-2h0m2 0h0m0 2h0m0-1h0m1-1h0m1 0h0m0 2h0m3 0h0m1-1h0m0 1h0m2-2h0m1 1h0m3 1h0m2-1h0m6 0h0m5 1h0m2-1h0m177-1h0m6 0h0m2 0h0m10 2h0m-47 3h0m-21 0h0m-117 0h0m-1-1h0m-1-1h0m-1 1h0m-3 0h0m0 1h0m-4-2h0m-3 1h0m0 1h0m-1-2h0m-2 2h0m-5-2h0m-1 0h0m0 2h0m-1-1h0m0-1h0m-1 0h0m-2 1h0m-5 0h0m-1-1h0m-2 0h0m-1 0h0m-1 2h0m-3 0h0m-1-1h0m0-1h0m0 2h0m-1-2h0m0 1h0m-2 0h0m0 1h0m-1-2h0m0 2h0m0-1h0m-1 0h0m-1 0h0m-1 1h0m-1 0h0m-1-1h0m-3 0h0m0-1h0m0 2h0m-1-2h0m-1 2h0m-1 0h0m-1-1h0m0-1h0m-1 0h0m0 2h0m-3-2h0m0 2h0m0-1h0m-1-1h0m-1 1h0m-2 1h0m-1-1h0m0 1h0m-2 0h0m-1-1h0m0-1h0m0 2h0m-1-1h0m-2 1h0m0-1h0m-1 0h0m0-1h0m-1 1h0m0-1h0m-3 2h0m-2-2h0m-1 0h0m-1 1h0m-1 0h0m-2 0h0m0 1h0m-1-2h0m-1 1h0m-2-1h0m0 2h0m-2-2h0m-1 2h0m0-1h0m-1-1h0m-6 1h0m-2 0h0m0-1h0m-6 2h0m-3-1h0m0-1h0m-4 2h0m-5-2h0m-2 1h0m-1-1h0m-3 0h0m-4 0h0m-1 2h0m-26-1h0m0-1h0m-1 1h0m0-1h0m-7 1h0m-6 0h0m-16 2h0m51 1h0m5-1h0m5 1h0m8-1h0m1 1h0m1-1h0m6 0h0m0 2h0m3-1h0m2-1h0m3 1h0m5-1h0m3 0h0m0 2h0m1 0h0m1-2h0m2 1h0m2-1h0m0 2h0m3-2h0m1 1h0m0 1h0m1-1h0m1-1h0m0 2h0m8 0h0m1-2h0m0 1h0m1 0h0m0 1h0m2 0h0m0-2h0m1 0h0m1 1h0m0 1h0m1 0h0m1-2h0m0 1h0m1-1h0m1 2h0m2-2h0m1 0h0m1 0h0m1 2h0m1 0h0m1-2h0m0 1h0m1 1h0m2-1h0m2 0h0m1 0h0m2-1h0m0 2h0m0-1h0m3 0h0m2-1h0m0 1h0m2 0h0m0 1h0m0-2h0m1 0h0m1 1h0m1 0h0m0 1h0m1-2h0m1 0h0m0 1h0m1-1h0m1 1h0m1 0h0m0 1h0m3 0h0m6-1h0m0 1h0m1 0h0m0-1h0m3 1h0m1-1h0m0 1h0m1 0h0m0-2h0m1 2h0m1-2h0m0 2h0m1 0h0m4 0h0m2 0h0m0-1h0m1 1h0m0-2h0m2 1h0m2 1h0m0-1h0m1 0h0m2 0h0m2 1h0m5-1h0m86-1h0m4 1h0m24-1h0m18 1h0m13-1h0m8 2h0m12-1h0m4 1h0m3 0h0m9-2h0m25 4h0m-2 0h0m-55 1h0m-2-2h0m-5 2h0m-4 0h0m-3 0h0m-2-2h0m-4 0h0m-66 2h0m-59 0h0m-4-1h0m-3 1h0m-3-1h0m-6 1h0m-1 0h0m0-1h0m-2 1h0m-1-2h0m0 1h0m-2 0h0m-1 1h0m0-2h0m-1 1h0m-1 0h0m0 1h0m-2-2h0m-1 2h0m-1 0h0m-1-1h0m0-1h0m0 2h0m-1 0h0m-1 0h0m-1 0h0m-2-2h0m0 2h0m0-1h0m-1-1h0m0 2h0m0-1h0m-1-1h0m-1 0h0m-3 2h0m-1-2h0m-1 2h0m-2-2h0m0 1h0m-1-1h0m-1 0h0m0 1h0m-2-1h0m0 1h0m-1-1h0m0 2h0m-2-2h0m0 2h0m0-1h0m-1-1h0m-3 0h0m-2 1h0m-1 1h0m0-2h0m-4 2h0m-1-2h0m0 1h0m-2-1h0m-1 0h0m-1 0h0m0 1h0m-1-1h0m-1 1h0m-2 0h0m-1 0h0m0-1h0m-2 0h0m-1 1h0m0-1h0m-1 2h0m-2 0h0m-1-1h0m-1-1h0m-3 1h0m-2-1h0m-3 2h0m-2 0h0m-1 0h0m-1 0h0m-4-2h0m0 1h0m-2 0h0m-4 1h0m-7-2h0m-9 0h0m-6 0h0m-2 1h0m-2 0h0m-3-1h0m-4 1h0m-8 0h0m15 4h0m2-2h0m10 0h0m6 0h0m8 0h0m4 2h0m1-2h0m2 2h0m1-2h0m4 1h0m6 0h0m1 0h0m2 0h0m3-1h0m1 0h0m2 0h0m1 1h0m3 0h0m0-1h0m2 1h0m1 0h0m0-1h0m1 0h0m1 0h0m1 1h0m1 0h0m0 1h0m1-2h0m0 2h0m3-1h0m0-1h0m3 2h0m2-1h0m1-1h0m2 2h0m3-2h0m0 2h0m2-2h0m2 1h0m1 1h0m1-1h0m2 0h0m1 0h0m3 1h0m0-1h0m1 1h0m1-1h0m0-1h0m1 2h0m1-1h0m0-1h0m1 0h0m1 0h0m0 2h0m1-2h0m1 0h0m0 2h0m0-1h0m2-1h0m1 1h0m1-1h0m1 1h0m0 1h0m1-1h0m0-1h0m0 2h0m2-1h0m3 1h0m2-1h0m0-1h0m0 2h0m1-2h0m1 0h0m0 2h0m3 0h0m2 0h0m1 0h0m1 0h0m6 0h0m2-2h0m4 1h0m2-1h0m3 1h0m90-1h0m24 1h0m2 0h0m1 0h0m16-1h0m7 0h0m1 0h0m25 0h0m3 2h0m17-1h0m41 4h0m-6 0h0m-16-1h0m-2-1h0m-5 1h0m-17-1h0m-8 2h0m-6-1h0m-4 0h0m-9-1h0m-2 2h0m-2-1h0m-1 0h0m0 1h0m-32-1h0m-5 0h0m-7 0h0m-88-1h0m-19 0h0m0 1h0m-1 0h0m-3-1h0m-4 2h0m-1-1h0m-2 1h0m-2 0h0m-1-1h0m-1-1h0m0 2h0m0-1h0m-2 0h0m0 1h0m-1-2h0m-1 1h0m-2-1h0m0 1h0m-3 0h0m-1 0h0m0-1h0m-1 1h0m0 1h0m-1-1h0m0 1h0m-1-2h0m-1 2h0m-5-1h0m0 1h0m-1 0h0m-1 0h0m-1-1h0m-1 1h0m-1-1h0m0-1h0m-2 2h0m0-1h0m-1-1h0m0 1h0m-1 1h0m-1-1h0m-2 0h0m-1 0h0m-1-1h0m0 2h0m-1-2h0m-1 1h0m0-1h0m-1 2h0m-3-2h0m-1 0h0m-4 2h0m-2-2h0m-1 0h0m-1 1h0m-2 1h0m-1 0h0m-1-2h0m-1 0h0m-1 2h0m-1-1h0m-2 1h0m-1-1h0m0 1h0m-1 0h0m0-2h0m-2 0h0m-8 1h0m-5-1h0m-7 0h0m0 2h0m-3-1h0m-5 0h0m-1 1h0m-19 3h0m4-2h0m17 1h0m5-1h0m8 2h0m4 0h0m2-1h0m2 0h0m1-1h0m0 2h0m1-1h0m1-1h0m3 2h0m2 0h0m2 0h0m1-1h0m1 1h0m0-1h0m5-1h0m3 1h0m4-1h0m1 0h0m0 2h0m1-1h0m0 1h0m1-2h0m1 0h0m0 2h0m3 0h0m1 0h0m2-2h0m0 2h0m2-2h0m1 1h0m1 1h0m1 0h0m1-2h0m0 2h0m1 0h0m0-1h0m1 1h0m1 0h0m2 0h0m3-2h0m1 0h0m0 2h0m1-2h0m0 2h0m2-1h0m1-1h0m0 1h0m1-1h0m0 2h0m0-1h0m2 1h0m1 0h0m0-2h0m1 2h0m1-1h0m1 0h0m0-1h0m1 2h0m0-1h0m1 1h0m0-1h0m2-1h0m1 0h0m0 1h0m1-1h0m1 1h0m1-1h0m0 1h0m1 1h0m1-1h0m1 0h0m1 0h0m8 1h0m4-1h0m9 0h0m92-1h0m16 2h0m25-2h0m2 0h0m3 2h0m3-2h0m3 2h0m3 0h0m2 0h0m5-1h0m20 1h0m2 0h0m7-1h0m28 3h0m-19 0h0m-16 1h0m-12-1h0m-7-1h0m-4 2h0m-12-2h0m-11 2h0m-12 0h0m-1-1h0m-1 1h0m-16-1h0m-9 1h0m-24-2h0m-66 0h0m-2 2h0m-2-1h0m-2 1h0m-3-2h0m-5 2h0m-2 0h0m-1-1h0m0 1h0m-1-1h0m-1 0h0m-1 0h0m-1 0h0m0-1h0m0 2h0m-1 0h0m-1-1h0m-2 1h0m0-1h0m-1 1h0m0-1h0m-1 1h0m0-2h0m-1 0h0m-1 0h0m0 1h0m-1 1h0m-1-1h0m-1 0h0m-2-1h0m0 2h0m-1 0h0m-1 0h0m0-1h0m-2 1h0m-1-1h0m0-1h0m-1 0h0m-2 1h0m-1 1h0m0-1h0m-1-1h0m-2 0h0m-1 1h0m-1-1h0m0 2h0m-1-1h0m-1-1h0m-1 0h0m0 2h0m-1-1h0m0 1h0m-1-1h0m-2 0h0m-5 0h0m-6 1h0m-2-1h0m-4-1h0m-1 1h0m-1 1h0m-6 0h0m-1 0h0m-3-2h0m-7 2h0m-1-1h0m-8 0h0m-1-1h0m10 4h0m7 0h0m3 0h0m2 1h0m4-1h0m4-1h0m8 1h0m0-1h0m0 2h0m1-2h0m1 0h0m1 0h0m4 0h0m2 1h0m2-1h0m0 2h0m1-2h0m5 1h0m0-1h0m2 1h0m2 0h0m3 0h0m0-1h0m2 1h0m0-1h0m1 1h0m0-1h0m0 2h0m2 0h0m1-2h0m1 2h0m3-1h0m1 1h0m1-1h0m1-1h0m0 2h0m1-2h0m0 2h0m1 0h0m2-2h0m1 2h0m0-2h0m1 2h0m2-1h0m3 1h0m2-2h0m0 2h0m1-1h0m1-1h0m0 1h0m3 0h0m1 1h0m1-1h0m1 0h0m0-1h0m1 0h0m1 2h0m1-2h0m4 1h0m0 1h0m4-1h0m2 0h0m2 0h0m13-1h0m6 0h0m58 1h0m12-1h0m7 2h0m9 0h0m1 0h0m1-1h0m11-1h0m0 2h0m6-1h0m4 1h0m2-1h0m28 1h0m4-1h0m23 3h0m-22 1h0m-24-1h0m-3 0h0m-2 0h0m0 1h0m-9-1h0m-5-1h0m-1 1h0m-7 0h0m-2 0h0m-11 1h0m-15-2h0m-7 1h0m-8 1h0m-71-2h0m0 2h0m-4-2h0m-3 1h0m0 1h0m-2-2h0m0 1h0m-1-1h0m0 2h0m0-1h0m-4 0h0m-1 1h0m-1-2h0m0 2h0m-1 0h0m0-1h0m-2-1h0m0 1h0m-1-1h0m0 2h0m-1 0h0m0-1h0m-1-1h0m0 2h0m-1-2h0m0 2h0m0-1h0m-1 0h0m-1-1h0m0 2h0m-1-2h0m0 2h0m0-1h0m-1 1h0m0-1h0m-1 0h0m-1-1h0m-1 0h0m0 1h0m-1 1h0m0-2h0m-1 0h0m0 2h0m-1-1h0m-1-1h0m-1 2h0m0-1h0m-2 0h0m-2-1h0m-1 0h0m-1 1h0m0-1h0m-2 2h0m0-1h0m-1-1h0m-5 2h0m-4-2h0m-2 1h0m-2 0h0m-1 1h0m-7-2h0m-6 0h0m-3 0h0m-4 1h0m-4 1h0m-4-1h0m-4-1h0m-1 2h0m-7-1h0m-6 0h0m-6 0h0m-1-1h0m-18 1h0m40 4h0m0-1h0m13 0h0m19 0h0m3 1h0m0-1h0m1 1h0m1 0h0m0-1h0m2-1h0m4 0h0m1 2h0m2-2h0m1 1h0m1 1h0m1-2h0m1 1h0m1 1h0m0-1h0m1 1h0m1-2h0m2 2h0m1 0h0m0-1h0m1 1h0m1-2h0m1 2h0m0-1h0m1-1h0m0 2h0m0-1h0m1-1h0m1 1h0m0-1h0m0 2h0m1-1h0m1-1h0m1 0h0m0 2h0m1 0h0m1-1h0m1 1h0m1 0h0m1 0h0m2 0h0m1 0h0m2-2h0m0 1h0m1-1h0m0 2h0m1-1h0m2 0h0m1 0h0m1 1h0m1 0h0m1 0h0m4-1h0m1 0h0m0 1h0m1-1h0m3-1h0m6 1h0m4 1h0m1-1h0m5 1h0m49 0h0m8 0h0m27-1h0m1 1h0m3 0h0m6 0h0m4-2h0m2 2h0m1-2h0m1 1h0m1 1h0m3 0h0m2-1h0m4 0h0m3 1h0m3-1h0m1 0h0m1 1h0m6 0h0m3 0h0m8-1h0m13-1h0m16 2h0m-8 1h0m-12 2h0m-7-2h0m-9 1h0m-2 1h0m-10 0h0m-1 0h0m-2-1h0m0-1h0m-5 1h0m-2 1h0m0-1h0m-3 1h0m-2-2h0m-9 1h0m-6-1h0m-1 2h0m0-1h0m-4-1h0m-6 0h0m-22 1h0m-26 0h0m-35 0h0m-1-1h0m-1 1h0m-1 0h0m-1 0h0m-1 0h0m-1 0h0m-1 0h0m0-1h0m-2 1h0m-3-1h0m-1 1h0m-1 0h0m0-1h0m0 2h0m-1-2h0m-1 1h0m-1 0h0m0 1h0m-1-1h0m-1 0h0m0-1h0m0 2h0m-1 0h0m-1-2h0m0 2h0m-1-2h0m0 2h0m-1-2h0m-1 1h0m0-1h0m-1 1h0m0-1h0m-1 0h0m0 2h0m-1-1h0m0-1h0m0 2h0m-1 0h0m0-1h0m-2-1h0m-2 0h0m-1 2h0m-2-2h0m-1 1h0m-2-1h0m0 2h0m-1-1h0m-1 1h0m-1-1h0m0 1h0m-1-2h0m-3 0h0m-2 0h0m0 2h0m-1-2h0m0 1h0m-2-1h0m-4 1h0m-2-1h0m0 2h0m-2-1h0m-1 1h0m-1-1h0m-2 0h0m-23 1h0m-9-2h0m-7 2h0m43 1h0m4 1h0m2-1h0m0 1h0m2-1h0m1 2h0m2-2h0m0 1h0m1 1h0m1 0h0m3-2h0m1 2h0m1-2h0m1 1h0m1 0h0m2-1h0m2 0h0m0 2h0m1-1h0m0 1h0m1-1h0m1 1h0m2-1h0m0-1h0m1 1h0m2 1h0m0-2h0m1 1h0m0-1h0m0 2h0m1-1h0m0-1h0m3 1h0m1 1h0m1-2h0m0 2h0m1 0h0m0-1h0m1-1h0m0 2h0m1-1h0m4 1h0m0-2h0m1 0h0m0 1h0m1 1h0m2-2h0m1 2h0m0-2h0m2 1h0m1 1h0m1-1h0m0-1h0m2 1h0m1 0h0m2 0h0m2-1h0m1 0h0m5 2h0m1-1h0m6-1h0m10 1h0m18-1h0m0 2h0m6-2h0m25 0h0m7 2h0m8-2h0m0 1h0m1-1h0m2 2h0m4 0h0m3 0h0m5-2h0m7 2h0m1 0h0m1-2h0m1 1h0m6 1h0m5 0h0m2-2h0m8 0h0m10 2h0m3 0h0m4-2h0m5 2h0m2 1h0m-10 0h0m-1 1h0m-10 0h0m-6-1h0m-4 1h0m-4 0h0m-1-1h0m-3 0h0m-3 1h0m-1 0h0m-6 0h0m-2 1h0m-3-2h0m-1 0h0m-1 0h0m-4 0h0m-7 2h0m-4 0h0m-2 0h0m-6-2h0m-1 1h0m-3 1h0m-3-1h0m-7 0h0m-8 1h0m-4-2h0m-2 0h0m-2 1h0m-23 0h0m-10-1h0m-4 1h0m-1-1h0m-1 0h0m0 2h0m-5 0h0m-1 0h0m-1-2h0m0 2h0m-2 0h0m-1-2h0m-1 1h0m-1 0h0m-2 1h0m0-1h0m-2-1h0m0 1h0m-3 1h0m-1 0h0m-2-2h0m0 1h0m-1-1h0m0 2h0m0-1h0m-1-1h0m-1 2h0m0-1h0m-1-1h0m-1 2h0m0-1h0m-1 0h0m-1-1h0m0 2h0m-1 0h0m0-1h0m-1 1h0m0-2h0m-2 0h0m0 2h0m-1-2h0m-1 0h0m0 2h0m-2 0h0m-1-2h0m-3 0h0m-2 0h0m0 1h0m-1-1h0m0 2h0m0-1h0m-1 1h0m-1-1h0m-2-1h0m-5 0h0m0 1h0m-3 1h0m-1 0h0m-4-2h0m0 2h0m-3-1h0m-1-1h0m-3 2h0m-1 0h0m-4 1h0m4 0h0m7 1h0m7 1h0m2-1h0m2 1h0m2-2h0m1 0h0m3 1h0m1-1h0m2 0h0m0 2h0m2-1h0m0-1h0m2 0h0m1 2h0m2-1h0m1-1h0m0 2h0m1 0h0m1-1h0m0-1h0m1 1h0m0-1h0m0 2h0m1-2h0m2 1h0m0-1h0m1 2h0m0-1h0m1 1h0m0-1h0m1-1h0m1 2h0m1-2h0m1 0h0m1 2h0m0-1h0m1 0h0m0-1h0m0 2h0m1-1h0m0-1h0m1 1h0m0 1h0m1-2h0m0 2h0m2 0h0m1 0h0m0-1h0m1-1h0m1 0h0m0 2h0m1 0h0m0-2h0m1 0h0m0 2h0m1 0h0m1 0h0m1-1h0m0 1h0m1-1h0m1 1h0m2-2h0m1 2h0m2-2h0m2 0h0m2 1h0m4 1h0m1-2h0m15 1h0m2 1h0m28 0h0m1 0h0m6-1h0m2-1h0m1 1h0m1-1h0m7 2h0m3 0h0m3 0h0m2 0h0m1-2h0m1 1h0m13 0h0m0-1h0m2 2h0m4-2h0m1 0h0m2 2h0m2-2h0m0 2h0m1-2h0m0 1h0m6-1h0m0 1h0m6 0h0m4-1h0m1 1h0m1 1h0m6-1h0m1 1h0m5 0h0m0-2h0m1 1h0m9 0h0m11 0h0m6-1h0m2 0h0m21 1h0m-22 4h0m-11-1h0m-7-1h0m-1 2h0m0-1h0m-4 1h0m-5 0h0m-4 0h0m0-1h0m-1 1h0m-4-2h0m-2 1h0m-1 0h0m-1-1h0m-2 1h0m-1 0h0m0-1h0m-2 0h0m0 2h0m-1 0h0m-1 0h0m-1 0h0m-2 0h0m-1 0h0m-4 0h0m-2-1h0m-1-1h0m-1 2h0m-2 0h0m-1-2h0m-2 1h0m-4 0h0m-2 1h0m-1-2h0m0 2h0m0-1h0m-1-1h0m-1 1h0m-1 1h0m-1-2h0m-1 1h0m-3 1h0m-3-2h0m-1 2h0m-1-2h0m-5 2h0m-3-2h0m-1 1h0m-1-1h0m-1 2h0m-3-2h0m-5 2h0m-5-2h0m-1 2h0m-1-2h0m0 2h0m-2-1h0m-13 0h0m-1 1h0m-2 0h0m-3-1h0m-1 1h0m-1-1h0m-3 1h0m-2 0h0m-5 0h0m-2-1h0m0-1h0m-1 2h0m-1-1h0m-3-1h0m-5 2h0m0-2h0m-2 2h0m0-1h0m-1 1h0m-2 0h0m-1 0h0m-2-1h0m0 1h0m-1 0h0m-2-1h0m0-1h0m-1 0h0m0 1h0m-2 1h0m0-2h0m-3 1h0m-1 1h0m0-2h0m-1 0h0m0 2h0m-1 0h0m-1 0h0m0-1h0m0-1h0m-1 1h0m0-1h0m-1 0h0m-2 1h0m-1-1h0m-2 1h0m0 1h0m-1 0h0m-2-2h0m0 2h0m-1 0h0m0-2h0m-1 0h0m-1 2h0m-1-1h0m0-1h0m-1 1h0m0 1h0m0-2h0m-1 1h0m0-1h0m0 2h0m-1-1h0m0-1h0m-1 1h0m0-1h0m0 2h0m-1-2h0m-1 0h0m0 2h0m-6-1h0m-1 1h0m0-1h0m-1-1h0m-6 1h0m-1 0h0m-4-1h0m-6 0h0m-23 4h0m33-1h0m10 0h0m1 0h0m1 0h0m1 2h0m3 0h0m2 0h0m1-1h0m1-1h0m2 1h0m1 1h0m1-2h0m1 2h0m1-1h0m1 0h0m1 0h0m1-1h0m0 2h0m0-1h0m1-1h0m0 2h0m2 0h0m0-1h0m1-1h0m0 2h0m1-2h0m0 2h0m0-1h0m1 1h0m0-2h0m1 0h0m0 1h0m1 1h0m0-1h0m1-1h0m1 0h0m0 2h0m0-1h0m1 1h0m1 0h0m1-1h0m1-1h0m0 1h0m1-1h0m0 2h0m1-1h0m2 1h0m1 0h0m1 0h0m1 0h0m1 0h0m1-1h0m3 1h0m0-1h0m1-1h0m0 1h0m1 0h0m2 0h0m1 1h0m2-1h0m1 1h0m2 0h0m2 0h0m1-1h0m4 0h0m5 0h0m0 1h0m1 0h0m3 0h0m9 0h0m2-2h0m1 0h0m2 0h0m0 2h0m2-2h0m0 2h0m1-1h0m1 1h0m1-1h0m1 1h0m5-2h0m1 2h0m2-2h0m1 1h0m1 1h0m4 0h0m1 0h0m3-2h0m3 0h0m2 2h0m1-1h0m6 1h0m0-1h0m4 0h0m3 1h0m1-1h0m0 1h0m2-2h0m0 2h0m1-1h0m0-1h0m2 1h0m1-1h0m3 2h0m2-2h0m0 2h0m1 0h0m3 0h0m2-1h0m0-1h0m1 1h0m2 0h0m1 1h0m4-1h0m1-1h0m1 2h0m4-1h0m1-1h0m3 0h0m1 2h0m5-1h0m1 1h0m2 0h0m6-2h0m2 0h0m1 2h0m12-2h0m16 2h0m5-1h0m2 0h0m42 3h0m-16 0h0m-26 1h0m-11-1h0m-17-1h0m-6 0h0m-3 1h0m-4 0h0m-2 1h0m-1 0h0m-2-2h0m-1 2h0m-3-2h0m-3 2h0m-1-1h0m-3 1h0m-3 0h0m0-2h0m-1 2h0m-1-1h0m-4-1h0m0 2h0m-2-1h0m-3-1h0m0 2h0m-1-2h0m-1 0h0m-1 1h0m-1 1h0m-1-2h0m0 1h0m-1-1h0m-2 1h0m-1-1h0m-1 0h0m0 2h0m-1 0h0m-1-2h0m-1 2h0m-1-1h0m0 1h0m-3-2h0m-3 1h0m-1 0h0m-3 1h0m-4-1h0m0-1h0m-4 0h0m-4 2h0m-1-1h0m-1 1h0m-1-2h0m-5 1h0m-1 0h0m-1-1h0m-1 0h0m-1 1h0m-2-1h0m0 2h0m-1-2h0m-1 0h0m0 2h0m-1-1h0m-1-1h0m0 1h0m-2 0h0m-1 0h0m-1 0h0m-1 1h0m-1-2h0m-1 2h0m-1-2h0m-2 1h0m-2 0h0m0 1h0m-1-2h0m-2 2h0m0-2h0m-1 2h0m-2-1h0m-2-1h0m-1 1h0m-1-1h0m0 2h0m-3-1h0m0 1h0m-2-2h0m-1 0h0m-2 1h0m-2-1h0m-2 0h0m-1 1h0m0-1h0m-3 2h0m-1 0h0m-1 0h0m-1 0h0m-1-2h0m0 2h0m-1-2h0m-1 0h0m0 2h0m-1-1h0m0 1h0m-2-2h0m0 1h0m-1-1h0m0 2h0m-1-2h0m-1 2h0m0-1h0m-1-1h0m0 2h0m-2-2h0m-1 1h0m0-1h0m-1 0h0m0 2h0m-1 0h0m-2-2h0m-1 0h0m-1 1h0m-1-1h0m-2 0h0m-2 0h0m0 2h0m-1-2h0m-1 1h0m-1-1h0m-1 1h0m-1 0h0m-1 0h0m-2-1h0m0 2h0m0-1h0m-2-1h0m-1 0h0m0 1h0m-1 1h0m-4-1h0m-1-1h0m-1 0h0m-1 0h0m-1 0h0m-9 0h0m7 4h0m3-1h0m5 2h0m1-2h0m2 1h0m0 1h0m2-2h0m1 2h0m2-1h0m1-1h0m2 1h0m0 1h0m3 0h0m1-2h0m1 0h0m3 1h0m0 1h0m2-2h0m1 1h0m0-1h0m0 2h0m1-1h0m2 0h0m1 0h0m0-1h0m2 1h0m0 1h0m1-1h0m1-1h0m0 2h0m1-1h0m0-1h0m1 2h0m1 0h0m1-2h0m2 1h0m0-1h0m1 0h0m0 2h0m2 0h0m1-1h0m0-1h0m1 1h0m0-1h0m1 1h0m1 1h0m0-1h0m1 0h0m0-1h0m1 0h0m0 2h0m1 0h0m0-1h0m1 0h0m1-1h0m0 2h0m1-2h0m1 2h0m1-1h0m1 1h0m0-1h0m1 0h0m0-1h0m1 2h0m1 0h0m1-1h0m0 1h0m2-1h0m2 0h0m3 0h0m1-1h0m3 1h0m1-1h0m1 2h0m2 0h0m2-2h0m1 1h0m0-1h0m0 2h0m1-1h0m0 1h0m2-1h0m6 0h0m1 1h0m1-1h0m1 1h0m1 0h0m1-2h0m3 2h0m1 0h0m3-1h0m1 1h0m1-2h0m3 1h0m2 1h0m5-1h0m1 0h0m1 1h0m0-1h0m1-1h0m2 2h0m2-2h0m0 1h0m0 1h0m1 0h0m0-1h0m1-1h0m1 2h0m0-1h0m1 1h0m1 0h0m1-1h0m1-1h0m1 0h0m2 1h0m0 1h0m1-1h0m1 0h0m0-1h0m1 2h0m0-2h0m2 2h0m1 0h0m1 0h0m1-2h0m2 2h0m3-1h0m2 0h0m2 0h0m0 1h0m2-2h0m1 2h0m4-1h0m2 1h0m1-2h0m5 2h0m2-2h0m3 0h0m3 2h0m0-1h0m2 1h0m1 0h0m1-1h0m2 1h0m2-1h0m1 0h0m2 1h0m9 0h0m2-2h0m0 2h0m7-2h0m22 1h0m27 1h0m5 3h0m0-1h0m-9 1h0m-1 0h0m-1-1h0m-1 0h0m0 1h0m-1 0h0m-7-1h0m-8 0h0m0 1h0m-3-2h0m-6 1h0m-2 0h0m-5-1h0m-1 1h0m-1 1h0m-13-1h0m-4-1h0m-1 2h0m-1-2h0m-1 1h0m-1 1h0m-4-2h0m-3 0h0m-1 2h0m-1-2h0m-1 1h0m0-1h0m0 2h0m-1 0h0m-1-1h0m-1 1h0m-1 0h0m0-1h0m-1 1h0m-1-1h0m0-1h0m-2 2h0m-2-1h0m0 1h0m-3 0h0m0-1h0m-1 1h0m-1 0h0m-1-1h0m0-1h0m-2 0h0m0 2h0m0-1h0m-1-1h0m-1 0h0m0 2h0m0-1h0m-1-1h0m0 2h0m-1 0h0m-1 0h0m-4-1h0m-1 0h0m-1 0h0m-1 1h0m-1-2h0m0 1h0m-2-1h0m-3 1h0m-1-1h0m0 1h0m-2 0h0m0-1h0m-1 1h0m-1 1h0m-2-2h0m0 2h0m-1 0h0m0-1h0m-1-1h0m0 2h0m-1-1h0m-1-1h0m-1 1h0m-2 1h0m-2-1h0m-4 0h0m0-1h0m-1 0h0m0 2h0m0-1h0m-2 1h0m-1-1h0m-2-1h0m-1 1h0m-4-1h0m-2 1h0m-1 1h0m-2 0h0m0-1h0m0-1h0m-1 0h0m-1 2h0m-2-2h0m0 2h0m-1-2h0m-1 0h0m-1 2h0m-1 0h0m-1-1h0m-1-1h0m-2 0h0m0 1h0m-1 1h0m0-2h0m-1 1h0m-1-1h0m0 1h0m-1 1h0m-1-1h0m0-1h0m-1 2h0m-1-2h0m-2 1h0m-1 1h0m-2 0h0m-2-1h0m-1 1h0m-1-1h0m-1 1h0m-1 0h0m-1-1h0m-5-1h0m-1 1h0m-2-1h0m0 2h0m-1-1h0m0 1h0m-1-2h0m0 1h0m-1 0h0m-1 0h0m-1 0h0m-1-1h0m0 1h0m-1 1h0m0-2h0m-2 0h0m0 2h0m-1-2h0m-1 1h0m0 1h0m-1 0h0m0-1h0m-1 0h0m-1-1h0m0 2h0m-1-2h0m0 1h0m-1-1h0m-1 2h0m-1-2h0m-1 0h0m0 2h0m0-1h0m-1-1h0m-1 2h0m-1 0h0m-1-1h0m-1 1h0m-1-2h0m-1 0h0m-3 0h0m0 2h0m-1-1h0m-1-1h0m-1 1h0m-1 1h0m-2-1h0m0-1h0m0 2h0m-1-1h0m-3 0h0m-1-1h0m-1 1h0m-1 0h0m-1 0h0m0-1h0m-1 0h0m-2 0h0m-1 0h0m0 1h0m-2-1h0m-3 0h0m0 2h0m-1-2h0m-3 0h0m-20 0h0m21 4h0m0 1h0m5-2h0m9 2h0m0-1h0m2 1h0m4 0h0m1-1h0m2-1h0m0 1h0m1 0h0m3 1h0m0-1h0m1-1h0m3 2h0m0-1h0m1 0h0m0 1h0m1 0h0m0-1h0m1 1h0m1-1h0m2-1h0m0 2h0m0-1h0m2-1h0m1 1h0m1 0h0m1 1h0m0-1h0m1 1h0m1 0h0m0-1h0m1-1h0m1 1h0m2 1h0m1-1h0m1 1h0m1-1h0m0-1h0m0 2h0m1 0h0m2-1h0m1 0h0m0-1h0m1 2h0m2-1h0m1 0h0m0-1h0m1 0h0m3 2h0m1-2h0m1 2h0m3-2h0m1 2h0m1-2h0m0 2h0m1-2h0m0 1h0m1 1h0m0-1h0m1 0h0m3-1h0m2 1h0m4 1h0m0-1h0m1 1h0m2 0h0m0-1h0m1 1h0m0-1h0m1-1h0m2 0h0m1 0h0m1 1h0m1-1h0m1 1h0m0-1h0m1 1h0m1 0h0m0 1h0m1-1h0m3 0h0m1-1h0m0 2h0m0-1h0m1 1h0m0-2h0m3 1h0m1-1h0m1 0h0m1 1h0m0-1h0m0 2h0m1 0h0m1-1h0m1 0h0m1 0h0m1 1h0m1-1h0m0 1h0m1-2h0m1 1h0m2 1h0m2-1h0m1 0h0m1 0h0m0-1h0m1 0h0m4 2h0m4-1h0m0-1h0m1 1h0m0 1h0m1-1h0m1 1h0m1-2h0m1 0h0m0 2h0m0-1h0m1-1h0m1 1h0m0 1h0m1 0h0m1-2h0m0 2h0m1-1h0m1 0h0m3 0h0m0 1h0m1 0h0m1-2h0m1 0h0m1 0h0m2 0h0m2 1h0m1 0h0m0 1h0m3 0h0m2-1h0m1 0h0m1 0h0m0 1h0m2-1h0m1 0h0m1 0h0m2 0h0m1 0h0m0 1h0m1 0h0m1-2h0m0 2h0m1-1h0m1-1h0m1 1h0m1 0h0m1 1h0m3-1h0m0 1h0m3-2h0m2 2h0m1-1h0m0 1h0m3-1h0m0-1h0m4 1h0m0 1h0m1 0h0m1-1h0m1 1h0m1 0h0m2-1h0m0-1h0m0 2h0m1-1h0m0 1h0m2-1h0m2-1h0m1 0h0m1 0h0m1 0h0m1 0h0m1 2h0m1 0h0m1-1h0m1-1h0m0 1h0m1 1h0m1 0h0m1 0h0m2-2h0m1 1h0m2-1h0m1 0h0m2 2h0m2 0h0m1-2h0m0 1h0m0 1h0m2-2h0m0 2h0m1-1h0m1 1h0m1-1h0m3 1h0m1 0h0m1-1h0m2 1h0m1 0h0m1-1h0m1 1h0m2-1h0m1 0h0m0 1h0m2-1h0m0 1h0m1 0h0m1 3h0m-1-2h0m0 1h0m-2-1h0m-1 0h0m0 2h0m-1 0h0m0-1h0m-1 0h0m0-1h0m-1 2h0m-1-1h0m0-1h0m-1 2h0m-1 0h0m0-1h0m-1 1h0m-2-2h0m0 2h0m-2-1h0m-1 1h0m0-1h0m-1 0h0m-1 1h0m-1-2h0m-1 2h0m0-1h0m-1-1h0m0 2h0m0-1h0m-1 1h0m-1-1h0m-1 0h0m-1 1h0m-1-2h0m0 1h0m-1 1h0m-1 0h0m0-1h0m0-1h0m-1 2h0m0-1h0m-2 1h0m-3-2h0m0 2h0m0-1h0m-1 1h0m0-1h0m-1 0h0m0 1h0m-1-2h0m0 2h0m-1-2h0m0 1h0m0 1h0m-1 0h0m-1-2h0m-1 0h0m-1 0h0m-1 2h0m0-1h0m-1 0h0m-1 0h0m-1-1h0m0 1h0m-1-1h0m0 2h0m0-1h0m-1-1h0m0 1h0m-1 0h0m-1-1h0m0 1h0m-1 1h0m-2 0h0m0-2h0m0 1h0m-1 0h0m-2-1h0m0 2h0m0-1h0m-1 0h0m-2 1h0m0-1h0m-1 0h0m-1 0h0m-1-1h0m-3 2h0m0-1h0m-2 0h0m-1 1h0m0-1h0m-1-1h0m0 2h0m-1-1h0m-1 1h0m-1 0h0m-1-2h0m-1 1h0m-1 1h0m0-2h0m-2 1h0m-2-1h0m0 1h0m0 1h0m-2-1h0m-1 0h0m0-1h0m-1 0h0m-3 2h0m-2-2h0m-1 2h0m0-1h0m-1 0h0m-1-1h0m-1 2h0m-1-2h0m-2 2h0m-1-2h0m0 2h0m-1-1h0m0-1h0m-1 0h0m0 1h0m-1 1h0m-2-1h0m-1 1h0m-1-1h0m-2 1h0m-2 0h0m-1 0h0m-1-1h0m0-1h0m-1 1h0m-1-1h0m-1 1h0m0 1h0m-3-1h0m0 1h0m-1-2h0m-1 0h0m0 2h0m-1-2h0m-1 2h0m-1 0h0m-1-1h0m-1 0h0m-1 1h0m-1 0h0m0-1h0m-1 1h0m0-2h0m-3 2h0m-3-2h0m-2 0h0m-1 2h0m-3-1h0m0-1h0m-2 2h0m-1-2h0m0 1h0m-1 0h0m-1 0h0m-1 0h0m-1-1h0m-1 2h0m-1-2h0m-1 2h0m-1-2h0m-1 2h0m-1-1h0m0 1h0m-2-2h0m-1 0h0m-2 1h0m0-1h0m-2 2h0m-1-1h0m-1 1h0m-1-1h0m-1 0h0m-2-1h0m0 2h0m-1-1h0m0-1h0m0 2h0m-1-1h0m-1 0h0m0-1h0m-1 1h0m0 1h0m-1-1h0m0-1h0m-1 1h0m-1 0h0m0 1h0m-2 0h0m-2 0h0m0-2h0m-1 2h0m-1-1h0m-1 0h0m-1 0h0m0-1h0m-1 0h0m-1 1h0m0 1h0m-1-1h0m0-1h0m-1 1h0m0-1h0m-2 0h0m0 2h0m-1-1h0m-1 1h0m-2 0h0m0-1h0m-1-1h0m-1 0h0m0 2h0m-1 0h0m0-2h0m-2 1h0m0 1h0m-1-1h0m0-1h0m-1 1h0m-1 1h0m-1-2h0m0 2h0m-1-2h0m-1 2h0m-1-1h0m0-1h0m-1 1h0m-1 0h0m0-1h0m-1 1h0m0 1h0m-1-2h0m-1 2h0m0-1h0m0-1h0m-2 1h0m0-1h0m0 2h0m-1 0h0m-1 0h0m-2 0h0m-1-1h0m-1-1h0m-1 1h0m-1-1h0m-1 0h0m-1 1h0m-1 0h0m-1-1h0m-8 2h0m-3-2h0m-1 2h0m-6-2h0m0 2h0m3 3h0m1-2h0m6 0h0m3 1h0m1 1h0m2 0h0m2-1h0m1 0h0m0-1h0m2 0h0m1 0h0m1 1h0m0-1h0m5 0h0m3 1h0m1-1h0m0 2h0m2-2h0m1 1h0m0-1h0m1 1h0m1-1h0m1 1h0m1 1h0m1 0h0m0-1h0m1-1h0m1 1h0m0 1h0m1-1h0m0 1h0m1-1h0m0 1h0m1-1h0m3 0h0m0-1h0m1 2h0m0-2h0m1 2h0m1-2h0m1 0h0m0 1h0m1 1h0m2-1h0m0 1h0m1 0h0m0-1h0m1 0h0m0-1h0m2 0h0m0 2h0m0-1h0m1 1h0m2-2h0m3 1h0m2-1h0m1 1h0m1 0h0m1 0h0m1 1h0m1 0h0m1-2h0m1 1h0m0 1h0m1-1h0m1-1h0m2 1h0m1 0h0m1-1h0m0 1h0m1 0h0m1 1h0m1 0h0m0-1h0m1-1h0m1 0h0m0 2h0m0-1h0m1 1h0m3-2h0m0 2h0m0-1h0m2-1h0m0 1h0m1 1h0m1-2h0m0 2h0m2-1h0m0 1h0m2 0h0m0-1h0m2 1h0m0-1h0m2-1h0m0 2h0m2-2h0m1 0h0m1 0h0m0 1h0m1 1h0m2 0h0m0-1h0m1 1h0m1-1h0m3-1h0m0 2h0m0-1h0m2-1h0m3 2h0m0-1h0m1-1h0m1 0h0m0 2h0m1-1h0m1 0h0m4 0h0m1 1h0m2-1h0m2 1h0m1 0h0m3-1h0m1 1h0m1-1h0m0 1h0m1-2h0m0 2h0m1-1h0m1 1h0m2 0h0m0-1h0m1-1h0m2 2h0m2-1h0m0-1h0m1 0h0m0 2h0m4-2h0m0 2h0m0-1h0m1 0h0m1 1h0m1-2h0m0 1h0m1 1h0m1 0h0m1-2h0m1 2h0m0-1h0m4-1h0m1 1h0m1 1h0m2-1h0m0-1h0m1 1h0m0-1h0m0 2h0m1 0h0m0-1h0m1-1h0m1 0h0m0 1h0m1-1h0m0 2h0m2-2h0m0 2h0m1-2h0m1 1h0m1 0h0m1-1h0m0 1h0m1-1h0m0 1h0m1 0h0m1-1h0m0 2h0m1 0h0m1-1h0m0 1h0m1 0h0m0-2h0m2 0h0m1 2h0m1 0h0m0-1h0m1 0h0m0 1h0m1-2h0m1 1h0m1 1h0m0-2h0m1 0h0m1 1h0m0-1h0m0 2h0m1 0h0m0-1h0m1 1h0m1-1h0m1-1h0m1 0h0m0 2h0m0-1h0m1 0h0m1-1h0m0 2h0m1-1h0m0-1h0m0 2h0m1-1h0m1 1h0m1-1h0m1 0h0m1 1h0m1-2h0m0 2h0m1-1h0m1 0h0m0 1h0m1-2h0m0 2h0m0-1h0m1-1h0m1 1h0m1 1h0m1-1h0m0-1h0m1 1h0m0-1h0m1 2h0m0-2h0m1 1h0m0 1h0m1-1h0m0 1h0m2-2h0m0 1h0m1 1h0m1-1h0m1 0h0m0 1h0m1 0h0m1 0h0m0-1h0m1 0h0m0-1h0m0 2h0m1-1h0m0 1h0m1-1h0m0-1h0m0 2h0m1 0h0m0-1h0m0-1h0m1 0h0m0 2h0m1 0h0m1-1h0m1 1h0m1-2h0m1 1h0m1-1h0m0 5h0m0-2h0m-1 0h0m0 2h0m-1-1h0m0 1h0m-1-2h0m-1 2h0m-1-2h0m0 1h0m-1 0h0m-1 0h0m-1-1h0m0 2h0m-1 0h0m-1-2h0m0 1h0m-1 0h0m0 1h0m-1-1h0m0 1h0m-1 0h0m0-2h0m-1 0h0m0 2h0m-1-2h0m-1 1h0m0-1h0m-1 1h0m0-1h0m-1 1h0m0-1h0m-2 1h0m0 1h0m-1-1h0m0 1h0m-1 0h0m-1-1h0m0 1h0m-1-1h0m0-1h0m-2 0h0m0 2h0m-1-2h0m-1 0h0m-1 1h0m0-1h0m-1 1h0m0-1h0m-1 1h0m-1 1h0m0-1h0m0-1h0m-1 2h0m-1-1h0m0-1h0m-2 2h0m-1-1h0m-1-1h0m0 2h0m-1-1h0m0-1h0m0 2h0m-1-1h0m0 1h0m-1-1h0m0-1h0m0 2h0m-1-1h0m-2 0h0m0-1h0m-1 0h0m-2 1h0m0 1h0m-1 0h0m-1 0h0m-2-1h0m-1-1h0m0 1h0m-1 0h0m0 1h0m-1-2h0m-1 2h0m-1 0h0m-1-2h0m-1 1h0m0-1h0m-1 1h0m0 1h0m-1-1h0m-1 0h0m-1 1h0m0-1h0m-1 1h0m-1-2h0m-1 0h0m-1 1h0m0 1h0m-1-1h0m0-1h0m-1 2h0m-1-1h0m0 1h0m-2 0h0m0-1h0m-1 0h0m0-1h0m0 2h0m-1-1h0m-1 0h0m0 1h0m-1-1h0m-1 0h0m0-1h0m-1 1h0m0-1h0m-1 0h0m0 2h0m-1-1h0m0-1h0m-1 0h0m-1 1h0m-1 0h0m0-1h0m-1 1h0m-1 0h0m-1 0h0m-2 0h0m-1 0h0m-1 0h0m-2-1h0m0 1h0m-1-1h0m0 1h0m-1-1h0m-1 0h0m-1 2h0m-4-1h0m0-1h0m-1 0h0m-3 1h0m-1 0h0m-1 1h0m-6-1h0m-1 0h0m-1 1h0m-3-1h0m-8-1h0m-4 0h0m-1 2h0m-2-2h0m0 2h0m-1 0h0m-1-2h0m0 1h0m-2-1h0m-3 2h0m-1-2h0m-1 1h0m0 1h0m-2-2h0m-1 1h0m-2-1h0m-4 1h0m-1-1h0m-2 1h0m-2 0h0m-5-1h0m0 1h0m-1-1h0m-1 2h0m-2 0h0m-3-2h0m-1 2h0m-2 0h0m-1-2h0m0 1h0m-4 1h0m0-1h0m-1-1h0m0 1h0m-1-1h0m0 2h0m0-1h0m-2-1h0m0 1h0m-1-1h0m-4 1h0m-1-1h0m-1 1h0m-1-1h0m0 1h0m-1-1h0m-7 2h0m-1-2h0m-2 0h0m0 1h0m-6 1h0m0-1h0m-1-1h0m0 2h0m-2-1h0m-1-1h0m0 1h0m-2 1h0m-2-1h0m-3 0h0m-2 1h0m4 1h0m10 2h0m1 0h0m5-2h0m2 2h0m5-2h0m0 1h0m6-1h0m1 0h0m2 0h0m3 0h0m2 0h0m3 1h0m3-1h0m1 1h0m1-1h0m0 2h0m5-1h0m9-1h0m0 1h0m7 0h0m2 1h0m0-1h0m0-1h0m4 0h0m1 1h0m3 0h0m4-1h0m0 2h0m1-1h0m3 0h0m2-1h0m6 1h0m3 1h0m1-1h0m1 0h0m9 1h0m7-2h0m2 2h0m1-2h0m1 1h0m1-1h0m0 2h0m0-1h0m1 1h0m3 0h0m1-2h0m2 0h0m2 1h0m0-1h0m0 2h0m8-2h0m1 1h0m0-1h0m1 1h0m2-1h0m0 2h0m1-2h0m0 1h0m1-1h0m1 1h0m0 1h0m2-2h0m1 0h0m0 2h0m1-1h0m0-1h0m1 2h0m1-1h0m1 0h0m0-1h0m1 1h0m0 1h0m1 0h0m1-1h0m1 1h0m1 0h0m0-2h0m1 1h0m0 1h0m1-2h0m0 1h0m0 1h0m2-1h0m0 1h0m2-2h0m1 0h0m0 1h0m3 0h0m1 0h0m1 1h0m1-1h0m0 1h0m1 0h0m0-2h0m1 2h0m0-1h0m0-1h0m1 1h0m1 1h0m0-2h0m1 0h0m1 0h0m1 1h0m1-1h0m0 2h0m2-2h0m0 1h0m1 0h0m1 1h0m1-1h0m3 1h0m1 0h0m0-1h0m1-1h0m1 0h0m1 2h0m1 0h0m1-2h0m0 2h0m0-1h0m1-1h0m1 2h0m1-2h0m1 0h0m0 2h0m1 0h0m1-2h0m0 2h0m1-1h0m0-1h0m1 2h0m0-1h0m2-1h0m1 2h0m0-2h0m1 0h0m1 2h0m0-1h0m0-1h0m1 1h0m1 0h0m1-1h0m0 2h0m2-1h0m1-1h0m1 2h0m3 3h0m-3 0h0m-1 0h0m-2-2h0m-1 1h0m-1-1h0m-1 2h0m-3-1h0m0-1h0m-1 0h0m-1 0h0m-1 0h0m-1 0h0m0 1h0m-1 1h0m0-1h0m-4 1h0m0-1h0m-2 0h0m-5 1h0m-1 0h0m0-1h0m-3-1h0m0 2h0m-2 0h0m-1-2h0m-1 0h0m-1 0h0m-1 2h0m0-1h0m-1 0h0m-1-1h0m0 2h0m-1-1h0m-1 1h0m0-1h0m0-1h0m-1 2h0m0-1h0m-2-1h0m-1 2h0m-2-1h0m-2 0h0m-2 1h0m-1 0h0m0-1h0m-2 0h0m-2-1h0m-3 1h0m-1-1h0m0 2h0m-3-2h0m-1 0h0m-1 0h0m0 1h0m-4 1h0m0-2h0m0 1h0m-1-1h0m-1 2h0m-1-1h0m0-1h0m-1 0h0m-1 0h0m-1 2h0m0-1h0m-4 0h0m0 1h0m-1-1h0m-1 1h0m-4-2h0m-1 1h0m-1 1h0m0-1h0m0-1h0m-1 2h0m-2-2h0m-2 1h0m-5 1h0m-5-1h0m-5 1h0m-7-2h0m-13 1h0m-7-1h0m-3 2h0m-4-2h0m-6 1h0m-3 1h0m-2-2h0m-1 2h0m-6 0h0m-2-1h0m0-1h0m-10 0h0m0 2h0m-2-2h0m-1 1h0m-3-1h0m-1 0h0m-4 1h0m-1-1h0m-2 0h0m-2 0h0m-2 3h0m5 2h0m5-1h0m1-1h0m0 1h0m16-1h0m6 2h0m0-1h0m6 0h0m6 0h0m22 1h0m32-1h0m1 1h0m23-1h0m1 0h0m1 1h0m0-2h0m2 1h0m4-1h0m0 2h0m0-1h0m1-1h0m2 2h0m2-1h0m0-1h0m2 0h0m1 2h0m1-1h0m1 1h0m1-1h0m5 1h0m2-1h0m2 0h0m3-1h0m0 2h0m4-2h0m1 1h0m3 0h0m1-1h0m6 1h0m3 0h0m3 0h0m1-1h0m3 1h0m2-1h0m0 2h0m2 0h0m5-2h0" stroke="#ee8a1c" stroke-width="2.6" stroke-opacity="0.55" stroke-linecap="round"/>
<path d="M1049.2 1649.4L1055.2 1649.9L1061.3 1650.5L1067.3 1651L1073.3 1651.6L1079.4 1652.3L1085.4 1653.1L1091.4 1654.1L1097.5 1655.3L1103.5 1656.5L1109.5 1657.8L1115.6 1659.1L1121.6 1660.4L1127.6 1661.7L1133.6 1663L1139.7 1664.2L1145.7 1665.4L1151.7 1666.7L1157.8 1667.9L1163.8 1669.1L1169.8 1670.4L1175.9 1671.7L1181.9 1673L1187.9 1674.4L1194 1675.8L1200 1677.2L1206 1678.7L1212.1 1680.3L1218.1 1681.9L1224.1 1683.5L1230.2 1685.1L1236.2 1686.8L1242.2 1688.6L1248.3 1690.4L1254.3 1692.3L1260.3 1694.2L1266.4 1696.2L1272.4 1698.3L1278.4 1700.4L1284.5 1702.6L1290.5 1704.9L1296.5 1707.5L1302.5 1710.2L1308.6 1713L1314.6 1715.9L1320.6 1718.8L1326.7 1721.7L1332.7 1724.7L1338.7 1727.8L1344.8 1731L1350.8 1734.1L1356.8 1736.9L1362.9 1739.2L1368.9 1741L1374.9 1742.8L1381 1744.5L1387 1746L1393 1747.3L1399.1 1748.1L1405.1 1748.4L1411.1 1748.5L1417.2 1748.6L1423.2 1748.7L1429.2 1748.7L1435.3 1748.8L1441.3 1748.8L1447.3 1748.8L1453.4 1748.9L1459.4 1748.9L1465.4 1748.9L1471.4 1749L1477.5 1749.1L1483.5 1749.2L1489.5 1749.5L1495.6 1750.1L1501.6 1750.9L1507.6 1751.6L1513.7 1752.7L1519.7 1753.7L1525.7 1753.9L1531.8 1753.9L1537.8 1753.9L1543.8 1753.9L1549.9 1753.9L1555.9 1753.9L1561.9 1753.9L1568 1753.9L1574 1753.9L1580 1753.9L1586.1 1753.9" fill="none" stroke="#ef8a1a" stroke-width="3.2" />
<path d="M1082.4 1652.5L1088 1653.7L1093.7 1655L1099.3 1656.3L1105 1657.5L1110.7 1658.8L1116.3 1660L1122 1661.3L1127.6 1662.5L1133.3 1663.7L1139 1664.9L1144.6 1666L1150.3 1667.1L1155.9 1668.2L1161.6 1669.3L1167.3 1670.4L1172.9 1671.5L1178.6 1672.7L1184.2 1673.8L1189.9 1675L1195.6 1676.3L1201.2 1677.6L1206.9 1678.9L1212.5 1680.4L1218.2 1681.8L1223.8 1683.3L1229.5 1684.9L1235.2 1686.5L1240.8 1688.1L1246.5 1689.8L1252.1 1691.6L1257.8 1693.4L1263.5 1695.2L1269.1 1697.1L1274.8 1699.1L1280.4 1701.1L1286.1 1703.2L1291.8 1705.4L1297.4 1707.8L1303.1 1710.4L1308.7 1713.1L1314.4 1715.8L1320.1 1718.5L1325.7 1721.2L1331.4 1724.1L1337 1727.2L1342.7 1730.4L1348.4 1733.5L1354 1736.4L1359.7 1738.8L1365.3 1740.7L1371 1742.3L1376.7 1743.9L1382.3 1745.3L1388 1746.6L1393.6 1747.6L1399.3 1748.2L1405 1748.4L1410.6 1748.4L1416.3 1748.4L1421.9 1748.4L1427.6 1748.4L1433.3 1748.4L1438.9 1748.4L1444.6 1748.4L1450.2 1748.4L1455.9 1748.4L1461.5 1748.4L1467.2 1748.4L1472.9 1748.4L1478.5 1748.4L1484.2 1748.4L1489.8 1748.9L1495.5 1750L1501.2 1751.2L1506.8 1752.3L1512.5 1753.3L1518.1 1754.3L1523.8 1754.7L1529.5 1754.6L1535.1 1754.4L1540.8 1754.2L1546.4 1754L1552.1 1753.9L1557.8 1753.9L1563.4 1753.9L1569.1 1753.9L1574.7 1753.9L1580.4 1753.9L1586.1 1753.9" fill="none" stroke="#1f9a8a" stroke-width="2.8" />
<rect x="1055.5" y="1814.8" width="12.3" height="11.5" fill="#29a3dc" />
<rect x="1055.5" y="1836.8" width="12.3" height="13" fill="#c8c8c8" />
<text x="1080" y="1826.3" font-size="20.6">Padj&lt;4.83e-03</text>
<text x="1080" y="1849.8" font-size="20.6">Padj&gt;0.05</text>
<text x="1030" y="1858.5" font-size="20.3" text-anchor="end">0.04</text>
<path d="M1038.5 1851.5L1041.5 1851.5" stroke="#333" stroke-width="1.2" />
<text x="1030" y="1893.5" font-size="20.3" text-anchor="end">0.00</text>
<path d="M1038.5 1886.5L1041.5 1886.5" stroke="#333" stroke-width="1.2" />
<text x="1030" y="1928.5" font-size="20.3" text-anchor="end">-0.04</text>
<path d="M1038.5 1921.5L1041.5 1921.5" stroke="#333" stroke-width="1.2" />
<path d="M1038.5 1869L1041.5 1869" stroke="#333" stroke-width="1.2" />
<path d="M1038.5 1904L1041.5 1904" stroke="#333" stroke-width="1.2" />
<text transform="translate(971,1888) rotate(-90)" font-size="20.6" text-anchor="middle">Δ expression</text>
<path d="M1080 1886.5L1080 1918L1085 1916.2L1100 1911L1130 1905.8L1160 1900.5L1200 1894.4L1241 1886.5L1265 1883L1290 1876.9L1290 1886.5Z" fill="#c8c8c8" />
<path d="M1290 1886.5L1290 1876.9L1292.5 1876.2L1295 1875.5L1297.5 1874.9L1299.9 1874.3L1302.4 1873.7L1304.9 1873.2L1307.4 1872.7L1309.9 1872.3L1312.4 1871.9L1314.9 1871.4L1317.3 1870.9L1319.8 1870.4L1322.3 1869.8L1324.8 1869.1L1327.3 1868.2L1329.8 1867L1332.3 1865.6L1334.7 1864.1L1337.2 1862.7L1339.7 1861.4L1342.2 1860.4L1344.7 1859.5L1347.2 1858.7L1349.7 1858L1352.1 1857.3L1354.6 1856.7L1357.1 1856.2L1359.6 1855.9L1362.1 1855.7L1364.6 1855.5L1367.1 1855.3L1369.5 1855.1L1372 1855L1374.5 1855L1377 1855L1379.5 1855.1L1382 1855.3L1384.5 1855.5L1386.9 1855.8L1389.4 1856.1L1391.9 1856.4L1394.4 1856.7L1396.9 1857L1399.4 1857.5L1401.9 1858L1404.3 1858.6L1406.8 1859.2L1409.3 1859.8L1411.8 1860.4L1414.3 1861L1416.8 1861.5L1419.3 1862.1L1421.7 1862.6L1424.2 1863.1L1426.7 1863.5L1429.2 1863.7L1431.7 1863.7L1434.2 1863.7L1436.7 1863.6L1439.1 1863.4L1441.6 1863.2L1444.1 1863L1446.6 1862.7L1449.1 1862.1L1451.6 1861.3L1454.1 1860.4L1456.5 1859.3L1459 1857.7L1461.5 1855.9L1464 1854L1466.5 1852.1L1469 1849.9L1471.5 1848.2L1473.9 1847.4L1476.4 1846.7L1478.9 1846.3L1481.4 1846.5L1483.9 1847.7L1486.4 1849.1L1488.9 1850.6L1491.3 1852.4L1493.8 1854.4L1496.3 1856.3L1498.8 1858.2L1501.3 1860.1L1503.8 1861.9L1506.3 1863.8L1508.7 1865.8L1511.2 1867.9L1513.7 1870.2L1516.2 1872.8L1518.7 1875.2L1521.2 1877.2L1523.7 1878.8L1526.1 1880.4L1528.6 1881.9L1531.1 1883.1L1533.6 1883.8L1536.1 1883.9L1538.6 1883.9L1541.1 1883.9L1543.5 1883.9L1546 1883.8L1548.5 1883.3L1551 1882.5L1553.5 1881.4L1556 1880.4L1558.5 1879.3L1560.9 1878.2L1563.4 1876.9L1565.9 1875.6L1568.4 1874.2L1570.9 1872.9L1573.4 1871.6L1575.9 1870.2L1578.3 1868.8L1580.8 1867.4L1583.3 1866L1585.8 1864.6L1585.8 1886.5Z" fill="#29a3dc" />
<path d="M1209.1 1923.3L1209.1 1927" stroke="#333" stroke-width="1.2" />
<text x="1209.1" y="1944.3" font-size="20.6" text-anchor="middle">20</text>
<path d="M1367 1923.3L1367 1927" stroke="#333" stroke-width="1.2" />
<text x="1367" y="1944.3" font-size="20.6" text-anchor="middle">40</text>
<path d="M1524.9 1923.3L1524.9 1927" stroke="#333" stroke-width="1.2" />
<text x="1524.9" y="1944.3" font-size="20.6" text-anchor="middle">60</text>
<text x="1316" y="1961.8" font-size="20.6" text-anchor="middle">Pseudotime</text></svg></body></html>
